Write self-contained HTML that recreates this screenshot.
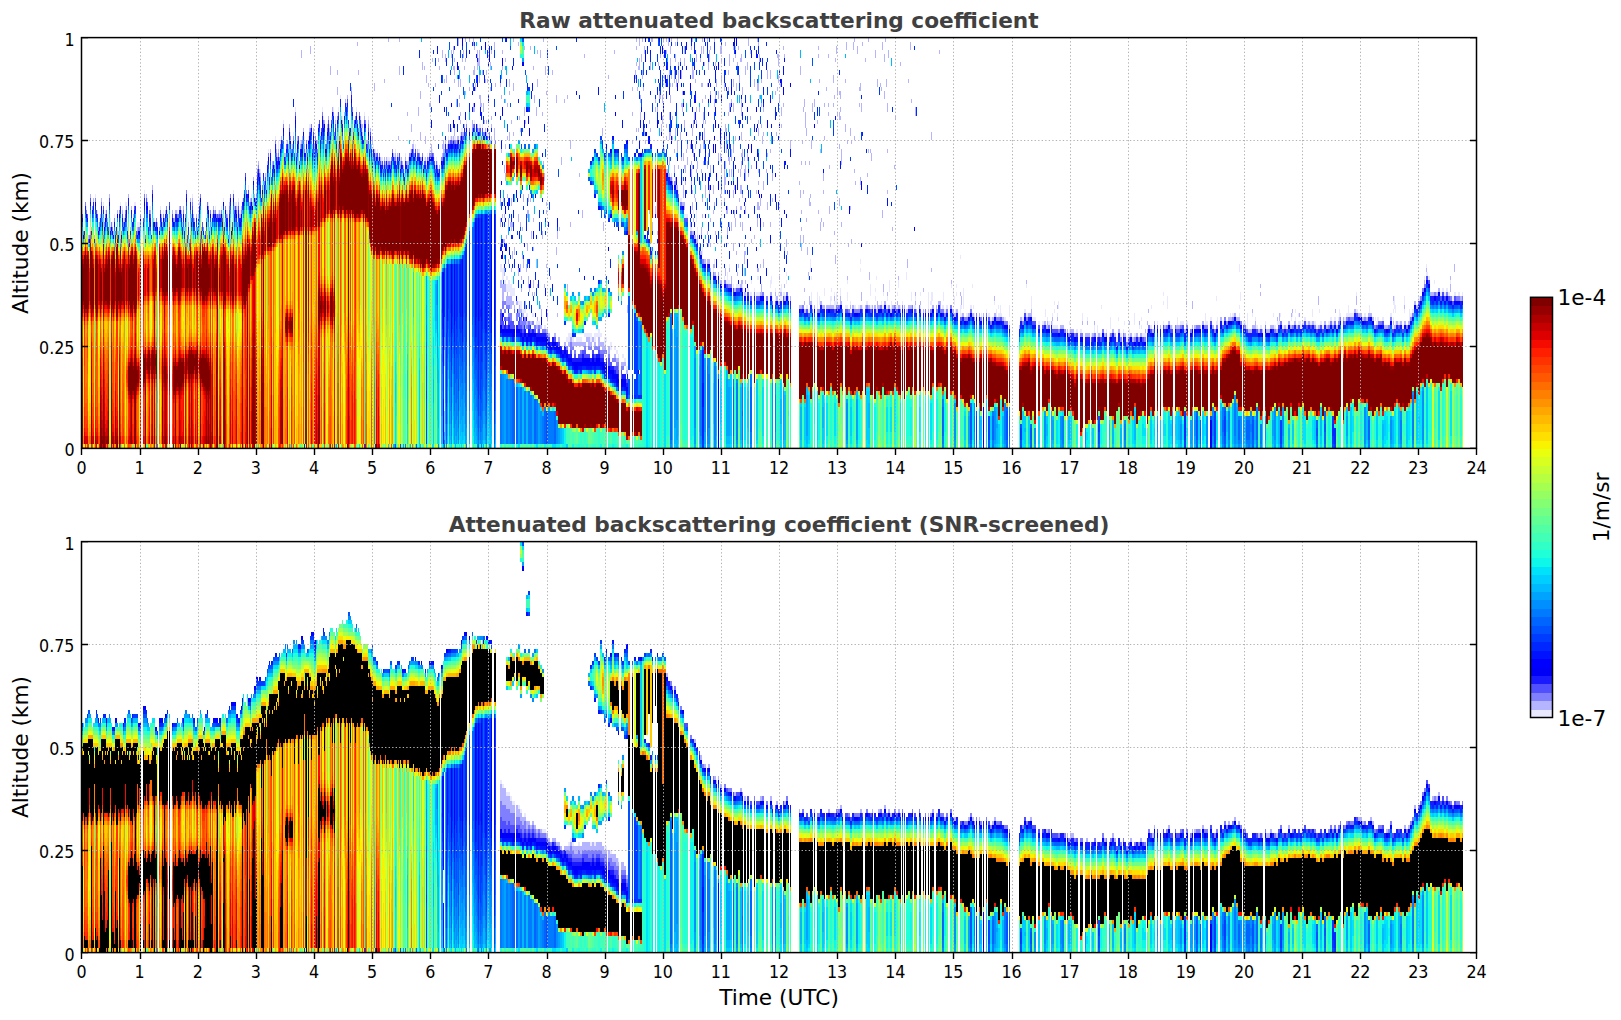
<!DOCTYPE html>
<html><head><meta charset="utf-8"><title>Attenuated backscattering coefficient</title>
<style>html,body{margin:0;padding:0;background:#fff}svg{display:block}</style></head>
<body>
<svg width="1621" height="1020" viewBox="0 0 1621 1020">
<rect width="1621" height="1020" fill="#fff"/>
<g transform="translate(82.5 37.600) scale(1 4.1080)" fill="none" stroke-width="1.02" shape-rendering="crispEdges">
<path stroke="#e8e8ff" d="M0 42v1m1 3v1m1-1v1m2-6v1m3 4v2m6-10v1m2 3v1m1 2v1m1-2v1m3-3v1m1-3v1m1 3v1m1-3v1m1-2v1m2 3v1m2-2v2m2-1v1m2-3v1m1 2v1m1-2v1m3-5v1m1-2v1m1 5v1m1-6v1m1 2v1m2-5v2m1-2v1m1 4v1m2 2v1m5-9v1m1-1v1m1 5v1m1-2v1m1-1v1m1-1v1m5-9v1m1 9v1m2-9v1m1 5v1m1-5v1m1-1v1m1 5v1m3-4v1m6-4v1m3 0v1m4-1v1m10-1v1m5 1v1m2 0v1m3 1v1m1-4v1m4-7v1m3 7v1m3-5v1m1-4v1m9 0v1m3 3v1m4-4v1m3 0v1m2-1v1m1-2v1m2-3v1m3 2v1m1-1v1m1 4v1m1-9v1m2 5v1m1-2v1m1-8v1m1 2v1m1-1v1m1-1v1m1 0v4m1-6v1m1 2v1m1-1v1m2-4v1m1-2v1m1-3v1m4-1v1m3 1v1m5-2v1m1-7v1m3 0v1m1 5v1m1-4v1m2-2v1m2-2v3m2-9v1m3 5v1m3-4v1m1-7v1m1 1v1m1 1v1m1-4v2m2-2v1m3-6v1m3 4v1m4-3v1m1 2v1m2-4v1m1 3v1m1-11v1m1 9v1m4-3v1m4-2v2m1 1v1m2-2v1m1-3v1m1-4v1m1-1v1m5 1v1m2 2v1m3-4v1m2-7v1m1 1v1m3 4v1m3-4v1m1 0v1m1-4v1m2-3v1m2 1v1m1 2v2m1-6v1m1-2v1m1 5v1m1-10v1m2 4v1m1 4v1m6-4v1m1-1v1m6-5v1m5 2v1m1 1v1m1 1v1m1-7v1m4 0v1m1 5v1m3 1v1m1-2v1m2 0v1m2-1v1m4 1v1m1-1v1m5-1v1m1-1v1m1-1v1m5-2v1m1-2v1m1 1v1m2-2v1m2 0v1m4 2v1m1-5v1m3 0v1m2-3v1m3-3v1m2 0v1m3 0v1m1-1v1m5 1v1m2 0v1m1-3v1m2-2v1m3-1v1m2 1v1m2-1v1m1 0v1m7 49v11m0-65v1m2-1v1m2-3v1m2-1v1m2-1v1m2-1v1m1-1v1m4 0v1m1-3v1m1-2v1m1-1v1m3-1v1m1-3v1m8-1v1m1 1v1m4-2v1m1-1v1m1 1v1m1-3v1m5 1v1m1 1v1m6-1v1m6 29v2m1-2v2m1-1v3m1-3v3m1 0v1m1-1v1m1 0v2m0-4v1m1 1v2m0-4v1m1 0v3m1-3v3m1-2v3m1-3v3m1-2v2m1-2v2m1-2v2m4 1v1m1-1v1m1-1v2m1-2v2m1 0v1m1-1v1m1-1v1m1-1v1m1 0v1m1-1v1m5-1v1m1-1v1m3 1v1m1-1v1m1-1v1m1-1v1m5 0v1m1-1v1m21 2v1m1-1v1m3-2v1m1-1v1m5 0v1m1-1v1m1-1v1m1-1v1m5-2v1m1-1v1m13-2v2m1-2v2m1-1v1m1-1v1m3 0v2m1-2v2m1-2v1m4 0v2m1-2v2m3-1v1m1-1v1m3 1v1m4-1v1m1-1v1m3 2v1m1-1v1m42-50v1m2 1v1m1 0v1m6 2v1m2 1v1m1-1v1m1-6v2m2 7v1m1-1v1m1-1v1m1-1v1m3 2v1m1-1v1m2-5v1m3-1v3m1 1v2m2 2v1m3 0v2m11 3v1m1-3v1m7 2v1m3 0v1m2 0v1m1-3v3m1-1v1m1-1v1m0-5v1m4 4v1m3-1v1m1-1v1m1-1v1m1-1v1m3-1v1m5 0v1m1-1v1m2 0v1m1-1v1m0-4v1m3 1v1m2 0v1m1-1v1m0-5v1m1 3v1m0-5v1m1 3v1m11-4v2m1-3v2m1 3v1m3-1v1m0-3v1m3 0v1m1-7v1m1 6v1m0-3v1m1 1v1m0-4v2m2 0v1m1-1v1m2-4v1m0-3v1m20 7v1m1-1v1m1 0v1m0-9v1m1 7v1m1-13v3m1 5v2m0-6v1m1 6v1m5-4v4m2-3v2m5-4v2m6 0v2m1-2v1m0-3v1m3 2v2m0-4v1m1 1v2m1-4v3m1-1v1m3-4v2m5 2v1m1-1v1m1-1v1m0-4v2m0-5v1m3 6v1m0-3v1m1 1v1m3-2v1m1-1v1m3-1v1m1-1v1m1-10v1m0-3v1m2 10v1m4-2v1m1-1v1m3 0v1m0-6v3m1 2v1m4-3v1m0-3v1m1-4v1m5 5v1m1 0v1m1-1v1m0-4v1m3 2v1m1-1v1m0-3v1m2-5v3m2 2v2m5-1v1m1-1v1m0-4v1m1-4v2m2 4v1m2-2v1m4-8v2m5 3v2m3 1v1m1-1v1m0-3v1m5 1v1m0-4v1m8-1v4m2-2v1m1-3v3m1-3v2m10 1v1m1-1v1m0-4v2m8-4v1m2 0v2m1 0v2m1 1v1m1-5v1m0-3v1m4 4v3m0-15v1m1 13v1m0-3v1m2-5v5m9-6v1m1 4v1m1 1v1m7-1v1m5-2v1m8-3v1m2 1v2m2-1v1m0-3v1m1 1v1m1-3v3m1-1v1m8 1v1m0-5v3m17-1v1m0-8v1m1 6v1m4-5v3m14 0v2m2 0v1m5 0v2m0-4v1m1 2v1m1-1v1m0-5v1m0-3v1m1 5v1m1-1v1m1-1v1m0-4v1m1-4v2m11 5v1m0-3v1m13-3v2m5-1v1m4 3v1m3-3v2m3-2v3m3-1v1m1-1v1m0-8v1m5 5v1m3 0v1m1-5v3m8-3v1m5 2v1m1-3v1m4 2v1m1-2v2m5-1v1m0-6v3m1 2v1m4-3v1m2-1v1m0-3v1m3 3v1m1-1v1m5-3v1m1-1v1m0-6v1m6 3v1m6-1v1m0-6v1m0-3v1m4 0v3m5 4v1m5-3v2m9-1v1m0-11v4m1 6v1m18-3v3m11-1v1m0-7v1m1 4v2m13-3v1m9-1v1m0-3v1m0-11v2m1 5v2m3 5v1m3 0v1m1-4v4m5-4v1m3 0v1m5 1v1m1-1v1m4-2v1m8-3v1m4 1v1m1-1v1m1-1v1m1-3v1m11 0v1m1-2v1m3 0v1m0-3v1m3 2v1m0-3v1m1 1v1m1-1v2m1-1v1m11-5v2m7-2v1m15 1v1m1-1v1m3-1v1m1-3v2m1-1v1m8-3v3m1-1v1m7-2v1m0-5v1m1 3v1m12-2v2m6 1v1m1 0v1m1-2v2m1-2v1m14 1v1m1-1v1m0-3v1m0-3v1m0-3v1m1-2v3m1 3v1m0-5v2m9-1v1m0-4v2m5 1v3m15-11v1m2-2v1m0-3v1m1 1v1m7 1v1m16-1v1m4 2v1m1-1v1m7-1v1"/>
<path stroke="#b4b4ff" d="M6 48v1m2-11v1m1 7v1m2-8v1m1 8v1m6-6v1m1-5v1m1 3v1m5 0v1m2-7v1m4 8v1m4-6v1m1 4v1m4-6v1m2 1v1m3 1v1m1-9v1m2 7v1m1-6v1m2 1v1m4 2v1m9-9v1m4 3v1m2-7v1m1 7v1m4 0v1m4-3v1m1 1v1m3-4v1m7-1v1m2 1v1m1-3v1m1-1v1m3-2v1m2 0v1m1 2v1m1-5v1m1 4v1m4-2v1m1 3v1m1-11v1m1 3v1m1-5v1m1 3v1m1 0v1m2-2v1m2-1v1m1-4v1m2 5v1m8-1v1m2-2v1m1-3v1m1-3v1m1 0v1m5-1v1m3 0v1m2 1v1m3-3v1m2-4v1m2 5v1m3-6v1m2-1v1m2-2v1m1 2v1m1-1v1m1-3v1m8-2v1m1-2v1m2 0v1m1-7v1m1 3v1m4-9v1m1 1v1m1 0v1m5-1v1m1 2v1m1-7v1m2 2v1m1-7v1m2 2v1m4-4v1m2-1v1m3-4v1m3 3v1m1-1v1m2-4v1m1 0v1m1-6v1m3 4v1m5-3v1m3 1v1m1-2v1m0-23v2m1 19v1m1-3v1m1 3v1m3 0v1m2-6v1m1-21v2m2 22v1m1-5v1m1 3v1m3-2v1m7-6v1m2 4v1m1-5v1m1-3v1m1 2v1m1-16v2m2 8v1m3 2v1m1 3v1m1-13v2m0-6v1m4 10v1m1 0v1m2-3v1m1-4v1m1 0v1m1-3v1m4-3v1m2 9v1m4-22v1m1 6v1m2 10v1m1 1v1m1 1v1m0-3v1m2-3v1m2 5v1m1-1v1m1-6v1m1 5v1m1-5v1m1 3v1m1 1v1m0-5v2m2 1v1m0-17v2m1 15v1m3 0v1m2-1v1m1 0v1m2 0v1m1-3v1m0-20v1m1 19v1m1-2v1m1 0v1m1-31v1m2 29v1m3-3v1m2-1v1m1 1v1m1-3v1m1-5v1m1-18v2m0-9v1m1 29v1m1-2v1m1 0v1m1 0v1m1 1v1m1-5v1m2 0v1m0-13v1m1 11v1m3-10v2m1 3v1m1-1v1m3 2v1m1-3v1m1-11v2m2 4v2m0-12v2m1 14v1m1-24v2m2-1v1m1 21v1m0-6v2m1 5v1m0-23v2m2 18v1m0-19v1m1 4v1m1-1v1m1 9v2m1-23v1m1 18v1m2 6v1m0-21v1m3-7v1m1 25v1m0-25v1m3 20v1m0-3v1m0-24v2m1 20v3m1 63v5m0-20v4m0-53v1m0-18v1m1 14v1m0-22v2m1 3v2m1 15v1m1-6v2m1 2v1m2-2v1m0-3v1m0-20v2m2 19v1m0-18v1m0-6v2m1 18v2m0-14v1m0-4v2m0-4v1m2 19v1m0-11v2m1 7v1m1-1v1m0-6v1m0-10v2m0-12v2m1 14v1m0-3v1m1 5v1m0-3v1m0-9v2m2 11v1m0-19v1m1 17v1m0-21v2m1 16v1m0-15v1m1 5v1m0-9v1m0-6v1m4 11v1m0-13v1m3 19v2m0-11v1m1 4v2m0-10v1m0-9v2m1 15v1m0-11v2m0-7v1m1 8v2m1 10v1m1-3v1m0-16v2m0-5v2m1 17v1m0-18v2m1 7v1m0-6v2m0-8v4m1 7v3m1-1v1m1-9v1m1 7v2m1 2v1m1 1v1m0-13v1m1 12v1m0-4v1m0-13v1m1 1v1m3 14v1m0-14v1m0-7v2m1 16v1m0-4v1m0-3v1m0-17v1m3 18v3m0-24v2m1 8v1m5 47v2m0-11v1m0-7v2m0-7v2m0-30v1m1 47v2m0-34v1m0-14v1m1 45v4m0-21v1m0-37v1m0-5v1m1 56v4m0-15v1m0-11v1m1 20v2m0-6v2m0-9v1m0-7v1m0-13v2m1 27v2m0-29v2m0-9v1m0-12v1m0-11v1m1 57v2m0-17v1m1 13v3m0-27v1m0-15v1m0-9v1m1 46v2m0-11v1m0-11v2m1 17v2m0-42v2m0-12v1m0-4v2m1 51v3m0-21v1m1 17v3m0-10v1m0-12v2m0-8v2m0-21v1m1 43v1m0-13v2m0-9v1m1 18v1m0-42v1m0-13v2m0-13v1m1 64v1m0-15v2m2 11v1m1-1v1m1 1v1m0-11v2m0-15v2m0-44v1m1 63v2m0-48v1m1 46v1m0-12v2m0-12v1m0-24v1m1 43v1m0-6v1m0-4v1m1 8v1m0-15v1m0-8v1m1 20v1m0-14v2m0-18v2m1-23v2m0-17v1m1 67v1m0-7v2m0-46v1m1 48v1m0-15v2m1 12v1m0-20v2m0-10v2m1 14v3m0-19v1m0-5v2m1 21v1m0-19v2m1 24v1m0-31v1m0-38v1m1 66v1m0-23v2m1 13v1m1-4v2m0-10v1m0-8v1m0-38v1m1 54v1m0-49v2m2 54v1m0-17v2m0-39v2m1 51v2m0-4v1m0-9v1m0-51v2m0-9v1m3 66v1m0-6v1m0-63v2m1 65v1m0-5v2m1-21v2m0-31v1m1 11v1m0-31v1m1 59v1m0-28v2m1-28v2m1 62v1m0-17v1m0-14v1m0-3v1m0-28v1m1 57v1m0-5v2m1 3v1m1-1v1m1-15v1m2-51v1m4 42v2m0-39v2m1 51v1m0-21v2m1 24v1m1-1v1m0-28v1m2-18v2m3 43v1m0-60v1m1 58v1m2-15v2m0-48v1m3 58v1m0-29v1m0-21v2m1 46v1m5 0v1m1-1v1m1-1v1m1-1v1m0-42v1m3 40v1m0-33v2m1 30v1m1-1v1m0-71v1m1 69v1m7-2v1m1-1v1m5-1v2m1-2v2m1-1v1m1-1v1m1-1v2m0-54v2m1 50v2m0-31v2m1 28v1m1-1v1m3-1v2m0-68v1m1 65v2m5 0v1m0-75v1m1 73v1m3 0v1m3 0v1m1-1v1m1-1v1m3 1v1m1-1v1m0-17v2m5-42v1m0-8v1m0-7v1m3-5v2m1 12v1m0-17v1m0-5v1m0-3v1m1 11v1m1 9v1m0-16v1m1-3v3m0-8v2m1 16v2m0-6v2m1-12v2m1 2v2m0-10v1m1 11v1m1 9v2m0-22v2m1 21v1m4 16v1m0-23v1m1 1v1m0-17v2m1 43v1m0-52v1m1 44v2m0-47v1m3 40v2m0-26v1m0-3v1m2 31v1m0-31v1m1-12v1m1 6v2m1-1v1m0-11v1m1 16v2m1-4v2m0-7v2m1-16v1m1 26v1m0-19v1m1 1v1m1 20v1m0-9v1m0-4v1m0-19v1m0-4v1m1 31v1m0-24v1m1 23v1m0-34v2m1 31v1m0-5v2m0-8v2m0-7v2m0-12v1m1 14v1m0-10v2m0-5v1m0-7v2m0-5v2m1 5v1m0-10v1m1 23v1m0-6v1m0-9v1m2 19v2m0-6v1m0-20v3m1 23v1m0-13v2m0-20v2m0-5v1m1 34v1m0-27v2m1 24v1m0-12v3m0-28v1m1 30v1m0-24v3m0-5v1m2 16v2m0-20v1m1 23v1m0-14v1m0-9v2m1 30v1m0-25v2m0-5v1m1 26v1m0-5v3m0-11v2m1 10v2m0-11v1m0-12v2m0-17v2m0-5v2m1 31v1m0-5v2m1-6v1m1 1v2m0-5v1m3 18v1m0-20v1m1 8v1m0-4v2m0-4v1m0-29v1m1 44v1m0-8v2m0-5v1m0-7v1m0-10v2m0-17v3m0-10v1m1 46v1m0-4v1m0-18v2m0-9v2m0-14v2m1 38v1m0-11v1m0-21v2m1 28v1m0-10v1m0-14v1m0-17v1m1 38v1m0-18v1m0-13v1m0-4v1m0-14v2m1 42v2m0-20v2m2-15v1m1 34v1m0-27v2m0-4v1m0-20v1m1 46v1m0-7v2m0-16v1m0-22v1m0-10v2m1 39v1m0-5v1m0-25v1m0-5v1m0-12v1m1 29v1m0-6v2m0-9v3m0-19v2m1 50v1m0-33v3m0-19v1m1 47v1m0-19v3m0-19v1m0-7v1m2 39v1m0-8v1m0-18v2m0-21v1m0-12v1m1 53v1m0-5v1m0-23v1m0-23v2m1 46v1m0-6v1m0-14v2m0-35v3m1 50v1m0-7v1m0-7v1m0-14v2m0-20v1m0-12v1m3 52v1m0-14v1m0-7v2m1 19v1m0-3v1m0-16v1m0-26v2m0-17v1m1 56v1m0-11v1m0-35v2m0-9v1m1 51v1m0-49v2m2 45v1m0-30v2m0-17v2m2 44v1m0-22v1m0-11v2m0-4v1m0-25v2m1 55v1m0-20v1m0-4v1m0-7v2m0-24v2m0-6v1m0-4v2m3 35v1m0-8v6m0-27v2m1 43v2m0-24v2m0-6v2m0-11v2m0-22v1m1 40v1m0-17v2m0-4v1m0-3v1m1 23v2m0-7v2m0-18v1m1 3v1m0-12v1m0-7v1m0-5v1m1 47v1m0-12v1m0-14v2m0-5v2m0-15v2m0-14v3m1 9v1m1 41v2m0-15v2m0-15v2m0-7v3m0-15v1m2 34v2m0-15v2m0-13v2m0-12v2m0-8v2m0-7v1m0-4v1m1 58v1m0-20v2m0-8v1m1 24v1m0-18v2m0-22v1m0-21v1m0-3v1m1 49v1m0-12v1m0-31v2m1 44v1m0-52v1m1 48v1m0-24v1m0-31v1m1 40v1m0-5v1m0-31v2m1 49v1m0-16v1m0-5v1m0-6v2m0-6v2m0-29v1m1 53v2m0-20v1m0-6v2m0-8v2m0-4v1m0-6v2m0-10v4m0-15v2m1 53v1m0-15v2m0-9v1m0-12v2m0-17v2m2 48v1m0-7v2m0-6v3m0-5v1m0-19v1m0-4v1m1 32v1m0-4v1m0-8v1m0-12v2m0-12v4m0-28v2m2 19v2m0-24v2m1 25v1m0-34v2m2 17v1m0-17v1m1 45v1m0-19v1m3 16v1m0-39v2m2 25v1m1 18v1m0-13v2m0-6v2m0-31v2m0-13v1m1 55v1m0-17v2m0-7v1m0-4v1m0-11v2m0-4v1m0-10v2m0-12v1m1 39v1m0-28v1m0-11v2m1 56v1m0-8v1m0-17v2m1 19v3m0-42v1m0-6v1m0-7v1m1 13v2m1 28v2m0-11v1m0-11v2m0-14v1m0-7v1m3 14v1m1 7v2m0-14v1m0-21v2m3 52v1m0-18v1m0-19v1m0-20v2m1 52v1m1-24v1m0-7v2m3 27v1m0-50v1m1 49v1m0-41v1m1 39v1m0-52v1m0-9v1m1 59v1m0-56v2m0-7v3m1 57v1m0-7v1m0-45v2m1 46v1m0-52v1m1 50v1m0-42v1m0-5v2m2-3v1m0-15v1m1 60v1m0-4v1m0-10v1m0-48v1m1 58v1m1-15v2m1 1v1m1 10v1m2-1v1m0-39v2m9 38v1m0-31v1m1 29v1m0-18v2m0-13v2m0-32v2m1 56v1m0-16v2m0-6v1m0-5v1m0-13v1m1-6v1m1 22v2m0-13v1m0-21v1m1 48v1m0-3v1m0-4v1m0-47v2m1 49v1m0-37v1m0-13v4m1 22v1m0-23v2m1 27v2m1 4v1m1 5v2m0-26v2m0-11v1m1 33v1m0-25v1m0-3v1m1 25v1m0-40v2m1-11v2m2 47v1m0-51v2m3 3v1m1 21v1m0-39v1m0-3v1m1 7v1m1 53v1m0-20v2m0-20v1m1 36v1m0-21v1m1 20v1m1-1v1m0-21v1m0-9v1m0-5v2m1 30v1m0-42v1m0-9v1m2 48v1m0-54v1m1 52v1m1-1v1m0-48v1m0-3v1m0-13v1m1 60v1m0-25v2m0-12v1m1 33v1m0-16v1m1 14v1m1-1v1m1-1v1m0-50v1m0-8v2m1 52v1m0-17v1m0-34v1m1 38v2m0-50v1m1-4v2m1 14v1m0-7v2m2 25v2m0-15v1m0-9v2m0-7v1m1 49v2m0-46v1m0-3v1m0-5v2m1 49v1m0-20v1m0-19v4m4-10v2m0-13v1m1-10v2m1 55v1m0-34v1m1 24v1m2 14v1m0-25v1m0-20v2m1 25v1m0-25v1m1 39v1m1-1v1m0-65v2m1 29v1m0-9v1m0-25v1m1 34v1m2-34v2m2 12v1m0-5v1m1 52v1m0-32v2m0-25v2m1 52v1m0-4v2m0-48v2m1-17v1m3 63v1m0-61v1m2 27v1m1 31v1m0-39v1m0-28v1m1 64v1m0-9v2m1-32v1m1 0v2m1 35v1m2-1v1m1-1v1m0-63v2m1 61v1m1-3v3m0-57v2m1 53v1m1-1v1m1-55v1m1 0v1m1 29v2m0-43v2m1 57v2m1 2v1m0-52v2m0-11v2m1 58v1m0-65v1m1 9v2m1 50v1m0-26v1m0-11v1m0-12v2m1 47v1m0-63v2m1 60v1m1 0v1m1-1v1m1-2v1m0-20v1m1 18v1m1-35v1m1-13v1m2 44v1m1 0v1m0-8v1m1 6v1m1-60v1m4 58v1m2 0v1m1-1v1m0-13v2m1 9v1m0-56v1m1 54v1m1-1v1m0-65v2m1 62v1m0-51v1m4 48v1m0-3v1m0-46v2m1 47v1m4-3v1m3 1v1m0-6v1m5 4v1m3-11v1m0-34v2m1 40v1m1-1v1m3-1v1m2-2v1m1-1v1m0-62v1m1 60v2m11-7v1m1 6v1m1-1v1m1 0v1m1-1v1m1-2v1m1-1v1m3-5v1m1 0v2m1 2v1m1-1v1m9-1v1m1-1v1m6-1v1m4-1v1m11-1v1m0-5v1m1 3v1m24 2v1m7-12v1m4 7v1m1-2v2m13 1v1m1-1v1m1 0v1m1-2v2m4-2v1m1-2v1m5-1v1m0-4v1m10 5v1m15-3v1m3 2v1m1-1v1m1-1v1m0-4v1m7-1v1m24 1v1m1-1v1m5 0v1m1-1v1m4-4v1m10-1v1m1 2v1m1-1v1m4-2v1m2-1v1m0-3v1m1-4v1m6 2v1m6 0v1m16-1v1m1-1v1m9-7v1m6 5v1m0-7v2m8 4v1m30-3v1m1-1v1m7-1v1m1-1v1m13 1v1m0-5v1m1 3v1m1-1v1m1-2v2m5-9v1m0-3v1m2 10v1m10-2v1m1-1v1m3 0v1m1-1v1m0-4v1m2-2v2m11 1v1m1-1v1m0-4v1m1-2v1m2 2v1m1-1v1m4-3v1m13 1v1m1-1v1m5 0v1m0-8v2m1 5v1m16-5v1m4 1v1m4-1v1m13-6v2m12 2v1m1-1v1m24 1v1m0-7v1m1 6v1m1-1v1m9-2v1m0-5v1m1 3v1m3-1v1m1-1v1m15-11v1m2-4v1m24 3v2m0-4v1m4-4v2"/>
<path stroke="#8080ff" d="M1 47v1m2-8v1m1 1v1m3 5v1m3-8v1m3-3v1m3 6v1m1-2v1m2-6v1m1 3v1m2 0v1m1-3v1m1-2v1m4 3v1m1-2v1m1 0v1m2-3v1m1 2v1m4-6v1m2 4v1m2-3v1m2-4v1m1-2v1m3 7v1m8-3v1m1-2v1m1-1v1m1-4v1m4-6v1m1 9v1m4-7v1m6 2v1m1-2v1m3 1v1m1-5v1m3 0v1m1 0v1m2-4v1m7 2v1m4-2v1m1-1v1m2-3v1m3 0v1m2 0v1m1-7v1m6 2v1m5 5v1m3-9v1m3 7v1m1 1v1m1-2v1m1-4v1m1-5v1m1 0v1m2 0v1m5-1v1m1 0v1m2-1v1m2-1v1m1-2v1m4-2v1m1 1v1m2 4v1m1-8v1m1-4v1m7 6v1m4-4v1m5-6v1m5 1v1m4-1v1m1-2v1m1-7v1m1-2v1m2 2v1m2 1v1m2-2v1m4-8v1m4 2v1m1-2v1m1 0v1m1-7v1m1 2v1m1 0v1m1-2v1m1 0v1m1-4v1m3-6v1m5 5v1m2-4v1m1 2v1m2-4v1m2-7v1m1 9v1m3 1v1m3-6v1m2 1v1m2-3v1m4-4v1m1-2v1m4 2v1m1 0v1m1 1v1m1-7v1m2 2v1m2-7v1m1 1v1m2 5v1m4-4v1m4-6v1m1 4v1m3-5v1m2 4v1m4 0v1m8-13v1m1 3v1m3 1v1m2 0v1m1 1v1m1-5v1m6 1v1m3 0v1m4 7v1m3-1v1m1-2v1m3-1v1m6 2v1m3-2v1m1-1v1m2-2v1m1-3v1m2 1v1m1-1v1m3-1v1m2 1v1m6-2v1m1 0v1m2-4v1m1-1v1m1-2v1m2-1v1m1 0v1m5-1v1m1 0v1m2-2v1m1 2v1m4-3v1m2-2v1m1-1v1m1-1v1m2-1v1m3 1v1m1 0v1m1 0v1m3-4v1m1-1v1m1-2v1m1 67v2m0-25v3m0-48v1m4-4v1m4-1v1m2-1v1m1-1v1m4 0v1m1-3v1m1-2v1m5-3v1m3 0v1m3-1v1m1-2v1m2 1v1m4-2v1m2 1v1m2-2v1m1-1v1m5-1v1m5 2v1m1-2v1m5 40v1m1-1v1m1-3v2m1-2v2m1 0v1m0-3v1m1 1v1m0-3v1m1 3v1m0-4v1m1 2v1m0-4v1m1 1v1m0-3v1m1 1v1m0-3v1m1 1v2m1-2v2m3-3v1m2 0v2m1-2v2m1-2v1m1-1v1m1 0v2m1-2v2m1-1v2m1-2v2m1-3v2m1-2v2m1 0v1m1-1v1m1-2v1m1-1v1m3-1v1m1-1v1m1 0v1m1-1v1m3-1v1m1-1v1m3 0v1m1-1v1m1-1v1m1-1v1m21 3v1m1-1v1m3-2v2m1-2v2m13-1v1m1-1v1m13-1v1m1-1v1m1 0v1m1-1v1m1-1v1m1-1v1m1-1v1m1-1v1m1-1v1m2 0v1m1-1v1m5 0v1m1-1v1m3 0v2m3-1v1m1-1v1m1-1v1m47-47v1m1-1v1m1 0v1m2-1v1m1-1v1m3 2v1m2 1v1m1-1v1m9 6v1m1-1v1m11 6v1m1-1v1m10 2v1m11 1v1m1-1v1m3 0v1m1-1v1m1-1v1m1-1v1m11 0v1m12 0v1m8-1v1m1-1v1m3 0v1m1-1v1m5 0v1m14-3v1m1-1v1m15 2v1m1-1v1m9 0v1m5-1v1m1-1v1m1-1v1m17-2v1m1-1v1m1-1v1m1-1v1m3 0v1m6-1v1m1-1v1m5-1v1m1-1v1m1-1v1m1-1v1m1-1v1m1-1v1m7-2v1m1-1v1m13-1v1m1-1v1m13-1v1m1-1v1m5 0v1m2-2v1m10-1v1m7-1v1m6 0v1m5-1v1m1-1v1m5-1v1m1-1v1m3-1v1m1-1v1m1-1v1m1-1v1m7-2v1m1-1v1m23 2v1m2-2v1m4 0v1m1-1v1m5-2v1m10 0v1m1-1v1m1-1v1m1-1v1m10 1v1m17-3v1m1-1v1m31 2v1m1-1v1m9 0v1m1-1v1m13-1v1m12-1v1m1-1v1m11-1v1m4-1v1m1-1v1m12-1v1m11 0v1m1-1v1m3-1v1m1-1v1m5-1v1m1-1v1m3-4v1m1-1v1m17-1v1m1-1v1m8-1v1m11-1v1m1-1v1m17-1v1m1-1v1m11-1v1m1-1v1m23-2v1m1-1v1m24 0v1m15-2v1m1-1v1m11 0v1m1-1v1m41-2v1m1-1v1m3-1v1m1-1v1m1-2v1m34 1v1m1-1v1m3-2v1m1-1v1m45-10v1m1-1v1m9 1v1m1-1v1m15 0v1m1-1v1m11-1v1"/>
<path stroke="#5050ff" d="M0 43v1m5-1v1m1 5v1m2-11v1m6 2v1m1 0v1m6-3v1m4 3v1m1 0v1m1-8v1m13 3v1m3-1v1m9-3v1m2 5v1m7-4v1m3-6v1m1 0v1m3 2v1m2-7v1m9 6v1m6-2v1m2-4v1m3 2v1m9-1v1m6 4v1m2 1v1m2-7v1m1-4v1m1 2v1m2 2v1m7-3v1m7 1v1m4-6v1m4 0v1m2-1v1m3 0v1m7-3v1m3 2v1m1-8v1m1 3v1m1-2v1m1 0v1m2-2v1m5-3v1m1-3v1m1-5v1m3 3v1m2 2v1m7-8v1m2-1v1m1 1v1m5-2v1m6-1v1m11-10v1m3 3v1m1-4v1m3-5v1m3 4v1m2 0v1m3-4v1m1-2v1m3 1v1m6 1v1m2-6v1m3 3v1m1-5v1m1 3v1m5-8v1m2 1v1m2-2v1m3 4v1m1-5v1m1-3v1m1 3v1m1-2v1m1-4v1m4 0v1m1 3v1m2-8v1m9-4v1m2 6v1m4 0v1m1-4v1m2-3v1m4 1v1m1 1v1m3-3v1m3 5v1m1-5v1m2 0v1m7 4v1m3 1v1m2-1v1m1 1v1m1-3v1m3 0v1m3-1v1m9-4v1m2 1v1m2 1v1m5-2v1m5-4v1m2-2v1m2 0v1m1-1v1m6 1v1m1-1v1m1 1v1m6-5v1m2 1v1m1 1v1m9 65v1m0-31v5m2-46v1m1-1v1m3-3v1m1-1v1m6-1v1m5-2v1m1-1v1m2-2v1m9-3v1m3 0v1m3-1v1m2-1v1m5 1v1m1 1v1m12 40v3m1-3v3m1-1v2m1-2v2m1-3v1m1-1v1m1 1v1m1-1v1m1-3v2m1-2v2m1-1v2m1-2v2m1-2v2m1-2v2m1-1v1m4-2v2m1-2v2m1-1v1m1-1v1m1 0v1m1-1v1m5-2v1m1-1v1m1 0v1m1-1v1m3-1v1m1-1v1m3-1v1m1-1v1m7 0v1m1-1v1m1 0v1m1-1v1m9 0v1m1-1v1m11 1v1m1-1v1m7 0v1m1-1v1m3-2v1m1-1v1m1-1v2m1-2v2m7-2v1m1-1v1m5-1v1m1-1v1m1 0v1m1-1v1m1-1v1m1-1v1m3 0v1m2-1v2m1-2v2m1-1v1m1-1v1m3 0v1m1-1v1m3 0v1m3-1v2m5 0v1m1-1v1m57-40v1m1-1v1m1-1v1m1-1v1m12 6v1m27 8v1m1-1v1m6 0v1m3-1v1m1-1v1m1-1v1m1-1v1m8 0v1m1-1v1m2 0v1m1-1v1m5-1v1m1-1v1m1-1v1m1-1v1m16 0v1m8-2v1m23 2v1m1-1v1m1 0v1m1-1v1m25-2v1m1-1v1m10-1v1m1-1v1m1-1v1m3 0v1m1-1v1m11-2v1m8-1v1m1-1v1m11-1v1m1-1v1m3-1v1m1-1v1m9-1v1m1-1v1m17-1v1m1-1v1m5-1v1m40 1v1m1-1v1m39-1v1m1-1v1m51 2v1m1-1v1m1-1v1m1-1v1m1-1v1m1-1v1m34 1v1m6-1v1m3-1v1m1-1v1m8-1v1m19-1v1m1-1v1m21-3v1m1-1v1m6-2v1m6-1v1m9 0v1m4-1v1m1-1v1m66-2v1m3 0v1m1-1v1m13-1v1m1-1v1m17-2v1m1-1v1m19-1v1m1-1v1m44-2v1m5-2v1m1-1v1m7-2v1m1-1v1m19 2v1m1-1v1m15 0v1m1-1v1m33-14v1m1-1v1m27 4v1m1-1v1"/>
<path stroke="#1a1aff" d="M2 47v1m1-7v1m6 5v1m2-8v1m7 3v1m15 3v1m1-3v1m2 1v1m2-8v1m4 3v1m3 1v1m1-9v1m2 7v1m1-6v1m1 2v1m1-2v1m2-4v1m9-3v1m2 0v1m2 5v1m1-4v1m1 0v1m3 0v1m3-1v1m6 0v1m3-4v1m9 1v1m1-3v1m1-1v1m3-2v1m3 3v1m2 0v1m2-10v1m2 7v1m2-7v1m2 1v1m2 2v1m2-2v1m2-1v1m1-4v1m2 5v1m10-2v1m1-3v1m2-2v1m10 2v1m2-3v1m1-1v1m2-2v1m5-1v1m4-2v1m1 1v1m1-1v1m2-5v1m5-3v1m2 2v1m7-3v1m1-6v1m1-3v1m2 3v1m1 2v1m2-7v1m1 2v1m3-6v1m2 2v1m1-7v1m2 3v1m3-7v1m1 2v1m1 0v1m1-2v1m3-5v1m3 3v1m3-4v1m1 1v1m7-10v1m1 9v1m4-3v1m2-2v1m3 1v1m5-6v1m7 4v1m3-4v1m2-7v1m6 1v1m5-3v1m2 2v1m5-8v1m2 5v1m3-6v1m1 0v1m2 2v1m2 1v1m1-9v1m11 9v1m1 0v1m3 0v1m3 0v1m2-1v1m1 2v1m1-4v1m1 0v1m1 1v1m3-1v1m3 0v1m4 0v1m1-3v1m2 0v1m3-2v1m2-2v1m1 0v1m1-1v1m1 0v1m1-3v1m1 0v1m4 0v1m2 2v1m1-5v1m7-4v1m4 2v1m5-1v1m7-1v1m5-2v1m4 2v1m2-1v1m3-3v1m1 49v8m0-59v1m1 26v12m0-39v1m1-4v1m4-1v1m4-2v1m1 0v1m2-1v1m4-2v1m4-4v1m40 47v1m1-1v1m3-1v1m1-1v1m7-1v1m1-1v1m3 0v1m1-1v1m1 0v1m1-1v1m1-2v1m1-1v1m1 0v1m1-1v1m1-2v1m1-1v1m3-1v1m1-1v1m3 0v1m1-1v1m1-1v1m1-1v1m1-1v1m1-1v1m1-1v1m1-1v1m1-1v1m1-1v1m5 1v1m1-1v1m1-2v1m1-1v1m3 0v1m1-1v1m3 0v1m1-1v1m3-1v1m1-1v1m1 0v1m1-1v1m3 0v1m1-1v1m5 0v1m1-1v1m1-1v1m1-1v1m3-2v1m1-1v1m9-1v1m1-1v1m5-1v1m1-1v1m1 0v1m1-1v1m1-1v1m1-1v1m1 0v1m1-1v1m1-1v1m4 0v1m1-1v1m3 0v1m1-1v1m3 0v1m4-1v1m1-1v1m3 1v1m1-1v1m21-36v1m1-1v1m1 2v1m0-27v1m1 25v1m0-27v1m17 7v1m1-1v1m7 2v1m1-1v1m15 10v1m1-1v1m3 1v1m1-1v1m10 4v1m3 1v1m68 7v1m1-1v1m1-2v1m1-1v1m9-1v1m10 1v1m1-1v1m3 0v1m1-1v1m5-3v1m1-1v1m9-1v1m1-1v1m1 0v1m1-1v1m1-1v1m2-1v1m1-1v1m3-1v1m1-1v1m1-1v1m1-1v1m19-1v1m1-1v1m7-1v1m1-1v1m4-1v1m3-1v1m1-1v1m3-1v1m2-1v1m1-1v1m1 0v1m1-1v1m15-2v1m1-1v1m11-1v1m2 0v1m1-1v1m1-2v1m1-1v1m1-1v1m1-1v1m5 0v1m7-1v1m15-3v1m1-1v1m13 1v1m1-1v1m3-1v1m1-1v1m5 0v1m1-1v1m20-1v1m36 2v1m25-2v1m1-1v1m6-1v1m34 2v1m1-1v1m1-1v1m31-2v1m1-1v1m5 0v1m1-1v1m22-2v1m13-2v1m92-1v1m1-1v1m1-1v1m1-1v1m17-1v1m1-1v1m21-2v1m1-1v1m5 0v1m1-1v1m11-2v1m1-1v1m5 0v1m1-1v1m49-4v1m1-1v1m25 2v1m1-1v1"/>
<path stroke="#0000f6" d="M4 43v1m6-2v1m3-3v1m3 6v1m1-2v1m2-6v1m1 3v1m2 0v1m1-3v1m1-2v1m4 3v1m3 0v1m4-6v1m2-1v1m2 4v1m5-7v1m13 4v1m8-7v1m5-4v1m2 6v1m3 0v1m3-4v1m6-2v1m11 1v1m6-2v1m14 3v1m3-9v1m6 5v1m1-5v1m1 0v1m2 0v1m6 0v1m2-1v1m2-1v1m1-2v1m2-4v1m7-2v1m1 7v1m6-2v1m4-4v1m2-4v1m3-3v1m6 2v1m1-7v1m1 3v1m3-5v1m2-2v1m9-6v1m5 1v1m1 0v1m2-3v1m3-1v1m1-4v1m3-6v1m6 0v1m2 4v1m6-3v1m2 4v1m4-9v1m5 1v1m1-2v1m4-1v1m1 3v1m1-4v1m1 0v1m6-7v1m1 1v1m1-2v1m1 5v1m1-1v1m3-3v1m3-8v1m7 6v1m2-6v1m3-2v1m13 1v1m1 1v1m6-3v1m4 1v1m12 7v1m12-4v1m8 3v1m7-1v1m2-4v1m2-2v1m8 0v1m8 0v1m9 0v1m5-2v1m2 57v6m0-22v8m5-54v1m3 28v11m0-40v1m7-2v1m3-2v1m1 29v14m7-45v1m6 21v19m3-41v1m22 46v1m1-1v1m1 0v1m1-1v1m3-1v1m1-1v1m3-1v1m1-1v1m1-1v1m1-1v1m1-1v1m2-1v1m1-1v1m1-1v1m1-1v1m3-66v1m1-1v1m5 65v1m1-1v1m1-1v1m1-1v1m3-1v1m1-1v1m1 0v1m1-1v1m5-1v1m1-1v1m3-1v1m1-1v1m1 0v1m1-1v1m3-1v1m1-1v1m3 0v1m1-1v1m1-1v1m1-1v1m1 0v1m1-1v1m3-1v1m1-1v1m1 0v1m1-1v1m9 1v1m1-1v1m5-2v1m1-1v1m1-1v1m1-1v1m7-1v1m1-1v1m5-1v1m1-1v1m3 0v1m1-1v1m1 0v1m1-1v1m1-1v1m2-1v1m1-1v1m1 0v1m1-1v1m7 1v1m0-38v1m3 36v1m1-1v1m1-1v1m17-56v1m1-1v1m25 4v1m1-1v1m15 7v1m1-1v1m11 7v1m1-1v1m5 3v1m1-1v1m3 1v1m1-1v1m3-1v1m1-1v1m5 2v1m1-1v1m3 24v15m0-40v1m2 1v1m1-1v1m9 0v1m1-1v1m3 0v1m1-1v1m5-2v1m1-1v1m19 1v1m1-1v1m9-1v1m1-1v1m5 0v1m1-1v1m9-2v1m1-1v1m1 0v1m11 1v1m29-1v1m1-1v1m11-2v1m1-1v1m37 0v1m1-1v1m5-2v1m1-1v1m3 0v1m1-1v1m9-1v1m1-1v1m13-1v1m16 0v1m4-2v1m1-1v1m21 1v1m1-1v1m17-1v1m1-1v1m3-1v1m3-1v1m4 23v5m11-29v1m1-1v1m35-1v1m1-1v1m15 2v1m1-1v1m20 0v1m15 0v1m58-1v1m1-1v1m7-3v1m1-1v1m5-2v1m12 0v1m1-1v1m8-1v1m17-1v1m8-1v1m4-1v1m1-1v1m25-3v1m1-1v1m7-1v1m1-1v1m23 2v1m14-1v1m1-1v1m3-3v1m1-1v1m9 0v1m1-1v1m113-2v1m1-1v1m3-1v1m1-1v1m15-10v1m1-1v1"/>
<path stroke="#0000ff" d="M1 48v1m6 0v1m1-10v1m19-1v1m2 5v1m11-3v1m3-1v1m13 2v1m2-4v1m4-5v1m2 0v1m9 4v1m4 0v1m2-3v1m2-2v1m1 0v1m8-2v1m1 0v1m7-4v1m5 1v1m1-6v1m7 5v1m20-3v1m2-1v1m4 0v1m6-3v1m8-4v1m2 2v1m1 0v1m3 1v1m1-1v1m4-8v1m4-1v1m2 2v1m1-2v1m4-1v1m3-8v1m4 3v1m10-5v1m5-3v1m13-7v1m3-1v1m2-6v1m1 9v1m5-4v1m1-1v1m2 0v1m3 0v1m2-5v1m2-4v1m1 5v1m6-7v1m3 0v1m6-1v1m1-2v1m5-3v1m4-1v1m5 1v1m9-8v1m1 2v1m3 1v1m1-2v1m3-1v1m1 1v1m1 1v1m8 4v1m1-5v1m6 4v1m3-1v1m8 2v1m2-2v1m1 0v1m11-2v1m2 1v1m7-5v1m4-1v1m6 0v1m2-2v1m1 2v1m6-4v1m2-1v1m1-1v1m6 3v1m5 60v3m0-40v15m0-42v1m3-3v1m5 37v6m0-56v1m1 9v1m1-7v2m1 33v15m1-44v1m2-21v2m1 1v1m1 17v1m3 40v3m0-46v1m0-26v2m4 20v1m6 0v1m2-8v1m1 47v6m0-26v1m2-34v1m1 32v25m3-25v25m2-45v1m2-2v1m0-23v2m2 19v1m1-17v1m1-3v2m2 37v25m3-25v30m6-2v1m1-1v1m0-19v1m1 13v2m0-17v2m0-37v2m0-14v2m2 64v1m0-22v1m1 20v1m0-3v1m0-19v1m0-8v1m0-4v2m2-3v1m1 30v1m1-1v1m0-33v2m3 31v1m1-1v1m7-1v1m1-1v1m1 0v1m1-1v1m0-6v1m1 3v1m0-53v2m1 50v1m1 0v1m0-6v1m1 4v1m1-55v2m1 39v1m0-7v1m0-33v2m1 49v1m0-15v2m1 12v1m1-2v1m1-1v1m5 0v1m1-1v1m1-1v1m1-1v1m0-6v2m3 3v1m1-1v1m1 0v1m0-9v2m1 6v1m3 0v1m1-1v1m19 2v1m1-1v1m5 1v1m1-1v1m1-2v1m1-1v1m3-1v1m1-1v1m1-1v1m1-1v1m7-1v1m1-1v1m5-1v1m1-1v1m1-1v1m1-1v1m1 0v1m1-1v1m5 0v1m0-31v1m1 29v1m1-39v1m0-17v1m1 15v1m0-17v1m3 54v1m1-1v1m0-65v1m6 65v1m1-1v1m1-1v1m3 0v1m0-61v1m1 59v1m0-61v1m18-22v2m1 17v1m0-3v1m3 2v2m8-6v2m4 1v1m0-6v2m1-18v2m3 5v2m4 2v1m1 21v1m1-1v1m0-12v2m3 10v1m1-1v1m1-3v2m1-25v2m3-5v2m3 6v1m0-4v1m2 20v1m5-24v2m1 30v1m0-19v2m3 20v1m0-20v1m1-14v1m4 32v1m6-6v1m0-18v2m3-17v1m1 22v1m1 1v1m3-11v2m1-4v1m1 1v2m0-8v2m1 37v1m0-27v1m2 64v2m0-65v2m0-31v2m2 14v2m4 36v1m1-1v1m1-20v1m1-16v1m4 15v1m0-31v2m2-13v1m1-2v1m1 35v2m0-35v1m1-4v2m6 60v1m2 0v1m0-22v1m1 20v1m0-3v1m2-2v1m1-35v1m2 19v1m1-21v2m5-6v1m0-6v1m1 3v1m1 15v1m1 0v1m1 5v2m1-8v1m1 24v1m1-1v1m0-49v1m3 48v1m1-1v1m0-45v2m8 16v2m0-7v1m4-13v1m1-12v1m3 1v2m1 50v1m0-23v1m1 21v1m5-54v1m12 54v1m1-1v1m11-1v1m0-46v1m4 45v1m1-1v1m17-2v1m1-1v1m1-1v1m1-1v1m3 0v1m7-27v2m5 24v1m1-1v1m1-1v1m1-1v1m4-18v1m0-16v2m5 29v1m1-1v1m13-1v1m1-1v1m9 0v1m1-1v1m3-2v1m1-1v1m7-1v1m12-21v1m5 19v1m6 0v1m5-1v1m1-1v1m5-1v1m1-1v1m3-1v1m1-1v1m9-2v1m1-1v1m23 2v1m6-1v1m1-1v1m2 27v2m0-9v2m13-23v1m1-1v1m1-1v1m1-1v1m27-1v1m1-1v1m31 2v1m1-1v1m9 0v1m1-1v1m25-1v1m1-1v1m11-1v1m4-1v1m1-1v1m12-1v1m11 0v1m1-1v1m3-1v1m1-1v1m5-1v1m1-1v1m12-4v1m29-1v1m1-1v1m29-1v1m1-1v1m23-2v1m1-1v1m24 0v1m161-13v1m1-1v1m7 3v1m1-1v1m15 0v1m1-1v1m3-1v1m1-1v1"/>
<path stroke="#0012ff" d="M0 44v1m5-1v1m6-4v1m3 1v1m5-2v1m11 4v1m2-3v1m9 0v1m3-4v1m2-4v1m6 1v1m3 5v1m12-5v1m1 0v1m2-7v1m15 4v1m9-1v1m2-1v1m3-1v1m1 2v1m9-3v1m1-3v1m6 1v1m1-4v1m4 4v1m11-4v1m8 0v1m4-1v1m1-1v1m1 3v1m1-6v1m3 1v1m2-3v1m4-2v1m3 0v1m4-11v1m11 5v1m3-6v1m1 1v1m4-1v1m2-1v1m1-6v1m1-3v1m2-2v1m5-3v1m3 2v1m5-8v1m3 3v1m2 1v1m7-9v1m3 3v1m2 2v1m6-3v1m4-3v1m3 0v1m1 3v1m1-4v1m2 2v1m2-9v1m1 4v1m2-6v1m1 1v1m7 0v1m1-4v1m3 2v1m12-7v1m1-3v1m2 6v1m13 1v1m3-5v1m10 9v1m6 0v1m4 0v1m3-2v1m6-2v1m2 0v1m2-2v1m7-1v1m1-1v1m7-3v1m2-2v1m2 0v1m9 3v1m4-5v1m1-10v2m3 9v1m1 1v1m2-1v1m0-32v2m2 10v2m3 41v10m0-36v1m1 65v2m1-82v1m3 37v14m0-41v1m3-3v1m1 45v4m3-6v4m0-47v1m0-7v1m0-20v1m3 23v1m3 28v13m2 3v3m3-56v2m4-17v1m3 13v1m0-5v1m1 8v1m1-11v1m1 57v3m1-29v24m0-47v2m0-19v1m1 4v2m0-6v1m1 63v10m2-62v2m1 50v5m0-31v1m0-26v2m3 4v1m0-16v2m1 32v29m1-29v29m0-48v1m2 18v25m0-54v2m1 8v1m0-23v2m2 64v4m3 1v18m1-73v1m5 32v1m1-3v3m0-8v1m0-10v1m0-11v2m1 45v1m0-43v1m1 41v1m0-6v1m1 4v1m0-18v1m1 16v1m1-1v1m0-23v2m0-52v1m1 71v1m1-1v1m1-1v1m0-22v2m0-27v1m1 45v1m1-1v1m1-66v1m1 30v2m1 32v1m2-1v1m0-10v1m0-27v2m1 33v1m0-34v1m1 32v1m0-18v1m0-41v1m1 56v1m0-17v1m0-10v2m4 10v1m1-10v1m2-34v1m1-1v1m1 55v1m1-1v1m0-19v1m0-20v1m2 1v1m1-28v2m1 34v2m1 24v1m1-1v1m0-7v1m0-30v1m1 35v1m1-1v1m1-16v2m2 13v1m1-1v1m1-1v1m0-47v1m1 45v1m1-1v1m1-1v1m0-14v2m3 12v1m0-31v1m1 29v1m3-1v1m0-16v2m1 13v1m3 0v1m1-1v1m0-33v2m1 30v1m1-1v1m1 0v1m1-1v1m3-1v1m1-1v1m1 0v1m1-1v1m3 0v1m1-1v1m5-67v1m2 66v1m1-1v1m5-23v1m14-18v1m0-30v2m1 27v1m1 38v1m1-1v1m3 0v1m1-1v1m1-1v1m0-56v1m2 55v1m0-16v1m1 14v1m0-16v1m1 14v1m1-1v1m3 0v1m0-57v1m1 55v1m0-57v1m0-14v1m3 69v1m0-58v1m3 57v1m1-66v2m4 64v1m0-40v1m1 38v1m0-40v1m7-20v1m0-20v2m1 17v1m3 52v1m0-54v1m1-1v1m0-4v2m1-7v2m1-5v1m2 2v2m1 26v1m0-31v2m1 28v1m0-46v1m0-4v1m3 23v2m2 25v1m0-49v1m2 24v1m3 14v1m2-17v1m2-28v1m4 15v2m1-15v2m2 5v2m0-5v1m3 4v1m3 23v1m5-8v1m1 9v1m0-19v1m3 12v2m0-25v1m4 25v2m1-16v1m0-17v1m0-7v2m4 38v2m0-11v2m1 2v2m0-17v1m0-22v1m1 16v1m2 27v1m0-17v1m0-10v1m0-7v2m0-9v1m0-3v1m0-3v1m1 14v2m1 1v1m3 1v2m2 23v1m1 35v6m0-35v1m0-33v2m1 59v6m0-35v1m0-50v1m1-7v1m1 32v2m0-6v1m3 5v2m0-19v1m0-4v1m1 22v2m0-7v1m0-9v1m0-16v1m1 3v2m0-5v1m3 46v1m2-42v2m0-4v1m0-8v2m1 44v2m0-8v2m0-43v1m2 13v1m2 2v2m1-12v2m0-15v1m3 22v2m2-14v1m1 24v1m1 23v1m0-27v1m1 25v1m0-25v2m2-23v1m2 18v1m1-35v1m1 29v1m1 10v1m1-9v3m1 22v1m1-36v1m1-5v1m1-7v1m1 3v1m0-3v1m2 23v1m1-2v1m2 23v1m0-10v2m0-39v1m1 45v1m0-32v1m3-29v1m3 58v1m2-13v1m0-22v2m0-29v2m1 50v1m0-29v2m0-25v1m2 38v1m1 14v2m0-55v1m6 50v2m0-52v2m4 40v2m0-36v2m1 5v1m1 43v1m3-47v1m1-17v1m2 36v2m0-18v1m1-17v1m2 35v2m0-36v2m2-5v2m1 21v2m0-27v1m1 24v1m1 12v1m4-17v2m21 27v1m1 10v1m11-36v1m12-14v1m5 10v2m8 35v1m1-1v1m9-1v1m1-1v1m27-1v1m1-1v1m0-29v2m13 26v1m42-1v1m1-1v1m17 1v1m1-1v1m22 29v1m3-32v1m14 0v1m1-1v1m8 1v1m43 0v1m1-1v1m1-1v1m1-1v1m1-1v1m1-1v1m40 1v1m12-1v1m19-1v1m1-1v1m21-3v1m1-1v1m12-2v1m97 0v1m1-1v1m31-2v1m1-1v1m41-2v1m1-1v1m3-1v1m1-1v1m1-2v1m34 1v1m1-1v1m3-2v1m1-1v1m83-7v1"/>
<path stroke="#0027ff" d="M13 41v1m2 2v1m6-3v1m2 2v1m2 0v1m12-3v1m1-3v1m9 7v1m4-6v1m6 2v1m4-4v1m1-5v1m1 7v1m1-8v1m1-1v1m9 3v1m1 0v1m3-4v1m9-4v1m6 2v1m8-1v1m7-4v1m18 1v1m10 1v1m12-6v1m13 0v1m3-3v1m4 2v1m7-7v1m8-2v1m4-1v1m7-5v1m5-6v1m1-1v1m3 3v1m2-4v1m2-4v1m2 4v1m1-2v1m1-14v2m4 10v1m4 0v1m1-1v1m2 70v1m5-74v1m13-5v1m1 1v1m12-2v1m1 2v1m2-8v1m2-4v1m11-1v1m2 7v1m1-4v1m10 0v1m4 1v1m3 3v1m1 2v1m3 67v1m2-71v1m3 2v1m2-2v1m1 1v1m1-3v1m7-1v1m4-1v1m4-3v1m4-23v2m5 23v1m10-4v1m1 0v1m0-28v2m5 26v1m1-1v1m1 54v2m1-57v1m6-29v1m3 28v1m5-24v2m1 56v4m2-41v1m1-7v1m1 47v18m0-85v2m1 62v3m3-51v2m1 53v5m0-54v1m1 27v13m2 6v4m2-23v16m0-44v1m1 27v13m0-47v2m0-23v2m1 5v1m1 47v12m0-48v1m1 48v4m0-18v1m0-29v1m1 27v14m1 6v2m1-55v1m2 29v18m0-45v1m1 25v18m0-65v2m3 43v21m0-53v2m3-17v1m1 10v1m1-12v1m1 71v3m1-8v5m2 6v9m0-45v1m1 0v25m1-3v2m1 6v5m0-77v1m1 40v28m1-52v2m2 51v5m1-5v11m1-80v2m1 63v3m3 1v2m0-52v1m3 68v3m6-57v2m0-20v1m0-11v2m2 38v2m0-6v1m0-6v1m3-41v1m1 9v2m3 34v1m2 1v1m0-6v2m1 28v1m0-19v1m0-8v1m1 24v1m0-29v2m0-5v2m0-39v2m1 47v2m3 10v1m1-8v2m2 12v1m0-36v1m1 34v1m1 0v1m1-1v1m0-22v1m1 19v1m1-1v1m1 0v1m0-10v1m0-21v2m1 27v1m0-64v2m1 41v1m1 9v2m1 8v1m1-1v1m0-10v2m0-54v2m1 58v1m1-1v1m0-11v1m2-7v2m1-11v1m2 25v1m1-1v1m0-30v2m0-5v2m3-5v1m2-19v2m2 52v1m1-1v1m0-73v2m2 51v2m1 18v1m1-1v1m25 4v1m0-82v1m1 80v1m1-40v1m1-29v1m3 65v1m1-1v1m1-1v1m0-12v1m1 10v1m0-12v1m7 10v1m0-52v1m1 50v1m0-23v1m0-30v1m5 50v1m0-22v1m1 20v1m0-22v1m3 21v1m1-1v1m1-54v1m1-1v1m1 53v1m2-24v1m0-16v1m1-1v1m1 38v1m0-30v2m1 27v1m3-39v1m4 39v1m3-58v1m1 56v1m0-57v1m1 55v1m0-57v1m3 57v1m1-1v1m0-6v1m5 4v1m2-1v1m1-1v1m1-79v2m1 16v1m1 59v1m1-1v1m0-74v1m1 72v1m1-1v1m1-61v1m1-6v2m2-1v1m1-16v1m1 38v2m0-47v2m2-4v1m1 12v1m0-10v2m2 41v1m5 1v1m0-32v2m0-8v2m1 6v1m0-11v1m1-4v1m1 0v4m0-10v2m3 21v2m2-24v2m1 29v1m0-22v2m0-10v2m1 27v1m0-24v1m0-6v2m1 27v1m1-1v1m0-36v1m1 21v1m0-5v2m1 0v2m0-21v1m3 5v1m1-1v2m1 7v2m1 10v1m1-22v1m2 33v1m0-36v1m1 34v1m0-17v2m0-26v1m1 5v1m0-6v2m2 9v1m1-12v2m5 27v1m0-23v1m1 35v1m0-45v1m1 24v2m1 3v1m1-31v2m1 10v2m0-12v1m1 36v2m3 10v1m0-19v2m3 54v8m0-22v8m0-51v2m0-14v1m1 68v8m0-22v8m0-35v2m1-22v2m0-23v1m1 31v1m0-13v1m0-28v1m2 48v1m0-50v2m1 42v1m0-12v1m0-9v1m0-23v2m2 42v1m3-18v2m1-21v1m0-6v1m0-7v2m1 7v1m1 23v1m5 1v1m0-8v1m3 25v1m0-13v1m0-21v1m0-16v3m0-6v2m1 4v1m1 38v1m0-28v1m1 24v1m2 3v2m0-8v1m0-24v3m1-9v1m1 17v1m0-26v2m2 30v1m0-13v4m1-5v1m0-17v1m2 48v1m0-8v2m1 5v1m1-1v1m0-56v2m1 53v1m0-13v1m0-31v2m3-3v1m2 13v2m1-16v1m0-6v2m2 11v1m1 9v2m0-10v1m2 34v1m0-63v1m1 61v1m0-62v1m3 37v2m0-22v2m2 41v1m1-1v1m1-1v1m0-63v2m1 60v1m3-60v2m1 9v1m0-5v2m3-13v1m4 36v2m0-9v1m5-15v2m1 21v2m0-24v1m4 31v2m3 12v1m1-9v1m0-5v2m2-1v2m1-24v1m19 35v1m1-1v1m10-1v1m0-51v2m1-6v1m2 52v1m1-1v1m13 0v1m1-1v1m4-60v1m6 58v1m1-1v1m1-1v1m3 0v1m1-1v1m1-2v1m1-1v1m8-54v1m1 8v1m3 43v1m1-41v1m1 8v2m3 29v1m1-1v1m11-1v1m1-1v1m8-28v1m1 26v1m0-51v1m1 49v1m3-1v1m1-1v1m17-1v1m0-66v1m1 64v1m1-51v2m4 48v1m18-2v1m1-1v1m17 1v1m1-1v1m26 0v1m11-1v1m1-1v1m24 2v1m11-4v1m1-1v1m13 1v1m1-1v1m6-1v1m34 2v1m1-1v1m1-1v1m4-1v1m9-1v1m1-1v1m17-2v1m1-1v1m5 0v1m1-1v1m22-2v1m13-2v1m12-1v1m4-1v1m1-1v1m66-2v1m3 0v1m1-1v1m5-1v1m1-1v1m1-1v1m1-1v1m23-2v1m1-1v1m55 23v4m1-4v4m8-29v1m5-2v1m1-1v1m7-2v1m1-1v1m35 3v1m1-1v1"/>
<path stroke="#003cff" d="M3 42v1m7 0v1m2 5v1m6-5v1m1-3v1m1 2v1m2 0v1m2-4v1m2 2v1m1-7v1m6 7v1m7-5v1m5 2v1m4-6v1m4-2v1m13 4v1m3 0v1m2-3v1m24-2v1m7 2v1m2-9v1m2 6v1m5-2v1m7-7v1m5 7v1m4-1v1m6-5v1m2-1v1m2 0v1m2-2v1m8 0v1m4-6v1m2 2v1m1 0v1m1 2v1m5-7v1m2-3v1m3-1v1m1-1v1m3 1v1m2-6v1m5-3v1m5-1v1m11-2v1m6-6v1m13-3v1m1 2v1m1-8v1m8 1v1m7 0v1m1-3v1m1 5v1m1-4v1m1 3v1m4-8v1m6-2v1m2 5v1m1-5v1m1-2v1m1 2v1m4-6v1m6 4v1m6-10v1m5-7v2m7 9v1m4 1v1m3 74v1m3-73v1m3-3v1m3 2v1m1 0v1m17-14v1m2 13v1m4-1v1m15-3v1m4 2v1m5-1v1m5 56v11m0-19v6m2-55v1m3-15v1m2 12v1m0-19v1m2-8v2m3 19v1m1 6v1m2-21v1m1 57v2m3-46v1m1 62v4m0-38v16m0-55v2m1 53v3m1-20v11m1-39v1m1 27v12m0-59v1m1 72v4m1-17v3m0-67v2m1 20v1m1 51v4m0-28v1m1 0v14m1 2v6m1-9v5m1 10v3m1-19v4m1 1v3m0-72v2m1 63v4m0-47v1m1 50v3m0-26v1m0-52v1m1 22v1m1-3v1m1 45v7m1-8v6m3-5v6m4-64v1m1-2v1m1 65v2m1-5v4m0-53v1m0-16v2m1 33v31m1 13v4m1-23v6m0-52v1m1 44v20m0-44v22m1 13v4m1-12v8m1-71v1m1 34v28m1 6v4m1 2v7m1-47v26m1 2v3m2-31v29m0-62v1m1 63v3m0-35v1m0-32v2m0-11v1m3 91v4m0-56v1m0-28v2m0-14v2m1 38v26m5 3v1m1-1v1m2-14v1m1-15v1m0-7v2m1 15v1m0-4v2m0-5v1m3 15v1m0-28v3m1 13v1m1-3v1m6-2v1m1-6v1m2 20v1m2-9v1m0-39v2m1 12v1m1 4v1m1 28v1m0-7v2m2-23v2m1-6v2m1 21v1m0-46v1m0-6v1m1 4v1m0-6v1m1 57v1m2-20v1m4 9v2m3-48v2m2 28v3m2-6v1m2 4v1m0-4v1m3-38v2m1 31v2m4 21v1m4-1v2m0-10v1m0-10v1m7 22v1m1-1v1m33-41v1m1-1v1m1 11v1m0-18v1m1 16v1m0-18v1m1 0v2m2 55v1m1-1v1m1-25v1m17-46v2m3 11v1m1-1v1m7 56v4m0-20v15m1 1v4m0-20v15m1-13v19m0-61v1m0-4v1m1 44v19m2-75v1m2-6v1m1 14v1m1-13v1m1 15v1m0-7v1m1 5v1m3 18v2m0-48v1m1 6v1m1-7v1m2 14v2m3 34v1m0-39v1m0-9v1m2-3v2m2 9v1m0-5v2m0-12v1m1 10v2m4-8v1m2 20v1m1 1v2m0-21v1m2 10v2m0-14v3m2-4v1m3 24v1m0-30v1m1 13v1m0-10v1m1 28v1m0-18v1m0-4v1m0-11v1m1 29v1m0-17v2m0-23v1m4 30v2m0-7v2m0-8v2m2 9v1m0-15v1m1 3v1m2 14v1m4 10v1m0-5v1m1 3v1m0-15v1m2-29v1m1 27v2m0-30v1m2 17v2m0-18v1m0-9v1m1 32v2m2-8v2m0-21v1m1 41v2m0-48v1m2 93v2m1-2v2m1-75v1m0-9v3m3 36v1m0-54v2m1 43v2m0-4v1m0-18v2m1-4v2m0-29v1m1 57v1m3-38v2m0-17v1m1-4v1m2 35v2m0-26v1m2 43v1m0-13v2m0-19v1m2-31v1m1 44v2m0-47v1m3 49v1m0-11v1m0-11v2m0-6v2m1-20v1m1 52v1m1-1v1m0-29v1m0-21v2m1 30v1m0-33v1m1 12v1m1-1v3m3 33v1m1-61v2m2 3v1m2 12v1m1-10v2m1 30v1m2 12v2m0-21v1m0-9v2m0-10v1m3 26v1m2 2v2m0-17v1m1 6v1m2-37v5m1 46v1m3-30v1m0-28v1m3 40v1m1-16v2m0-15v2m0-17v1m1 31v2m0-28v2m1 38v1m0-30v1m1-10v2m5 17v2m1 4v3m0-24v2m0-9v1m3 34v1m1-18v1m1 7v2m0-9v2m3 39v1m3-50v2m2 47v1m1-1v1m7-29v1m2 27v1m10 1v1m1-1v1m8-10v1m1 7v1m1-1v1m1-16v2m2-35v2m8 47v1m1-1v1m1-1v1m2-1v1m1-1v1m3-1v1m1-1v1m1-1v1m1-1v1m0-46v2m7 42v1m1-1v1m9-38v1m10 37v1m1-1v1m0-45v2m1 42v1m6-1v1m1-1v1m3-1v1m2-1v1m1-1v1m3-1v1m1-1v1m0-56v2m5 52v1m1-1v1m19 0v1m4-1v1m1-1v1m1-1v1m1-1v1m5 0v1m7-1v1m9-2v1m1-1v1m19 0v1m1-1v1m9 0v1m1-1v1m9-1v1m1-1v1m3 22v6m0-29v1m3-1v1m103 4v1m58-1v1m1-1v1m7-3v1m1-1v1m5-2v1m12 0v1m1-1v1m25-1v1m8-1v1m4-1v1m1-1v1m67-1v1m1-1v1m7 20v6m1-6v6m13-28v1m1-1v1m3-1v1m1-1v1m13-1v1m1-1v1m5 0v1m1-1v1m15 26v1m1-1v1m33-31v1m1-1v1m7 1v1m1-1v1m47-10v1m1-1v1m1-3v1m1-1v1"/>
<path stroke="#0051ff" d="M4 44v1m4-4v1m3 0v1m2-1v1m26 6v1m3-4v1m2-3v1m6 1v1m6 1v1m6-7v1m5 2v1m3-6v1m13 3v1m7 0v1m2 0v1m2-2v1m3-3v1m1-1v1m1 1v1m6 3v1m5-6v1m2 1v1m2-2v1m3-3v1m2 4v1m1-3v1m5-5v1m4 4v1m2-4v1m1 0v1m2-1v1m4-1v1m3-5v1m18 3v1m4-11v1m4 6v1m7-2v1m1-5v1m2-2v1m1 1v1m7-6v1m1-3v1m2-2v1m2 3v1m1-3v1m2-5v1m2 3v1m2-2v1m4-8v1m1 5v1m6-5v1m14 2v1m1-1v1m3-4v1m1 0v1m6-1v1m1-1v1m1 2v1m3-4v1m1-4v1m1-2v1m1 1v1m2 2v1m7-10v1m5 1v1m5 1v1m1 2v1m1-7v1m2-2v1m1-3v1m4-1v1m9 4v1m9 6v1m9 1v1m8-1v1m1 1v1m3-1v1m2-5v1m3 69v1m5-1v1m0-67v1m7-1v1m19 43v3m3-50v1m3-1v1m9 0v1m1 41v3m0-67v2m1 45v1m3 37v4m1-23v3m1-12v3m0-42v1m0-10v1m1 36v19m0-62v1m0-12v2m1 64v6m1 12v5m0-36v1m1 16v2m0-46v1m0-22v1m1 48v17m1 10v5m1-18v7m0-49v1m1 49v6m1-10v5m0-63v2m1 69v5m0-17v9m0-57v1m1 44v3m0-20v1m1 20v3m1-6v4m1 3v2m0-55v1m0-23v1m1 48v15m0-56v2m1 38v15m1 9v8m1-10v6m0-79v2m3 72v5m0-33v1m5-3v29m1 4v3m1-4v4m1-6v11m1 6v4m1-21v6m0-38v1m1 44v4m0-49v1m0-44v1m1 82v6m1-10v7m2-15v5m1 5v6m1 3v4m1-25v4m1 1v3m0-57v1m1 22v28m1 1v4m1 1v2m0-54v1m3 72v1m1-30v6m6-35v2m1-42v1m5 20v2m2 20v1m1-28v1m0-15v1m7 16v1m3 26v1m1 20v1m0-42v1m1-5v1m0-23v1m1-1v1m2 7v1m2 45v2m7 18v1m1-1v1m10-48v2m1 62v8m1-8v8m1-23v1m1-1v1m7-75v1m2 29v2m6 44v1m1-1v1m1 0v1m1-1v1m12-24v1m22-15v2m3-1v1m1-1v1m1-2v1m2 18v1m1-1v1m1-34v1m1-1v1m3 55v1m1-1v1m3-40v1m0-18v1m3 16v1m1-1v1m1-1v1m3 0v1m1-1v1m5 35v5m0-21v15m8-71v2m1 3v2m2-11v3m3 40v1m1-1v1m10-34v1m1-17v2m3-2v2m1 25v1m0-19v3m1 15v1m3 0v1m1-3v1m3 9v1m0-8v1m0-10v2m0-15v2m1 27v1m3 0v1m1-1v1m8-4v1m0-24v1m3 33v1m1-1v1m0-21v1m3-11v2m0-4v1m1-1v2m1-10v2m2 36v1m2 7v1m0-23v1m1 21v1m3-29v1m4 32v1m1-1v1m0-27v1m2 9v2m1 14v1m1-1v1m0-16v1m1-9v1m3 11v1m1-5v1m0-24v2m2-7v1m4 30v2m1-12v2m3-18v1m1 18v1m3-11v2m2 33v1m1-1v1m4-44v2m2-14v2m3 53v1m0-37v1m1 35v1m1-8v1m2-29v2m1-26v2m2 14v2m3 16v2m4-15v1m0-19v2m3 2v1m3 53v1m0-46v2m1 43v1m2-35v2m7 32v1m1-1v1m0-54v1m7 54v1m1-1v1m1-20v2m1-22v1m5 36v1m1-1v1m1 0v1m11 1v1m1-24v1m8 23v1m1-1v1m3-45v1m0-20v2m7 10v2m9 48v1m1-1v1m4-48v2m1 18v2m42 26v1m1-1v1m3-2v1m1-1v1m7-1v1m1-1v1m7-32v1m2 30v1m1-1v1m3-1v1m4 0v1m1-1v1m5-2v1m42 1v1m1-1v1m21 28v1m0-8v1m20-22v1m1-1v1m1-1v1m1-1v1m27-1v1m1-1v1m3 24v3m1-3v3m15-26v1m1-1v1m20 0v1m1 0v1m1-1v1m25-1v1m1-1v1m11-1v1m4-1v1m1-1v1m46-3v1m18-1v1m11-1v1m1-1v1m13 22v2m40-26v1m1-1v1m11 21v5m1-5v5m9-25v1m3-2v1m11 0v1m1-1v1m3 25v1m0-29v1m1 27v1m0-29v1m19 0v1m1-1v1m93-1v1m1-1v1m13-2v1m1-1v1m25-8v1m1-1v1m15 0v1m1-1v1m3-1v1m1-1v1"/>
<path stroke="#0065ff" d="M28 48v1m6-2v1m2 1v1m1-5v1m6-1v1m3-5v1m6 1v1m2 4v1m4-4v1m6-3v1m1-1v1m3 2v1m11-1v1m2-2v1m3-3v1m29 4v1m13-5v1m2-1v1m8 1v1m7-4v1m2 2v1m3-6v1m1 6v1m3-4v1m4-2v1m2 1v1m3-5v1m19-5v1m2-1v1m12-7v1m2-2v1m3-5v1m7 2v1m1-6v1m6-3v1m1 7v1m1-4v1m1-3v1m2 2v1m1-1v1m1-1v1m5 0v1m12-9v1m14-1v1m8-2v1m9 1v1m2-5v1m4 0v1m3-1v1m7 6v1m15 5v1m8-2v1m5-1v1m7-1v1m3 2v1m5-6v1m1-1v1m1-2v1m2 0v1m3 68v1m10-26v3m8-45v1m1 1v1m2-1v1m5 41v3m1-48v1m1 67v1m2-2v1m0-44v1m0-27v1m1 48v3m0-52v1m1 39v2m1 3v9m1-10v6m0-52v1m1 62v4m1-21v2m1-3v5m1 10v4m1-15v8m1-1v6m0-35v1m1 23v5m0-29v1m0-28v1m1 63v4m0-40v19m1 0v3m0-49v1m1 49v4m1-6v4m1 1v3m1-16v6m1-7v6m1 11v6m1-10v6m0-63v1m3 56v6m3-40v24m1-24v22m1 6v8m0-60v1m1 58v2m1-2v4m0-42v1m1 42v5m1 8v1m0-4v2m1-17v6m1 5v4m1-7v4m1-7v5m0-68v1m1 19v29m1 4v5m1 6v5m1 2v3m1-24v3m1 1v2m1-8v6m1-1v5m1-2v3m4-7v5m7-7v1m1-1v1m3-1v1m1-1v1m3-1v1m1-1v1m1 9v16m1-16v16m1-14v14m0-26v1m2 11v14m1-14v14m1-26v1m1-1v1m5-48v1m1-1v1m9 61v11m1-11v11m9-8v8m1-8v8m13-22v1m1-1v1m33-43v1m1-1v1m13-9v1m2 0v1m1-1v1m5-1v1m1-1v1m11-2v1m1-1v1m5 1v1m4 38v1m1-1v1m3 1v17m1-17v17m7-60v1m1-1v1m8 24v1m7-25v1m1-1v1m5 39v30m1-30v30m1-61v1m10 4v1m1-1v1m9 6v1m1-1v1m1 0v1m1-1v1m5 3v1m1-1v1m1 20v1m1-1v1m11-17v1m1-1v1m5 1v1m1-1v1m3-1v1m1-1v1m8 23v12m1-34v1m1-1v1m7 27v1m0-29v1m2 0v1m1-1v1m5 20v11m1-11v11m11-32v1m1-1v1m3 0v1m1-1v1m9-1v1m1-1v1m25 1v1m1-1v1m1 0v1m1-1v1m9-2v1m4 0v1m1-1v1m17-2v1m1-1v1m1-1v1m1-1v1m15 0v1m1-1v1m1-1v1m1-1v1m1-1v1m1-1v1m7-2v1m1-1v1m27-1v1m1-1v1m24-1v1m6 0v1m3-1v1m2-1v1m1-1v1m5-1v1m1-1v1m3-1v1m1-1v1m1 21v7m1-7v7m7-30v1m1-1v1m23 2v1m2 28v1m4-30v1m1-1v1m5-2v1m14 0v1m1-1v1m8 21v5m0-25v1m21 25v2m0-6v1m0-25v1m1 27v2m0-6v1m0-25v1m23 2v1m1-1v1m1-1v1m1-1v1m1-1v1m1-1v1m38 1v1m26-2v1m11 0v1m1-1v1m3-1v1m1-1v1m5-1v1m1-1v1m18-4v1m37 24v2m0-6v2m16-23v1m1-1v1m13-3v1m1-1v1m7 22v5m0-28v1m1 22v5m0-28v1m7 22v5m1-5v5m5 0v2m0-8v1m1 5v2m0-8v1m37-21v1m1-1v1m77 20v5m1-5v5m35-27v1m1-1v1m57-7v1"/>
<path stroke="#007aff" d="M0 45v1m2 2v1m12-5v1m2 3v1m1-2v1m2-4v1m8-3v1m5 3v1m9 0v1m7 0v1m3-3v1m19-6v1m2 4v1m2 0v1m1 0v1m3-4v1m7-1v1m16-1v1m2-1v1m1-5v1m4 0v1m1 3v1m7-1v1m14-2v1m7 0v1m7-1v1m3-1v1m6-3v1m2 3v1m2-3v1m7-7v1m2-1v1m2 2v1m8-9v1m7 0v1m1 1v1m5-4v1m3-2v1m9-10v1m3 2v1m24-3v1m1-3v1m1 5v1m1-4v1m1 3v1m1-4v1m7-5v1m5 0v1m1-2v1m3-3v1m4 1v1m1 2v1m12-7v1m10 2v1m6-2v1m1-2v1m3 2v1m2 0v1m1 2v1m1 2v1m3-1v1m4-3v1m1 2v1m4-2v1m1 1v1m3-2v1m3-2v1m4-1v1m1 0v1m2-2v1m4-1v1m1 1v1m2 64v1m0-68v1m12-3v1m9 39v4m0-40v1m5-5v1m5 2v1m1 25v6m1-31v1m4 44v3m0-50v1m2 22v1m0-25v1m3 49v4m1-14v2m1 10v6m1-10v6m1 9v3m1-22v3m1-1v5m1 9v4m0-67v1m1 55v5m1 0v4m0-65v1m1 54v5m1 7v3m1-21v3m1 2v3m0-58v1m1 52v4m1 0v4m1-14v7m1-8v6m1 11v4m1 5v1m0-14v5m3-5v5m0-67v1m3 45v3m1-5v5m1 9v6m1-5v4m0-63v1m1 60v5m1 1v4m0-52v1m1 54v1m1-12v5m1 4v2m1 1v1m0-7v3m1-5v4m1-23v13m1-4v5m1 6v3m1 2v2m1-23v3m1 0v3m0-40v1m1 34v5m1-1v5m1-4v3m3 14v1m1-20v6m5-4v17m1-17v17m5-16v16m1-16v16m3-16v16m1-16v16m5-26v1m1-1v1m3 11v14m1-14v14m3-13v13m1-13v13m3-13v13m0-73v1m1 59v13m0-73v1m1 60v12m1-12v12m3-73v1m1-1v1m1 61v11m1-11v11m5-7v7m1-7v7m1-9v1m1-1v1m3 0v8m1-8v8m1-8v8m1-8v8m1-8v8m0-23v1m1 14v8m0-23v1m17 3v1m1-1v1m7 0v1m1-1v1m21-1v1m1-1v1m1-41v1m1-1v1m1-13v1m1-1v1m5 12v1m1-1v1m7 20v1m0-35v1m3 56v1m1-57v1m1-1v1m3 14v1m1-1v1m9-17v1m1-1v1m5-2v1m1-1v1m3-2v1m1-1v1m8 0v1m3-1v1m1-1v1m1-1v1m1-1v1m5 6v1m1-1v1m1 0v1m1-1v1m1 61v1m0-32v1m1 30v1m0-32v1m13-23v1m1-1v1m15 31v20m1-20v20m6-17v17m1-15v13m1-13v13m4-36v1m1 20v18m1-18v18m1-38v1m2 21v1m10-21v1m1-1v1m4 34v2m0-16v2m3-1v14m0-35v1m1 20v14m0-35v1m5 28v6m0-14v7m5-27v1m1-1v1m2 31v3m0-17v3m1 11v3m0-17v3m3-21v1m21 22v9m8-31v1m1-1v1m1-1v1m35 1v1m1-1v1m21 0v1m6-1v1m1-1v1m1 0v1m1-1v1m31-2v1m1-1v1m3-1v1m1-1v1m3-1v1m1-1v1m9-1v1m42 28v2m0-11v2m0-22v1m1 28v2m0-11v2m0-22v1m13 0v1m1-1v1m3 0v1m1-1v1m13 21v4m5-26v1m15-1v1m1-1v1m14 26v2m0-9v2m35-20v1m1-1v1m6-1v1m1 0v1m1-1v1m32 1v1m1-1v1m1-1v1m13-1v1m1-1v1m8-1v1m9-2v1m1-1v1m5 19v4m0-23v1m1 18v4m0-23v1m3-1v1m1-1v1m18-2v1m3-2v1m1-1v1m9-1v1m12-1v1m4-1v1m1-1v1m23 25v1m38-2v1m0-7v1m1 5v1m0-7v1m7 5v1m0-7v1m1 5v1m0-7v1m13 1v5m0-26v1m1 20v5m0-26v1m31-2v1m1-1v1m45-2v1m1-1v1m1-2v1m16-2v1m1-1v1m11 28v2m0-8v1m1 5v2m0-8v1m9-22v1m1-1v1"/>
<path stroke="#008fff" d="M3 43v1m2 1v1m2 4v1m4-8v1m4 1v1m7 2v1m1-3v1m2 0v1m4-1v1m6-4v1m3-2v1m2 2v1m4-2v1m18-3v1m5 2v1m8 52v1m5-53v1m13-3v1m2 0v1m5 1v1m11-2v1m6-4v1m1-4v1m6 4v1m9-2v1m6-1v1m1 0v1m2 0v1m9-7v1m3 3v1m5 0v1m3-7v1m1-5v1m6 5v1m2-6v1m4 0v1m2-2v1m1 1v1m7-6v1m1-3v1m1 3v1m1-6v1m2 3v1m3-7v1m5-1v1m7-2v1m4 1v1m1-2v1m1-3v1m2-4v1m8 0v1m6 2v1m9-5v1m5 1v1m1-4v1m2 5v1m3-3v1m1-3v1m7-4v1m1-3v1m2-4v1m5 0v1m2-1v1m2 5v1m2-7v1m4 2v1m7 4v1m14 3v1m1-1v1m20 0v1m11 1v1m6-4v1m1-2v1m4 1v1m3-2v1m4 34v5m1-38v1m3-3v1m3 0v1m4 33v8m1 26v1m4-18v4m0-30v1m3 18v14m1 10v1m1-15v4m0-35v1m1 18v2m1 14v5m1-9v6m1 6v2m0-71v1m1 49v2m0-26v1m1 27v5m0-60v1m1 67v3m1-9v5m0-40v1m1 38v4m1-9v4m1 6v1m0-45v1m1 25v3m1 2v5m1-6v4m1 0v4m1-11v6m1-8v5m1 10v3m0-47v1m0-26v1m1 65v4m0-46v1m3 41v3m3-21v3m1-3v6m0-34v1m1 42v5m1-6v4m0-48v1m1 46v4m1 5v1m0-5v3m2-6v3m1 3v1m0-76v1m1 72v3m1-4v3m1-13v6m1-5v5m1 4v3m0-56v1m1-1v1m1 36v3m1 0v3m1-3v5m1-1v5m0-49v1m1 42v4m4-3v5m0-49v1m7 39v17m1-17v17m5-16v16m1-16v16m5-15v1m14-11v1m1-1v1m1-38v1m1-1v1m1 0v1m1-1v1m3 36v1m1-1v1m3 15v8m1-8v8m1-24v1m0-45v1m1 43v1m0-45v1m13 61v6m0-22v1m1 15v6m0-22v1m3 0v1m1-1v1m21-8v1m0-8v1m1 6v1m0-8v1m9-3v1m1-1v1m5-23v1m1-1v1m1 18v1m1-1v1m7-17v1m1-1v1m1-15v1m1-1v1m10 34v1m0-36v1m1 22v1m1-1v1m3-25v1m1-1v1m11 53v5m0-18v12m1 1v5m0-18v12m1-12v1m1-1v1m9-43v1m1-1v1m1 23v1m18 47v1m1-1v1m5-27v20m1-20v20m1-53v1m16 37v17m1-17v17m4-42v1m1 43v2m0-23v1m1 20v2m0-23v1m1-21v1m1-1v1m1 24v15m1-15v15m2 1v2m0-21v2m1 15v4m0-21v4m1 13v4m0-21v4m5 16v2m0-21v1m1 18v2m0-21v1m18 19v1m3-2v1m0-16v1m1 14v1m0-16v1m1-21v1m1-1v1m3 34v2m8-1v1m1-1v1m5-35v1m1-1v1m1-1v1m1-1v1m13 18v14m0-32v1m3 29v3m0-15v3m37-19v1m5-1v1m15-1v1m1-1v1m1-1v1m1-1v1m10-1v1m1 20v9m0-30v1m1 20v9m0-30v1m5-1v1m1-1v1m12-1v1m5-1v1m1-1v1m13-2v1m1-1v1m7 0v1m1-1v1m3-1v1m1-1v1m11-1v1m1-1v1m5-1v1m1-1v1m5-1v1m12-1v1m1-1v1m5-2v1m1-1v1m3 31v1m1-1v1m11-11v9m1-9v9m7-28v1m1-1v1m9-1v1m1-1v1m1 25v3m0-10v3m2-22v1m7-1v1m11 20v7m1-7v7m14 1v1m10-27v1m25 18v6m1-6v6m40-3v4m6-24v1m33 22v2m0-7v1m1 4v2m0-7v1m15-19v1m1-1v1m7-3v1m1-1v1m5-2v1m3 21v2m15-3v4m20-24v1m8-1v1m38 25v1m1-1v1m1-8v7m1-7v7m2-6v4m0-25v1m3 26v1m0-27v1m1 25v1m0-27v1m5-1v1m1-1v1m1-1v1m1-1v1m5 25v1m1-1v1m4-7v5m13-26v1m1-1v1m55-2v1m1-1v1m8-1v1m5-2v1m1-1v1m25 1v1m1-1v1m17 0v1m1-1v1m31-11v1m1-1v1m1-3v1m1-1v1m7 3v1m1-1v1"/>
<path stroke="#00a4ff" d="M1 49v1m3-5v1m4-4v1m2 1v1m3-2v1m5 2v1m2 0v1m4-3v1m25-2v1m6 4v1m1-1v1m1-1v1m4-4v1m3-3v1m1-1v1m26 1v1m3-1v1m2-2v1m8-4v1m6 2v1m22 0v1m4 0v1m12-6v1m2 4v1m2-2v1m9-4v1m9-2v1m2-3v1m2 1v1m5-3v1m15-8v1m1-1v1m1-2v1m23-3v1m1-1v1m4-4v1m5-3v1m2 2v1m3-1v1m1 2v1m3-4v1m1-4v1m12-3v1m11-3v1m2-2v1m7 4v1m4-3v1m3-1v1m1 1v1m12 3v1m1 0v1m8 1v1m1 1v1m4-1v1m6-4v1m1 67v1m9-1v1m9-71v1m4 2v1m2-3v1m2 0v1m1 0v1m3-1v1m1-1v1m1 25v7m2-33v1m1-2v1m3-1v1m4 28v5m1 8v5m2-44v1m2 42v15m1-6v6m1 7v1m2-11v5m0-38v19m0-47v1m2 60v5m1-19v2m1 17v3m0-69v1m1 62v3m2-14v2m0-54v1m1 58v5m0-38v1m1 43v1m1-5v3m1 0v2m1-7v4m2-13v3m1 4v4m1-6v5m0-67v1m1 65v4m1-9v5m1-8v5m1 8v2m1-4v3m3-4v4m3-22v4m1-1v5m1 9v3m1-5v4m1-1v3m1 1v1m0-76v1m2 71v3m2-56v1m1 55v1m1-8v3m1-3v3m1 4v1m2-17v3m1 0v4m1 10v1m0-13v5m1 7v1m0-9v3m1-5v4m4-2v3m9-12v17m1-17v17m13-14v14m0-74v1m1 59v14m0-74v1m1 11v1m1-1v1m1-33v1m1-1v1m9 81v12m0-72v1m1 59v12m0-72v1m5 61v10m1-10v10m9-9v1m1-1v1m9 4v4m1-4v4m5-39v1m1-1v1m33 7v1m1-1v1m1-1v1m0-29v1m0-16v1m1 42v1m0-29v1m0-16v1m3 16v1m1-1v1m3 40v1m1-1v1m1-22v1m1-1v1m3-19v1m0-16v1m1 14v1m0-16v1m11 14v1m1-1v1m9 2v1m1-1v1m3-19v1m1-1v1m7 20v1m1-1v1m1 2v1m1-1v1m19-17v1m1-1v1m3 33v24m0-57v1m1 32v24m0-57v1m1 54v5m0-30v5m0-34v1m1 53v5m0-30v5m0-34v1m3 2v1m1-1v1m13 52v4m0-24v3m1 17v4m0-24v3m5 21v1m1-1v1m3-4v3m0-21v3m1 15v3m0-21v3m2 18v1m0-43v1m1 41v1m1-1v1m9-40v1m8 22v14m0-35v1m1 20v14m0-35v1m1 22v12m1-12v12m4-34v1m3 35v1m1-1v1m3-37v1m1-1v1m9 1v1m1-1v1m21 32v2m3-1v1m8-14v12m3-33v1m1-1v1m3 0v1m16 20v10m0-29v1m1 18v10m0-29v1m3-2v1m1-1v1m11 0v1m1-1v1m3-1v1m1-1v1m3-1v1m1-1v1m9-2v1m1-1v1m5 30v1m0-11v1m1 9v1m0-11v1m9-1v10m1-10v10m3-30v1m1-1v1m1-1v1m6-1v1m1-1v1m3-1v1m2-1v1m1-1v1m3-1v1m1-1v1m1-1v1m1-1v1m21-1v1m2-1v1m6-1v1m1-1v1m1-1v1m40 0v1m1-1v1m1 28v2m1-2v2m19-1v1m5-8v6m15 0v1m0-9v1m1 7v1m0-9v1m1 3v1m0-24v1m1 22v1m0-24v1m1-1v1m1-1v1m27-1v1m1-1v1m17 26v2m0-9v1m1 6v2m0-9v1m1-19v1m1-1v1m4 18v6m1-5v5m1-5v5m29-23v1m3 23v1m9-25v1m1-1v1m11-1v1m4-1v1m1-1v1m46 20v3m0-7v2m0-21v1m9-1v1m1-1v1m5 23v2m0-8v2m3-20v1m11-1v1m1-1v1m5 18v6m12-25v1m1-1v1m35 25v1m1-1v1m2-3v2m0-8v2m11 0v5m1-5v5m10 0v1m0-7v1m7 0v4m0-24v1m1 19v4m0-24v1m7-2v1m1-1v1m17-1v1m1-1v1m19 0v1m1-1v1m49-4v1m1-1v1m81-5v1m1-1v1m3-1v1m1-1v1"/>
<path stroke="#00b9ff" d="M9 48v1m10-4v1m2-3v1m6-1v1m3 4v1m3 1v1m4-5v1m6-1v1m3-5v1m6 1v1m1-2v1m9 0v1m6 2v1m2-6v1m1 4v1m2-1v1m17-2v1m8-3v1m1 1v1m3 2v1m4-2v1m1 2v1m18-9v1m1 1v1m5-1v1m3 0v1m11 0v1m2-1v1m6-3v1m3-1v1m2 1v1m2-6v1m4-2v1m11-3v1m1-4v1m6 2v1m9-7v1m6-2v1m2-5v1m1-2v1m1-2v1m5 4v1m1-6v1m1 0v1m5-3v1m1 6v1m1-4v1m1-3v1m6 2v1m6-4v1m2 3v1m2 0v1m1-4v1m4-7v1m3 1v1m1 1v1m4-2v1m1-2v1m4-6v1m3 4v1m1 73v1m3-73v1m3-4v1m14-4v1m7 4v1m5-1v1m1 3v1m1-4v1m8 4v1m12 1v1m3 64v1m6-70v1m1 3v1m9-10v1m1 73v1m3-69v1m7 67v1m1-100v1m2 32v1m10 49v6m1-56v1m1 26v9m1-4v4m0-10v1m1 18v6m0-49v1m1 45v14m3-3v7m0-33v11m0-45v1m1 59v4m0-73v1m1 8v1m2 61v3m2-3v3m1-20v2m0-25v1m0-27v1m0-26v2m1 92v2m1-5v4m1-91v1m1 74v3m1 7v3m2 2v3m0-72v1m2 67v2m0-89v1m1 17v1m1 58v5m0-62v1m0-22v2m1 84v3m0-44v1m1 39v3m1 0v2m0-71v1m1 64v4m0-70v1m1 62v5m0-70v1m0-12v2m2 83v1m3-1v1m0-81v2m0-11v2m3 69v3m1 1v5m1 7v3m0-55v1m1 50v3m1-1v2m0-98v1m3 96v1m0-92v2m1-1v1m3 90v1m0-6v4m1-4v4m1-95v1m1 95v1m1-15v4m0-47v1m1 46v4m1-1v3m0-53v1m1 51v4m1-5v4m0-90v1m4 86v4m6-50v1m0-41v2m2 27v2m1 14v1m0-34v2m0-7v1m0-4v2m1-7v1m1 74v1m0-76v2m1 73v1m1-10v1m0-28v2m0-20v1m1 44v1m0-46v1m1-29v2m3 56v2m1-3v1m0-20v2m0-7v1m2 50v1m1-1v1m4-37v2m1 35v14m0-47v1m1 32v14m3-13v13m0-86v1m0-5v2m1 75v13m0-86v1m1 29v2m5-6v1m1 1v2m0-41v2m3 59v2m0-11v2m2 8v2m1 9v1m1-1v1m1 15v1m1-1v1m1-17v1m1-1v1m0-31v1m5 15v2m10 32v4m1-4v4m10-70v1m7 32v1m1-1v1m5 0v1m1-1v1m7-34v1m1-1v1m5-1v1m1-1v1m3 30v1m0-35v1m1 33v1m0-35v1m1-12v2m2 23v1m2 24v1m1-1v1m1-37v1m1-1v1m10 13v1m5-16v1m1-1v1m10-25v1m1 4v2m14-6v2m3 2v1m4 11v2m8-20v2m1 25v2m4 39v26m2-3v4m0-32v4m1 24v4m0-32v4m0-47v1m1 73v2m0-33v1m0-40v1m0-10v2m1 77v2m0-33v1m0-47v1m6-7v1m3 0v2m4-14v2m4 93v1m1-1v1m0-64v2m0-38v1m4 79v16m0-80v1m1 18v2m2 8v1m0-8v1m0-32v1m2 91v1m0-74v1m1 72v1m0-52v1m2-10v1m1 3v1m0-28v1m2 42v1m5-9v1m1 30v15m0-93v2m5 42v2m5 47v2m0-18v2m0-51v2m0-9v1m1 71v2m0-18v2m1 14v2m0-16v2m0-64v2m1 74v2m0-16v2m1 0v12m0-34v1m1 21v12m0-34v1m2-30v1m0-11v2m4-12v2m2-2v2m1 69v13m1-13v13m1-34v1m3-9v2m3-28v2m2-10v2m0-10v2m8 11v1m0-19v2m2 54v1m0-17v2m0-37v1m1 50v1m0-52v2m1 49v1m1-1v1m3-37v1m1-7v1m3 41v1m1-1v1m0-42v2m1 57v1m0-71v2m3 51v1m2-59v2m3 78v6m0-28v1m1 21v6m0-28v1m2 31v1m0-14v1m1 1v11m1-11v11m3-32v1m0-9v1m12 31v8m0-30v1m0-19v1m0-48v2m1 85v8m0-30v1m5 28v2m0-14v2m1 10v2m0-14v2m3-77v1m11 15v2m1 62v5m1-5v5m1-27v1m4-1v1m1-1v1m1-49v2m6 15v1m2 30v1m1-1v1m2-28v1m4-38v1m1 94v1m1-1v1m9-2v1m0-13v2m1 10v1m0-13v2m9-20v1m1-1v1m1 20v6m1-6v6m19-27v1m1-1v1m2-64v2m7 61v1m1-1v1m17 0v1m3-2v1m4 0v1m19 17v1m1-1v1m7-20v1m1-1v1m23 2v1m5 26v1m0-9v2m1 1v5m1-5v5m5-6v4m0-26v1m8 28v1m1-1v1m1-5v4m0-9v4m1 1v4m0-9v4m3-23v1m1-1v1m29-1v1m1-1v1m13 1v1m1-1v1m1 20v3m1-3v3m4 1v2m0-9v1m1 6v1m0-7v1m1 5v1m0-7v1m3-19v1m1-1v1m1-1v1m1-1v1m8-1v1m1 18v5m0-23v1m1 17v5m0-23v1m40 18v4m14-23v1m11 16v6m0-22v1m1 15v6m0-22v1m3-1v1m1-1v1m5-1v1m1-1v1m12 22v1m6-27v1m9 25v1m20-2v2m0-9v1m24-19v1m1-1v1m23-2v1m1-1v1m2 26v1m11-2v1m0-7v1m1 5v1m0-7v1m7-19v1m3 24v1m0-27v1m7 23v2m0-8v2m1 4v2m0-8v2m5-2v8m1-8v8m15-27v1m1-1v1m17-1v1m1-1v1m63-1v1m1-1v1m15 20v6m1-6v6m15-27v1m1-1v1m53-7v1"/>
<path stroke="#00ceff" d="M0 46v1m11-3v1m17 4v1m11 0v1m6-2v1m6-3v1m7-2v1m6-2v1m1-1v1m1 2v1m8-1v1m1 0v1m3-4v1m3-1v1m2-2v1m1-2v1m1 1v1m2-5v1m10 1v1m11-2v1m4 3v1m2-2v1m1 1v1m1-2v1m3 1v1m9-5v1m9 1v1m1-2v1m5-3v1m8-3v1m4 6v1m7-9v1m3-2v1m1 0v1m1 1v1m1 0v1m5-4v1m4-4v1m1 1v1m2-2v1m6-7v1m2-2v1m4 2v1m10-5v1m1-1v1m9-2v1m6-1v1m7 0v1m1-5v1m1 1v1m4-1v1m5-5v1m7 3v1m4-2v1m2-6v1m10-2v1m6-4v1m4-1v1m8 1v1m5 2v1m3 3v1m4 1v1m1 2v1m3-1v1m6 0v1m4 0v1m1-4v1m2 66v1m0-66v1m1-2v1m3-4v1m2 2v1m1 50v5m0-56v1m3-1v1m3-1v1m5-2v1m1 48v13m0-60v1m2-4v1m1-1v1m1-2v1m6 0v1m2 49v18m14-10v10m0-21v5m0-51v1m2 36v3m0-13v1m0-25v1m1 33v2m0-37v1m1 49v9m1 2v4m0-21v3m3-23v8m1 30v3m0-66v1m2-2v1m1 64v2m1-69v1m1 66v2m0-69v1m1 48v2m1-27v1m1 43v1m0-45v1m0-27v1m2 56v4m1 6v3m1-69v1m3 68v1m0-71v1m2 62v3m1 3v2m1-3v3m0-46v1m1 44v1m1-3v2m0-46v1m1 41v3m0-46v1m2-28v1m6 58v3m1 3v4m2 5v1m3-57v1m4-1v1m1 55v1m1-1v1m0-57v1m3 46v4m1 0v4m1-2v3m1 0v1m1-2v2m0-58v1m4 56v1m9-26v1m1-1v1m1-39v1m1-1v1m5-2v1m1-1v1m13-19v1m1-1v1m9 20v1m0-12v1m1 10v1m0-12v1m29 72v1m1-1v1m3-37v1m1-1v1m13 17v1m1-1v1m7-1v1m1-1v1m5-22v1m1-1v1m3 21v1m0-16v1m1 14v1m0-16v1m1-7v1m0-32v1m1 30v1m0-32v1m1 36v1m0-40v1m2 0v1m1-1v1m9 0v1m4 55v1m0-56v1m1 54v1m0-56v1m11-3v1m1-1v1m3-1v1m1-1v1m1 0v20m1-20v20m11-21v1m5-2v1m9 7v1m1-1v1m1 0v1m1-1v1m3 60v2m0-29v1m0-34v1m2 60v1m1-1v1m3-31v28m12-48v1m1-1v1m5 2v1m1-1v1m2 43v3m0-22v3m5-23v1m1-1v1m3-1v1m1-1v1m5 2v1m1-1v1m1 36v2m0-19v2m4 3v9m0-32v1m1 22v9m0-32v1m3-1v1m1-1v1m1 36v1m1-1v1m1-1v1m1-1v1m1-3v2m0-17v3m1 12v2m0-17v3m3-21v1m1-1v1m5 33v1m0-15v1m1 13v1m0-15v1m6 3v7m1-9v10m6-31v1m2 18v14m1-14v14m9-32v1m1-1v1m9-1v1m1-1v1m1 0v1m1-1v1m1 26v4m0-14v4m1 6v4m0-14v4m2 11v1m1-2v2m0-14v1m1 11v2m0-14v1m14-19v1m1 29v2m0-11v1m1 8v2m0-11v1m1-22v1m1-1v1m1 21v8m1-8v8m1 1v1m1-1v1m1-13v11m1-11v11m8-11v11m1-29v1m1-1v1m1-2v1m1-1v1m1 26v4m0-12v3m1 5v4m0-12v3m13-22v1m1-1v1m13 21v7m1-7v7m3-28v1m1-1v1m1 29v1m1-1v1m1-31v1m1-1v1m7 16v12m1-12v12m1-3v4m0-13v3m1 6v4m0-13v3m7-20v1m1-1v1m23-1v1m6-1v1m1-1v1m21-1v1m2-1v1m1-1v1m5-1v1m1-1v1m3-1v1m1-1v1m13 18v1m0-19v1m1 17v1m0-19v1m1-1v1m1-1v1m3 0v1m1-1v1m18 27v1m0-29v1m1 26v2m0-8v1m0-22v1m1 26v2m0-8v1m0-22v1m5 24v3m0-10v3m8-21v1m1-1v1m1 27v1m1-1v1m1-6v5m1-5v5m10-26v1m37 23v2m0-7v2m1 3v2m0-7v2m4-21v1m1 25v1m1-1v1m1-26v1m1-1v1m13 23v1m0-7v1m1 5v1m0-7v1m16-17v1m12-1v1m3-1v1m1-1v1m8 21v2m0-7v1m0-18v1m9-2v1m1-1v1m15 22v1m0-8v1m1 6v1m0-8v1m5-16v1m1-1v1m6-2v1m3 17v5m0-24v1m1 18v5m0-24v1m3 20v2m6-4v6m0-25v1m12-1v1m3 19v3m1-5v6m1-6v6m77 1v1m1-1v1m5-26v1m1-1v1m1 18v5m10 1v1m1-1v1m3-26v1m1-1v1m1 24v1m1-1v1m13-6v4m1-4v4m7-25v1m1-1v1m55-4v1m1-1v1m19 21v6m1-6v6m15 1v1m0-8v1m1 6v1m0-8v1m1-20v1m1-1v1m9-2v1m1-1v1m19-9v1m1-1v1m1 20v13m0-36v1m1 22v13m0-36v1"/>
<path stroke="#00e2f9" d="M3 44v1m3 5v1m7-7v1m2 1v1m4-1v1m4 0v1m3 0v1m5 0v1m11-3v1m2-2v1m23 0v1m3-5v1m5 42v3m4-42v1m13-1v1m1-2v1m1 0v1m7-2v1m3-4v1m1 6v1m4-4v1m1-2v1m1 1v1m6-4v1m1-4v1m9 6v1m6-4v1m3 1v1m8-2v1m2 2v1m1-3v1m1-6v1m6 2v1m3 0v1m2-1v1m4-11v1m6 5v1m2-6v1m10-4v1m2 1v1m1 1v1m1-5v1m2 1v1m3-2v1m3-7v1m1 3v1m10-6v1m1-1v1m6-2v1m2-3v1m4 5v1m2-2v1m2-6v1m2 3v1m5-3v1m1-3v1m4 3v1m2 1v1m3-4v1m2-4v1m1 1v1m1-5v1m9-1v1m3 3v1m1-6v1m1-3v1m14-2v1m2 1v1m3 1v1m2 74v1m1-76v1m20 9v1m4-2v1m7-1v1m4 55v10m0-20v5m1-50v1m9-2v1m2 60v5m0-22v4m6-24v11m2-38v1m4 68v1m0-22v3m0-49v1m7 66v1m0-65v1m1-3v1m5 65v1m1-1v1m0-27v5m2-6v3m1-4v1m1 21v6m1-24v3m1-20v17m2-18v1m2-3v1m5 25v2m3 16v1m0-71v1m1 59v4m1 5v1m1-46v1m2-25v1m3 64v4m0-45v1m1-26v1m1 70v1m1-48v1m1 45v1m1-2v2m5-53v1m3 39v5m0-46v1m0-22v1m1 68v4m14-4v4m1 0v2m1-1v1m5-58v1m1 57v1m23-1v1m0-16v1m1 14v1m0-16v1m1-85v1m1-1v1m1 0v1m1-1v1m5 14v1m0-4v1m1 2v1m0-4v1m7 85v1m1-1v1m3-10v1m1-1v1m9-14v1m1-1v1m1 21v1m1-1v1m13-38v1m1-1v1m11 8v1m1-1v1m3 9v1m1-1v1m9-13v1m0-36v1m1 34v1m0-36v1m11 31v1m0-26v1m1 24v1m0-26v1m3 20v1m0-21v1m1 19v1m0-21v1m1-12v1m1-1v1m3-2v1m1-1v1m3 13v1m3-15v1m1 13v1m1-1v1m3-15v1m1-1v1m5 57v1m2-23v1m1-1v1m9-18v1m1-1v1m1 23v27m1-27v27m5-24v24m12-18v18m1-18v18m13-3v2m0-32v2m4-26v1m1-1v1m3 2v1m1-1v1m7 4v1m1-1v1m4 47v1m1-45v1m1-1v1m12 28v10m0-34v1m3 38v1m4-6v4m0-17v4m1 9v4m0-17v4m7-22v1m1-1v1m1 35v1m1-1v1m5-36v1m1-1v1m3 34v1m1-1v1m3-15v13m0-33v1m1 19v13m0-33v1m2 29v4m0-14v3m0-23v1m1 30v3m0-16v3m0-21v1m8 32v1m0-16v1m1 14v1m0-16v1m5 1v12m1-12v12m17 1v2m0-17v1m1 14v2m0-17v1m2-18v1m1-1v1m1-1v1m19 31v2m0-11v1m0-21v1m1 28v2m0-11v1m0-21v1m3 28v1m0-13v1m0-18v1m1 28v1m0-13v1m0-18v1m5-2v1m3 29v2m0-14v1m5 12v1m1-1v1m1-11v9m2-9v8m1-8v8m7-8v8m1-8v8m7-28v1m8 27v2m0-11v2m0-20v1m1 26v2m0-11v2m0-20v1m5-2v1m1-1v1m9 28v2m0-15v1m1 12v2m0-15v1m1 13v1m0-15v1m1 13v1m0-15v1m13-17v1m1-1v1m3 20v6m0-27v1m1 20v6m0-27v1m3 20v6m1-6v6m3-8v8m0-28v1m1 19v8m0-28v1m5 20v9m19-8v6m6-27v1m5 19v9m1-9v9m7-30v1m1-1v1m3 0v1m1-1v1m29 19v9m0-27v1m1 17v9m0-27v1m3-1v1m7-1v1m3 27v1m0-12v1m12 10v1m1-1v1m47-1v1m1-1v1m5-26v1m1-1v1m3 18v6m1-6v6m11 0v1m1-1v1m17-4v2m0-22v1m1 19v2m0-22v1m37-1v1m1-1v1m3-1v1m1-1v1m5 22v1m0-10v1m1 8v1m0-10v1m9 4v2m1-2v2m3-23v1m1-1v1m1 23v1m0-8v2m1 5v1m0-8v2m3 4v2m0-7v3m0-22v1m6 25v1m3-7v4m12 0v2m0-7v2m1 4v1m0-8v1m0-18v1m1 23v1m0-8v1m0-18v1m9 20v2m1-2v2m13-23v1m4 19v3m1-3v3m11-4v5m1-5v5m13-27v1m1-1v1m7-1v1m1-1v1m4 1v1m3 0v1m1-1v1m5-1v1m1-1v1m9 23v2m0-8v1m14-1v7m1-7v7m13-26v1m1-1v1m1 24v1m0-6v1m1 4v1m0-6v1m19-1v5m1-5v5m63 0v2m0-9v1m1 6v2m0-9v1m1-20v1m1-1v1m15 18v8m1-8v8m13-8v7m1-7v7m17 0v1m0-15v1m1 13v1m0-15v1m7-19v1m1-1v1m15 19v11m1-11v11"/>
<path stroke="#0ef7e9" d="M4 46v1m4-4v1m2 1v1m2 4v1m2-6v1m4 1v1m2 0v1m2 0v1m3-2v1m2-5v1m5 2v1m5-1v1m1-4v1m2 2v1m1 0v1m5-6v1m3 1v1m13-1v1m1 4v1m12 38v6m0-11v2m7-40v1m13 0v1m8-2v1m18 1v1m5-3v1m3 1v1m1-3v1m2 0v1m7-2v1m2-5v1m11 4v1m1-2v1m8-3v1m1-3v1m2-1v1m10 0v1m1-4v1m1-4v1m10-4v1m9-1v1m1-2v1m2-4v1m1-2v1m2-3v1m6-1v1m1 71v1m0-72v1m1 2v1m1-2v1m5-1v1m5 0v1m7-2v1m3 1v1m2 0v1m2-5v1m5-4v1m5 3v1m1-4v1m1-2v1m2-1v1m4-2v1m6-8v1m5 0v1m1 1v1m5-2v1m5 1v1m2 2v1m3 0v1m4-4v1m12 7v1m18 43v4m1 3v10m1-60v1m7 3v1m3 37v3m1-43v1m5 33v2m6 5v3m8-19v16m2-43v1m2-2v1m1 0v1m1 35v5m1-14v10m1 6v2m1-5v2m1-16v1m1 13v3m0-40v1m1 39v9m0-49v1m3 63v1m6-17v3m2 13v1m1-47v1m1 39v4m1-69v1m3 24v1m1-1v1m2 44v2m2-73v1m11 63v4m1 2v2m0-76v1m5 0v1m1 74v1m0-58v1m1-1v1m2 56v1m3-76v1m2 72v2m23-73v1m1-1v1m9 47v1m0-48v1m1 46v1m0-48v1m1 47v1m1-1v1m1 9v1m0-12v1m1 10v1m0-12v1m1 0v1m1-1v1m5-2v1m1-1v1m1-38v1m1-1v1m5-8v1m1-1v1m3 68v1m1-1v1m7-10v1m1-1v1m3 8v1m1-1v1m1-1v1m1-1v1m5-5v5m1-5v5m33-19v1m0-43v1m1 41v1m0-43v1m1 59v1m0-61v1m0-14v1m1 72v1m0-61v1m0-14v1m5 32v1m0-20v1m20 58v1m1-1v1m7-12v1m1-1v1m9-61v1m1-1v1m3 45v26m1-26v26m6-23v23m3-21v21m1-21v21m11-62v1m1-1v1m7 60v1m0-59v1m12 31v25m1-25v25m1-25v24m0-47v1m1 22v24m0-47v1m6 25v1m0-23v1m14 39v4m0-18v4m3-23v1m2-1v1m2 36v2m1-2v2m17-36v1m1-1v1m5 33v1m0-15v1m1 13v1m0-15v1m2 14v1m0-16v1m1 14v1m8-1v1m1-1v1m5-3v2m0-16v2m1 12v2m0-16v2m9-18v1m16 23v1m20 7v1m1-1v1m3-31v1m2 20v4m3-25v1m1 19v9m1-9v9m3-29v1m1-1v1m1 28v1m0-11v1m2 8v2m0-12v2m1 8v2m0-12v2m5-20v1m1-1v1m1 27v2m0-12v2m1 8v2m0-12v2m10-20v1m1-1v1m1-1v1m1-1v1m1-1v1m1 29v1m0-13v1m1 11v1m0-13v1m1-19v1m1-1v1m5 18v10m1-10v10m1-29v1m1-1v1m4-1v1m5-1v1m1-1v1m3 20v8m1-8v8m9-30v1m1-1v1m1 27v3m0-11v2m1 6v3m0-11v2m3 6v3m0-12v3m0-21v1m1 26v3m0-12v3m0-21v1m1-1v1m1-1v1m1 26v3m0-13v2m1 8v3m0-13v2m1-19v1m1-1v1m3 28v2m0-12v1m8-20v1m1-1v1m1 20v7m1-7v7m3-28v1m1-1v1m4 26v3m0-12v3m1 0v6m0-27v1m5 19v9m5 0v1m0-11v1m1 9v1m0-11v1m1-20v1m1-1v1m3 18v10m1-10v10m15-28v1m1-1v1m9 0v1m1-1v1m9 26v1m0-11v1m1 9v1m0-11v1m23-17v1m1-1v1m1 20v1m0-22v1m1 20v1m0-22v1m1 17v7m0-25v1m1 17v7m0-25v1m18 1v1m7-3v1m1-1v1m3-1v1m1-1v1m15 1v1m1-1v1m9 24v1m1-1v1m1-8v7m1-7v7m23-23v1m4 21v2m0-5v1m1 2v2m0-5v1m4 0v1m0-21v1m3-1v1m1-1v1m5 17v5m1-5v5m5-23v1m22 18v4m1-4v4m15-2v2m0-6v2m1 2v2m0-6v2m5 4v1m1-1v1m3-1v1m3-26v1m6 22v2m0-8v2m3-19v1m1-1v1m8 24v1m1-1v1m1-1v1m9-3v2m0-7v3m0-21v1m1 22v2m0-7v3m0-21v1m5-1v1m12 22v2m0-7v2m0-20v1m1 22v2m0-7v2m0-20v1m11 23v1m0-7v1m1 5v1m0-7v1m37-19v1m1-1v1m5 18v1m1-1v1m15 5v1m1-1v1m1-27v1m1-1v1m13 25v1m0-27v1m1 25v1m0-27v1m19 24v1m0-7v1m1 5v1m0-7v1m21-21v1m1-1v1m3-1v1m1-1v1m1-2v1m3 0v1m5-2v1m1-1v1m25 1v1m1-1v1m17 0v1m1-1v1m1 24v1m0-10v1m1 8v1m0-10v1m13 7v2m0-10v1m1 7v2m0-10v1m17 8v1m1-1v1m23-3v2m0-15v2m0-19v1m1 29v2m0-15v2m0-19v1m3-1v1m1-1v1"/>
<path stroke="#1fffd8" d="M5 46v1m6-2v1m5 3v1m1-2v1m7-3v1m19 0v1m9-3v1m4 4v1m1-1v1m7-5v1m1-1v1m3 1v1m7 46v2m0-14v1m0-34v1m23-6v1m1 1v1m1 1v1m25-6v1m9 2v1m3 0v1m12 0v1m1-2v1m1-6v1m5 2v1m7-9v1m3 3v1m11-4v1m1 1v1m4-2v1m6-8v1m9-1v1m9-2v1m7-6v1m1 5v1m2-6v1m6 2v1m7-5v1m2 2v1m6-7v1m3 2v1m10-7v1m3 77v1m0-74v1m7-2v1m2-4v1m3-3v1m2 4v1m13 1v1m4 0v1m2-2v1m1 3v1m1-4v1m4 2v1m1 50v9m1-60v1m2 1v1m1-3v1m3 1v1m1 1v1m4-1v1m6-4v1m2 39v3m1 17v8m0-23v5m4-26v12m3-33v1m1 20v8m3 35v1m0-30v4m1-18v12m4-38v1m1 39v2m0-16v1m0-25v1m1-2v1m4-1v1m1 40v3m2-42v1m4-1v1m2 41v9m0-26v1m1-26v1m2-3v1m2 27v12m1-12v9m1 1v4m0-39v1m1 42v3m1-6v2m2-9v5m1 12v10m2-61v1m2-1v1m2 21v1m0-27v1m1 24v1m2 31v4m0-61v1m1-1v1m3 67v2m0-70v1m2 69v1m3-1v1m1-72v1m5 70v1m2-74v1m4-2v1m3 69v3m1 1v1m3-58v1m4 56v1m5-1v1m2-75v1m4 73v1m9-1v1m1-1v1m11-1v1m1-1v1m3-1v1m1-1v1m3-96v1m1-1v1m9 70v1m1-1v1m3 23v1m1-1v1m3-25v1m0-40v1m1 38v1m0-40v1m7 62v1m1-1v1m17-32v1m1-1v1m1-1v1m1-1v1m9 13v1m0-12v1m1 10v1m0-12v1m1 27v1m1-1v1m23-60v1m1-1v1m1-10v1m1-1v1m1 51v1m0-55v1m2 69v1m0-70v1m1 68v1m0-70v1m1 53v1m1-1v1m3 14v1m1-1v1m3-47v1m3 0v1m11 44v1m0-35v1m8 22v1m1-1v1m3-17v28m1-28v28m10-47v1m2 24v22m3-20v20m1-20v20m1-72v1m1-1v1m3 42v26m1-26v26m7-58v1m1-1v1m1 0v1m1-1v1m1 25v1m6 6v25m1-25v25m5 0v1m0-27v1m1 25v1m0-27v1m1 24v2m0-28v2m1 24v2m0-28v2m9-16v1m1-1v1m4 0v1m6 39v2m0-21v1m7 0v1m1-1v1m3 2v14m1-14v14m1-34v1m1-1v1m6 0v1m7-1v1m1-1v1m3 34v1m1-1v1m5-34v1m1-1v1m5-1v1m1-1v1m1-1v1m1-1v1m3 32v1m1-1v1m15-15v13m1-13v13m7-32v1m1-1v1m1 25v6m0-14v7m2-24v1m16 1v1m1-1v1m3 20v8m0-30v1m1 21v8m0-30v1m3 25v4m0-12v4m4 8v1m0-11v1m1 9v1m0-11v1m5 10v1m2-1v1m0-31v1m1 29v1m0-31v1m3 16v12m0-29v1m1 16v12m0-29v1m3 29v1m0-31v1m1 29v1m0-31v1m1 20v7m1-7v7m3-29v1m1-1v1m11 22v5m1-5v5m5 2v1m0-12v1m1 10v1m0-12v1m1 2v8m1-8v8m7-29v1m1-1v1m3-1v1m2 28v2m0-11v1m0-21v1m1 28v2m0-11v1m0-21v1m3-1v1m1-1v1m1-1v1m1-1v1m5 29v1m1-1v1m3-1v1m1-1v1m3-1v1m0-15v1m1 13v1m0-15v1m1 6v2m1-2v2m1-25v1m1-1v1m3-1v1m2-1v1m2 18v10m1-10v10m1-10v9m1-9v9m1 0v2m0-11v2m0-21v1m1 27v2m0-11v2m0-21v1m1-1v1m7 29v1m1-4v3m0-12v3m5 8v1m0-12v2m3-1v10m2 1v1m1-1v1m1-12v8m1-8v8m3 2v1m0-13v2m1 10v1m0-13v2m13 2v7m1-7v7m21 2v1m1-1v1m1-28v1m20 16v1m1-1v1m5 7v2m0-11v2m1 7v2m0-11v2m43-16v1m1-1v1m11 0v1m1-1v1m1 23v1m0-9v1m1 7v1m0-9v1m8-17v1m24 21v2m0-5v2m9 3v1m1-1v1m9-24v1m1-1v1m12-1v1m5 22v1m0-6v1m1 4v1m0-6v1m9-1v4m1-4v4m5 1v1m0-8v1m0-16v1m1 21v1m0-8v1m0-16v1m18 21v1m0-26v1m12-1v1m11 24v1m1-1v1m17-1v1m1-1v1m11-1v1m0-9v1m0-18v1m1 24v1m0-9v1m0-18v1m13 16v7m1-7v7m7-7v1m1-1v1m1-1v1m0-19v1m1 17v1m0-19v1m24 0v1m7-1v1m1-1v1m7-2v1m1-1v1m17 17v8m1-8v8m13 0v1m1-1v1m5-26v1m1-1v1m15 19v1m1-1v1m3-3v7m1-7v7m9-5v3m1-3v3m7-5v7m1-7v7m11-28v1m1-1v1m5 21v5m1-5v5m3-4v3m1-3v3m29-24v1m1-1v1m17-11v1m1-1v1m23 35v1m1-1v1m11-33v1"/>
<path stroke="#30ffc7" d="M0 47v1m7 3v1m12-5v1m2-4v1m8 3v1m7 1v1m8-4v1m4 1v1m2-3v1m3-4v1m1 4v1m4-3v1m3-1v1m1-2v1m5 1v1m3-5v1m1 3v1m3 0v1m1 47v2m0-17v1m0-13v4m2-26v1m4-2v1m2-2v1m7 0v1m6-2v1m8-3v1m4-1v1m2 2v1m8-5v1m5 5v1m1-3v1m4-2v1m3-1v1m4-2v1m1 3v1m4-3v1m3-3v1m2 2v1m2 0v1m8 0v1m3-3v1m1-1v1m5-6v1m3 0v1m1 0v1m7-5v1m10-6v1m5 0v1m1-4v1m1 1v1m1-6v1m1 3v1m25-4v1m2-6v1m7 1v1m4 4v1m1-4v1m3-6v1m5 2v1m1-5v1m5 3v1m2-6v1m2 0v1m6 2v1m2 70v1m2-73v1m10-2v1m2-5v1m4-1v1m5 59v17m0-74v1m7 5v1m1 2v1m1-5v1m2 60v8m0-20v3m0-48v1m6 0v1m9-1v1m2-5v1m2 2v1m1 32v5m0-38v1m1 38v4m4-9v4m0-17v1m0-21v1m2-3v1m2 30v12m3-20v14m1-2v7m1 24v1m4-28v2m2 25v1m1-67v1m1 65v1m2-33v5m5 12v5m0-56v1m3 50v15m2-40v30m3-18v9m1-47v1m1 39v4m1 3v3m0-47v1m1 39v2m0-43v1m1 0v1m1 22v8m1 27v5m2 0v1m1-66v1m2 19v1m4 35v4m1 5v1m3-47v1m3-25v1m1 69v1m1-71v1m2 0v1m3-3v1m2-4v1m1 73v1m0-51v1m1-2v1m6 49v1m2-76v1m3 18v1m6-1v1m5-2v1m16 57v1m1-1v1m7-26v1m1-1v1m1-48v1m4 6v1m1-1v1m1 49v1m1-1v1m1-81v1m1-1v1m3 31v1m1-1v1m3 62v1m1-1v1m7-71v1m1-1v1m1 69v1m1-1v1m5-24v1m1-1v1m3 22v1m1-1v1m5-8v1m1-1v1m3 6v1m1-1v1m9-32v1m1-1v1m5 30v1m0-36v1m1 34v1m0-36v1m5 34v1m1-1v1m1-4v3m0-31v1m1 27v3m0-31v1m7 30v1m0-69v1m1 67v1m0-69v1m5 63v5m0-33v1m0-37v1m1 63v5m0-33v1m0-37v1m1 28v1m1-1v1m3 38v1m0-60v1m1 58v1m0-60v1m3 24v1m0-25v1m1 23v1m0-25v1m1 57v1m1-1v1m3-4v3m1-3v3m3-13v1m3-44v1m1 55v1m0-68v1m1 66v1m0-68v1m3 55v1m1-1v1m5 8v2m0-69v1m6 68v1m0-12v1m1 10v1m0-12v1m1 10v1m1-1v1m1-29v29m1-29v29m3-50v1m1-1v1m1-23v1m1-1v1m1 44v27m1-27v27m4-24v1m7 1v22m1-22v22m1-71v1m1-1v1m1 67v2m0-30v2m0-34v1m1 59v2m0-30v2m0-34v1m1 33v26m1-26v26m11-54v1m1-1v1m1 27v27m1-27v27m1 0v1m0-28v2m0-27v1m1 51v1m0-28v2m0-27v1m1 25v26m1-26v26m3 1v1m1-1v1m1-1v1m0-30v1m1 28v1m0-30v1m7 4v1m1-1v1m9 2v20m0-38v1m14 36v2m0-18v2m1 14v2m0-18v2m5-19v1m1-1v1m3 19v13m1-13v13m7-14v1m0-19v1m18 0v1m1-1v1m1-1v1m1-1v1m7 18v13m0-32v1m1 18v13m0-32v1m5 18v13m1-13v13m1 0v1m0-15v1m1 13v1m0-15v1m9 13v2m12-31v1m1-1v1m1-1v1m1-1v1m7 28v2m0-11v1m1 8v2m0-11v1m3 8v2m0-15v1m4 13v1m1-1v1m3-14v1m1-1v1m1 0v1m0-19v1m4-1v1m1-1v1m1 28v2m0-15v1m1 12v2m0-15v1m5 11v2m0-11v2m1 7v2m0-11v2m1-21v1m1-1v1m13 26v3m0-11v3m1 5v3m0-11v3m5 8v1m1-1v1m1-2v1m0-11v2m1 8v1m0-11v2m1-21v1m4-1v1m1-1v1m5 19v9m4-8v6m1-6v6m9-9v1m1-1v1m1 2v6m0-27v1m1 20v6m0-27v1m7 24v4m0-11v5m1 2v4m0-11v5m9 6v1m0-12v1m1 10v1m0-12v1m1 9v2m0-13v2m1 9v2m0-13v2m1 11v1m1-1v1m5-30v1m3-2v1m1 29v1m3-30v1m2 28v1m3-2v2m0-13v1m4 8v3m0-13v2m1 8v3m0-13v2m3 11v1m1-1v1m13-3v2m0-11v2m0-21v1m1 27v2m0-11v2m0-21v1m5 1v1m1-1v1m22 0v1m7-2v1m8 0v1m1-1v1m5 26v1m1-1v1m50-26v1m3 0v1m1-1v1m3-1v1m1-1v1m8 17v6m1-23v1m1-1v1m16 0v1m6 21v1m6-6v5m0-22v1m9 14v7m12-23v1m1-1v1m15 0v1m1-1v1m3 20v2m0-7v1m0-17v1m1 20v2m0-7v1m0-17v1m1 15v6m0-22v1m1 15v6m0-22v1m6 18v3m0-23v1m1-2v1m1-1v1m1-1v1m1-1v1m9-1v1m6 16v7m1-7v7m63-1v1m0-9v1m1 7v1m0-9v1m31-16v1m16 14v1m1-1v1m1 1v1m1-1v1m17 6v1m0-10v1m0-18v1m1 25v1m0-10v1m0-18v1m19 19v6m1-6v6m19 0v1m1-1v1m9-3v2m0-7v2m1 3v2m0-7v2m7 5v1m0-29v1m1 27v1m0-29v1m17 26v2m0-8v1m1 5v2m0-8v1m3 4v2m0-7v2m1 3v2m0-7v2m25 0v3m1-3v3m19-8v6m0-30v1m1 23v6m0-30v1m9 23v6m1-6v6"/>
<path stroke="#41ffb6" d="M3 45v1m7 0v1m3-2v1m2 1v1m12-3v1m6 5v1m5-7v1m1 53v1m7-56v1m1 6v1m4-4v1m15 0v1m3-1v1m3-3v1m3 26v2m0-7v1m3-23v1m6-3v1m1 1v1m6-1v1m2-1v1m1 0v1m3-4v1m4 1v1m1 2v1m7-3v1m2 0v1m3-3v1m2 0v1m1-3v1m3 0v1m20 51v1m2-52v1m6-5v1m4 3v1m1-2v1m1-1v1m6-5v1m1 1v1m1-3v1m7 0v1m2-6v1m5-2v1m4 1v1m6-6v1m10-2v1m4-7v1m1-1v1m4 1v1m2-3v1m4 0v1m2-2v1m3 0v1m2 1v1m2 0v1m5-1v1m2-2v1m2-4v1m1 4v1m1-3v1m3-2v1m1 2v1m3-4v1m1-4v1m1 0v1m3 1v1m3-4v1m9-4v1m1-3v1m2-4v1m1 3v1m4-4v1m5 3v1m1-4v1m1-1v1m4 1v1m1 1v1m3-1v1m4 53v3m11-6v3m5-44v1m4-2v1m1 1v1m1-4v1m2 1v1m1-2v1m2-1v1m4 20v12m1 2v4m2-39v1m1-4v1m1 40v4m1-42v1m3 41v10m0-31v1m1 26v6m3-13v6m1-49v1m1-1v1m1-2v1m2 42v2m4-44v1m2 25v9m1-35v1m2-2v1m2 57v10m0-19v4m2-27v1m2 1v9m1 21v10m2-17v10m1-12v10m2-13v3m1 3v6m1-11v1m6-24v1m2-23v1m2-3v1m1 21v1m1 40v4m2-69v1m4 0v1m1 22v1m3 45v1m0-47v1m2 45v1m0-71v1m2 69v1m1-73v1m3-3v1m3 73v1m4-56v1m1 54v1m1-1v1m0-58v1m1 56v1m9-59v1m1-1v1m4-1v1m5-1v1m5 39v1m0-9v1m1 7v1m0-9v1m5-46v1m1-1v1m1 70v1m0-65v1m1 63v1m0-65v1m1 63v1m1-1v1m3-1v1m2-65v1m1-1v1m5-34v1m1-1v1m1 31v1m1-1v1m1 64v1m0-86v2m1 83v1m0-86v2m1-2v2m1-2v2m9 83v1m1-1v1m9-1v1m1-1v1m17-5v4m1-4v4m11-3v3m1-3v3m3-3v3m0-34v1m1 30v3m0-34v1m1 33v1m1-1v1m7-67v1m1-1v1m5 27v1m1-1v1m1 34v3m0-32v1m0-30v1m0-12v1m1 68v3m0-32v1m0-30v1m0-12v1m1 67v4m0-71v1m1 66v4m0-71v1m1 54v1m0-52v1m1 50v1m0-52v1m1 6v1m2 56v3m0-36v1m1 32v3m0-36v1m5-21v1m1-1v1m6 55v1m13-3v3m1-3v3m1-1v1m0-12v1m0-59v1m1 68v1m0-12v1m0-59v1m1 66v2m0-31v1m1 28v2m0-31v1m1 29v1m1-1v1m1-70v1m1-1v1m3-2v1m1-1v1m8 0v1m2 23v1m1-25v1m1-1v1m1-1v1m1-1v1m5 69v1m1-1v1m1-3v2m0-30v2m0-33v1m1 58v2m0-30v2m0-33v1m3 0v1m10 58v1m0-30v2m1 27v1m0-30v2m1 28v1m1-1v1m1-2v1m0-28v1m1 26v1m0-28v1m9 6v20m0-45v1m1 24v20m0-45v1m7 23v1m0-20v1m1 18v1m0-20v1m3-1v1m1-1v1m1 39v1m0-22v1m4-17v1m1-1v1m1 17v1m8 19v1m0-20v1m0-18v1m1 35v1m0-20v1m0-18v1m9 33v2m0-17v2m0-19v1m1 31v2m0-17v2m0-19v1m1-1v1m1-1v1m17 0v1m4 20v8m1-8v8m7-10v13m1-13v13m3 0v1m0-15v1m1 13v1m0-15v1m4-18v1m1 30v1m0-15v1m1 13v1m0-15v1m1 14v1m1-1v1m1-33v1m1-1v1m7-1v1m11 1v1m3 19v9m1-9v9m9-11v11m6-28v1m1-1v1m1-2v1m1-1v1m11 18v10m1-10v10m3 1v1m0-31v1m1 29v1m0-31v1m11 18v10m1-10v10m1-27v1m1-1v1m1 27v1m1-1v1m1-30v1m1-1v1m3-1v1m1-1v1m1 28v1m1-1v1m11-2v1m0-11v1m4 7v3m0-12v3m0-20v1m1 25v3m0-12v3m0-20v1m5 16v11m1-11v11m5-2v3m0-11v2m1 6v3m0-11v2m7 8v2m0-14v1m1 11v2m0-14v1m3-17v1m6 28v1m1-1v1m1-1v1m1-1v1m7-9v4m12-25v1m2-1v1m1-1v1m1 28v1m0-15v1m1 13v1m0-15v1m17 13v1m0-13v1m1 11v1m0-13v1m3-17v1m1-1v1m5 18v8m0-26v1m1 17v8m0-26v1m1 19v5m1-5v5m9-25v1m1-1v1m3-1v1m4-1v1m1-1v1m2-1v1m26 1v1m10 18v6m7-4v1m1-1v1m3-23v1m1-1v1m21 1v1m1-1v1m14 23v1m19-23v1m1-1v1m10 21v1m0-7v1m3-17v1m1-1v1m5 21v1m3-23v1m14 15v6m1-22v1m1-1v1m3-1v1m1-1v1m11 21v1m0-8v1m1 6v1m0-8v1m6 6v1m0-5v1m7-22v1m3 0v1m9 23v1m0-9v1m1 7v1m0-9v1m5-17v1m4-1v1m1-1v1m23-1v1m30 23v1m1-1v1m29-25v1m1-1v1m4 15v1m11-17v1m1-1v1m17-3v1m1-1v1m17-1v1m1-1v1m5 25v1m0-8v1m1 6v1m0-8v1m21-2v8m8 0v1m0-9v1m1 7v1m0-9v1m27-19v1m1-1v1m1 25v1m1-1v1m25-3v2m0-7v2m0-21v1m1 23v2m0-7v2m0-21v1m19 21v4m0-13v3m1 6v4m0-13v3m1-6v1m1-1v1m7 11v4m0-13v3m0-22v1m1 27v4m0-13v3m0-22v1"/>
<path stroke="#51ffa5" d="M2 49v1m2-3v1m7-2v1m3-1v1m4 1v1m5-1v1m5 1v1m2-2v1m4-2v1m1-4v1m2 2v1m2 2v1m1-4v1m9-3v1m6 3v1m9-4v1m1 51v1m0-53v1m10 33v1m0-6v1m0-10v2m5-21v1m15-1v1m3-3v1m8 2v1m6-2v1m1 0v1m13-3v1m6 0v1m1-2v1m3 51v1m2-53v1m6 0v1m7-5v1m5 2v1m1 0v1m6-10v1m7 3v1m2-3v1m2 2v1m3-5v1m1 1v1m5-5v1m4-1v1m1-5v1m2 64v1m5-65v1m4-6v1m5-1v1m4-2v1m4 1v1m3-1v1m3 67v1m6-72v1m2-1v1m7 3v1m3-6v1m1-3v1m4 4v1m3 0v1m1-4v1m3-2v1m6 1v1m8-7v1m3-3v1m9 77v1m8-23v2m1-55v1m3 74v1m0-72v1m2 0v1m2 24v14m3 5v3m2-44v1m19 22v14m0-34v1m1-3v1m3 42v4m3-8v27m1-13v13m1-11v11m0-24v7m0-48v1m1-2v1m1 1v1m1 45v8m5-13v2m2-47v1m3 49v19m1-67v1m2 24v11m1 30v1m1-1v1m1-23v3m3-46v1m1 33v7m1-42v1m1 47v18m1-7v7m0-21v4m0-50v1m1 57v9m0-66v1m2 46v5m1 4v10m1-20v2m11-50v1m1 66v1m3-69v1m2 22v1m0-25v1m3 0v1m23-7v1m2 16v1m0-17v1m5-1v1m2 73v1m14-26v1m1-1v1m3 24v1m1-1v1m7-26v1m6 24v1m1-1v1m1-1v1m0-73v1m0-25v1m1 95v1m0-73v1m0-25v1m1 95v1m1-1v1m3-1v1m1-1v1m1-14v1m1-1v1m3-12v1m1-1v1m7 23v1m1-1v1m5-23v1m1-1v1m15 1v1m1-1v1m1 0v1m1-1v1m3 14v5m1-5v5m11-30v1m1-1v1m1 24v1m1-1v1m7 0v3m0-36v1m0-32v1m1 63v3m0-36v1m0-32v1m5 5v1m1-1v1m3 60v1m1-1v1m1-5v4m0-60v1m1 55v4m0-60v1m1 56v3m0-69v1m2 33v1m0-34v1m1 32v1m0-34v1m1 64v3m0-33v1m0-26v1m1 54v3m0-33v1m0-26v1m3 43v1m1-1v1m3 11v3m0-69v1m3 65v2m1-2v2m0-37v1m1 34v2m0-37v1m3-20v1m1-1v1m9 54v1m1-1v1m13-71v1m1-1v1m17 70v1m0-32v1m1 30v1m0-32v1m1-30v1m1-1v1m11 59v1m1-1v1m3-1v1m1-1v1m9-2v1m0-22v1m1 20v1m0-22v1m13 21v1m3-39v1m7 1v1m1-1v1m12 18v1m1 16v1m1-1v1m12-34v1m1-1v1m6 22v6m4 0v3m0-15v4m1 8v3m0-15v4m1-1v10m1-10v10m5 2v1m0-16v2m0-18v1m1 30v1m0-16v2m0-18v1m3 31v1m1-1v1m5-1v1m0-33v1m1 31v1m0-33v1m1 0v1m1-1v1m4-2v1m5 15v1m2 2v12m9-6v5m3 1v2m0-12v1m1 9v2m0-12v1m9 9v1m0-13v1m8 0v11m1-11v11m7-9v9m1-9v9m3 0v2m0-13v1m0-18v1m1 27v2m0-13v1m0-18v1m9-1v1m3 17v10m1-11v1m1-1v1m1 10v1m0-13v2m1 10v1m0-13v2m5 1v9m1-9v9m1-28v1m1-1v1m15 28v1m0-13v1m4 11v1m0-14v1m1 12v1m0-14v1m5 11v2m0-15v2m0-17v1m1 27v2m0-15v2m0-17v1m1-2v1m1-1v1m1 0v1m1-1v1m1 28v1m0-13v1m1 11v1m0-13v1m5-19v1m1-1v1m11 0v1m1-1v1m1-1v1m1-1v1m3 16v11m4-3v4m0-12v4m4-5v1m5-17v1m7-1v1m1-1v1m3-1v1m1-1v1m1 18v7m0-27v1m1 19v7m0-27v1m1 0v1m1-1v1m1-1v1m1-1v1m13 22v4m1-4v4m3 1v1m0-11v2m1 8v1m0-11v2m1 7v2m0-10v3m1 5v2m0-10v3m33-19v1m1-1v1m1-1v1m1-1v1m1-1v1m1-1v1m18 25v1m0-8v1m0-18v1m7 20v3m0-6v2m0-22v1m1 22v3m0-6v2m0-22v1m3 19v1m1-1v1m23-2v6m1-6v6m27-21v1m9-1v1m3-1v1m1-1v1m11-1v1m17 21v1m34-9v1m6-2v1m3-16v1m1-1v1m19-1v1m1-1v1m5-1v1m12-1v1m1-1v1m33-4v1m1-1v1m4 1v1m3 0v1m1-1v1m5-1v1m1-1v1m1-1v1m1-1v1m35 15v8m1-8v8m49 0v1m3-6v5m0-26v1m51 0v1m1-1v1m9 24v1m0-9v1m1 7v1m0-9v1m19 7v1m0-15v1m1 13v1m0-15v1m1-22v1m1-1v1m7 34v1m0-15v1m1 13v1m0-15v1m15-18v1m1-1v1m3-1v1m1-1v1"/>
<path stroke="#62ff95" d="M1 50v1m4-4v1m3-4v1m4 24v4m7-25v1m1 0v1m2 0v1m3-2v1m17-2v1m3 1v1m5 48v1m2-54v1m4 4v1m6-5v1m2 51v1m4-51v1m2-5v1m5 31v4m0-17v3m0-16v1m4-4v1m6 50v1m2-57v1m5 4v1m11-2v1m1-3v1m6 2v1m9 1v1m6-6v1m11 4v1m1-2v1m2-3v1m2-5v1m6 6v1m8 0v1m7-8v1m2-1v1m1-4v1m1 1v1m5-4v1m4 58v1m0-58v1m9-3v1m9-9v1m1 3v1m4-6v1m4 0v1m4 0v1m3-2v1m1-2v1m3-3v1m1 4v1m5-2v1m2-6v1m2 2v1m4 0v1m1-3v1m1-2v1m2 69v1m0-68v1m1 2v1m8-7v1m2-4v1m5 3v1m3-9v1m1 3v1m2 0v1m11-6v1m8 0v1m5-1v1m2 3v1m3 47v2m3-48v1m1 18v18m4 2v3m2-39v1m1 36v4m4-41v1m6 66v1m0-45v10m2-29v1m6-4v1m1 21v44m4-44v14m2 11v5m2 14v1m1-44v16m2-6v9m2-20v1m1 33v10m0-44v1m4-25v1m1 67v1m0-22v2m0-47v1m5 44v3m0-49v1m1 24v1m2 11v4m2-39v1m1 39v3m1-19v9m1-31v1m2 38v5m0-22v1m1-1v1m1 18v4m0-49v1m1 41v4m3 7v14m2-18v2m0-25v1m2-1v1m0-23v1m1 62v1m0-64v1m4-3v1m2-5v1m3 22v1m2-1v1m10-2v1m1-25v1m13 14v1m13-3v1m2-1v1m13 57v1m1-1v1m3-26v1m1-1v1m3-1v1m0-40v1m1 38v1m0-40v1m1-9v1m1-1v1m5 46v1m1-1v1m3-41v1m1-1v1m5 0v1m1-1v1m3 63v1m1-1v1m17-10v1m1-1v1m7-13v1m1-1v1m5-18v1m1-1v1m11 33v4m1-4v4m25-37v1m1-1v1m1-30v1m1-1v1m1 65v1m0-34v1m2-27v1m1-1v1m5-10v1m1-1v1m3 11v1m3 19v1m0-33v1m5 66v1m1-1v1m15-69v20m1-20v20m9 2v1m14-15v1m1-1v1m7 1v1m1-1v1m3 1v1m2 29v22m1-22v22m1-50v1m1-1v1m3 2v1m1-1v1m3 2v1m1-1v1m3 23v1m0-23v1m1 21v1m0-23v1m1 46v1m1-1v1m2-45v1m1 0v1m1-1v1m6 20v1m11-16v1m10 1v1m1-1v1m5 16v1m1-1v1m3 3v10m0-30v1m1 19v10m0-30v1m5 17v1m0-18v1m1 16v1m0-18v1m9 28v4m0-14v4m4 9v2m0-18v1m1 15v2m0-18v1m1 13v3m0-16v3m1 10v3m0-16v3m5 13v1m1-1v1m17-33v1m1-1v1m1-1v1m1-1v1m3 30v1m0-14v1m9 11v2m0-10v3m9-22v1m1-1v1m3 28v1m2-31v1m6 28v2m0-14v1m1 11v2m0-14v1m1-17v1m1-1v1m5 27v1m0-12v2m1 9v1m0-12v2m11-20v1m1-1v1m4 28v1m0-13v2m1-18v1m1-1v1m1 28v1m0-30v1m1 28v1m0-30v1m3-1v1m1-1v1m1 27v1m0-12v2m1 9v1m0-12v2m5-19v1m1-1v1m4-1v1m5 18v9m0-28v1m1 18v9m0-28v1m3-1v1m1-1v1m3-1v1m1-1v1m1 19v8m0-28v1m1 19v8m0-28v1m11-1v1m1-1v1m3-1v1m1-1v1m5 18v8m0-27v1m2 19v8m0-28v1m8 27v2m0-14v1m0-17v1m2-1v1m1-1v1m1 28v1m4-30v1m18 25v3m0-13v3m1 7v3m0-13v3m1 1v4m1-4v4m11-23v1m1-1v1m3 25v2m0-8v2m1 4v2m0-8v2m3 6v1m1-1v1m1-1v1m0-28v1m1 26v1m0-28v1m11 0v1m22 15v1m1-1v1m29 9v1m0-8v1m1 6v1m0-8v1m17-18v1m1-1v1m1-1v1m1-1v1m7 22v1m0-8v1m1 6v1m0-8v1m1-16v1m1-1v1m37 18v4m1-4v4m15-4v2m0-20v1m1 17v2m0-20v1m7 14v6m1-6v6m4-21v1m40-3v1m12-1v1m25 16v1m16-18v1m1-1v1m13-4v1m1-1v1m34 2v1m13-2v1m1-1v1m1-1v1m1-1v1m9 24v1m0-10v1m0-17v1m1 24v1m0-10v1m0-17v1m9-1v1m1-1v1m33-2v1m1-1v1m3-1v1m1-1v1m1-2v1m3 26v1m5-28v1m1-1v1m7 18v1m1-1v1m21-19v1m1-1v1m13 1v1m1-1v1m61 11v10m1-10v10m7-29v1"/>
<path stroke="#73ff84" d="M0 48v1m9 0v1m2-3v1m1 25v1m1-28v1m11 0v1m8 0v1m11-1v1m1-1v1m9-4v1m4 5v1m1-4v1m3-1v1m3-1v1m3 0v1m4-1v1m2-2v1m1 1v1m16 48v1m9-52v1m1 1v1m8-6v1m7 3v1m2-3v1m1-4v1m10 2v1m2-1v1m4 0v1m2 17v6m7-26v1m5-2v1m5 2v1m5 0v1m1-1v1m1-6v1m1 1v1m2-7v1m5 5v1m5-5v1m3-4v1m5-4v1m1 4v1m3-5v1m1-2v1m4 1v1m1-4v1m1 1v1m4-3v1m1-2v1m4-6v1m2 2v1m13-3v1m3 68v1m1-1v1m0-67v1m2 45v10m0-57v1m5 66v1m3-1v1m0-66v1m4-4v1m2-4v1m1-3v1m1 4v1m1-4v1m2 70v1m0-69v1m5 67v1m0-72v1m8 16v14m1-34v1m3-6v1m2 5v1m3-6v1m4 4v1m1 72v1m1-78v1m4 0v1m3 2v1m6 46v2m0-49v1m4 39v3m1-37v1m2-1v1m1 38v3m0-39v1m1-5v1m2 22v15m0-34v1m1-4v1m2 1v1m4-1v1m1 1v1m2 28v3m2-13v16m1-16v8m2-27v1m2-5v1m3 2v1m3 33v3m2 13v9m5-38v10m3-31v1m5 44v2m1-50v1m2 24v37m1-37v13m1 5v3m3-5v4m0-43v1m3 35v4m1-7v3m0-36v1m2 64v1m1-20v9m0-55v1m2 39v3m1-8v5m2-40v1m1 0v1m1 22v1m1 24v4m0-51v1m1 0v1m2 19v1m2-24v1m1 0v1m3 63v1m3-70v1m1 22v1m0-24v1m3-1v1m2 21v1m1-23v1m2-1v1m1-2v1m3 22v1m2-2v1m1-2v1m8 48v1m6-59v1m4-1v1m0-18v1m2 74v1m0-59v1m0-17v1m5-1v1m2 14v1m25 33v1m0-49v1m1 47v1m0-49v1m1-1v1m1-1v1m7 0v1m1-1v1m5 9v1m0-10v1m1 8v1m0-10v1m1-2v1m1-1v1m17 49v1m1-1v1m17 3v1m1-1v1m7 0v1m0-20v1m1 18v1m0-20v1m5 0v1m1-1v1m13-33v1m1-1v1m1 49v1m0-46v1m0-10v1m1 53v1m0-46v1m0-10v1m1 37v1m0-28v1m1 26v1m0-28v1m1-2v1m1-1v1m1-1v1m0-8v1m12 30v1m3 24v1m5-57v1m1-1v1m9 16v1m1-1v1m11 2v1m1-1v1m1 2v1m1-1v1m29 39v4m0-31v5m1 22v4m0-31v5m26-13v1m9 2v1m10 1v1m1-1v1m6 0v1m5 29v4m0-17v3m1 10v4m0-17v3m1-20v1m1-1v1m13 33v1m2-33v1m1-1v1m1-1v1m1-1v1m1 31v1m0-18v1m1 16v1m0-18v1m9-16v1m1-1v1m1 0v1m4 14v1m1-1v1m1-1v1m1-1v1m7 1v13m1-13v13m3 1v1m0-32v1m9 30v1m3-13v1m1-1v1m1-18v1m1-1v1m5 17v1m0-20v1m1 18v1m0-20v1m1 0v1m5-1v1m9-1v1m1-1v1m1 28v1m1-1v1m1-30v1m1-1v1m3-1v1m1-1v1m3 23v2m1-2v2m1-6v4m1-4v4m1-4v6m3 3v1m0-30v1m9 28v1m1-1v1m11-30v1m1-1v1m1-1v1m1-1v1m1 27v2m0-12v1m1 9v2m0-12v1m1-19v1m8 27v1m0-11v2m1 8v1m0-11v2m9-20v1m1-1v1m7 19v7m0-27v1m1 19v7m0-27v1m3 26v2m0-12v2m2 9v2m0-11v1m6-20v1m1-1v1m27 28v1m0-15v1m1 13v1m0-15v1m1 8v4m0-12v4m1 4v4m0-12v4m11-2v10m1-10v10m3 1v1m1-1v1m22-27v1m7-2v1m8 0v1m1-1v1m56 1v1m3 23v1m0-24v1m1 22v1m0-24v1m12-1v1m15 19v4m3-22v1m9 20v1m0-6v1m1 4v1m0-6v1m14-3v1m1 4v2m0-6v2m1 2v2m0-6v2m7 3v1m0-9v2m0-15v1m1 20v1m0-9v2m0-15v1m15 0v1m1-1v1m3-1v1m1-1v1m1-1v1m1-1v1m3-1v1m1-1v1m2-2v1m1 16v5m0-23v1m1 17v5m0-23v1m11-1v1m80-3v1m1-1v1m31 0v1m1-1v1m19-2v1m1-1v1m7 17v7m1-7v7m17-24v1m1-1v1m49-4v1m1-1v1m5 1v1m1-1v1m33-1v1m1-1v1m15-9v1m1-1v1m29 30v2m0-14v2m1 10v2m0-14v2"/>
<path stroke="#84ff73" d="M3 46v1m7 0v1m2 26v2m2-29v1m1 0v1m3 0v1m3-5v1m6 53v1m0-54v1m1 52v1m0-30v4m1-25v1m8-1v1m1-4v1m3 2v1m5-5v1m5 3v1m11-2v1m3-1v1m5-3v1m8 1v1m3-1v1m2-2v1m7 0v1m3-1v1m1 0v1m3-4v1m4 1v1m1 50v1m3-49v1m6-2v1m5 48v1m8-52v1m2-1v1m1 1v1m2-2v1m2-3v1m1 1v1m4 22v1m0-22v1m9-3v1m5-1v1m1-5v1m1 3v1m2-2v1m13-4v1m2-1v1m5-1v1m3-5v1m1 1v1m1-3v1m1-1v1m8-7v1m1 0v1m10-6v1m3 67v1m3-69v1m1 67v1m1-71v1m4 0v1m2-1v1m2 1v1m2 66v1m1-68v1m4 56v10m0-27v7m4-50v1m3 0v1m4 2v1m2 0v1m5 64v1m0-70v1m5-2v1m4-5v1m3 0v1m2 43v9m0-20v2m0-17v1m2-22v1m1 5v1m5-6v1m3-3v1m1-1v1m4-1v1m4 1v1m1 1v1m3-1v1m2 1v1m2 42v2m4-4v2m4 3v3m8-22v15m0-34v1m1-1v1m2 62v1m2-32v2m2 1v6m1-14v7m0-34v1m1-2v1m1 19v15m4-35v1m3 63v1m1-28v3m0-40v1m1-4v1m1 61v5m0-63v1m1 62v1m0-44v11m2-12v1m0-20v1m1 62v1m7-68v1m2 49v3m3 9v5m0-65v1m1 35v4m0-41v1m1 38v3m3 2v5m1-50v1m2 33v4m0-36v1m1 35v2m3 17v10m2 0v1m0-30v4m1-15v10m1-11v1m3 40v1m0-63v1m1 49v12m5-43v1m2-3v1m1-21v1m4 64v1m2-70v1m1 21v1m1 46v1m1-1v1m1-69v1m5 20v1m0-22v1m1-2v1m2 20v1m0-23v1m2-4v1m1 0v1m4 17v1m3-2v1m8-21v1m14 15v1m30-14v1m1-1v1m3 57v1m0-11v1m0-49v1m1 57v1m0-11v1m0-49v1m1 0v1m1-1v1m5 47v1m1-1v1m3-39v1m1-1v1m1 37v1m1-1v1m13 1v1m1-1v1m3 0v1m1-1v1m5 14v1m1-1v1m11-25v1m1-1v1m13-3v1m1-1v1m5-3v1m0-5v1m0-26v1m1 28v1m0-5v1m0-26v1m5-4v4m1-4v4m1 22v1m0-24v1m2 46v1m0-46v1m0-8v1m1 51v1m0-46v1m0-8v1m13 63v1m0-54v1m1 52v1m0-54v1m11-14v1m1-1v1m3-1v1m1-1v1m1 19v1m1-1v1m11-21v1m5-2v1m11 9v1m1-1v1m3 0v1m2 25v1m1-1v1m1-26v1m1-1v1m3 56v2m1-2v2m11-49v1m1-1v1m9 6v1m1-1v1m27 6v1m1-1v1m7 33v1m0-19v1m1 17v1m0-19v1m3-16v1m8 0v1m1-1v1m3-1v1m6-1v1m1-1v1m1-1v1m1-1v1m20 16v1m1 0v1m1-1v1m1 12v1m0-16v2m1 13v1m0-16v2m15-15v1m1-1v1m3-1v1m1-1v1m13-1v1m1-1v1m3-1v1m4-1v1m1-1v1m7-1v1m1-1v1m1 25v3m0-8v3m0-24v1m1 25v3m0-8v3m0-24v1m1 23v4m0-12v4m1 4v4m0-12v4m1 6v3m0-12v3m16-19v1m1-1v1m3-2v1m16 18v8m1-8v8m1 2v1m1-1v1m3-10v7m1-7v7m3-27v1m1-1v1m1 15v1m1-1v1m7 10v2m0-11v2m1 7v2m0-11v2m3 9v1m0-14v1m2 1v1m15-19v1m4 17v10m0-27v1m7-1v1m1-1v1m9 26v2m0-15v1m1 12v2m0-15v1m9-16v1m1-1v1m1 27v2m0-13v1m1 10v2m0-13v1m3-16v1m1-1v1m3 0v1m1-1v1m15-1v1m33 1v1m21-2v1m1-1v1m25 17v1m1-1v1m1-17v1m1-1v1m9 0v1m1-1v1m17 0v1m1-1v1m10-1v1m3-1v1m1-1v1m8-1v1m1 20v1m1-1v1m7-1v1m1-1v1m5-8v1m0-15v1m1 13v1m0-15v1m23 20v1m0-7v1m1 5v1m0-7v1m1-18v1m1-1v1m6-1v1m15-1v1m4-1v1m1-1v1m23-1v1m60-1v1m1-1v1m1-1v1m30 15v1m1-1v1m1 2v2m1-2v2m3-23v1m1-1v1m1 24v1m0-9v1m1 7v1m0-9v1m39-2v1m16-19v1m1-1v1m69-8v1m1-1v1m7 2v1m1-1v1m19 30v1m1-1v1"/>
<path stroke="#95ff62" d="M4 48v1m4 50v1m4-24v3m0-11v1m4-19v1m1-2v1m2-1v1m4-1v1m3-1v1m2 24v14m0-19v1m5-18v1m7-4v1m12-3v1m21 51v1m2-37v1m0-12v1m3 46v1m7-52v1m11-2v1m2-1v1m6-2v1m5 2v1m1-1v1m6-1v1m5-1v1m12-2v1m3 24v1m11-23v1m8 15v5m1-24v1m6-4v1m1-5v1m1 3v1m2-2v1m5-4v1m4 1v1m9 10v13m2-30v1m7-5v1m1 3v1m1-2v1m5-8v1m8 0v1m5 68v1m4-67v1m2 0v1m2-6v1m1 18v24m3-39v1m2-1v1m1-3v1m3 1v1m1 2v1m4-8v1m5 2v1m1-6v1m1 71v1m0-69v1m2 67v1m2-55v11m1-28v1m2-6v1m1 3v1m3 51v9m0-20v2m0-9v2m0-33v1m3 51v7m2-65v1m10-2v1m2 3v1m4 71v1m6-73v1m1 40v3m1-46v1m1 3v1m2 41v2m0-44v1m2 0v1m2 46v2m5-46v1m3 36v10m0-26v1m4 44v1m0-65v1m1 34v2m0-18v1m0-18v1m1-4v1m1 42v6m1-13v3m2-3v4m1-39v1m2 47v8m5-16v3m3-11v5m0-17v1m0-21v1m1 50v2m0-54v1m2 2v1m1 17v1m1 26v17m3-66v1m1-1v1m3 51v8m0-38v1m2-24v1m2 41v4m1-10v4m2-39v1m1 65v1m0-18v6m0-31v1m2 26v4m1-30v8m1 6v3m2-18v1m0-23v1m2-2v1m1 30v5m1-37v1m1 0v1m1 23v1m1-1v1m3-2v1m9-5v1m0-22v1m5-2v1m2-2v1m3 21v1m0-22v1m1 20v1m6-25v1m3-3v1m3-1v1m3-2v1m1-2v1m2 0v1m4 15v1m1-1v1m30 40v1m1-1v1m9-80v1m0-3v1m1 1v1m0-3v1m13 85v1m1-1v1m1-52v1m0-10v1m1 8v1m0-10v1m1 60v1m1-1v1m59-56v1m1-1v1m1 32v1m0-6v1m0-26v1m0-8v1m1 36v1m0-6v1m0-26v1m0-8v1m1-1v1m1-1v1m3 2v1m2 0v1m1-1v1m1 29v1m1-1v1m11-11v1m1-1v1m47-14v1m1-1v1m9 25v1m0-23v1m1 21v1m0-23v1m27 14v1m1-1v1m1 16v1m0-16v1m14 2v1m1-1v1m9 1v1m1-1v1m1-1v1m1-1v1m10 0v1m1-1v1m35 0v1m3 30v1m1-1v1m1-32v1m11 1v1m1-1v1m1-1v1m37 28v1m0-10v1m1 8v1m0-10v1m1 7v2m0-15v1m1 12v2m0-15v1m1 13v1m8-28v1m1-1v1m3-2v1m1-1v1m7 17v9m3-9v9m13-1v2m0-12v2m1 8v2m0-12v2m5 8v2m0-11v2m0-20v1m1 26v2m0-11v2m0-20v1m7 18v9m1-9v9m5 1v1m0-13v1m1 11v1m0-13v1m1-17v1m10 15v1m1-1v1m5-17v1m7 26v1m0-13v2m5-17v1m10-2v1m1-1v1m3 0v1m1-1v1m29 1v1m1-1v1m7 17v1m0-19v1m1 17v1m0-19v1m2 15v1m0-17v1m13 0v1m1-1v1m1-1v1m1-1v1m1-1v1m1-1v1m25-1v1m1-1v1m25 1v1m1-1v1m15 14v1m1-1v1m13-14v1m12-1v1m1-1v1m11-1v1m4 13v1m1-1v1m17-15v1m1-1v1m25-4v1m12 0v1m1-1v1m19-1v1m1-1v1m17-1v1m1-1v1m41-1v1m1-1v1m5-1v1m1-1v1m23-1v1m1-1v1m17 20v2m0-6v2m0-21v1m1 22v2m0-6v2m0-21v1m17-1v1m1-1v1m25 16v1m1-1v1m111-23v1m1-1v1m3-1v1m1-1v1"/>
<path stroke="#a5ff51" d="M7 52v1m1-8v1m3 2v1m1 30v4m0-32v1m8-2v1m2 0v1m5 30v7m1-1v3m0-40v1m16-3v1m5-3v1m1 0v1m7 50v1m5-51v1m1 1v1m1-3v1m1-1v1m1 0v1m1-1v1m1-1v1m4-3v1m10-2v1m2-2v1m7 1v1m4 0v1m7 1v1m12-4v1m4-4v1m17 0v1m1 27v1m0-10v1m1-16v1m2 48v1m1-18v9m0-43v1m4 0v1m4-4v1m1 3v1m6 21v1m0-21v1m2-4v1m2 0v1m2-4v1m15-8v1m1 58v1m6-61v1m1 27v2m0-16v1m1 45v1m2-61v1m3-1v1m2-2v1m4 12v15m2-34v1m3-3v1m3 0v1m9-1v1m1 3v1m2-5v1m4 2v1m3-3v1m1-4v1m5 1v1m4 2v1m1 64v1m0-68v1m3-6v1m1 4v1m1-4v1m1 51v12m0-62v1m4 67v1m0-55v11m0-24v1m2-4v1m1 26v2m0-27v1m2 67v1m4-55v12m0-29v1m1 59v11m0-36v5m1 31v1m2-11v11m0-25v7m1-61v1m5 0v1m1 0v1m4 1v1m8 73v1m1-76v1m2 21v20m0-38v1m1 17v21m2-21v22m0-41v1m4 45v2m1 24v1m0-49v18m3 10v3m0-29v1m2-21v1m5-1v1m1 46v10m1-35v13m1 31v1m3-28v2m2 9v8m1-18v3m2-2v3m1-22v9m2 27v8m0-20v4m2-29v1m1-19v1m1-3v1m1 43v3m2-27v1m1 17v4m1 12v11m0-17v4m3-51v1m1 44v2m2 17v1m2-44v43m3-6v6m0-65v1m4 43v3m1-23v10m1-34v1m2 53v11m2-11v11m0-20v5m1 15v1m1-25v2m5-18v6m7 34v1m1-63v1m1-1v1m5 15v1m1 0v1m0-24v1m2 0v1m14-4v1m15 11v1m0-17v1m1-2v1m6 0v1m25 48v1m1-1v1m11-39v1m1-1v1m19 39v1m1-1v1m1-40v1m1-1v1m1 38v1m1-1v1m13 17v1m1-1v1m5-28v1m1-1v1m17 1v1m0-4v1m1 2v1m0-4v1m1 0v1m1-1v1m13-3v1m0-30v1m0-3v1m1 30v1m0-30v1m0-3v1m1 60v1m1-1v1m3-34v1m1-1v1m1-30v4m2 1v1m1-1v1m1-7v1m1-1v1m3 9v1m1-1v1m3-11v1m3 9v1m1-10v1m1-1v1m21 16v1m0-22v1m1 20v1m0-22v1m21 9v1m1-1v1m29 14v1m1-1v1m7 4v1m1-1v1m8 2v1m1-1v1m1-1v1m13 19v1m1-1v1m37-15v1m1-1v1m8-1v1m1-1v1m1-1v1m3-1v1m1-1v1m5-1v1m1-1v1m25 16v1m6 1v1m0-17v1m1 15v1m0-17v1m3-1v1m1-1v1m9-1v1m1-1v1m1 14v1m1-1v1m7-16v1m14-1v1m1-1v1m1 14v1m1-1v1m1-16v1m1-1v1m1 26v1m0-12v2m3 9v1m0-12v2m0-18v1m11-1v1m1-1v1m1 27v1m1-1v1m1-29v1m1-1v1m1-1v1m1-1v1m1 27v1m0-13v1m1 11v1m0-13v1m1-17v1m1-1v1m5 26v1m0-12v2m1 9v1m0-12v2m1-19v1m1-1v1m7 0v1m4-1v1m1-1v1m1 13v1m0-15v1m1 13v1m0-15v1m5 16v10m1-10v10m1-12v1m7 12v1m2-29v1m7-1v1m1-1v1m3-1v1m1-1v1m3-1v1m1-1v1m13 0v1m1-1v1m7 0v1m1-1v1m11 0v1m45 1v1m25-1v1m1-1v1m1-1v1m1-1v1m7 13v1m1-1v1m1-14v1m1-1v1m34 0v1m15 12v1m4-14v1m1-1v1m52-3v1m29-1v1m24-1v1m1-1v1m26-2v1m11 15v1m0-16v1m1 14v1m0-16v1m10-1v1m29 22v1m0-8v1m1 6v1m0-8v1m48-19v1m33-1v1m1-1v1m27-1v1m1-1v1m57 13v9"/>
<path stroke="#b6ff41" d="M0 49v1m1 49v1m4-52v1m2 50v1m0-31v4m5 10v4m1-40v1m12 2v1m2 38v3m0-12v2m0-35v1m1 43v3m0-26v1m3-19v1m4-5v1m1 4v1m1-2v1m2 1v1m4 46v1m0-31v5m0-25v1m3-4v1m2 3v1m5-5v1m1 3v1m2 1v1m2-4v1m3-1v1m9-3v1m5 5v1m4-5v1m20 49v1m0-51v1m1 49v1m3-52v1m3 1v1m1 1v1m5-4v1m5-2v1m8-3v1m3 1v1m6 0v1m2 25v2m0-25v1m2-5v1m1-1v1m1 42v6m0-18v3m1-38v1m2 2v1m4 4v1m4 46v1m0-54v1m1 3v1m1-2v1m2 23v1m0-8v1m5-22v1m2 0v1m1-5v1m2-1v1m1 56v1m2-53v1m5 51v1m2-56v1m2-3v1m1 1v1m3-8v1m1 4v1m2 26v2m0-30v1m1-4v1m1 60v1m2-64v1m3-1v1m1 62v1m4-34v2m0-32v1m10-3v1m1-5v1m2 2v1m1-2v1m2-1v1m9-3v1m4 44v17m1-62v1m1 3v1m1 64v1m0-68v1m2 2v1m1-2v1m4 0v1m1-6v1m4 62v6m0-21v3m2-53v1m2 44v16m0-33v2m1-28v1m2 27v1m4 40v1m2-43v2m2-33v1m1-3v1m1 43v7m3-48v1m5-5v1m6 75v1m1-76v1m1-1v1m1 0v1m1 57v9m3 7v1m0-73v1m1 38v3m0-24v1m1 21v3m0-25v1m6 29v2m0-30v1m1 21v4m0-40v1m1 65v1m1-67v1m1 48v4m0-50v1m1-5v1m3 0v1m2 1v1m2 54v10m1-32v3m0-17v1m1-20v1m3 38v1m2 16v8m0-45v1m0-18v1m1 38v2m2-1v4m1-17v5m1 30v1m0-67v1m1 43v2m0-45v1m5 46v4m3-9v5m1-2v3m4-4v2m0-46v1m1 1v1m5-5v1m3 24v19m2 5v6m1-30v1m0-25v1m2 47v9m3-16v5m2-2v2m1-42v1m2-3v1m1 63v1m1-67v1m3 1v1m1 0v1m2 0v1m1 0v1m4-4v1m1 0v1m1-2v1m4 16v1m5-1v1m0-22v1m3 20v1m3-23v1m7 17v1m1-2v1m8-24v1m3 16v1m6-1v1m2-2v1m2 58v1m1-60v1m3-15v1m13 47v1m1-1v1m3-46v1m1-1v1m21 6v1m1-1v1m3-1v1m1-1v1m35 27v1m1-1v1m13 17v1m1-1v1m7-1v1m0-19v1m1 17v1m0-19v1m5-2v2m0-30v1m1 27v2m0-30v1m1-1v1m0-6v1m1 4v1m0-6v1m1 52v1m0-21v1m1 19v1m0-21v1m1 1v1m1-1v1m1-1v1m2-32v4m1-4v4m12 17v1m1 31v1m1-1v1m39-59v1m1-1v1m11 11v1m1-1v1m3 1v1m30 33v1m1-1v1m9-15v1m2 0v1m1-1v1m7 0v1m1-1v1m9 0v1m1-1v1m1-1v1m1-1v1m3 0v1m1-1v1m5 13v1m1-1v1m27-13v1m1-1v1m31 0v1m1-1v1m3 13v1m0-15v1m26-1v1m1-1v1m11 0v1m1-1v1m9 27v1m3-1v1m5-29v1m1-1v1m3-1v1m1-1v1m3-1v1m1-1v1m13 27v1m0-29v1m1 27v1m0-29v1m3-1v1m1-1v1m7-1v1m2 14v1m1-1v1m5-16v1m2 26v2m0-13v1m0-17v1m1 26v2m0-13v1m0-17v1m5-1v1m32 0v1m1-1v1m26 1v1m7-2v1m8 0v1m1-1v1m35 0v1m1-1v1m13 14v1m1-1v1m6-15v1m34 2v1m15 13v1m1-1v1m17-16v1m1-1v1m4-1v1m17 0v1m1-1v1m3-1v1m1-1v1m2-2v1m1-2v1m1-1v1m11-1v1m15-2v1m63-4v1m1-1v1m1 1v1m1-1v1m37-1v1m1-1v1m1-1v1m1-1v1m9-1v1m1-1v1m43-2v1m1-1v1m5-2v1m8-1v1m1-1v1m29 0v1m1-1v1m13 1v1m1-1v1m1-2v1m1-1v1m29-9v1m1-1v1m1-2v1m1-1v1m35 30v2m0-13v2m0-19v1"/>
<path stroke="#c7ff30" d="M2 50v1m1-4v1m4 25v1m3-26v1m2 38v4m0-24v1m2-20v1m1 0v1m3 0v1m1-1v1m5-3v1m3 43v2m0-16v2m1 14v2m10-49v1m3 51v1m1-51v1m1 24v1m2-6v2m10-4v4m0-20v1m13 17v2m3-21v1m3 0v1m1 10v1m12-19v1m5 4v1m1-1v1m1 0v1m8 17v5m2 26v1m0-53v1m4-2v1m3 4v1m5 17v3m3 27v1m0-49v1m1-4v1m6 0v1m6 0v1m4 26v2m0-15v1m4 32v2m0-28v8m2-30v1m3 0v1m1 0v1m8-3v1m1 24v1m2 24v1m1-50v1m6-5v1m5-1v1m2-5v1m1-1v1m2 3v1m4 8v9m6 7v2m2-35v1m8-1v1m2 29v2m0-20v1m1-16v1m2-4v1m3 0v1m2 65v1m1-68v1m1 45v15m6 6v1m1-68v1m2 0v1m4 1v1m3-3v1m1 65v1m2-8v7m0-51v27m4-43v1m3 4v1m5-10v1m3 46v3m0-46v1m1 0v1m3 55v10m0-27v1m0-15v1m3 0v1m0-16v1m2-19v1m1-3v1m1 3v1m2 42v11m0-23v2m0-17v1m4 0v23m3-23v24m1-24v22m1-42v1m7 19v22m0-43v1m1-2v1m5 68v7m0-20v4m0-56v1m1 57v3m0-61v1m3 41v1m1 0v2m2-27v1m3 53v1m0-53v28m1 2v2m0-49v1m1 42v3m1-24v35m0-56v1m2 54v13m3-63v1m6 34v3m0-37v1m2-1v1m2 37v2m1 9v2m1 11v1m1-22v3m0-27v1m2 26v5m0-49v1m1 31v3m2 2v3m1-41v1m1-1v1m1 17v1m1 0v33m1-3v9m1 5v1m2-19v5m1-9v2m2-25v1m2 21v2m2-42v1m1 19v20m2-20v12m1-11v16m2-40v1m1 42v10m1-30v1m1 30v12m3-9v9m0-25v7m1-46v1m2 34v4m2 5v2m0-46v1m1 20v1m2 42v1m3-1v1m3-1v1m8-46v1m2-20v1m4-5v1m1-1v1m6-1v1m2-1v1m1 20v1m4-23v1m2-4v1m9 15v1m2-3v1m11-2v1m4-1v1m5-1v1m11-7v1m1-1v1m11-2v1m1-1v1m1-32v1m1-1v1m5 73v1m1-1v1m15-45v1m1-1v1m7 45v1m1-1v1m31 3v1m1-1v1m1-18v1m1-1v1m7 29v1m1-1v1m7-34v1m0-29v1m0-4v1m1 30v1m0-29v1m0-4v1m1 33v1m0-28v1m1 26v1m0-28v1m3 22v1m8-30v1m1-1v1m3 21v1m3-23v1m11 56v1m0-59v1m10 18v1m1-1v1m5-22v1m1-1v1m6 24v1m5 24v1m1-1v1m3 1v1m0-52v1m1 50v1m0-52v1m3 9v1m1-1v1m1 25v1m1-1v1m5-1v1m1-1v1m5-22v1m1-1v1m1 1v1m1-1v1m9 5v1m1-1v1m4 2v1m1 0v1m1-1v1m6 2v1m19 4v1m1-1v1m3 0v1m1-1v1m5 15v1m1-1v1m5-16v1m6 14v1m6 1v1m2-17v1m1-1v1m1-1v1m1-1v1m3-1v1m1-1v1m7 14v1m0-16v1m1 14v1m0-16v1m1 0v1m12-2v1m1-1v1m5 0v1m22 1v1m5-1v1m3-1v1m1-1v1m5-1v1m1-1v1m3-1v1m1-1v1m3-1v1m1-1v1m1 15v1m1-1v1m8-17v1m1-1v1m1-1v1m1-1v1m1-1v1m17-1v1m1-1v1m1-1v1m1-1v1m1 15v1m1-1v1m1-17v1m16-1v1m1-1v1m9-1v1m1-1v1m11-1v1m1-1v1m45 1v1m1-1v1m19 0v1m78 2v1m1-1v1m3-1v1m1-1v1m8-1v1m1 0v1m1-1v1m16 15v1m1-16v1m1-1v1m10-1v1m12-1v1m25-1v1m1-1v1m3-1v1m1-1v1m11-3v1m1-1v1m6-1v1m15-1v1m28-1v1m30 11v1m0-17v1m1 15v1m0-17v1m41 2v1m1-1v1m19-2v1m1-1v1m7-1v1m1-1v1m17 0v1m1-1v1m19-3v1m1-1v1m17-2v1m1-1v1m11 17v1m1-1v1m39-17v1m1-1v1m25-7v1m1-1v1m19 0v1m1-1v1m7 28v1m0-15v1"/>
<path stroke="#d8ff1f" d="M4 49v1m3 24v2m4 23v1m0-51v1m1 41v2m4-24v4m4-4v2m1-25v1m2 3v1m4 43v2m0-22v4m1 18v1m1-47v1m1-1v1m2-2v1m8 0v1m3 24v2m0-9v1m2 2v2m6-23v1m1-3v1m3 22v2m2-21v1m5-3v1m2-1v1m1-1v1m3 20v2m0-8v4m1-4v1m9-17v1m3-1v1m2-2v1m2 0v1m5-1v1m7-3v1m1 0v1m2 2v1m1-3v1m1 23v1m0-9v3m8-3v5m0-20v1m6 21v1m0-6v2m14-21v1m1 50v1m0-52v1m2 0v1m3 29v2m1-30v1m3 17v2m7-4v5m1-25v1m2 2v1m2 16v4m3 4v1m0-11v1m0-13v1m1 13v5m0-23v1m5-2v1m1 50v1m1-57v1m3 1v1m1 0v1m3-3v1m6-4v1m2 22v5m2-27v1m4 30v2m7 24v1m2-66v1m2 2v1m1 32v2m4-42v1m1 0v1m5 61v6m0-23v2m2 7v4m0-58v1m3-1v1m5 0v1m2 0v1m2 46v4m0-49v1m11-1v1m2-1v1m3-5v1m3-2v1m1 43v1m4-4v1m0-13v1m2-30v1m2-2v1m5 52v9m0-21v1m4-27v1m0-15v1m1-9v1m2 46v3m0-28v1m1 22v11m1 7v4m5-62v1m2 39v2m1 30v1m5-23v2m1 9v11m0-19v5m1-2v9m2 7v1m0-30v2m1 0v2m0-45v1m3-4v1m2 48v9m1-5v3m1-6v3m1 8v12m2 0v1m3-47v1m2-20v1m3 2v1m1 36v2m3 0v16m0-56v1m1 40v2m0-41v1m1 49v11m0-18v5m0-51v1m2 45v4m0-48v1m1-2v1m1 62v1m0-14v8m0-40v1m1 17v3m0-39v1m2 34v3m1-20v1m3 33v11m1-5v5m0-45v1m0-19v1m1-4v1m1 3v1m1 48v13m1-24v2m4-3v2m3 0v12m2-20v2m0-37v1m1 39v9m0-26v1m2 0v16m1 13v13m1-64v1m1 20v1m0-23v1m2 21v1m1 1v16m2-41v1m1 24v12m0-35v1m2 45v3m0-27v1m4-1v1m0-23v1m1 22v1m1-1v1m0-25v1m1 0v1m3 2v1m1 60v1m0-43v1m2-1v1m9 41v1m3-69v1m1 0v1m2 19v1m1-21v1m5-1v1m1 18v1m0-21v1m4 67v1m17-60v1m31 41v1m1-1v1m7-8v1m0-48v1m1 46v1m0-48v1m1 47v1m1-1v1m1-2v1m1-1v1m7 10v1m0-12v1m1 10v1m0-12v1m5 0v1m1-1v1m7 13v1m1-1v1m17-29v1m1-1v1m1 0v1m1-1v1m11 31v1m1-1v1m3-29v2m1-2v2m1-3v1m1-1v1m7 0v1m1-1v1m5 14v1m1-1v1m1-18v1m0-34v2m1 31v1m0-34v2m1 30v1m0-35v1m1 33v1m0-35v1m7 34v1m1-1v1m23 23v1m0-59v18m1 40v1m0-59v18m1 48v1m0-67v1m1 65v1m0-67v1m9 19v1m0-23v1m1 21v1m0-23v1m3 42v1m1-1v1m4-43v1m3-1v1m1-1v1m1-1v1m1-1v1m11 10v1m4 0v1m1-1v1m9 5v1m1-1v1m9 27v1m1-1v1m19-14v1m17 2v1m3 0v1m1-1v1m1 12v1m1-1v1m8 2v1m3-16v1m1-1v1m3-1v1m2 13v1m1-1v1m3-15v1m1-1v1m41 2v1m1-1v1m3-1v1m1-1v1m1-1v1m1-1v1m15-1v1m4-1v1m1-1v1m7-1v1m1-1v1m1-1v1m1-1v1m13 15v1m1-1v1m5-16v1m1-1v1m3 13v1m0-16v1m12 16v1m1-1v1m9-18v1m1-1v1m5-1v1m1-1v1m28 14v1m0-16v1m4 0v1m5 13v1m2-15v1m1-1v1m19-2v1m1-1v1m9 2v1m1-1v1m11-1v1m1-1v1m3 15v1m4-17v1m1-1v1m2-1v1m13 0v1m1-1v1m1-1v1m1-1v1m1-1v1m1-1v1m8 13v1m0-14v1m17-2v1m1-1v1m25 15v1m0-15v1m1 13v1m0-15v1m29 1v1m4 14v1m1-1v1m7-16v1m1-1v1m5-1v1m1-1v1m5-1v1m18-1v1m1-1v1m22 14v1m7-19v1m12 0v1m1-1v1m9-1v1m1-1v1m9-1v1m1-1v1m73-1v1m1-1v1m1-1v1m50 13v1m1-1v1m55-19v1m1-1v1m5 1v1m1-1v1m17 15v1m1-1v1m57-22v1m1-1v1"/>
<path stroke="#e9ff0e" d="M1 80v7m0-17v4m5 9v4m0-36v1m1 24v4m0-12v1m1-23v1m4 46v2m0-29v1m1-19v1m3 24v2m1-6v4m3-2v2m7 23v1m0-27v4m0-26v1m1 18v1m6-19v1m2 30v8m0-17v2m5-23v1m2 37v1m0-12v2m1-29v1m1 22v2m0-7v1m0-18v1m1-5v1m3 0v1m4-2v1m2 25v1m0-8v1m2 2v5m7-4v2m3-21v1m1-1v1m1 14v5m0-7v1m0-15v1m1-3v1m2 0v1m3 11v1m0-8v1m3 14v5m1 25v1m16-50v1m1-3v1m6 25v1m7-25v1m1 19v1m6 15v5m0-18v1m0-9v2m0-17v1m2-5v1m4 2v1m1 0v1m1-2v1m5 16v4m7 11v3m0-31v1m4 14v1m4-1v3m1-3v6m2-2v1m0-7v1m0-14v1m4-7v1m1 23v2m1-23v1m2 25v1m1 22v1m0-28v2m1-5v2m1-4v4m1-20v1m1-6v1m2 0v1m2-1v1m1-5v1m8-1v1m2 1v1m2-3v1m1 25v3m0-27v1m6 29v2m1-38v1m2 0v1m1-4v1m2 2v1m2-2v1m2 11v20m1 28v1m0-49v20m1 1v1m0-36v1m8-6v1m2 42v1m0-27v13m2 27v10m0-18v4m5-6v13m1-43v22m0-35v1m4 12v18m2 17v10m0-46v32m1 19v1m0-69v1m1 15v1m1-15v1m1-4v1m1 3v1m1-4v1m1 33v3m0-33v1m1-3v1m1-1v1m1 2v1m4-4v1m3-5v1m1 3v1m2 39v1m0-41v1m1 0v1m1-6v1m1 2v1m1 0v1m1-3v1m1 13v13m1 2v1m0-29v1m4 12v11m1-29v1m1 63v8m0-30v1m0-9v1m0-33v1m1 13v1m0-13v1m4 67v1m1-75v1m1 46v2m1 4v11m0-45v1m0-17v1m1 60v11m0-18v3m1-62v1m1 75v1m0-76v1m1-1v1m4 44v1m0-26v1m5-19v1m1 47v3m1 1v2m1 12v7m0-19v3m0-58v1m1 50v17m1-21v1m1 1v2m1 23v1m1-72v1m3 55v10m0-64v1m1 51v3m1-6v3m5-48v1m5-1v1m2 41v3m1 2v11m1-37v22m1 15v7m0-44v21m1 3v1m1-2v3m2 4v9m1-39v15m1 24v5m1-24v2m2-9v3m3-34v1m1-3v1m2 45v12m3-20v2m4-3v2m1-20v1m1-1v1m1 33v11m0-65v1m1-1v1m1 64v1m0-30v3m1 9v11m1-58v1m1 37v9m1-49v1m4 1v1m3 22v12m2-35v1m1 48v9m2-57v1m1 20v1m7-1v1m10-26v1m1 0v1m2 18v1m1-1v1m1-1v1m3-22v1m3 0v1m5 18v1m0-22v1m3 18v1m1-22v1m1-2v1m8 14v1m11-18v1m2 14v1m2-1v1m15 40v1m1-1v1m7-49v1m1-1v1m9 50v1m1-1v1m7-9v1m1-1v1m5 10v1m1-1v1m33-21v1m1-1v1m5 15v1m1-1v1m1-20v1m1-1v1m21-2v2m1-2v2m5 19v1m4 0v1m0-22v1m0-25v1m1 44v1m0-22v1m0-25v1m7-8v1m3 28v1m5-31v1m1-1v1m5 15v1m2 0v1m1-1v1m5 39v1m1-1v1m9-61v1m1-1v1m6 24v1m9-15v1m1-1v1m3 0v1m1-1v1m19 9v1m1-1v1m17 8v1m1-1v1m1 1v1m14 2v1m1-1v1m9 1v1m1-1v1m12 0v1m1-1v1m32 13v1m1-1v1m2-14v1m5-1v1m16 1v1m1-1v1m12 13v1m9 0v1m1-1v1m23-14v1m1-1v1m3-2v1m1-1v1m31-1v1m1-1v1m13-1v1m2-1v1m14-1v1m12-1v1m4-1v1m1-1v1m5-2v1m1-1v1m3 0v1m1-1v1m31 2v1m45 15v1m0-15v1m25-1v1m1-1v1m11 0v1m1-1v1m34 14v1m19-15v1m1-1v1m17-1v1m1-1v1m9 12v1m1-1v1m24-16v1m12 13v1m17-15v1m12-1v1m1-1v1m38-2v1m3 0v1m1-1v1m5-1v1m1-1v1m12-1v1m33-3v1m1-1v1m125-8v1m1-1v1"/>
<path stroke="#f9f300" d="M0 50v1m1 36v3m0-16v6m0-29v1m1 47v1m3-51v1m1 37v4m0-12v4m1-3v5m2-35v1m3 44v2m0-45v1m3 46v1m1-25v2m1-4v2m2-24v1m1 16v1m0-18v1m2 0v1m5 16v1m1 27v1m5-29v2m0-18v1m3 45v1m0-12v3m0-18v7m0-11v2m1-20v1m2 18v3m1 26v1m3-11v7m0-11v3m0-9v1m1 19v1m1-25v1m10-2v1m1-22v1m1 33v10m0-23v2m0-9v2m1-19v1m4 0v1m2 20v1m0-6v3m0-19v1m2-1v1m2 21v1m0-10v1m1 6v1m6-17v6m2 38v1m0-51v1m1 35v9m0-20v1m0-8v2m1-2v6m1-24v1m4-3v1m15 2v1m1 14v6m1-3v1m3-21v1m6 22v1m3-7v6m1-22v1m1 0v1m1 40v6m0-12v1m0-12v1m1-26v1m8 49v1m0-53v1m2 3v1m1-3v1m1 20v2m0-22v1m5-1v1m2 33v5m0-26v1m2 2v5m2-5v2m1-23v1m2 2v1m1 22v2m0-7v2m0-18v1m1 23v2m0-9v1m1 3v1m1 1v1m5-1v1m0-8v1m0-16v1m1 47v1m2-23v1m1-4v1m0-9v1m1 4v2m0-6v2m1 2v1m5-28v1m5 3v1m1-2v1m2-5v1m4 12v15m3 1v3m3-37v1m1 4v1m1-4v1m1 36v1m0-26v1m0-11v1m2-4v1m4 12v21m1-36v1m3 33v7m0-39v1m1 31v9m1-7v2m2-42v1m1-1v1m2-2v1m2 16v14m0-30v1m3 28v2m0-29v1m1-5v1m1 47v2m5 11v7m0-25v5m0-46v1m1 37v8m0-31v1m1-15v1m1 64v1m2-33v10m0-29v1m1-13v1m1 57v5m2-65v1m5 33v20m0-40v17m5-27v1m1-3v1m2 10v12m0-23v1m1-5v1m4 39v1m0-27v10m1-10v12m3 12v1m0-11v1m0-17v1m1 31v18m1-36v1m1 12v4m3-50v1m1 48v7m0-25v2m0-29v1m2 38v1m0-7v1m2-36v1m1-3v1m3 58v5m1-15v3m1 12v10m1-20v3m0-56v1m2 18v23m2-45v1m3 46v2m0-47v1m2 19v24m0-41v1m2-4v1m2 45v3m1 1v3m1 0v2m1 13v6m0-34v11m0-48v1m1 44v2m0-46v1m1 46v2m4-48v1m1 63v5m0-53v1m1 38v6m1-9v4m0-36v1m1-19v1m1 20v11m0-30v1m2-2v1m1 65v1m2-66v1m5 44v3m1 10v7m0-23v5m0-45v1m1 40v11m2-8v2m1-7v3m1-40v1m1 55v5m1-29v3m2 4v3m1-46v1m1 20v13m0-33v1m6 57v6m0-22v4m2-45v1m1 33v3m0-38v1m1 18v1m0-18v1m3 31v3m5 1v1m1 19v6m0-66v1m2 65v1m0-18v11m1-37v1m5-23v1m2 35v7m2-20v1m1 35v7m5-66v1m2 22v1m1-22v1m1 0v1m2 0v1m1 0v1m1-2v1m1 17v1m0-19v1m2-3v1m2 16v1m0-18v1m4-4v1m7 17v1m4-21v1m4 18v1m1-1v1m0-22v1m9 13v1m6-4v1m4-1v1m2-1v1m7-2v1m17-6v1m1-1v1m3 40v1m1-1v1m5-49v1m1-1v1m3 0v1m1-1v1m3 56v1m0-51v1m1 49v1m0-51v1m5 0v1m1-1v1m7-6v1m1-1v1m5 45v1m1-1v1m19-11v1m1-1v1m9 2v1m1-1v1m1-2v1m1-1v1m13-5v2m1-2v2m9-30v1m1-1v1m3 26v1m0-3v1m8-22v1m1-1v1m3 45v1m3-47v1m5 47v1m1-1v1m11-1v1m1-1v1m33-20v1m2-29v1m1-1v1m5 2v1m1-1v1m11 6v1m1-1v1m9 6v1m1-1v1m1 0v1m1-1v1m9 17v1m0-16v1m1 14v1m0-16v1m3 0v1m44 17v1m1-1v1m3-1v1m0-14v1m1 12v1m0-14v1m9-1v1m1-1v1m9-1v1m1-1v1m12 1v1m1-1v1m1-1v1m17 0v1m1-1v1m3-1v1m1-1v1m9-1v1m1-1v1m7-2v1m1-1v1m15 0v1m1-1v1m3-1v1m1-1v1m4-1v1m13-1v1m1-1v1m1-1v1m1-1v1m1-1v1m1-1v1m9-1v1m1-1v1m15-1v1m1-1v1m3-1v1m13-1v1m15-1v1m1-1v1m11 0v1m1-1v1m1-1v1m1-1v1m7 0v1m1-1v1m11 13v1m5-14v1m7-2v1m8 0v1m1-1v1m35 0v1m1-1v1m15 0v1m1-1v1m4-1v1m34 2v1m6-2v1m27-1v1m1-1v1m4-1v1m17 0v1m1-1v1m3-1v1m1-1v1m2-2v1m1 12v1m0-15v1m1 13v1m0-15v1m11-1v1m15-2v1m1 12v1m1-1v1m39-14v1m1-1v1m35 13v1m1-1v1m1-15v1m1-1v1m17 12v1m1-1v1m3 0v1m0-15v1m1 13v1m0-15v1m3-2v1m1-1v1m13-2v1m1-1v1m5 14v1m1-1v1m11-16v1m1-1v1m30-1v1m61-1v1m1-1v1m21-9v1m1-1v1m35 2v1"/>
<path stroke="#ffdf00" d="M1 90v3m0-24v1m2-22v1m3 42v2m0-23v9m1 6v4m1-19v19m2-40v1m1 0v1m3-2v1m1 0v1m1 26v3m0-12v1m0-18v1m1 23v3m0-28v1m1 0v1m2 21v1m7 23v2m1-1v1m0-47v1m5 18v1m0-4v1m3 22v2m2-45v1m1 24v3m0-7v1m1-1v4m3 23v1m0-17v5m0-18v1m0-18v1m1 18v4m1 3v1m5-28v1m2-1v1m5 26v1m0-11v1m4 32v1m0-50v1m3 22v1m0-9v2m1-16v1m2 47v1m1-13v1m1-16v1m1-24v1m3-1v1m1 2v1m4 41v3m0-13v1m0-10v1m0-11v2m1 6v1m0-9v2m3-19v1m5 50v1m3-32v4m2 27v1m1-50v1m1 0v1m4-3v1m2 21v2m1 26v1m0-31v3m0-7v3m1 19v5m0-17v1m0-12v1m1-16v1m2 36v7m0-41v1m1 12v7m2-25v1m2 24v1m0-9v1m0-14v1m1 0v1m1 46v1m1-29v1m3 12v1m1-16v4m6 26v1m3-50v1m3 21v1m0-8v1m2 2v5m1-22v1m3-5v1m1 41v6m0-41v1m2 16v1m1-23v1m1-1v1m4 23v1m1 2v11m0-21v1m1 5v20m0-23v2m1 3v1m0-10v1m1-18v1m1 50v1m0-33v5m3 27v1m0-26v1m2-8v4m0-21v1m1 27v2m0-16v1m0-11v1m1 20v1m0-26v1m1 22v2m0-25v1m1 21v2m0-8v1m0-16v1m1 47v1m0-33v4m2-22v1m1-2v1m4-3v1m3 52v1m5-53v1m1 23v4m0-29v1m1 9v13m0-27v1m2 32v2m0-23v1m4-1v16m2 8v2m2 1v12m2-55v1m2 34v14m3-52v1m1 63v1m0-22v7m1-5v9m1-14v1m7-13v2m2-32v1m1 40v1m0-11v1m2 12v2m0-47v1m1 16v15m0-30v1m1-2v1m2-1v1m1 35v5m1 5v8m1-23v28m1-59v1m2 43v9m2-50v1m1-5v1m4 66v1m2-12v11m0-63v1m2-3v1m2 1v1m2 62v1m2-41v3m4-31v1m1 39v1m0-16v2m1 0v1m0-14v1m0-11v1m4 58v5m0-26v3m1-17v1m1 15v2m0-7v1m0-10v1m2-35v1m2 53v11m0-20v2m0-16v1m0-15v1m2 18v1m5-41v1m1 65v10m0-19v4m1-7v2m0-51v1m2 48v2m2-11v2m0-26v1m5 54v1m0-28v1m1-49v1m1 44v2m1-46v1m3 41v4m0-43v1m1 43v3m1 1v2m1-33v20m1 10v1m1 2v2m3-53v1m3 63v8m0-68v1m1 54v9m0-61v1m2 29v5m1-32v1m1 43v11m2-55v1m3 16v14m0-32v1m2 16v1m1 28v3m1-13v4m1 12v11m0-45v1m2 27v3m0-32v1m1 45v1m0-27v2m3-2v3m2 4v3m0-29v1m4-18v1m4 36v3m3-10v3m2-32v1m1 15v1m0-19v1m1 62v1m0-34v3m4-14v1m1 18v2m3 17v6m0-43v1m4-23v1m2 22v1m1-2v1m1 20v7m6-48v1m4-1v1m1 20v1m1-1v1m3-2v1m4-2v1m1-19v1m9 13v1m1-20v1m3-1v1m2-1v1m2 18v1m10-8v1m0-18v1m9-3v1m12 0v1m4 12v1m1-14v1m5 47v1m1-1v1m5-46v1m1-1v1m3-3v1m1-1v1m3 4v1m2 1v1m1-1v1m5-2v1m1-1v1m1-1v1m1-1v1m3 0v1m1-1v1m3-6v1m1-1v1m1 46v1m0-49v1m1 47v1m0-49v1m13 49v1m1-1v1m15-13v1m1-1v1m11-2v1m1-1v1m25-35v1m1-1v1m1 52v1m0-22v2m1 19v1m0-22v2m1-2v1m12-3v1m4-1v1m0-28v1m1 26v1m0-28v1m13 54v1m1-1v1m15-37v1m14 14v1m1-1v1m1-28v1m1-1v1m27 13v1m1-1v1m16 7v1m7 1v1m1-1v1m7 0v1m1-1v1m9 0v1m1-1v1m1-1v1m1-1v1m34 15v1m0-15v1m5-1v1m1-1v1m5 12v1m1-1v1m23-12v1m1-1v1m9 0v1m1-1v1m21-1v1m10-1v1m1-1v1m13-1v1m1-1v1m3-1v1m1-1v1m3-1v1m1-1v1m1-1v1m1-1v1m17-2v1m1-1v1m1 0v1m1-1v1m1-1v1m1-1v1m5-1v1m2-1v1m1-1v1m7-1v1m1-1v1m5-1v1m16-1v1m1-1v1m19 1v1m1-1v1m5 13v1m1-1v1m9-2v1m1-1v1m3-13v1m24 11v1m1-1v1m45 3v1m1-1v1m7-14v1m1-1v1m31 1v1m1-1v1m47-1v1m1-1v1m3-1v1m1-1v1m11-3v1m1-1v1m6-1v1m43-1v1m40-3v1m1-1v1m2 13v1m29-14v1m1-1v1m67-4v1m8-1v1m1-1v1m7-1v1m1-1v1m19 15v1m0-16v1m1 14v1m0-16v1m1-1v1m1-1v1m13 1v1m1-1v1m41-8v1m1-1v1m15 12v1m1-1v1m3-13v1m1-1v1"/>
<path stroke="#ffcc00" d="M1 93v2m3 4v1m0-50v1m2 42v2m0-26v1m1 19v3m0-25v1m0-15v1m1 35v3m0-23v1m4 27v1m0-33v1m0-13v1m1-5v1m3 49v1m0-20v5m1-7v7m0-17v1m2 0v2m1 3v1m0-8v1m1-21v1m2 21v3m1-3v3m0-23v1m1 1v1m1-2v1m1-2v1m1 16v1m4 2v4m1-1v1m3 20v2m3-19v12m0-35v1m1 19v1m0-23v1m1 17v3m2 25v2m1-26v2m0-24v1m1 25v1m0-11v1m2 1v3m0-20v1m4 46v1m0-31v3m1 27v1m3-25v1m0-11v1m0-14v1m2 44v2m0-13v1m7-1v5m0-17v1m3-10v6m0-19v1m1 35v6m0-9v2m0-13v1m0-12v1m0-12v1m1 10v1m0-13v1m1 47v1m1-49v1m7 45v1m0-15v1m0-8v1m0-27v1m1 23v1m0-25v1m2-1v1m9 21v1m0-8v3m1-19v1m3 17v6m3-25v1m2 17v5m2 1v1m0-23v1m1 41v5m0-11v1m0-35v1m3 40v4m0-12v1m0-16v3m1-1v1m0-22v1m5 13v7m1-22v1m1 21v1m0-9v1m0-15v1m3 46v2m0-24v1m0-12v1m1 8v1m0-8v3m1-22v1m11 25v1m2-1v2m0-9v2m2 1v3m0-22v1m3 44v2m1-45v1m1 46v1m0-28v1m0-8v1m0-17v1m1 18v6m5 0v2m1 23v1m0-13v7m0-43v1m1 40v6m0-31v2m1 6v1m0-22v1m2 17v2m2-26v1m1 26v1m0-11v1m1-15v1m1 19v1m1 8v1m1-5v2m1-3v1m0-10v1m1 7v1m1-4v2m0-21v1m1-6v1m4 0v1m1-5v1m2 2v1m1 13v10m7 4v5m0-25v1m1 13v9m0-23v1m1-1v14m1 8v3m0-34v1m1-5v1m3 27v3m2 7v2m0-39v1m2 49v6m0-22v4m0-41v1m4 46v8m0-54v1m2 34v16m2-7v7m1-3v10m0-61v1m1 37v1m0-39v1m1-3v1m3-6v1m6 33v1m1-17v15m1 12v1m1-13v1m2-33v1m2 16v20m0-35v1m1 52v8m1-3v7m0-50v15m3 22v8m7-47v1m3-14v1m2 13v19m0-30v1m1 27v4m1-21v20m0-29v1m2-6v1m1 27v2m1-31v1m1-4v1m1 68v1m0-54v12m0-24v1m1 64v1m1-42v1m0-25v1m1 38v3m0-17v1m1-30v1m2 38v1m0-9v1m1 10v1m0-28v13m1 14v4m0-32v1m0-14v1m1 45v1m0-45v1m1-4v1m3 61v7m0-28v1m0-13v1m2 6v2m0-4v1m0-22v1m0-14v1m6 45v4m1-1v3m2-6v1m1-53v1m1 45v2m3-27v22m1-41v1m1 46v2m0-49v1m2 44v3m3-47v1m1 17v22m1 2v3m1 2v2m0-50v1m2 49v2m0-34v1m1 35v2m0-38v1m4 1v24m2-24v1m1 48v4m2-30v3m1-20v1m1 39v7m0-22v4m4-46v1m1 32v2m2-32v1m1 60v1m0-15v9m0-56v1m1 27v6m1-34v1m1 15v1m0-18v1m1 47v5m1-20v3m2-35v1m1 60v1m0-24v3m1-41v1m1 44v4m1-32v17m2-35v1m4 61v1m0-63v1m1 32v4m0-40v1m1 18v1m1 0v1m1 1v11m4-11v10m0-31v1m1 1v1m1-1v1m1 17v1m2 20v2m0-44v1m2 19v1m1-21v1m3 0v1m4 0v1m1 47v15m3-63v1m1 1v1m1 17v1m8-18v1m9-4v1m1 16v1m1-2v1m2-21v1m1-1v1m5 0v1m2 17v1m1-1v1m3-20v1m2-2v1m2-4v1m15 11v1m1-1v1m22 34v1m1-1v1m3-1v1m1-1v1m7-1v1m22-41v1m1-1v1m27 44v1m0-18v1m1 16v1m0-18v1m1 17v1m1-1v1m43-49v1m1-1v1m3 52v1m0-54v1m1 52v1m0-54v1m6 62v1m0-64v1m1 8v1m1-1v1m13 6v1m1-1v1m1-19v1m1-1v1m3 38v1m1-1v1m3-41v17m1-17v17m1 5v1m1-1v1m1 2v1m0-26v20m1 5v1m0-26v20m1-19v1m5-2v1m9 10v1m1-1v1m5 0v1m6 1v1m21 12v1m8 3v1m6 16v1m13-13v1m1-1v1m3 0v1m1-1v1m11 0v1m2-1v1m1-1v1m9 0v1m2-1v1m1-1v1m1-1v1m1-1v1m3-1v1m1-1v1m7-1v1m1-1v1m7 0v1m1-1v1m5-2v1m1-1v1m5 0v1m24 0v1m3 0v1m9-1v1m1-1v1m3-1v1m1-1v1m3-1v1m1-1v1m10-1v1m1-1v1m1-1v1m1-1v1m1-1v1m19-1v1m1-1v1m3-1v1m16-1v1m1-1v1m21-1v1m1-1v1m8-1v1m31-1v1m1-1v1m1 13v1m1-1v1m3 3v1m1-1v1m3-16v1m1-1v1m11-1v1m1-1v1m10-1v1m13 0v1m1-1v1m1-1v1m1-1v1m1-1v1m1-1v1m8 0v1m17-2v1m1-1v1m24 13v1m7-13v1m1-1v1m8 13v1m0-15v1m1 0v1m1-1v1m25 0v1m1-1v1m2-1v1m3-1v1m1-1v1m5-1v1m3-1v1m15-1v1m1-1v1m29-4v1m12 0v1m1-1v1m5-1v1m4-1v1m1-1v1m9-1v1m1-1v1m51-5v1m1-1v1m7 16v1m1-1v1m13-14v1m1-1v1m17-3v1m1-1v1m11-1v1m1-1v1m27 0v1m1-1v1m15-3v1m1-1v1m39 15v1m1-1v1m19-16v1m1-1v1m13-1v1m1-1v1m41-6v1m1-1v1"/>
<path stroke="#ffb900" d="M1 95v2m5-2v2m1-5v2m1-2v2m3-43v1m1 46v2m1-31v3m3 13v4m0-22v1m1 17v4m2-18v2m0-21v1m1 22v1m2-7v2m1 1v2m0-23v1m1 20v2m1-5v2m2-3v1m5 4v2m1-2v1m2-27v1m1 47v2m0-29v1m1-17v1m2 35v3m0-23v1m1 5v1m0-7v1m1 3v2m1-24v1m2 24v1m0-8v1m1 19v6m1-46v1m1 23v1m1-22v1m1-3v1m2 22v1m0-22v1m2-4v1m1 50v1m1-24v1m1-9v5m1 4v1m0-13v1m0-13v1m5 45v1m0-34v6m0-20v1m2 38v6m0-12v1m0-22v1m0-13v1m1 16v4m1 26v1m1-29v1m0-8v1m1 29v3m0-13v1m1-12v1m4 12v3m0-20v3m1-3v2m4 27v1m0-17v1m0-6v1m0-14v1m1 10v1m0-12v1m4-16v1m2 0v1m2-6v1m3 27v2m0-25v1m4 22v1m0-9v2m1 0v6m4-2v2m0-8v1m1 7v1m0-10v1m1-1v1m1 20v1m2-19v6m0-24v1m1 47v1m0-14v1m0-12v1m0-6v2m3-1v2m2 2v1m0-11v1m1 8v1m1 14v1m0-18v2m1 27v1m4-14v6m0-27v1m2 3v3m1 27v1m1-50v1m6 15v6m2 2v1m0-11v1m2 10v2m0-28v1m1 18v4m1 0v2m0-8v3m3 28v2m0-37v1m1 3v6m1 1v1m1 0v10m0-18v2m1-3v1m4 10v1m0-12v1m1 28v5m1-1v1m0-33v1m1 9v2m2-4v1m0-9v1m0-16v1m1-1v1m2 24v1m0-25v1m2 19v1m0-7v1m1 32v1m0-19v3m0-21v1m0-9v1m1 22v3m0-16v1m1 10v3m1-4v1m1-3v1m0-8v1m4-22v1m5 25v2m3-29v1m4 35v5m1-7v8m1-17v5m0-30v1m1 35v2m2-39v1m2 29v4m2 5v3m1-32v16m0-29v1m1 33v3m4 18v4m2-7v7m0-34v11m0-36v1m1 58v1m0-28v21m1-1v7m0-59v1m1 9v1m1 26v2m0-30v1m2 0v16m3-33v1m2 65v1m0-24v2m0-13v1m3-18v1m1 27v12m0-24v1m0-33v1m3 66v1m1-51v41m3 5v4m0-62v1m1 61v1m0-52v1m2 33v7m1 5v5m0-65v1m1 13v21m0-32v1m3-3v1m1-2v1m1-4v1m1 3v1m1-4v1m1 14v1m1 0v22m1-35v1m1 31v4m1-2v21m0-42v17m0-28v1m1 30v2m1-33v1m2 26v8m0-26v1m0-10v1m2 61v1m1-27v12m0-27v1m2 11v1m0-12v1m0-15v1m1 30v3m0-7v1m3-39v1m1 23v1m0-27v1m1 43v3m0-8v1m0-12v1m1 17v2m0-11v1m0-27v1m3 42v2m0-62v1m1 3v1m2 34v1m2-21v22m0-39v1m4 44v3m1 6v3m2-11v2m0-49v1m1 71v1m1-28v2m0-49v1m1 19v23m0-43v1m2 41v3m0-26v1m2 30v1m2-2v2m0-32v1m5 19v5m0-41v1m1 43v2m2 4v1m1 3v3m1-57v1m1 15v1m0-16v1m2 40v4m4-23v1m1 20v2m2 0v3m1-23v14m3-14v13m1 3v1m1-36v1m2 58v5m0-46v1m1 1v11m3 24v9m0-60v1m1 26v4m0-34v1m1 16v1m2 25v4m0-29v1m0-18v1m2 49v12m0-62v1m1 34v8m3-27v1m4 2v14m1-32v1m2 16v1m8-21v1m1 42v2m2-44v1m2-3v1m3 21v1m4-23v1m5 2v1m2-2v1m2-2v1m13 16v1m6-21v1m1 0v1m2-2v1m3 0v1m3-1v1m13-8v1m1-2v1m3 14v1m26 40v1m1-1v1m7-7v1m1-1v1m7-1v1m1-1v1m5-48v1m1-1v1m1-1v1m1-1v1m1-1v1m1-1v1m7-1v1m1-1v1m1 6v1m0-6v1m1 4v1m0-6v1m19 48v1m1-1v1m11-15v1m1-1v1m7-1v1m1-1v1m23-30v1m0-5v1m1 3v1m0-5v1m15 1v1m3 21v1m15 10v1m1-1v1m3-17v1m1-1v1m29-10v1m1-1v1m5 0v1m1-1v1m5 2v1m1-1v1m7 24v1m1-1v1m3-18v1m1-1v1m5 3v1m1-1v1m32 8v1m3 0v1m1-1v1m13 0v1m1-1v1m9-1v1m1-1v1m11 0v1m11-1v1m16 17v1m3-17v1m1-1v1m9-1v1m12-1v1m4-1v1m1-1v1m7-1v1m1-1v1m1-1v1m1-1v1m6 12v1m5-12v1m1-1v1m7-2v1m1-1v1m25-2v1m1-1v1m15 0v1m2-1v1m21-1v1m7 13v1m0-15v1m1 13v1m0-15v1m1-1v1m1-1v1m5-2v1m1-1v1m41 2v1m1-1v1m49 1v1m1-1v1m13 0v1m1-1v1m7-1v1m1-1v1m5 11v1m1-1v1m23-11v1m46-1v1m1-1v1m25 10v1m6 0v1m3-15v1m41-1v1m1-1v1m25-5v1m1-1v1m21 3v1m1-1v1m9-1v1m3-1v1m27-3v1m1-1v1m7-1v1m1-1v1m37-2v1m1-1v1m29-2v1m1-1v1m5 1v1m1-1v1m49-8v1m1-1v1m1-2v1m1-1v1"/>
<path stroke="#ffa600" d="M1 68v1m1-18v1m1 18v3m1-3v2m1-22v1m2 43v2m1-2v2m0-49v1m5 24v2m3 15v3m1-3v3m2-19v1m0-6v1m1 7v1m0-25v1m2 18v2m1 1v1m0-7v1m1 5v1m0-7v1m1 2v2m1 26v1m2-47v1m1-3v1m1 17v4m2 2v4m0-29v1m1 23v1m0-8v1m6 23v3m1-19v2m1-3v1m0-7v1m2-3v1m0-16v1m1 24v1m1 17v3m0-10v1m0-10v1m2-6v1m0-6v1m4 4v2m0-7v1m4-5v1m0-12v1m1 19v1m0-8v2m1 17v1m1-35v1m4 20v1m0-8v1m2 18v1m1 2v2m0-16v1m0-7v2m0-17v1m2 19v1m1 24v2m0-16v1m0-31v1m1-2v1m1 11v7m0-21v1m2-1v1m1 38v6m0-10v1m0-14v1m0-5v1m1 2v2m0-8v4m3 18v1m1-10v4m1 4v4m0-14v1m3 22v1m3-30v2m5 3v1m2-26v1m2 23v1m1-2v2m0-10v2m0-16v1m1-3v1m3 23v1m1 0v1m0-23v1m1 20v1m1 23v2m0-23v1m0-14v1m2 9v1m0-9v2m1 31v1m0-25v1m0-8v1m1 5v1m0-10v1m2 6v1m0-7v4m1-18v1m1 0v1m2 35v7m0-10v2m0-15v1m0-5v2m1 3v1m3 9v1m0-33v1m1 40v5m0-12v1m0-12v1m0-25v1m2 21v1m0-7v3m0-17v1m6-5v1m1 50v1m0-49v1m1 20v1m0-8v1m1-16v1m1 24v1m1-27v1m1 27v8m0-20v1m1 6v2m0-8v2m1 6v1m3-20v1m1 16v2m1 0v1m1 9v8m2-46v1m2 2v1m1 27v3m1-15v1m2 12v2m0-16v1m0-10v1m1-7v1m1 25v2m3 0v2m1-12v5m1 1v1m1 10v3m1-6v3m1-5v4m1-7v1m0-12v1m1 8v1m2-6v3m1-23v1m4 17v26m2-20v2m0-15v1m0-12v1m1-2v1m3-6v1m2 12v11m1 18v7m0-45v1m1 38v8m0-51v1m1 30v4m1 4v4m3-47v1m1 59v1m0-23v3m0-27v1m0-10v1m2 40v5m1-21v7m1-5v3m1-33v1m1-3v1m2 11v1m2 0v13m1 28v6m0-47v20m0-36v1m1 13v1m2 28v1m2-14v3m1-35v1m2 15v38m1-38v43m0-59v1m1 43v4m0-7v1m1-43v1m2 39v1m0-38v1m1 51v11m0-24v1m1-1v1m1-11v1m0-18v1m1 0v13m1 28v9m2-51v1m0-14v1m2-1v1m1-2v1m1 54v10m0-22v5m0-48v1m2 34v21m1-43v1m0-11v1m1-5v1m1 12v1m5-10v1m1 32v6m2-5v3m1 16v9m1-29v2m0-25v1m1 0v16m2 8v2m1-40v1m1-4v1m1 53v8m0-21v1m0-14v1m1-28v1m1 2v1m1 43v4m0-12v1m0-12v1m0-25v1m2 36v16m0-44v13m0-25v1m2 37v1m0-13v1m1 19v3m0-12v1m1 9v1m0-19v1m3 25v11m0-18v5m1-16v1m0-11v1m3-29v1m1 34v5m0-28v1m1-19v1m1 16v1m0-13v1m1-8v1m1 45v3m0-47v1m1 58v9m0-51v1m1 55v1m0-57v1m1 28v2m1 8v10m1-18v2m1-8v3m0-27v1m2 25v2m0-44v1m2 47v1m2-1v2m2-52v1m1 18v43m2-43v19m1 6v2m1-43v1m1 49v2m0-51v1m1 54v8m0-63v1m4 43v3m2-45v1m2 0v1m1 40v2m0-41v1m2 63v1m0-30v4m0-40v1m1 33v5m0-38v1m2-1v1m1 31v4m1 0v2m4-19v1m4 0v11m2-13v1m1 29v5m3-8v10m0-55v1m4 17v1m0-16v1m1 15v1m0-19v1m2 18v1m5-3v1m2 1v1m3-21v1m2 44v2m0-27v1m1-22v1m4 1v1m3-1v1m3 20v1m1-1v1m0-22v1m1-1v1m2 18v1m4-21v1m3 1v1m1 0v1m2 0v1m3-1v1m3 13v1m1-17v1m2-5v1m1 0v1m1 16v1m5-1v1m3-1v1m3-20v1m3-2v1m4 15v1m0-19v1m1 16v1m9-7v1m2-1v1m2-16v1m3-1v1m1 14v1m2-2v1m3-1v1m20 42v1m1-1v1m1-49v1m1-1v1m1-7v1m1-1v1m1-1v1m2 46v1m0-49v1m1 47v1m0-49v1m1 4v1m1-1v1m15 2v1m1-1v1m5 1v1m1-1v1m11 40v1m1-1v1m3 0v1m1-1v1m3 0v1m1-1v1m3-17v2m1-2v2m5 16v1m0-17v1m1 15v1m0-17v1m7 16v1m0-16v1m1 14v1m0-16v1m21 14v1m1-1v1m1-49v1m1-1v1m11 4v1m1-1v1m3 1v1m3 45v1m1-35v1m1-1v1m3-13v1m0-10v1m1 8v1m0-10v1m13 34v1m1-1v1m3-39v1m1-1v1m39 39v1m1-1v1m17 3v1m1-1v1m13-11v1m8 1v1m1-1v1m5 14v1m1-1v1m3-14v1m1-1v1m5 14v1m1-1v1m6-15v1m1-1v1m38 0v1m1-1v1m3 13v1m16-13v1m1-1v1m25 0v1m1-1v1m9 12v1m12-14v1m1-1v1m5-1v1m1-1v1m1-2v1m16 13v1m1-1v1m1-14v1m1-1v1m5-1v1m1-1v1m3-2v1m1-1v1m17 0v1m1-1v1m33-1v1m1-1v1m31 2v1m5-1v1m15-1v1m1-1v1m24 1v1m27-1v1m1-1v1m4-1v1m5 0v1m1-1v1m28 1v1m25-2v1m1-1v1m7-1v1m1-1v1m4 11v1m0-13v1m17 0v1m1-1v1m3-1v1m1-1v1m2-2v1m1-2v1m1-1v1m11-1v1m32-2v1m12 12v1m1-1v1m11-14v1m1-1v1m26-2v1m3 0v1m1-1v1m51-3v1m1-1v1m44-1v1m119-6v1"/>
<path stroke="#ff9200" d="M0 51v1m1 45v1m2-25v2m0-6v1m0-21v1m1 22v3m0-6v1m2 27v1m1-2v1m0-31v1m1 29v1m0-29v1m2-19v1m1 19v3m1-9v1m0-11v1m1 19v1m1-25v1m1 0v1m1 40v2m1-2v2m0-27v1m1-16v1m1 21v1m1 2v1m0-12v1m2 6v1m0-6v1m0-16v1m1 21v2m1-2v1m1-3v1m3-9v1m2 7v1m2 25v1m0-21v7m0-18v1m1 30v1m0-25v1m3 21v1m0-46v1m1 16v2m1-22v1m1 44v2m1-19v2m0-12v1m1 7v2m0-26v1m1 17v23m2-4v4m0-15v1m1 21v1m0-3v1m0-12v1m0-21v1m0-15v1m2 21v1m2 24v1m2-25v1m1-26v1m2 0v1m1 25v1m1-4v2m0-22v1m1 9v1m0-11v1m4-4v1m1 21v1m0-21v1m1 11v6m0-19v1m1 44v2m0-24v1m1 13v6m0-10v2m0-22v2m1-15v1m1 20v1m0-21v1m1 21v1m0-14v1m1 36v1m0-38v1m1 8v1m3 23v2m0-13v1m0-12v1m0-10v4m1-4v1m0-12v1m3 34v6m0-10v3m0-17v3m2 17v6m0-12v2m0-9v1m2-9v3m3-24v1m1 23v2m0-7v3m5 6v1m0-13v1m2 4v3m1-21v1m1 23v1m0-24v1m1 22v1m3-26v1m1 13v1m0-14v1m1 11v1m1 10v1m1 9v1m2-35v1m1 14v2m3 32v1m0-28v1m0-25v1m1 16v6m2 2v1m0-10v1m0-12v1m1 41v2m0-13v1m0-12v1m0-8v2m1-5v1m1-14v1m2 25v1m0-14v1m2-16v1m1 24v1m0-9v1m5-16v1m2 15v5m1 2v1m2 2v1m2 8v7m1-18v1m0-23v1m1 22v3m0-13v1m1-15v1m3 47v1m0-26v1m0-10v1m1 9v1m0-12v1m1 27v6m3-48v1m2 29v3m0-32v1m2 47v1m1-20v2m2-5v2m0-14v1m3 13v2m0-17v1m1 7v2m0-22v1m1 21v1m0-10v1m1 21v5m1-8v4m0-24v1m0-14v1m1 31v6m0-24v1m1 11v2m0-27v1m1 22v1m2 23v1m0-28v2m0-7v2m0-19v1m2-5v1m1 2v1m1-5v1m1 47v6m0-36v4m0-20v1m2 27v3m2-33v1m1-1v1m3 53v1m0-33v2m0-21v1m1 43v7m1-5v6m1-22v5m1 16v1m0-14v7m0-40v1m0-7v1m1 51v1m3-20v4m1-30v36m0-49v1m1 48v9m0-48v1m0-8v1m1 31v8m1-19v6m0-30v1m1 11v21m4-36v1m1 12v1m1-1v1m2-13v1m1 40v2m0-43v1m2 29v2m0-37v1m1 15v15m2 23v11m0-50v1m1 43v6m0-50v1m1 32v5m0-13v1m0-27v1m2-15v1m1 31v1m1 7v1m0-10v1m0-18v1m1-16v1m2 42v11m0-25v2m6 16v14m1-21v4m1-30v1m1 42v9m3-63v1m3-1v1m3 39v6m0-47v1m1 0v1m1 37v4m0-31v1m0-10v1m1 8v1m0-10v1m1 33v2m0-34v1m1 23v6m0-23v1m0-10v1m1-4v1m1 38v2m3 17v6m0-28v1m0-37v1m2 24v1m1 22v6m0-19v1m1-40v1m1 57v10m0-27v1m0-15v1m1 9v1m0-7v1m2 19v3m0-24v1m0-30v1m1 48v2m0-15v1m0-35v1m2 10v13m1 20v3m4-39v1m1 29v4m4-31v25m1 24v6m0-71v1m2 40v2m1 20v7m0-22v5m0-57v1m1 50v2m1-7v2m2-1v2m2 3v2m0-36v1m0-17v1m1-3v1m1 52v3m3 7v11m0-71v1m1 0v1m2 36v4m2 11v2m1 10v6m3-71v1m1 48v4m0-36v1m3-11v1m2 40v2m1-40v1m1 15v16m1 3v3m1-24v1m0-15v1m2 32v3m1-1v1m0-37v1m4-1v1m5 1v1m2 48v11m1-46v1m2 36v9m1-63v1m1 16v1m1-16v1m3 14v1m3-17v1m10 44v3m1-30v1m4-1v1m2-21v1m1 19v1m1-21v1m5 20v1m4-1v1m2 0v1m1-21v1m5 2v1m1-2v1m3-3v1m1 0v1m10-6v1m1 17v1m4-19v1m1 17v1m5-22v1m3-3v1m7 13v1m1-18v1m12 13v1m1-14v1m3 12v1m5-1v1m13-10v1m1-1v1m11 4v1m1-1v1m7 40v1m1-1v1m1-48v1m1-1v1m5 47v1m1-1v1m5-1v1m1-1v1m1 11v1m1-1v1m15 4v1m1-1v1m41-62v2m1-2v2m5 50v1m1-1v1m5-52v1m1-1v1m3 20v1m0-21v1m3 25v1m23-11v1m1-1v1m17-22v1m1-1v1m5 11v1m1-1v1m5 0v1m1-1v1m7 24v1m1-1v1m1-21v1m1-1v1m1 0v1m1-1v1m21 11v1m1-1v1m1 1v1m4 0v1m1-1v1m3 16v1m0-17v1m48 4v1m1-1v1m21-1v1m11 1v1m1-1v1m1-1v1m3-1v1m1-1v1m3 12v1m0-14v1m1 12v1m0-14v1m9 0v1m1-1v1m1-1v1m1-1v1m1-1v1m1-1v1m17-2v1m1-1v1m15 0v1m1-1v1m3 13v1m1-1v1m4-15v1m1-1v1m1-1v1m11-1v1m1-1v1m3-1v1m1-1v1m9-1v1m1-1v1m19 11v1m0-13v1m4-1v1m7 11v1m2-13v1m3-1v1m24 0v1m1-1v1m1-1v1m1-1v1m1 0v1m1-1v1m5-1v1m1-1v1m13 0v1m10-2v1m68 3v1m1-1v1m27 15v1m4-15v1m1-1v1m4-2v1m37 12v1m1-1v1m28-15v1m18-2v1m25 0v1m40-3v1m1-1v1m13 0v1m1-1v1m21-1v1m1-1v1m3-2v1m1-1v1m31-2v1m1-1v1m91-1v1m1-1v1m29-6v1m1-1v1m19 12v1m0-13v1m1 11v1m0-13v1"/>
<path stroke="#ff7f00" d="M1 98v1m2-24v10m1-10v9m0-33v1m2 46v1m0-31v1m1-15v1m3 14v5m1-1v2m0-6v1m0-18v1m1 2v9m1 11v2m0-9v1m0-19v1m2 20v1m1 22v2m0-30v1m0-15v1m1 41v2m2-21v1m0-23v1m1 24v2m2-6v1m1 2v2m1-3v2m1-4v2m0-8v1m1 0v3m1-5v1m0-18v1m3 48v1m0-26v2m0-8v1m0-18v1m1-1v1m1 34v4m1-14v1m0-11v1m0-13v1m3 43v1m0-32v1m1 3v1m0-4v1m2 27v1m0-30v1m1 11v3m0-30v1m1 24v3m0-13v1m1 24v5m1-32v1m1 26v5m0-11v2m0-10v1m0-12v1m0-16v1m1 45v1m0-20v1m1-11v4m0-24v1m1 25v1m0-9v1m4 8v1m0-10v1m3 2v2m3 6v1m5-5v1m0-11v1m1 6v1m1-9v1m0-11v1m1 41v2m0-23v1m0-22v1m2 9v1m1 35v1m1-26v1m1-3v1m0-22v1m1 47v1m0-15v6m0-22v4m2 24v2m0-25v1m1-2v1m3 20v3m0-14v1m0-11v2m0-7v2m1-7v1m0-13v1m1 44v1m0-14v1m0-6v1m0-16v1m0-13v1m2 20v2m0-8v3m3-1v4m1 2v2m0-11v2m5 10v1m2-6v2m0-8v3m2 7v1m0-13v1m1 11v1m2 22v1m2-26v1m1 0v1m1-13v1m0-13v1m1 1v1m2 20v1m1 8v1m0-9v1m1-2v1m0-12v1m1 5v1m1 3v1m1-3v1m1 2v1m0-13v1m2 34v2m0-34v1m2 3v3m2 10v1m1 14v2m0-15v1m0-10v1m0-12v1m2 9v1m1-26v1m4 49v1m2-29v1m0-7v1m1 8v1m2 2v1m0-15v1m0-13v1m1 47v1m1-8v5m1-22v2m0-12v1m1 12v7m0-34v1m2-4v1m1 7v6m1 13v1m0-23v1m1 22v1m0-27v1m1 47v1m0-34v1m0-16v1m1 13v1m1 34v1m3-17v5m0-24v1m1-13v1m1 12v1m1 16v3m1 14v1m0-33v6m1 6v4m2-15v6m0-25v1m1 31v2m0-30v1m1 20v2m0-10v1m1 8v1m0-25v1m1 40v6m0-36v1m0-7v1m1 31v6m1-5v6m0-44v1m1 27v3m1-6v2m0-13v1m0-13v1m1-6v1m1 25v4m1-28v1m6 27v3m1-21v9m5 0v2m1-17v1m0-7v1m1-5v1m1 38v6m0-35v1m0-10v1m1 47v6m2-45v13m2 17v6m1 0v10m1-1v1m0-55v6m1 33v8m0-51v1m1 11v12m1 9v9m2-46v1m1 4v1m4-2v1m2 40v2m1-33v19m0-33v1m1 33v1m1-7v4m2 30v1m0-66v1m2 52v8m0-29v1m1 9v14m0-41v15m4 10v1m1 0v3m0-43v1m1 51v12m0-24v1m0-12v1m0-31v1m1 13v1m0-16v1m2 2v1m1 10v1m0-10v1m2 55v5m0-22v3m1-13v6m1-38v1m1 2v1m7-6v1m1 4v1m1 43v7m0-42v1m2 30v3m2-7v1m1-5v3m2 3v2m0-40v1m1-4v1m1-4v1m1 27v1m0-16v1m2 23v1m0-34v1m1 52v10m0-38v1m0-25v1m2 33v1m0-13v1m1-17v1m0-9v1m1 34v1m0-11v1m0-17v1m0-12v1m1 51v9m1-11v2m1-54v1m1 41v14m0-29v1m0-15v1m0-17v1m1 47v2m0-51v1m1 41v1m0-9v1m0-19v1m0-13v1m1-4v1m1 2v1m1 1v1m1 42v3m1-34v25m2-45v1m4 41v3m1 4v3m1 1v2m1-7v2m0-49v1m1-3v1m1 49v2m2 3v1m1-35v25m1 11v3m0-55v1m6 15v21m0-39v1m2 55v2m4-6v10m1-8v5m1-55v1m4 46v3m3-5v4m2-26v15m1 5v3m1-3v2m1-22v28m1-43v1m4-2v1m4 0v1m5 14v1m1-17v1m8-3v1m1 1v1m2-2v1m2 15v1m1-1v1m3 31v9m6-39v1m11 0v1m0-20v1m2 19v1m6-2v1m2-1v1m6-20v1m3-4v1m1 16v1m0-19v1m6 0v1m1-2v1m5 16v1m14-10v1m6-17v1m1 13v1m33 43v1m4-56v1m1-1v1m3 0v1m1-1v1m43 34v1m1-1v1m11 1v2m1-2v2m19 26v1m1-1v1m11-56v1m1-1v1m10-6v1m1 0v1m1-1v1m9-4v1m16 40v1m0-44v1m1 42v1m0-44v1m13 46v1m1-1v1m1-47v1m1-1v1m1 10v1m1-1v1m13 3v1m1-1v1m9 5v1m1-1v1m11 7v1m1-1v1m1 0v1m1-1v1m2 0v1m6 1v1m15 2v1m1-1v1m11 0v1m1-1v1m1 0v1m34 0v1m1-1v1m3-1v1m1-1v1m29 1v1m1-1v1m17 13v1m1-1v1m3-1v1m1-1v1m9-14v1m6 11v1m1-1v1m3-13v1m1-1v1m17-1v1m1-1v1m3-1v1m1-1v1m1-1v1m1-1v1m17-2v1m1-1v1m1 0v1m1-1v1m1-1v1m1-1v1m1 13v1m4-15v1m10-1v1m1-1v1m5-1v1m5 12v1m11-2v1m0-13v1m1 11v1m0-13v1m3-1v1m1-1v1m31 2v1m1-1v1m23 0v1m1-1v1m1-1v1m1-1v1m1-1v1m1-1v1m29 0v1m1-1v1m36 0v1m27 1v1m1-1v1m2-1v1m9-1v1m3-1v1m15-1v1m1-1v1m9-1v1m1-1v1m3-1v1m1-1v1m11-3v1m1-1v1m3-2v1m18 11v1m0-12v1m4-1v1m1-1v1m9-1v1m1-1v1m85-2v1m1-1v1m21-3v1m1-1v1m45-2v1m8-1v1m1-1v1m7-1v1m1-1v1m35 2v1m1-1v1m15-2v1m1-1v1m17-9v1m1-1v1m23 2v1m1-1v1"/>
<path stroke="#ff6c00" d="M1 67v1m2 17v4m1-5v5m1-7v6m2 9v2m1-2v1m2-24v13m1-12v9m2-7v3m2-8v3m0-6v2m1 25v1m1-1v1m0-31v1m0-16v1m2 24v1m0-10v1m1 12v1m0-16v1m0-13v1m1-6v1m1 26v1m1 3v3m0-15v1m0-16v1m1 46v1m0-22v3m0-14v1m0-18v1m1 25v2m0-26v1m1 19v1m2-19v1m2 21v3m2 11v3m0-26v1m1 9v1m1-28v1m3 21v1m0-20v1m1 16v4m1-20v1m1 27v4m1-6v4m1 15v1m1-48v1m1 32v1m0-7v1m1 5v1m1-13v2m1 1v1m1 22v1m1-50v1m1-1v1m1 1v1m2-4v1m1 22v2m0-6v2m1 18v8m0-33v1m0-10v1m1 33v7m0-19v1m0-12v1m1 18v1m6-13v1m0-9v1m1 18v1m0-8v1m1 20v2m0-15v1m0-21v1m1 4v4m1-19v1m1 27v1m0-29v8m1-9v9m1 1v1m1 27v6m0-13v1m0-18v2m0-17v1m2 30v1m0-34v1m1 12v1m0-10v1m3 42v2m0-24v1m0-9v1m2 29v2m0-17v1m0-4v1m1-15v6m1 3v1m0-10v1m0-15v1m2 16v4m1 0v1m0-8v3m1 8v2m5 0v1m2-5v1m0-10v1m1-1v7m1 27v1m1-1v1m0-11v4m0-29v1m2-16v1m1 18v5m1 2v1m1-23v1m1 21v1m1 1v1m0-16v1m1 7v1m0-21v1m1 35v9m0-31v1m1 34v1m2-30v2m0-7v4m1-5v1m1 7v1m1-20v1m2 29v1m0-10v1m1-1v1m0-24v1m1 20v1m0-7v3m1-18v1m1 10v1m0-11v1m1-2v1m5 47v1m1-33v6m2-7v7m1-1v1m1 2v1m0-12v1m4-1v1m1 34v1m0-23v5m1 3v6m4-15v2m1-1v1m2-28v1m4 37v6m0-42v1m1 11v1m2 20v4m0-26v1m0-8v1m1 16v1m0-8v1m0-17v1m1 32v5m1-20v5m1 1v12m0-19v1m1 15v3m1-10v2m1-2v1m1 21v1m0-42v5m1 32v5m0-47v1m1 42v4m0-35v1m1 17v3m0-21v1m1 13v2m2-2v7m0-19v1m1 15v5m1-40v1m3 14v1m1-15v1m1 32v4m0-35v1m1 18v4m4-29v1m1 26v1m0-17v1m2-2v1m1 34v10m1-51v1m2 18v2m2 21v9m0-54v1m1 7v1m2 38v7m2-16v8m0-39v1m1 46v1m0-25v12m0-47v1m4 0v1m1-5v1m3 46v3m0-47v1m1 29v6m0-26v1m1 21v2m1 25v1m0-31v2m0-36v1m1-4v1m3 62v4m1-9v9m0-24v1m0-12v1m1-16v15m1 8v1m0-36v1m1 28v1m0-34v1m1 15v15m1 14v2m0-14v1m1-2v1m0-18v1m2-15v1m2 64v1m1-64v1m1 37v3m0-42v1m1 12v19m3-29v1m1-5v1m1 2v9m1-11v1m1-4v1m1 13v1m3 42v10m0-63v1m1 62v1m0-63v1m1 43v5m2 13v1m0-25v2m1-4v3m0-37v1m2 38v1m3-9v1m1-38v1m1 27v1m1 7v1m0-26v1m1-13v1m4 61v5m0-30v1m1 15v7m0-29v1m1 10v7m0-36v13m1 29v12m0-27v1m0-14v1m1 14v2m5 3v5m0-55v1m1 40v7m0-33v1m3-1v1m3 0v22m0-39v1m1 40v5m1 6v3m0-40v1m0-18v1m1 48v2m2 22v1m0-24v2m2 2v2m1-12v3m1 11v5m1-63v1m3 17v1m3-1v1m0-15v1m1 54v7m3-62v1m1 58v10m0-33v13m1 20v1m0-14v8m0-63v1m1 13v1m2 3v1m1-16v1m1 46v3m0-32v1m3 27v4m2-15v3m1 5v4m0-45v1m1 39v1m1 5v10m2-53v1m2-1v1m2 0v1m1 13v1m0-18v1m4 1v1m1-2v1m7-1v1m1-4v1m4 17v1m4-16v1m4 55v5m0-64v1m1 63v1m1-63v1m1-3v1m1 19v1m0-21v1m2 0v1m4 0v1m3 18v1m1-20v1m1 1v1m3-3v1m2-2v1m4 19v1m0-17v1m4 14v1m10-5v1m0-19v1m1 17v1m0-19v1m1 0v1m9-2v1m1 16v1m1-19v1m1 16v1m1-2v1m0-20v1m11-4v1m3 12v1m8-14v1m1 12v1m2-1v1m17-7v1m1-1v1m1 41v1m0-43v1m1 41v1m0-43v1m11-5v1m1-1v1m1 2v1m1-1v1m7 2v1m1-1v1m1-1v1m0-6v1m1 4v1m0-6v1m7 46v1m1-1v1m1-42v1m1-1v1m1 40v1m1-1v1m3 11v1m1-1v1m17-24v1m1-1v1m47-28v1m1-1v1m3 56v1m14-64v15m4-16v1m1-1v1m1 63v1m1-1v1m3-46v1m1-1v1m3 0v1m1-1v1m5 1v1m3 0v1m0-25v1m2 45v1m0-23v1m1-25v1m1-1v1m1-1v1m1-1v1m1-1v28m1-28v28m7-16v1m1-1v1m1-1v1m6 1v1m14 7v1m1-1v1m3 2v1m1-1v1m2 1v1m21 7v1m1-1v1m5 13v1m0-14v1m1 12v1m0-14v1m3 0v1m1-1v1m5 0v1m1-1v1m1-2v1m1-1v1m5 0v1m1-1v1m9 0v1m2-1v1m1-1v1m1-1v1m1-1v1m3-1v1m1-1v1m7-1v1m1-1v1m4-1v1m15 0v1m14 16v1m1-1v1m9-17v1m6 12v1m1-1v1m9-2v1m0-12v1m1 10v1m0-12v1m7 15v1m1-1v1m1-6v1m1-1v1m4-12v1m1-1v1m1-1v1m9 11v1m1-1v1m1-12v1m1-1v1m9 9v1m0-12v1m1 10v1m0-12v1m3-1v1m12-1v1m1-1v1m3-1v1m1-1v1m5 10v1m1-1v1m7-11v1m4-2v1m1-1v1m3-1v1m1-1v1m8-1v1m19-1v1m1-1v1m11-1v1m1-1v1m9 2v1m1-1v1m22-1v1m26 1v1m17-2v1m1-1v1m17 1v1m1-1v1m13-1v1m1-1v1m9 0v1m1-1v1m13 0v1m18-1v1m1-1v1m47-2v1m1-1v1m14-2v1m3-1v1m1-1v1m25 10v1m12-12v1m1-1v1m47-1v1m1-1v1m7-1v1m1-1v1m1 11v1m16-15v1m1-1v1m39 0v1m1-1v1m15-3v1m1-1v1m8 16v1m33-18v1m1-1v1m1-1v1m1-1v1m29 12v1m1-1v1m15-20v1m1-1v1m9 13v1m1-1v1"/>
<path stroke="#ff5800" d="M0 69v4m3 16v3m0-24v1m1 20v3m0-24v1m1 19v3m0-13v4m0-11v2m0-22v1m2 13v1m0-11v1m1 42v1m0-32v1m0-20v1m2 50v1m0-13v3m0-39v1m1 32v5m2-9v3m0-16v1m1 11v11m0-39v1m1 23v11m3-17v3m1 5v2m1 2v2m2-7v1m0-10v1m1 14v3m1-4v3m1-6v3m1-8v1m0-6v1m2-5v1m2 14v5m1-15v6m1 18v2m1-17v1m0-24v1m4 17v1m1 0v15m0-20v1m0-20v1m1 46v1m1-12v6m0-26v1m1 17v5m1 8v2m0-31v1m2 28v2m0-15v1m0-5v1m0-15v1m1 13v1m0-16v1m0-13v1m1 21v1m0-8v1m1 30v1m1-31v4m1-4v3m2 5v1m1-10v4m0-21v1m2 22v2m0-9v1m1 31v1m0-4v1m0-10v1m0-10v1m0-24v8m1 36v1m0-5v2m0-10v1m0-11v1m0-23v1m1 23v1m0-17v1m0-9v1m1 11v6m0-21v1m4 22v1m0-22v1m1 18v1m0-21v1m1 0v1m1 20v1m1 10v6m0-19v1m0-7v2m1 5v1m1 1v1m2-4v1m1-1v1m0-10v3m2-4v1m1 22v5m0-17v1m3 7v1m0-7v2m0-13v2m1-5v1m0-11v1m1 27v2m1-11v1m1 3v1m1-27v1m1 22v1m0-8v3m0-18v1m1 22v1m1 13v7m0-16v1m0-28v1m2 18v2m3 16v6m0-15v1m0-17v1m0-13v1m1 18v2m0-22v1m1 24v2m1-5v1m1 16v4m0-16v1m0-15v1m1 29v4m0-9v1m0-12v1m0-26v1m3 20v1m0-9v3m1-5v1m1 12v1m0-15v1m2 20v1m0-30v1m1 16v2m0-7v4m1 25v2m0-12v1m0-11v1m0-25v1m1 12v1m1-13v1m1 19v1m1 1v1m1-11v1m2 9v1m0-12v1m1-13v1m1 10v1m1 22v8m0-20v1m0-9v1m2 11v1m1 21v1m0-17v1m0-8v1m1-12v7m1 14v8m0-19v1m0-12v1m1 5v2m2-2v2m1 1v1m0-8v1m2 6v1m0-25v1m1 23v1m0-22v1m1 23v1m0-25v1m1-2v1m1 26v1m0-27v1m1 13v6m1 25v2m0-49v1m1 31v5m1 4v6m0-33v1m1 1v5m3 7v2m0-16v1m1 13v1m0-16v1m3-17v1m1 19v2m1-1v5m0-23v1m1 43v5m2-47v1m1 36v6m1-21v1m1 13v6m0-30v1m0-13v1m1 20v1m0-7v1m0-16v1m1 33v7m1-7v6m0-29v1m0-10v1m1 23v4m0-29v1m1 23v2m0-15v1m0-13v1m2 10v1m1-12v1m1 46v1m0-15v4m0-36v1m1 26v2m0-18v1m0-11v1m2 30v7m0-41v1m1 35v7m0-26v14m2-17v8m0-23v1m1-5v1m1 1v1m2 36v6m0-32v1m1 13v2m0-26v1m2-4v1m3 25v2m0-25v1m3-4v1m3 22v2m0-27v1m1-5v1m4 11v1m1-11v1m1 48v8m0-57v1m1 44v8m0-42v22m2-32v1m1 8v22m4-25v1m0-10v1m1 58v1m0-13v8m0-47v1m1 27v7m1-9v2m0-27v1m1 21v2m4 0v1m0-40v1m2 29v1m1 2v1m1 31v1m0-27v1m1-10v1m1 15v2m0-8v1m1-1v1m2-4v22m1-56v1m2 9v1m1 23v3m9-37v1m1 44v11m4-7v7m0-54v1m1-1v1m1 37v2m0-38v1m1 34v2m1-31v21m0-32v1m1 42v2m0-36v1m0-7v1m1-4v1m2-1v1m1 36v17m0-44v12m1-14v1m0-8v1m1 0v1m2 31v1m0-11v1m1 6v1m0-5v1m0-28v1m1 32v1m1-8v1m0-20v1m0-11v1m1 58v7m0-32v1m0-33v1m1 45v11m0-20v2m0-16v1m1 12v1m1 1v1m1-42v1m2 9v1m2 41v8m1-15v7m0-57v1m2 49v14m1-64v1m3 16v1m1 0v24m0-43v1m1 56v3m1-9v2m2-1v2m1-3v16m0-66v1m1 54v1m0-55v1m1 44v3m0-32v1m1 44v10m1 0v1m0-55v25m1 29v1m0-73v1m6 64v7m0-56v1m1 55v1m0-57v1m1 2v47m2-47v20m0-37v1m1 64v5m2-66v1m3 65v1m0-16v5m0-53v1m2-2v1m1 48v8m0-39v1m0-18v1m2 35v2m1 7v4m1-8v2m0-26v1m1 38v7m0-63v1m1 15v1m3 0v1m2-2v1m4-15v1m2 14v1m1 0v1m0-19v1m5 0v1m3 1v1m4-1v1m1 13v1m1-18v1m2 1v1m2-3v1m9 0v1m1 18v1m2-22v1m5 2v1m5 17v1m1-19v1m3 1v1m5 13v1m2-3v1m0-15v1m2-5v1m6 15v1m2-18v1m1 16v1m2-17v1m3 15v1m0-17v1m2-3v1m1 16v1m7-22v1m3 13v1m5-18v1m5 13v1m2-1v1m5-14v1m2 11v1m13 36v1m1-1v1m1 5v1m1-1v1m9 1v1m1-1v1m1-53v1m1-1v1m5 0v1m1-1v1m1 1v1m1-1v1m7-6v1m1-1v1m7 60v1m0-58v1m1 56v1m0-58v1m33 60v1m0-26v1m1 24v1m0-26v1m7 13v1m1-1v1m7-1v1m1-1v1m9 0v1m1-1v1m1 9v1m1-1v1m5-61v1m1-1v1m3 0v1m1-1v1m3 24v1m3-4v1m0-23v1m1 52v1m1-1v1m3-55v1m1-1v1m5 61v1m0-7v1m0-42v1m2 15v1m0-16v1m1 14v1m0-16v1m5 1v1m1-1v1m3-1v1m1-1v1m1 19v1m1-1v1m1-20v1m1-1v1m1 2v1m1-1v1m1 18v1m10-17v1m1-1v1m13-16v1m1-1v1m9 25v1m1-1v1m37-4v1m1-1v1m8 0v1m15 1v1m12-1v1m1-1v1m11 11v1m0-12v1m6-1v1m1-1v1m4-1v1m1-2v1m1-1v1m17 2v1m1-1v1m3 10v1m1-1v1m5-12v1m5-1v1m9-1v1m1-1v1m1-1v1m1-1v1m5-1v1m1-1v1m1-1v1m1-1v1m1-1v1m1-1v1m9-1v1m1-1v1m1 1v1m1-1v1m3 10v1m1-1v1m25-13v1m1-1v1m19-1v1m30-1v1m1-1v1m1 9v1m0-11v1m1 9v1m0-11v1m9 11v1m1-1v1m31-10v1m5 11v1m0-13v1m1-2v1m1-1v1m5 10v1m8-11v1m1-1v1m57 1v1m1-1v1m3 0v1m1-1v1m28 1v1m25-2v1m1-1v1m7-1v1m1-1v1m4-1v1m5-1v1m1-1v1m11 0v1m1-1v1m6-2v1m10-2v1m3-1v1m32-2v1m24-1v1m1-1v1m21-5v1m1-1v1m7 3v1m1-1v1m15-1v1m3-1v1m25-3v1m1-1v1m47-2v1m1-1v1m29-2v1m1-1v1m9 15v1m1-1v1m15-15v1m1-1v1m67-6v1"/>
<path stroke="#ff4500" d="M0 73v1m0-22v1m1-1v1m1 27v10m1 9v1m0-8v3m0-45v1m1 41v2m1-3v2m0-20v5m0-8v1m1-4v1m3-17v1m1 38v3m0-25v1m1 20v3m0-24v1m0-16v1m2 29v4m0-36v1m1 38v2m0-22v9m1 7v4m0-38v1m1 44v2m0-34v1m0-13v1m1 43v2m1-27v2m0-21v1m1 25v1m0-14v1m0-13v1m1 28v2m0-31v1m2 22v2m0-25v1m1 30v4m1-5v3m1-6v3m0-17v1m1 6v2m1-25v1m1 3v1m1-4v1m1 31v4m0-21v1m1 7v14m1 6v2m1-18v2m0-16v1m2-18v1m1 17v1m1 7v1m0-8v1m1 31v1m0-11v3m1 6v1m0-33v1m1 25v5m0-44v1m1 35v6m0-29v1m1-16v1m1 12v1m0-12v1m1 29v1m0-3v1m0-29v1m1 30v1m1 14v1m0-24v1m0-27v1m1 26v1m0-12v1m1 6v2m1-3v1m0-5v1m2 20v5m0-28v1m1 5v2m2 15v4m0-17v1m1 20v2m1-2v2m2-26v2m0-9v1m3 2v4m1 14v5m0-29v1m2-2v1m1 20v1m0-30v1m1 37v5m0-12v1m0-21v2m1-5v1m2 12v1m1-24v1m1 44v2m0-16v1m1-33v1m1 23v1m1 15v6m0-12v1m0-24v1m3 18v1m0-4v1m0-15v1m2-3v1m0-11v1m1 46v1m0-28v1m0-23v1m1 25v1m0-13v1m2 8v1m1 0v1m1 19v3m0-11v1m0-8v1m0-16v1m2 7v3m0-7v2m3 24v3m0-11v2m0-8v1m1-9v2m0-7v3m1-6v1m1 8v1m0-22v1m1 40v4m0-9v1m0-36v1m1 43v1m0-11v1m1-19v5m0-24v1m1 18v3m1 2v1m0-24v1m1 24v1m0-25v1m2 9v1m0-11v1m1 8v1m1 37v1m0-27v1m0-9v1m1 31v2m0-15v1m1-3v1m0-7v1m0-24v1m1 21v1m0-14v1m1 10v1m0-21v1m1 32v3m0-40v1m1 23v1m0-22v1m1 8v1m0-8v1m1 31v2m0-34v1m1 27v1m0-19v1m1-13v1m1 46v1m0-7v4m0-13v1m1 14v1m0-31v3m1 9v1m0-29v1m1 9v1m1 8v1m0-24v1m1 44v3m1-10v5m0-20v2m0-6v2m1-2v6m1-2v2m0-6v2m1 4v1m0-10v1m0-15v1m2 22v1m0-10v1m1 8v1m0-11v1m1 12v1m2 1v1m0-18v1m1 9v2m2 13v6m0-29v1m0-12v1m2 17v1m0-20v1m3 27v3m0-29v1m1 24v2m0-30v1m1 12v1m1-2v1m2 5v3m0-6v1m1 6v2m0-9v2m1 31v1m0-37v1m1-1v1m0-11v1m1 10v1m1 30v4m0-42v1m1 17v2m1 17v5m1 0v1m0-26v2m0-10v1m1 26v6m0-33v1m0-17v1m1 41v6m1-16v5m0-22v1m1 13v1m4 9v7m0-33v1m1 18v3m1-36v1m1 42v7m1-5v5m0-32v1m0-17v1m1-4v1m1 50v1m0-27v2m4 16v8m1-24v3m0-19v1m5 14v1m1-26v1m1-5v1m2 3v4m2 46v1m0-29v2m2-21v1m0-7v1m1-5v1m2-1v1m1 9v1m2 42v4m0-47v1m1-1v16m1-18v1m1 23v13m0-48v1m3 9v1m0-8v1m2 52v4m1-16v7m1-14v2m1-5v2m0-26v1m2-15v1m3 38v1m0-10v1m0-32v1m1 0v1m1 11v1m2 25v1m0-9v1m0-32v1m1 64v1m0-18v3m0-38v1m0-12v1m2 62v1m1-7v6m0-50v22m1-24v1m1-9v1m2 26v5m2-35v1m1 10v1m0-9v1m1 6v1m0-8v1m1 39v11m0-55v1m5 57v7m0-21v3m0-48v1m1 11v1m0-8v1m2-2v1m1 54v6m2-20v2m0-35v1m1 31v4m1-14v3m1 10v2m2-50v1m1 35v1m0-9v1m1 28v9m0-27v1m0-15v1m1 9v1m1-7v1m1 36v1m0-54v10m1-12v1m1 21v1m1-6v1m0-28v1m1 33v1m1 30v1m0-34v1m0-3v1m0-23v1m1 49v7m0-28v1m0-13v1m0-16v1m1 25v1m0-11v1m1 38v1m0-28v1m0-45v1m1 39v1m0-7v1m2-31v1m1 1v1m1 57v7m1-15v10m1-62v1m1 58v8m0-54v32m0-51v1m2 15v1m3 1v1m1 41v13m1-20v3m0-55v1m2 52v2m0-39v1m0-15v1m1 63v6m0-30v8m1 6v3m1-10v3m0-53v1m1 16v1m1 26v5m1 4v9m1-44v1m0-16v1m1 0v1m1 13v1m0-16v1m1-2v1m2 2v1m2 61v6m0-54v1m1-3v1m1 1v1m3-1v1m3 43v10m1-48v1m0-13v1m2 52v7m1-60v1m1 34v3m0-41v1m1 48v8m1-14v2m4-43v1m2 14v1m3-14v1m4 58v1m2-63v1m2 1v1m1-1v1m5 13v1m8 0v1m0-19v1m1 17v1m2-20v1m1 17v1m1 1v1m2-19v1m5 17v1m3-19v1m3 17v1m3-20v1m2 1v1m1 17v1m1-1v1m0-18v1m3 15v1m0-15v1m1-2v1m1-1v1m2-3v1m1 0v1m4 11v1m0-17v1m10 14v1m1-1v1m1-18v1m11 9v1m12-18v1m13 11v1m12-9v1m1-1v1m5 1v1m1-1v1m5-4v1m1-1v1m1 46v1m1-1v1m5 0v1m1-1v1m1-45v1m1-1v1m3 42v1m1-1v1m3-43v1m0-6v1m1 4v1m0-6v1m3 2v1m1-1v1m9 46v1m1-1v1m15-15v1m1-1v1m9 0v1m1-1v1m5 16v1m1-1v1m15-1v1m1-1v1m15-46v1m0-3v1m1 1v1m0-3v1m6 23v1m15-11v1m1-1v1m3 46v1m1-1v1m1-46v1m1-1v1m3 0v1m1-1v1m8 2v1m2-1v1m1-1v1m1-1v1m9-14v1m1-1v1m5 0v1m1-1v1m7 2v1m1-1v1m11 7v1m1-1v1m5 3v1m1-1v1m17 6v1m16 2v1m1-1v1m12 0v1m3-1v1m1-1v1m35 0v1m1-1v1m13 16v1m1-1v1m5-16v1m1-1v1m15 0v1m1-1v1m1-2v1m8 0v1m1-1v1m21-1v1m1-1v1m5-1v1m1-1v1m1-2v1m4 10v1m1-1v1m13 2v1m1-1v1m5-14v1m1-1v1m21-1v1m1-1v1m3-1v1m11-1v1m17 9v1m1-1v1m1-11v1m1-1v1m11 12v1m1-1v1m1-12v1m1-1v1m5-1v1m1-1v1m13 0v1m10-2v1m33 2v1m27-1v1m1-1v1m4-1v1m35 2v1m1-1v1m57-1v1m1-1v1m5 7v1m1-1v1m24-12v1m11 11v1m1-1v1m13-12v1m30-6v1m1-1v1m9 2v1m1-1v1m2-1v1m11 0v1m1-1v1m25-2v1m1-1v1m11-2v1m1-1v1m50-1v1m31-1v1m1-1v1m51-8v1m1-1v1m7 1v1m1-1v1m19 0v1m1-1v1"/>
<path stroke="#ff3200" d="M0 74v2m1-10v1m1 23v2m0-21v9m1 15v1m1-2v2m0-44v1m1 46v1m0-7v2m0-26v1m1 29v1m1-36v1m2 5v2m1 21v2m1-3v2m2 5v1m0-13v3m1 2v3m0-26v1m1 20v3m0-25v1m2-4v1m0-14v1m1 21v1m0-7v1m1 11v2m1 3v3m0-24v1m1 4v2m1 8v2m1 8v3m0-26v1m1 20v3m0-24v1m0-16v1m1 32v4m1-12v1m1-11v1m1-11v8m2 24v3m1-2v3m1-26v1m0-16v1m1 29v1m1-13v21m1-11v8m0-18v6m1-22v1m1 0v1m1 37v2m0-26v1m3 26v2m0-45v1m3 29v1m1-2v3m0-20v1m0-11v1m1 34v4m0-16v1m1-25v1m1 21v1m0-8v1m0-17v1m1 20v1m1 16v4m0-23v2m1 21v3m0-9v1m0-11v1m1-5v1m1-25v1m1 42v4m0-9v1m0-12v1m1 8v1m1-1v1m0-23v1m1 18v1m0-28v7m1 12v1m0-11v1m3 22v3m0-18v1m0-7v2m0-17v1m1 39v5m0-11v1m0-32v1m1 18v1m0-12v1m0-10v1m1 27v1m0-28v7m1 1v1m1 20v1m0-11v1m0-22v1m1 1v7m1 19v1m1 4v1m1-13v1m0-13v1m1 11v1m0-22v1m2 28v1m0-32v1m1 47v1m0-16v1m0-10v1m0-21v1m3 23v2m3-8v1m0-10v1m1 34v1m0-14v5m0-14v1m2-4v1m1 0v2m0-13v1m0-16v1m1 47v2m0-15v2m0-6v1m2-6v2m0-11v2m0-22v1m3 50v1m0-13v1m0-5v1m0-20v1m0-11v1m1 21v2m0-11v2m1 22v6m0-18v1m0-27v1m1 22v1m0-11v1m1 22v1m0-10v1m1 19v1m0-21v1m0-16v1m1 24v9m0-23v2m0-9v2m1 3v1m0-7v3m1 6v1m2-22v1m1 21v1m1 5v1m0-5v1m2-16v1m2 35v1m0-15v9m0-41v1m1 10v1m1 24v6m0-10v1m0-23v1m1-1v1m1 11v1m1 23v1m0-12v6m0-10v2m0-24v1m1 12v1m1-1v1m0-15v1m1 35v1m0-24v1m0-24v1m1 20v1m0-7v3m1-8v1m1-10v1m1 20v1m1 23v1m0-13v1m0-10v1m0-14v1m0-11v1m1 38v5m0-11v1m0-13v1m0-9v2m1 6v1m0-9v2m1 6v1m0-9v2m1 7v1m1-10v5m0-20v1m1 23v1m2-13v1m1 2v6m1 8v1m1-7v1m0-10v1m0-16v1m1 12v1m1 29v4m1 0v3m0-48v1m1 19v1m0-8v1m3 17v4m1-6v2m0-21v1m1-12v1m1-1v1m2 20v1m1 2v3m1-25v1m3 8v1m1 14v2m0-14v1m0-15v1m2 24v3m2 19v1m0-37v1m1 24v6m1 6v1m0-20v2m2-29v1m1 9v1m1 32v3m0-45v1m1 30v4m2-24v1m1 0v1m1 14v7m1-13v3m0-14v1m0-14v1m2 9v1m1 0v10m1 27v1m0-49v1m1 26v3m3-37v1m1 12v10m1 8v1m0-26v1m1-1v4m5 19v2m6-32v1m2-3v1m1 26v5m2 14v12m1-57v1m1 7v1m0-13v1m2 2v1m1-1v7m1 42v9m1-21v1m0-44v1m1 39v1m0-40v1m1 62v1m1-52v1m1-1v1m1 18v1m0-21v1m0-13v1m1 12v1m1 50v1m0-25v6m0-16v1m1-28v1m1-5v1m1 13v1m1 36v6m0-18v1m0-7v1m1 5v1m0-8v1m1-33v1m2 3v1m2-2v1m1 11v17m0-30v1m2 9v1m3 43v9m0-27v7m4-41v8m1 31v2m2-42v1m1 10v24m1-32v1m1-1v1m1 40v2m0-41v1m1 39v3m0-39v1m0-7v1m1 30v4m1 24v1m0-17v4m0-47v5m1-8v1m2-1v1m1 33v1m0-13v1m0-26v1m1 27v1m1 5v1m1-13v2m0-13v1m0-13v1m1 35v1m0-9v1m0-28v1m1 29v2m0-29v6m2-9v1m1 30v1m0-30v1m2-8v1m1 15v12m5-14v1m1 50v5m1-57v1m3-13v1m1 11v1m0-14v1m1-1v1m3 52v3m0-42v1m2 38v3m1-40v24m1 17v7m0-64v1m1 49v3m2-7v5m1 8v11m0-33v13m7-48v1m6 2v1m1 1v1m1 13v1m3 2v1m3 23v3m1 13v6m0-46v1m1 27v1m0-44v1m3 13v1m6-1v1m2 0v1m5-15v1m1 12v1m5-1v1m1-15v1m17 16v1m0-20v1m2-1v1m3 0v1m21 13v1m0-14v1m1 13v1m7-19v1m3-1v1m2-1v1m8-5v1m1-2v1m13 9v1m1-1v1m4-14v1m24 4v1m1-1v1m9 51v1m0-54v1m1 52v1m0-54v1m3 46v1m0-48v2m1 45v1m0-48v2m1 44v1m0-48v1m1 46v1m0-48v1m3-1v1m1-1v1m5 4v1m1-1v1m3 42v1m1-1v1m1 11v1m1-1v1m29 4v1m1-1v1m35 0v1m2-1v1m1-1v1m1-58v1m1-1v1m3 56v1m0-59v1m1 57v1m0-59v1m3 18v1m3 1v1m1 1v1m1-1v1m9 3v1m2 25v1m1-1v1m9-20v1m1-1v1m3-18v1m1-1v1m1 2v1m1-1v1m1-3v1m6 22v1m1-1v1m1-47v26m1-26v26m1 2v1m1-1v1m3-18v1m1-1v1m41 18v1m1-1v1m1 1v1m6 0v1m24 3v1m1-1v1m19 11v1m1-1v1m27-11v1m11 1v1m19 0v1m1-1v1m1-1v1m1-1v1m19-2v1m1-1v1m15 0v1m1-1v1m8-1v1m1-1v1m1-1v1m7-1v1m1-1v1m3-1v1m1-1v1m3-1v1m1-1v1m5 11v1m1-1v1m1-14v1m1-1v1m1 12v1m0-13v1m1 11v1m0-13v1m23-1v1m9-1v1m3-1v1m24 0v1m1-1v1m19 1v1m1-1v1m23 0v1m1-1v1m1-1v1m1-1v1m1-1v1m1-1v1m29 0v1m1-1v1m23 0v1m1-1v1m36 0v1m3 0v1m1-1v1m11-1v1m28 6v1m0-8v1m1 6v1m0-8v1m3-1v1m1-1v1m11-3v1m1-1v1m3-2v1m18 0v1m14-1v1m1-1v1m111-4v1m1-1v1m1-1v1m1-1v1m55-2v1m1-1v1m37 12v1m1-1v1m9-13v1m1-1v1m45-5v1m1-1v1"/>
<path stroke="#ff1f00" d="M0 76v2m0-10v1m1-16v1m1 38v3m0-25v1m0-19v1m1 43v1m0-30v1m1 28v1m0-30v1m1 27v2m2-41v1m1 9v1m0-18v1m1 49v1m0-28v1m0-4v1m1 25v2m1-3v2m2-6v3m0-27v1m1 28v1m1-3v2m1-41v1m2 20v1m1 6v3m0-30v1m1 32v3m1-20v2m0-24v1m1 31v2m0-17v1m1 25v2m0-41v1m1 36v3m1-5v3m0-25v1m0-14v1m1 23v2m0-12v1m0-17v1m3 17v3m1 19v3m1-2v2m0-26v1m1 28v1m1-16v2m0-20v1m0-9v1m1 33v2m1-5v4m0-16v4m2-4v1m0-10v1m1 27v2m1-41v1m1 41v2m0-34v1m1 31v2m1-32v1m2-3v1m0-12v1m2 38v4m0-9v1m0-22v1m1 21v6m0-17v1m0-14v1m1 10v1m1-3v1m1 19v3m0-9v2m0-17v3m0-7v2m1 26v2m0-46v1m1 21v1m0-9v1m2 29v1m0-11v1m0-22v1m1 12v1m1-2v1m0-23v1m1 23v1m1-28v1m3 37v6m0-11v2m0-14v1m0-10v2m1 18v1m0-10v1m2 0v1m1 4v1m0-7v1m0-22v1m1 41v2m0-35v1m1 21v4m0-15v1m1 1v1m1 9v7m0-10v2m1-33v1m1 9v1m2-2v1m1 34v2m0-16v1m3-34v1m1 10v1m0-9v1m1 7v1m0-9v1m1 20v1m1 16v6m0-12v1m0-8v1m2-4v1m0-12v1m1 12v1m1 5v1m0-3v1m2 5v7m0-17v1m0-13v1m3 32v1m0-17v3m1-9v1m1 18v2m0-9v1m1-14v1m1 21v2m0-37v1m0-9v1m1 31v1m1 12v1m0-13v1m0-12v1m0-12v2m1 6v2m0-10v1m0-16v1m1 13v1m1 23v3m0-29v1m0-10v1m1 33v9m0-19v1m0-17v1m1-1v1m0-9v1m1 1v1m1 18v1m0-11v1m1 18v1m0-8v1m0-25v1m1 10v1m1 30v3m0-13v1m2 10v2m0-13v1m0-10v1m2 23v1m1-6v3m0-22v1m0-21v1m1 7v1m1 22v2m1 10v1m0-16v1m0-20v1m1 8v1m0-9v1m1 12v1m1 3v1m0-6v1m0-16v1m1 36v1m0-36v1m1 33v1m0-15v1m1 0v1m0-11v1m0-11v1m1 21v7m0-19v1m0-11v1m0-15v1m1 36v3m0-16v1m0-11v1m1-2v1m1 6v2m0-8v1m1 10v1m0-13v1m1 10v1m0-13v1m0-11v1m1 45v1m0-22v1m0-26v1m1 18v2m1 7v1m0-29v1m1 21v2m1-26v1m1 45v1m1-35v1m1 9v1m1-25v1m2 37v6m0-30v1m0-9v1m1 27v2m0-33v1m4 20v1m0-9v1m1 33v1m0-22v9m0-36v1m1 10v1m1-9v1m1-2v1m1 4v4m1 17v4m1-20v1m0-11v1m1 25v6m1-20v1m1-11v7m1 31v6m0-45v1m1 27v2m0-21v1m0-11v1m2 8v1m1-10v1m2 35v7m0-33v1m0-9v1m2-4v1m1-1v1m1 35v8m0-28v13m0-32v1m1 28v5m1-36v1m1 1v1m1 22v2m1-16v1m1 22v4m0-35v1m1 8v1m1-13v1m2 19v6m1 3v2m2-25v1m0-8v1m1 6v1m0-7v1m2-5v1m1 31v1m0-23v1m0-9v1m7-3v1m2 29v4m1-33v1m1 6v1m1-2v1m2-8v1m3-6v1m1 60v1m0-21v2m1-5v2m1-45v1m2 1v1m1 36v1m1 0v1m0-8v1m1 14v4m0-37v1m1 22v1m0-4v1m1 3v1m0-6v1m0-21v1m2 43v8m1-64v1m1 11v1m1 0v1m2-3v1m0-7v1m2 7v1m2-12v1m3 10v24m2-36v1m1-4v1m2 40v3m1-37v1m2 31v12m0-45v1m1 6v1m1-1v1m1 36v2m1 0v8m1-18v3m0-41v1m1 49v7m2-60v1m1 27v1m0-19v1m1 0v1m1-8v1m1 0v1m1 32v10m0-24v1m3 9v1m0-7v1m1 4v1m0-5v1m2 6v1m0-11v1m0-29v1m2 38v1m0-15v2m0-15v1m1-12v1m1 40v4m0-33v13m1-25v1m1 1v7m1-12v1m2 2v1m1 10v1m5-18v1m1-1v1m1 57v8m2-8v7m2 1v6m0-57v1m1 39v5m2-7v6m0-42v1m1 0v21m5-35v1m4-1v1m2 12v1m4-10v1m6 44v3m1-46v1m1 44v3m2-45v1m1-1v1m3-2v1m4 12v1m0-13v1m8 11v1m1 0v1m2 0v1m0-19v1m3 17v1m2-3v1m1-15v1m6 15v1m2-17v1m4-2v1m5 18v1m1-1v1m5-19v1m1-1v1m2-2v1m16-3v1m1-2v1m1-1v1m3 15v1m2-16v1m6-2v1m2-2v1m1-3v1m10-6v1m3 12v1m9-14v1m23 5v1m1-1v1m5-2v1m2 1v1m1-1v1m7 50v1m1-1v1m1-56v1m1-1v1m3 47v1m1-1v1m1-44v1m0-4v1m1 2v1m0-4v1m19 57v1m1-1v1m11 4v1m1-1v1m11-11v1m1-1v1m29 0v1m4 0v1m1-1v1m7-51v1m3 22v1m5-25v1m1-1v1m11-4v1m1-1v1m1 57v1m0-38v1m1 36v1m0-38v1m1-1v1m1-1v1m1-1v1m1-1v1m1 0v1m1-1v1m1-24v11m1-11v11m3-10v1m3 24v1m2-1v1m0-27v1m1 25v1m1-1v1m1 0v1m1-1v1m3-27v27m1-27v27m5-15v1m1-1v1m28 30v1m5-14v1m1-1v1m2 0v1m6 1v1m1-1v1m1-1v1m9 13v1m1-1v1m3-12v1m1-1v1m13 1v1m24 0v1m1-1v1m9-1v1m1-1v1m23 1v1m1-1v1m7-1v1m1-1v1m1-1v1m1-1v1m31 0v1m8 11v1m1-1v1m1-13v1m1-1v1m17-1v1m1-1v1m13-1v1m1-1v1m9-2v1m1-1v1m1 0v1m1-1v1m1-1v1m1-1v1m3 0v1m2-2v1m10 11v1m0-13v1m1 11v1m0-13v1m5-1v1m16-1v1m1-1v1m3-1v1m1-1v1m9 11v1m1-1v1m3-12v1m1-1v1m5 1v1m1-1v1m22-1v1m15 14v1m1-1v1m10-14v1m17-2v1m1-1v1m17 1v1m1-1v1m22-1v1m1 0v1m1-1v1m13 0v1m12 10v1m1-1v1m2-12v1m3-1v1m1-1v1m8-1v1m15-1v1m1-1v1m23-2v1m1-1v1m14-2v1m3 9v1m0-11v1m1 9v1m0-11v1m9-1v1m1-1v1m27-1v1m1-1v1m55 11v1m0-13v1m1 11v1m0-13v1m11-2v1m1-1v1m3-1v1m1-1v1m17-3v1m1-1v1m17-1v1m1-1v1m5 13v1m1-1v1m21-16v1m8-1v1m1-1v1m43 2v1m1-1v1m15-2v1m1-1v1m15-8v1m1-1v1"/>
<path stroke="#f60b00" d="M0 78v3m1-16v1m1 29v1m0-27v1m4-4v1m0-15v1m1 4v7m2 9v1m1-7v1m0-16v1m1 43v1m0-30v1m0-14v1m2 38v2m0-43v1m1 43v1m0-45v1m1 42v2m1-33v1m1 34v1m0-47v1m1 22v2m1 7v2m0-22v1m1 25v2m0-38v9m1 9v2m1 8v3m0-31v1m1 38v2m0-31v1m1 27v2m0-30v1m1 33v1m0-9v2m1-14v3m1-30v1m2 19v2m1 20v2m0-30v1m0-15v1m1 41v2m1 2v1m0-47v1m1 31v2m1 6v3m1-4v2m1-28v1m1 10v1m1 19v1m0-46v1m1 13v1m1-12v1m1 10v1m0-13v1m2 0v10m3 33v1m0-11v1m0-10v1m0-28v1m1 43v2m0-9v1m0-35v1m1 22v1m1-3v1m0-9v1m0-17v1m1 45v1m0-22v2m1 9v1m0-9v1m0-15v1m1 10v1m0-25v1m1 15v4m1 26v1m0-47v1m1 32v1m1-1v1m1-5v2m1 4v9m0-20v1m3 8v1m0-11v1m1 21v2m0-15v1m0-29v7m2 18v1m1-20v1m1 20v1m1 6v6m0-12v2m1-6v1m1 13v3m0-14v1m1-30v8m1 20v1m0-8v1m2 0v1m0-25v1m1 8v1m0-6v1m3 6v1m3 11v1m1 8v1m0-6v1m0-17v1m0-12v1m1 18v1m1 4v1m0-26v1m1 11v1m1 18v1m0-20v1m0-12v1m2 41v3m0-11v1m0-9v2m4 9v8m0-20v1m1 19v2m0-12v1m0-10v1m0-16v1m1-1v1m1 22v1m1-25v1m0-10v1m1 43v2m0-22v1m1-3v1m1 12v5m0-17v1m1 14v6m0-10v1m0-11v1m1 18v1m0-11v1m0-32v1m1 31v6m1-14v1m0-24v5m1-10v1m1 10v1m1 18v1m0-5v1m1 19v2m0-38v1m1 12v1m1 22v2m0-16v1m0-34v1m1 23v1m0-22v1m1 30v9m0-38v6m1 36v2m0-16v1m1-3v1m1 6v6m0-10v2m0-33v1m1 21v1m2 3v2m0-27v1m2 19v1m0-25v1m2 46v2m1-5v3m0-11v1m1 4v6m0-10v1m0-38v1m1 37v4m0-16v1m1-4v1m1 15v4m1-17v1m1 11v6m0-32v1m1 11v1m0-10v1m0-14v1m1 29v14m0-35v1m1 15v2m1-17v1m1 35v1m0-36v1m0-10v1m2 19v1m3 18v4m1-12v3m1-25v1m0-12v1m1 9v1m0-11v1m1-5v1m2 38v6m0-28v1m1-12v1m1 7v1m1 0v1m1 35v1m1-17v4m2-2v6m0-26v1m1-15v1m2 12v1m1 19v4m2-34v8m2 0v1m1 33v3m4-3v3m0-33v2m1 15v7m3 9v1m0-26v3m0-16v1m0-13v1m1 2v1m1 32v6m1-31v12m0-26v1m3 26v5m0-22v1m1 21v1m0-25v1m2-8v6m3 2v13m1 8v2m1-37v1m1 5v1m1 4v1m0-10v1m2-1v1m2 55v1m0-49v1m2 25v4m8 18v1m0-51v1m1 31v2m0-47v1m1 41v2m2-44v1m4 48v8m0-19v1m1-36v1m1-5v1m1 30v1m1-30v1m1 9v1m1-13v1m1-1v1m3 2v1m4 1v1m1-1v6m1-10v1m5 35v2m0-39v1m1 5v5m1 0v1m0-9v1m1 45v9m3-8v6m1 2v6m0-58v1m1 36v4m0-36v1m1 47v5m1-52v11m0-20v1m1 7v11m1 11v1m0-31v6m1 26v1m0-11v1m0-26v1m1 31v1m0-29v5m1 23v1m0-5v1m0-24v4m1 38v9m0-20v1m0-13v1m1-25v1m2 7v1m0-9v1m2 1v5m2 27v1m0-9v1m0-19v1m1-15v1m1 37v1m0-5v1m0-22v1m1 35v13m0-19v2m0-16v1m0-15v1m0-16v1m4 69v1m0-72v1m2-2v1m1 15v1m1-13v1m4 10v1m1 50v6m0-71v1m1-4v1m1 66v7m1-55v1m2 42v12m1-69v1m1 55v13m0-72v1m1 0v1m1 1v1m3 13v1m2-13v1m2-4v1m2 0v1m6 6v1m2-2v1m1 0v1m1 13v1m1 31v5m0-35v1m1 45v1m1-15v5m1-53v1m3 15v1m1-14v1m2 0v1m1-4v1m4 13v1m0-13v1m1-2v1m1-3v1m2 14v1m4-1v1m0-14v1m4-3v1m1 1v1m3 14v1m5-19v1m3-1v1m1-1v1m1 17v1m5-17v1m1-3v1m3 1v1m1 15v1m0-15v1m1-2v1m6-1v1m2 1v1m1-1v1m6 10v1m3-18v1m2 14v1m3-17v1m1 0v1m2-2v1m2 15v1m3-1v1m1-16v1m2-3v1m3-4v1m1 15v1m1-2v1m9-7v1m2-1v1m6-1v1m2-2v1m1-1v1m2-1v1m2-1v1m16-8v2m1-2v2m3-5v1m1-1v1m1 47v1m0-48v1m1 46v1m0-48v1m3-2v1m1-1v1m3 5v1m1-1v1m3-4v1m1-1v1m15 4v1m1-1v1m5 41v1m1-1v1m57 6v1m1-1v1m5 9v1m0-61v1m1 59v1m0-61v1m7 52v1m0-30v1m3-20v1m0-5v1m1 18v1m0-20v1m1 18v1m0-20v1m3 53v1m1-1v1m9-40v1m1-1v1m1 38v1m0-24v1m1 22v1m0-24v1m9-13v1m1-1v1m1 2v1m1-1v1m1-3v1m3 18v1m2-44v12m5 17v1m1-1v1m1-3v1m1-1v1m7-16v1m6 20v1m0-20v1m2 0v1m1-1v1m5 2v1m1-1v1m12 8v1m3 1v1m1-1v1m17 17v1m1-1v1m9-11v1m1-1v1m5 0v1m1-1v1m1-2v1m1-1v1m15 1v1m2-1v1m1-1v1m1-1v1m1-1v1m3-1v1m1-1v1m7-1v1m1-1v1m9-1v1m1-1v1m9 0v1m14 0v1m1-1v1m25 0v1m1-1v1m5-1v1m1-1v1m1-1v1m1-1v1m6-1v1m1-1v1m1-1v1m11 0v1m1-1v1m9-2v1m1-1v1m3-1v1m4-1v1m1-1v1m11-1v1m1-1v1m7 10v1m1-1v1m13-12v1m1-1v1m8-1v1m13 0v1m1-1v1m5 8v1m0-11v1m1 9v1m0-11v1m11-1v1m1-1v1m9 12v1m1-1v1m13-10v1m5-1v1m15 9v1m0-11v1m1 9v1m0-11v1m57 1v1m1-1v1m3 0v1m1-1v1m1-2v1m1-1v1m26 2v1m12 8v1m13-11v1m1-1v1m7-1v1m1-1v1m4-1v1m17 0v1m1-1v1m3 7v1m1-1v1m2-10v1m10-2v1m3-1v1m32-2v1m24 9v1m0-11v1m1 9v1m0-11v1m21 9v1m1-1v1m1-1v1m1-1v1m11-11v1m1-1v1m12-1v1m13-3v1m1-1v1m11 10v1m1-1v1m3 1v1m1-1v1m3-3v1m1-1v1m35 3v1m0-17v1m1 15v1m0-17v1m43-1v1m1-1v1m47-7v1m1-1v1m35 1v1"/>
<path stroke="#de0000" d="M0 99v1m0-19v3m0-31v1m2 42v1m1 0v2m0-48v1m1 45v2m1-2v1m0-30v1m0-17v1m3 12v1m1 8v2m0-8v1m1 28v1m3-3v2m1 2v1m0-3v1m0-30v1m1-2v1m0-15v1m1 1v9m1 0v1m1 13v2m0-13v1m0-14v1m1 32v4m1 8v1m0-7v2m1-20v1m0-8v1m1 17v3m0-24v1m1 30v1m0-43v1m1 40v2m0-45v1m1 40v2m1-13v3m0-19v1m1-2v1m2 8v1m0-7v1m1 27v1m1 2v1m0-4v1m1-32v1m1 20v4m0-33v1m1 37v1m0-28v1m1 24v2m0-27v1m1-15v1m1 22v1m0-23v1m1 11v1m1-12v1m1 7v1m5-10v9m1 34v1m1-2v2m0-12v1m1 1v7m0-29v1m1 8v1m1 21v1m0-12v1m0-20v1m0-18v1m1 2v1m2 17v2m1 12v1m0-9v1m2-16v1m0-7v1m2 38v1m0-11v1m0-23v1m0-11v1m3 42v2m0-46v1m2 21v1m0-21v8m1 15v1m2-4v1m0-13v1m0-10v1m1 41v1m1-19v1m1 18v2m0-23v1m1 9v1m1-33v1m1 44v1m0-48v1m1 28v1m0-21v1m1-5v4m4-7v7m2 2v1m1 33v2m0-17v2m0-4v1m1 5v8m0-22v3m0-6v2m1 28v1m0-23v1m0-15v1m1 35v1m0-22v1m3 18v2m0-14v1m0-6v1m0-17v1m3-4v1m0-9v1m1 34v1m0-25v1m2 11v1m0-24v1m1 25v1m1-1v1m1 6v1m1-23v1m1 28v4m0-10v1m0-36v1m1 33v1m0-26v1m1 35v2m0-14v1m1 7v4m0-11v1m0-10v1m1 2v2m1 4v9m0-20v1m1-23v1m1 0v1m1 28v1m0-8v1m0-23v1m1 8v1m1-2v1m1-1v1m1 30v4m0-14v1m1-23v1m1 14v1m0-25v1m1 41v3m0-43v7m1 2v1m1 21v8m0-19v1m0-11v1m1-10v6m1-8v1m2 23v1m0-16v1m0-9v1m1 21v1m1 20v2m0-23v1m1 9v1m0-11v1m1 15v5m0-10v1m1-14v1m1 18v4m0-10v2m0-12v1m0-28v1m1 3v1m1 39v3m0-10v1m0-9v1m0-26v1m1 20v1m1 23v1m0-4v1m0-43v7m1 18v3m0-18v1m1-13v1m2 0v1m1 21v1m0-12v1m0-12v1m4 34v6m0-41v9m3 7v5m1 0v1m0-24v1m1 41v6m1-44v7m4 25v6m0-29v1m0-13v1m1 9v1m0-9v1m1 36v6m4-9v6m0-32v1m0-9v1m3-1v9m1-8v7m1-6v1m1 12v4m0-23v1m1 13v1m0-12v1m1 11v1m1-16v1m1 39v8m0-35v1m0-12v1m1 46v1m1-40v1m0-11v1m1 26v3m1-27v5m1 33v8m0-41v1m0-8v1m1 20v3m1-17v10m1-10v2m1 18v6m0-39v1m1 33v2m0-30v1m3-4v5m2 15v2m1 8v2m2-32v4m3-1v1m1-8v1m2-3v1m1 38v6m1-42v5m1-10v1m1 2v1m1-5v1m1 4v5m1-7v7m3 34v3m1-6v2m0-45v1m1 12v21m3-3v1m0-33v1m1-2v1m1 57v6m0-33v1m1 3v1m2 1v1m0-38v1m1 36v1m1-6v1m0-32v1m3 2v1m1 1v5m1 0v1m1-10v1m1 9v1m0-13v1m1 2v8m5 2v45m1-11v4m2-17v3m3 21v6m0-52v1m0-8v1m1 0v1m1-1v1m1 49v8m0-56v3m2 36v5m2-29v2m0-14v1m1 10v2m0-24v1m3 27v1m2 27v8m0-65v1m1 33v1m0-7v1m3 3v1m0-3v1m0-30v1m2 63v1m0-31v1m0-9v1m2 8v1m0-12v1m2 31v9m0-29v1m0-13v1m4-17v1m3-16v1m2 1v1m1-1v1m4 68v1m3-70v1m1-4v1m5 15v1m0-13v1m2-3v1m1 13v1m2-12v1m3 66v1m2-68v1m1 2v1m1 12v1m3-9v1m3-1v1m1 47v11m0-62v1m2 52v9m1 0v1m0-47v1m10-15v1m4 13v1m2-14v1m2-3v1m10 13v1m0-14v1m1 12v1m0-14v1m2-3v1m2 16v1m0-19v1m5 17v1m2-1v1m0-17v1m6 16v1m3-1v1m1-1v1m1 0v1m0-20v1m1 18v1m1-18v1m2 0v1m2 14v1m1-14v1m1 12v1m1-15v1m2-3v1m1 0v1m1-2v1m10 10v1m3-16v1m2-2v1m14-8v1m1 13v1m3-16v1m7-1v1m12 11v1m5 36v1m1-1v1m13-47v1m6 53v1m1-1v1m3-54v1m1-1v1m3 1v1m1-1v1m1-3v1m1-1v1m1 1v2m1-2v2m1 43v1m0-48v1m1 46v1m0-48v1m1 2v1m0-4v1m1 2v1m0-4v1m5 4v1m1-1v1m5 43v1m1-1v1m7 11v1m1-1v1m19-25v2m1-2v2m5 26v1m1-1v1m27-60v2m1-2v2m7 19v1m8-22v1m1-1v1m5 13v1m2 0v1m1-1v1m1 38v1m0-58v14m1 43v1m0-58v14m3 7v1m1-1v1m1-1v1m1-1v1m1-1v1m0-24v1m1 22v1m0-24v1m7 1v11m3 14v1m2-1v1m1-1v1m1-1v1m1 0v1m1-1v1m5-16v1m1-1v1m1-1v1m1-1v1m15 4v1m1-1v1m5 3v1m1-1v1m1 15v1m1-1v1m3-13v1m1-1v1m3 16v1m1-1v1m19-8v1m1-1v1m3 0v1m1-1v1m1-1v1m1-1v1m15 13v1m2-13v1m1-1v1m2 0v1m1-1v1m12-1v1m1-1v1m14-1v1m8 0v1m3-1v1m1-1v1m15 1v1m1-1v1m11-2v1m3 0v1m5 10v1m1-1v1m1 0v1m2-13v1m1-1v1m1-1v1m1-1v1m3 0v1m1-1v1m1-2v1m1-1v1m13-1v1m1-1v1m1 1v1m1-1v1m9-2v1m1-1v1m19-1v1m1-1v1m5 10v1m1-1v1m11-1v1m1-1v1m1-12v1m6-2v1m1-1v1m1 0v1m1-1v1m21-1v1m1-1v1m45 2v1m4-2v1m1-1v1m5-1v1m33 2v1m11-1v1m1-1v1m15-1v1m1-1v1m4-1v1m77 1v1m1-1v1m15 0v1m1-1v1m55-3v1m38-6v1m1-1v1m4 2v1m3 0v1m1-1v1m15-1v1m16 8v1m1-1v1m1 1v1m0-13v1m1 11v1m0-13v1m37-1v1m1-1v1m29 10v1m1-1v1m19-15v1m1-1v1m7 0v1m1-1v1m57-5v1m1-1v1m19 0v1m1-1v1"/>
<path stroke="#c60000" d="M0 84v4m0-21v1m1-14v1m1 42v1m1-32v1m1-1v1m0-14v1m1 44v1m1-46v1m2-4v1m1 25v2m1 20v1m1-2v2m0-33v1m0-12v1m2 9v1m1 32v1m1-2v1m3-18v3m1 8v2m0-37v1m1 38v2m1-21v3m1 10v3m0-36v1m1 42v1m2-5v2m0-32v1m0-12v1m1 30v3m1-35v1m2 45v1m0-25v2m0-24v1m2 13v1m2 22v2m0-34v6m1 32v1m1-2v2m1-33v1m1 13v2m0-15v1m1 31v2m2-44v1m2 10v1m0-15v1m2 11v1m0-10v1m2 30v1m0-8v1m0-14v1m1 12v1m0-16v1m1 31v1m0-9v1m0-11v1m2-1v1m1 7v1m1-10v1m0-12v1m1 7v1m0-8v1m0-17v1m1 13v1m1 14v1m1-2v1m0-22v5m2 34v3m0-23v1m3-2v1m0-13v1m1 12v1m2 2v1m1 0v1m0-5v1m0-22v6m1 20v1m1 14v2m0-16v1m1-5v1m1 2v1m1 4v7m0-10v2m0-11v1m1-14v1m2-10v8m1 21v1m0-7v1m3-15v1m0-12v1m2 2v7m1 15v1m0-26v1m1 29v1m0-29v1m1 40v3m0-12v1m0-11v2m0-10v2m1 9v1m1 7v9m0-16v1m0-30v1m3 33v1m0-4v1m4 15v2m0-12v1m0-10v1m0-28v1m1 27v1m0-28v1m1 24v1m1-17v1m0-7v1m1 29v1m0-32v1m1 23v1m0-15v1m0-14v1m1 24v1m1 9v1m0-10v1m0-15v1m1 33v2m0-45v1m1 1v5m1 36v1m0-13v1m0-32v7m2 34v2m0-12v1m0-23v1m1 18v1m0-6v1m1 2v1m0-3v1m0-17v1m2 22v7m0-38v1m1 27v1m2-7v1m1 5v1m0-7v1m0-21v1m1 5v1m1 34v2m0-16v1m0-8v1m1 5v1m0-31v1m1 40v4m0-13v1m2-4v1m0-4v1m0-18v1m1 13v1m0-13v1m1 19v1m1 0v1m0-21v1m0-15v1m1 34v1m0-22v1m1 32v2m0-35v1m1 21v1m0-10v1m0-15v1m1 0v1m1 32v1m0-35v1m1 13v1m0-16v1m1 34v1m0-12v1m1-11v1m0-13v1m1 32v2m1-17v5m2-25v1m0-8v1m1 6v1m1 13v2m3 19v2m0-37v1m0-7v1m1 37v3m1-35v1m2 11v17m0-24v2m1 6v1m0-12v1m3-10v7m1-8v1m2 38v6m2-2v2m0-46v1m1 10v1m0-13v1m2 10v1m0-9v1m1 38v5m0-44v7m5-5v6m1 10v3m0-9v2m2-16v1m1 11v1m1 32v1m1-51v1m2 31v4m3 15v1m0-25v3m1 21v1m0-32v3m0-23v1m1 11v9m0-12v1m1 26v7m1-10v2m0-31v2m5 16v3m0-19v1m1 25v2m0-36v1m3-3v1m2-1v1m2-1v1m1 6v1m1 35v8m0-44v1m8-13v1m1 46v7m0-45v1m1 33v3m0-37v1m1 22v7m1-41v1m1-2v1m1 34v1m2 1v1m0-38v1m1 32v1m0-30v7m1 21v1m2-1v1m0-23v1m0-9v1m1 33v1m3-27v1m6-1v1m0-6v1m4 51v6m1-13v9m0-22v9m2-18v5m4-27v4m1-4v4m3 41v8m0-57v1m2 32v9m0-20v1m0-22v1m1 32v8m0-21v1m1 7v1m0-5v1m1 5v1m0-9v1m1 4v1m1-1v1m0-3v1m1 5v1m0-11v1m3 6v1m0-5v1m0-28v1m1 28v1m0-24v1m2 0v1m1 24v1m0-7v1m0-33v1m1 29v1m1 3v3m0-33v1m1 35v1m0-11v1m1-20v1m0-8v1m2-4v1m2 2v1m5 8v1m1-16v1m1-1v1m6 14v1m6-14v1m2 1v1m1 9v1m1-1v1m2-11v1m2-1v1m1 11v1m2-8v1m1-2v1m1 14v1m7 47v1m0-61v1m4-1v1m4 13v1m1-13v1m6-4v1m3 1v1m4-1v1m3 11v1m3-16v1m3-1v1m9-1v1m6 0v1m11 16v1m3-15v1m8-6v1m2 13v1m1-1v1m1-1v1m2-16v1m5-1v1m3 13v1m14-10v1m0-15v1m7 11v1m6-1v1m13 41v1m1-1v1m1-5v1m1-1v1m3-1v1m1-1v1m3-44v1m1-1v1m3 42v1m6-47v1m1-1v1m5 2v1m1-1v1m1-4v1m1-1v1m5 2v1m1-1v1m3 0v1m0-4v1m1 2v1m0-4v1m3 2v1m1-1v1m15 45v1m1-1v1m5 0v1m1-1v1m1 0v1m1-1v1m35 11v1m1-1v1m11-8v1m1-1v1m3-30v1m4-18v1m1-1v1m3 55v1m1-1v1m7-2v1m1-1v1m11-42v1m1-1v1m1 0v1m1-1v1m1 2v1m1-1v1m1-3v1m10 4v1m1-1v1m1-3v1m1-1v1m3 6v1m1-1v1m5-23v1m1-1v1m1-1v1m1-1v1m15 8v1m1-1v1m11 21v1m1-1v1m11 1v1m2-12v1m15 1v1m17 1v1m1-1v1m21 0v1m6-1v1m1-1v1m5-2v1m1-1v1m27 2v1m8 0v1m1-1v1m1-1v1m1-1v1m1-2v1m16-1v1m1-1v1m13 0v1m1-1v1m10-1v1m1-1v1m1-1v1m11-1v1m1-1v1m3-1v1m1-1v1m3-1v1m1-1v1m25-1v1m11-1v1m19-1v1m1-1v1m9 0v1m1-1v1m3 0v1m1-1v1m5-1v1m1-1v1m33 1v1m1-1v1m1-1v1m1-1v1m1-1v1m1-1v1m25 11v1m1-1v1m17-11v1m1-1v1m9-1v1m1-1v1m31 1v1m1-1v1m4-2v1m3 0v1m1-1v1m11-1v1m34 7v1m1-1v1m9-11v1m1-1v1m24-2v1m11 0v1m1-1v1m53-3v1m1-1v1m13 0v1m1-1v1m10 9v1m25-13v1m1-1v1m47-2v1m1-1v1m4 0v1m13-2v1m1-1v1m17 0v1m1-1v1m19-1v1m1-1v1m29-7v1m1-1v1m1 9v1m1-1v1"/>
<path stroke="#af0000" d="M0 88v3m1-27v1m1 33v1m0-31v1m4-4v1m3 12v2m1-14v1m0-14v1m3 43v1m0-45v1m2 44v1m2-45v10m1 19v3m1 7v2m0-31v1m2 14v4m1 9v2m1 3v2m0-35v1m1 32v1m0-34v1m0-12v1m2 34v3m0-39v1m3 24v4m1 16v1m0-33v1m0-13v1m1 43v2m1-46v1m1 38v3m1 4v1m0-3v1m0-47v1m2 3v1m1 24v1m0-25v1m2 7v1m2-1v1m0-11v1m5-3v1m1 33v1m0-32v1m1 41v2m0-12v1m0-22v1m1 10v1m0-12v1m0-15v1m1 33v1m1-23v1m1 24v6m0-42v1m1 21v1m1 3v1m0-27v1m1 30v1m1-1v1m2 0v1m3-2v1m1-2v1m2-5v1m2-25v1m1 20v1m3 17v3m1-16v1m0-6v1m0-22v1m1 29v9m0-25v4m1 7v1m0-4v1m7-1v1m0-16v1m1-1v1m1 34v1m0-14v1m0-8v1m0-13v2m0-17v1m1 35v10m0-17v1m1 15v2m0-12v1m0-6v1m0-19v1m1-1v1m0-10v1m2 28v2m3-30v1m2 31v1m0-25v1m1 36v1m0-38v1m0-9v1m1 30v1m1-25v1m1 23v1m1 2v8m1 1v2m1-14v1m0-8v1m1 5v1m0-7v1m1 19v1m2-2v2m0-23v1m1-16v1m1 17v1m0-25v1m1 26v1m0-28v6m1 38v1m0-8v5m0-13v1m0-10v1m0-14v1m1 13v1m0-16v1m0-11v1m1 23v1m0-22v1m1 42v2m0-17v1m2-3v1m0-4v1m0-25v1m2 22v1m1 20v1m0-46v1m2 1v1m1-4v1m1 3v1m2 43v1m1-15v1m0-9v1m1 19v2m0-47v1m1 22v1m1 22v1m0-13v1m0-9v1m0-28v1m2 46v1m0-19v1m0-20v1m1 15v1m2 9v5m0-29v1m0-13v1m1 9v1m2-8v1m1 23v1m0-16v1m1 18v4m0-17v5m3 23v2m1-46v1m1-1v9m1 29v6m0-31v1m1 9v2m1-14v1m0-13v1m3 9v1m2 0v1m1-9v7m1 2v1m10 11v12m1-25v1m2 35v1m4-16v7m0-31v1m0-11v1m3 27v5m0-25v1m1 12v2m1-4v3m1 19v8m1-16v2m5-12v2m1 7v2m6-33v1m0-7v1m2-3v1m1 51v4m0-61v1m3 5v1m1 4v1m0-10v1m5 52v6m0-62v1m1 47v5m1-12v7m2-38v1m1-11v1m1 34v1m0-6v1m3 3v1m0-36v1m1 30v1m0-21v1m0-12v1m1 2v7m2-10v1m2 3v1m2-2v7m2-10v1m4 0v1m3 57v5m0-52v25m0-39v1m2 13v16m0-28v1m2 2v7m1-5v1m4 0v4m1 49v4m2-19v7m0-17v1m0-10v1m1 18v7m0-16v1m0-12v1m2-25v1m1 27v2m1-1v1m1-31v1m1 7v1m0-8v1m3-1v6m2-9v1m2-4v1m3 4v6m4 0v1m1-14v1m2 12v1m0-10v1m1-2v1m2 11v1m2-2v1m0-14v1m1 49v12m1-49v1m0-13v1m1-3v1m1 2v1m2 10v1m0-12v1m2 12v1m0-16v1m1 13v1m0-13v1m2 11v1m3-11v1m1-1v1m1 10v1m5-9v1m4 4v10m2 1v1m3-15v1m1 13v1m2-2v1m0-11v1m3 10v1m1-13v1m4 0v1m3 10v1m1 0v1m2-14v1m7-2v1m12-1v1m2 14v1m1-17v1m4-2v1m4 17v1m4-17v1m1-1v1m2-2v1m1 16v1m7-2v1m4-4v1m1-13v1m10 9v1m0-14v1m1-2v1m6 13v1m2-2v1m1-2v1m2-18v1m3-2v1m9 8v1m0-13v1m11 11v1m2-12v1m19 48v1m1-1v1m1-46v1m1-1v1m3 44v1m1-1v1m1-1v1m1-1v1m9-46v1m1-1v1m1 53v1m0-52v1m1 50v1m0-52v1m3-4v1m1-1v1m1-1v2m1-2v2m3 0v1m1-1v1m37 50v1m1-1v1m5 9v1m1-1v1m41-54v1m1-1v1m17 13v1m1-1v1m10 3v1m0-28v8m3 19v1m1-1v1m11-15v1m1-1v1m11 2v1m1-1v1m11 7v1m1-1v1m5 3v1m1-1v1m7 2v1m1-1v1m24 17v1m1-12v1m1-1v1m5-1v1m1-1v1m1 0v1m46 10v1m18-9v1m1-1v1m39 11v1m1-1v1m9-12v1m1-1v1m5-2v1m3 11v1m7-1v1m2-12v1m1-1v1m1 9v1m1-1v1m5-2v1m1-1v1m9-10v1m1-1v1m9 0v1m18 8v1m5-11v1m3-1v1m32 2v1m1-1v1m11-1v1m1-1v1m10-1v1m43 0v1m1-1v1m3 12v1m1-1v1m51-10v1m15-1v1m12-1v1m9 5v1m1-1v1m5-7v1m1-1v1m9-1v1m1-1v1m3-1v1m1-1v1m9-2v1m1-1v1m5-3v1m3 9v1m6-2v1m0-9v1m3-1v1m1-1v1m5-1v1m4-1v1m1-1v1m27-1v1m1-1v1m25-6v1m1-1v1m61 1v1m1-1v1m5-1v1m1-1v1m49-2v1m1-1v1m55 12v1m1-1v1m19-7v1m1-1v1m25-11v1m1-1v1"/>
<path stroke="#970000" d="M0 91v3m0-28v1m0-13v1m1 0v1m2-4v1m1 1v1m1 12v1m3-4v1m0-14v1m1 28v4m0-17v1m4 30v1m1-32v1m0-15v1m1 12v1m0-13v1m3 31v3m0-23v1m0-12v1m1 39v2m0-40v1m1 39v1m1-15v4m0-20v1m0-18v1m1 43v2m0-32v1m1-10v1m1 42v1m1-2v1m0-43v1m1 35v2m0-28v1m1-2v1m2 16v4m0-18v1m1 30v1m1-47v1m1 11v1m1 30v1m1 2v1m0-32v1m1 29v1m0-31v1m0-19v1m2 31v2m0-19v1m1 1v1m0-15v1m1 4v1m1-2v8m4-8v1m2 28v1m2-33v1m2 25v1m0-13v1m1 12v1m0-26v1m1 39v2m0-9v1m0-11v1m1-3v1m1 8v1m4-23v1m0-9v1m3-2v1m2 32v3m0-14v1m3-1v1m0-15v1m1 19v1m3 14v2m0-16v1m2 10v3m0-13v1m0-12v1m0-7v2m5-17v1m5 45v1m0-16v1m0-6v2m1 16v1m0-13v2m0-24v1m0-11v1m1 44v2m0-16v2m0-4v1m3-19v1m0-17v1m3 7v6m1 25v1m0-8v1m0-17v1m1-11v1m2 26v1m0-25v1m1 27v1m0-5v1m2 15v1m0-10v1m0-11v1m0-15v1m0-13v1m1 33v1m0-24v1m0-10v1m1 1v6m2 23v1m2-1v1m0-33v1m1 1v1m1 6v1m1 15v1m3 7v7m0-31v1m2-5v4m2 21v1m1-21v1m1 35v1m0-16v1m0-9v1m0-13v1m2 15v2m1 5v8m1-33v1m1 15v1m1 6v1m0-8v1m2 7v1m1-10v1m0-25v1m2 2v1m1 29v1m0-31v1m1 22v1m0-26v1m2 38v5m1-44v8m2 0v1m1 17v2m0-27v1m1 31v7m0-19v8m0-15v2m2-8v1m0-5v1m4 39v2m0-50v1m1 28v1m0-27v1m4 2v1m2-3v1m2 0v1m3 1v1m7 31v6m0-28v1m0-16v1m1 2v1m1 9v1m0-11v1m1-4v1m1 10v1m0-10v1m2-3v1m1 39v8m2-42v1m0-6v1m1 30v6m0-42v1m1 25v2m0-26v1m1 22v3m1-20v1m0-10v1m1 38v4m5-14v2m1 7v5m0-37v1m0-6v1m1-6v1m4 2v6m2-6v1m2 53v1m2-50v1m0-10v1m1 7v1m7 40v9m0-61v1m1 46v8m0-44v1m0-16v1m1 12v1m1-11v1m1 31v2m0-33v9m1 0v1m0-12v1m1 30v1m0-21v1m0-11v1m2 8v1m2 24v1m1-35v1m1 8v1m1 0v1m0-12v1m1 4v5m3 1v1m0-10v1m5 8v1m2-11v1m11 1v1m2 47v8m0-26v1m0-8v1m1 24v12m0-29v1m0-35v1m1 29v1m0-3v1m1-21v1m3 24v1m0-9v1m0-18v1m1 22v1m0-5v1m2 2v1m0-3v1m3 3v1m0-7v1m2 6v1m1-35v1m1 33v1m0-9v1m3-20v1m1-14v1m1 5v1m1 7v1m3-3v1m5 49v8m0-28v8m11-49v1m5 11v1m0-10v1m1 10v1m0-14v1m2 1v1m1 3v8m3-7v1m2-2v1m1 0v1m5-1v1m2 2v1m3 10v1m1-2v1m0-10v1m1-4v1m5 0v1m1-3v1m6 1v1m1-4v1m1 3v11m1 0v1m3-13v1m1 11v1m0-14v1m5 13v1m1-17v1m2 14v1m1 1v1m1-18v1m2 0v1m3 16v1m1-2v1m6-1v1m6 0v1m0-16v1m1 14v1m2-14v1m1 11v1m4-2v1m4-18v1m2-1v1m1-2v1m1-1v1m2 13v1m0-14v1m2-2v1m6 13v1m1-15v1m2 12v1m0-15v1m1-3v1m2-2v1m7 9v1m10-4v1m0-13v1m2 11v1m7-2v1m3-11v1m18 2v1m1-1v1m1-1v1m12-1v1m1-1v1m7 1v1m1-1v1m7 45v1m1-1v1m7 10v1m1-1v1m1-11v1m1-1v1m3 0v1m1-1v1m3 0v1m1-1v1m9 1v1m1-1v1m29 0v1m1-1v1m20 4v1m1-31v1m1-1v1m13-8v1m1-1v1m3 2v1m1-1v1m1-1v1m1-1v1m1-24v15m1-15v15m1 9v1m1-1v1m1 0v1m1-1v1m1 2v1m1-1v1m1-3v1m5 0v1m1-28v24m1-24v24m1 4v1m1-1v1m1 2v1m1-1v1m1-3v1m1-1v1m7-17v1m22 27v1m1-1v1m12 2v1m0-13v1m3 0v1m3 0v1m1-1v1m1-1v1m1-1v1m12 2v1m1-1v1m5 10v1m1-1v1m9 1v1m1-1v1m9-11v1m4 8v1m1-1v1m3-10v1m1-1v1m3-1v1m1-1v1m21-1v1m11 1v1m1-1v1m1-1v1m9-1v1m1-1v1m7 0v1m1-1v1m23-1v1m10-1v1m1-1v1m17-1v1m1-1v1m13-1v1m1-1v1m5-2v1m1-1v1m7 0v1m1-1v1m5-1v1m10-1v1m1-1v1m1-1v1m4-1v1m12 0v1m1-1v1m5-2v1m1-1v1m1-1v1m1-1v1m13 0v1m1-1v1m19 2v1m5-1v1m15-1v1m1-1v1m1 8v1m1-1v1m12-9v1m21 0v1m1-1v1m25 0v1m1-1v1m1-2v1m1-1v1m8-1v1m1 0v1m1-1v1m16 1v1m15-2v1m1-1v1m9-1v1m1-1v1m7-1v1m1-1v1m21 0v1m1-1v1m6-2v1m10-2v1m3-1v1m40 8v1m16-11v1m1-1v1m35-1v1m1-1v1m7-1v1m1-1v1m4-1v1m7-2v1m1-1v1m3-1v1m1-1v1m23-3v1m1-1v1m55 11v1m1-1v1m35-11v1m1-1v1m11-3v1m1-1v1m3 0v1m1-1v1m17-8v1m1-1v1"/>
<path stroke="#800000" d="M0 94v5m0-44v11m1-10v8m1-11v15m1-15v13m1-11v11m1-13v14m1-13v11m2-13v12m1 20v15m0-47v15m1-13v12m1-10v10m2-12v11m1-11v13m1-12v11m3 23v11m0-44v10m1 31v3m0-42v6m1 34v1m1-12v13m0-49v16m1 29v4m0-43v7m1-8v8m1-10v10m1 34v1m0-43v9m1 28v6m0-46v12m1-11v10m2 21v14m0-45v13m1-13v11m1-12v14m1-13v10m1 32v3m1-47v15m1 31v2m0-50v17m1-11v8m1 19v17m0-43v7m1-11v13m1-8v6m2-9v9m1-11v13m2-9v7m2 16v5m0-32v13m1 14v6m0-30v8m1 15v8m0-33v12m1 12v21m0-46v13m1 14v6m0-34v15m1 14v5m0-30v8m1 33v2m0-20v9m0-34v12m1 11v23m0-48v15m1 13v5m0-31v11m1 16v3m1-4v4m2-6v7m0-29v7m3 14v7m0-29v9m1 14v5m1 7v10m0-23v10m2-9v3m1-4v5m0-26v6m1 15v5m2-5v5m1-6v7m1-6v4m0-25v6m1 35v2m0-25v10m0-31v14m1 11v2m1-3v5m3-29v9m3 16v21m0-47v10m1-8v8m1 18v3m0-32v14m1 32v2m0-19v4m0-31v9m1 20v1m0-32v11m1-8v8m2-14v15m4 36v1m0-20v6m0-34v11m1 17v6m0-32v8m1 16v21m0-44v7m1 19v4m0-28v4m1 20v3m0-29v6m1 18v6m0-33v12m1 33v2m0-21v9m0-35v11m1 36v1m0-22v7m0-31v8m1 17v6m1-6v5m1-6v6m2-7v7m0-31v10m1 15v4m0-27v6m1-5v5m1 17v4m1 15v2m0-23v8m0-29v7m1 15v5m0-30v9m1 31v8m0-24v9m0-30v6m1 16v5m1-5v5m1-4v2m0-26v8m1 15v5m1-5v5m0-29v9m1 14v7m0-30v10m2-8v6m1 33v5m0-23v10m0-34v11m1 15v5m0-27v5m1 17v6m0-33v13m1 14v6m0-32v12m1 14v7m0-34v13m1 14v7m0-32v10m1 14v22m0-46v11m1 15v7m0-34v11m1 15v21m0-43v6m1 19v4m0-29v5m1 18v21m0-46v10m2 33v2m0-47v11m2-7v6m1-7v6m1 20v19m0-45v8m1 30v7m0-50v17m2-9v3m2-7v8m2-12v16m1 13v21m0-47v11m1-11v11m3-8v6m2-8v9m2-8v9m1-11v11m2-7v6m7 31v6m0-48v14m1-11v8m1-8v9m1-12v13m1-11v8m1-13v50m1-47v8m1-9v9m2-7v4m1 32v10m0-51v10m1 17v24m0-49v8m1 17v25m0-55v12m1-10v8m1 34v10m5-22v22m0-55v10m1 35v10m0-51v4m1-9v57m2-55v7m3-6v5m1-5v5m1-7v7m1-12v12m2-9v8m1-5v4m1-8v8m4-9v9m1-11v10m1-9v9m1 45v6m0-64v14m1-11v9m1-9v9m2 21v4m0-35v10m1 21v5m0-35v9m2 22v2m0-34v9m1 22v4m0-35v10m1 22v2m1-3v4m0-34v9m1-10v9m1-9v10m4-8v8m1-10v10m2-5v4m2-8v9m2-9v10m1-13v13m2-11v11m3-6v5m5-7v6m2 49v5m0-37v6m0-29v6m1 15v9m0-33v9m1 19v1m1-4v7m0-32v7m3 18v7m0-33v8m1 20v3m0-30v6m2 22v1m0-29v6m3 20v5m0-34v9m1 20v5m0-37v12m1 18v8m0-38v13m1-8v6m1 20v7m0-39v14m3-12v10m1-12v13m1-7v5m1-12v14m1-14v14m1-10v8m1-9v9m1-10v12m1-14v14m1-14v13m1 57v1m0-70v12m1-16v45m1-40v11m1-13v15m1-12v10m1-14v15m1-11v10m1-14v16m1-14v14m1-12v11m1-11v11m1-12v12m1-12v13m1-11v10m1-9v8m1-8v8m1-12v14m1-10v8m1-10v12m1-11v11m1-10v10m2-6v10m1-11v13m1-11v12m2-13v15m1-14v13m1-11v10m1 48v1m0-62v15m1-14v14m1-13v12m1-13v14m1-11v9m1-9v10m1-12v13m1-12v11m1-11v11m1-9v8m1-11v13m1-11v10m1-10v10m1-12v13m1-12v11m1-11v11m1-13v14m1-14v14m1-12v11m1-11v11m1-11v11m1-13v14m1-12v11m1-14v16m2-14v12m1-14v16m1-14v12m1-11v11m1-12v12m1-14v16m1-14v12m1-12v12m1-14v16m1-16v15m1-15v16m1-17v17m1-14v12m1-15v17m1-16v16m1-15v15m1-15v15m1-16v17m1-16v15m1-16v17m1-16v15m1-17v19m1-18v18m1-17v16m1-16v16m1-14v13m1-14v14m1-14v15m1-15v15m1-17v18m1-17v17m1-16v15m1-14v14m1-14v14m1-13v13m1-12v12m1-12v11m1-12v13m1-13v12m2-14v13m1-12v11m1-12v11m1-11v11m1-14v15m1-15v14m1-14v13m1-14v14m1-14v14m1-15v15m1-13v12m1-13v14m1-14v14m1-13v12m1-13v14m1-14v14m1-14v14m1-15v15m1-14v13m1-13v13m1-15v15m1-14v13m1-15v15m1-17v16m1-15v14m1-15v14m3-15v13m3-15v13m1-14v14m1-14v13m1-13v12m1-12v12m1-13v13m1-12v11m1-12v13m1-13v13m1-12v11m1-11v11m1-11v12m1-12v11m1-11v11m1-11v11m1-11v11m1-11v11m1-11v11m1-11v11m1-10v9m3-9v10m1-11v11m5 38v4m1-4v4m1-3v4m1-4v4m1-5v5m1-5v5m1-4v4m1-4v4m1-5v6m1-6v6m1-5v5m0-53v4m1 44v5m0-53v4m1 44v5m1-5v5m1-5v6m2-6v6m0-54v4m1 44v6m0-54v4m1 44v6m1-6v6m1-6v6m0-52v3m1 43v6m0-52v3m1 44v6m1-6v6m1-7v7m1-7v7m1-6v7m0-54v2m1 45v7m0-54v2m1 44v8m1-8v8m1-7v7m0-54v3m1 44v7m0-54v3m1 43v9m1-9v9m1-8v9m1-9v9m1-9v9m1-9v9m1-9v10m0-56v2m1 44v10m0-56v2m1 44v11m0-55v2m1 42v11m0-55v2m1 43v11m1-11v11m1-12v11m1-11v11m1-10v11m1-11v11m1-10v9m1-9v9m1-9v9m1-9v9m1-9v9m1-9v9m3-8v10m1-10v10m1-10v13m1-13v13m1-12v12m1-12v12m3-12v12m1-12v12m1-11v11m1-11v11m3-10v10m1-10v10m5-9v9m1-9v9m1-9v10m1-10v10m3-11v11m1-11v11m1-11v10m1-10v10m7-10v11m1-11v11m5-11v10m1-10v10m1-9v10m1-10v10m1-10v9m1-9v9m1-8v8m1-8v8m1-8v9m2-9v9m1-9v9m1-8v8m1-8v8m3-7v7m1-7v7m3-6v7m0-59v5m3 48v6m0-59v3m1 49v7m0-40v3m0-22v4m1 48v7m0-40v3m0-22v4m3 50v6m0-60v4m1 50v6m0-60v4m5 50v5m0-45v13m2 27v5m0-44v13m1 26v5m0-44v13m1 26v6m0-44v14m1 24v6m0-44v14m1 24v5m0-63v34m1 24v5m0-63v34m1 24v6m0-41v12m1 23v6m0-41v12m1-12v14m1-14v14m1-14v15m1-15v15m1-14v15m1-15v15m1-14v15m1-15v15m1-12v11m1-11v11m1-13v16m3-15v15m2-15v17m1-17v18m1-18v18m1-17v18m1-18v18m1-15v13m1-13v13m1-15v19m1-19v19m1-36v23m1-23v23m1-23v22m1-22v22m1-21v20m1-20v20m1-20v24m2-24v20m1-20v20m1-20v20m1-20v20m1-19v18m2-17v18m1-18v18m1-17v19m1-19v19m1-18v20m1-20v20m1-19v19m1-19v19m3-16v17m1-17v17m1-16v14m1-14v14m1-12v16m1-16v16m1-15v18m1-18v18m2-16v15m1-14v13m1-13v13m1-12v12m1-12v12m1-11v13m1-13v13m2-11v11m1-12v13m1-13v13m1-11v10m3-9v11m1-11v11m1-11v11m1-11v11m2-10v13m2-13v11m1-11v11m3-10v10m1-10v10m1-10v11m1-11v11m1-10v12m1-12v12m1-12v11m1-11v11m2-11v11m1-10v9m1-9v9m1-9v11m1-11v11m1-12v10m1-10v10m1-9v12m1-12v12m1-11v10m2-11v11m1-11v11m2-10v11m1-11v10m2-10v9m1-9v9m3-8v11m2-12v10m1-10v10m1-10v9m1-9v9m1-9v9m1-9v9m1-8v9m1-9v9m3-9v9m1-9v9m3-10v11m1-11v11m1-10v9m3-10v11m1-11v11m1-11v11m1-10v10m1-10v10m1-11v10m1-10v10m2-9v11m1-12v13m1-13v13m1-12v9m1-9v9m1-9v9m2-9v11m9-9v13m1-13v13m1-13v13m1-13v12m1-12v12m1-13v14m1-14v14m1-13v9m1-9v9m1-10v11m1-11v11m1-10v13m1-13v13m1-13v10m2-11v10m3-9v10m1-9v11m1-11v11m1-11v9m1-9v9m1-9v9m1-9v9m1-10v11m2-11v11m1-11v11m1-11v11m1-11v11m1-11v9m1-9v9m1-8v10m1-10v10m1-11v11m1-11v11m1-11v12m1-12v12m1-12v14m1-14v14m1-14v9m1-9v9m1-8v10m3-11v10m1-10v11m1-11v11m1-11v10m1-10v10m1-8v9m1-9v9m1-10v11m1-11v11m1-11v10m1-10v10m1-10v9m1-9v9m1-9v10m1-10v10m1-10v11m1-11v11m1-12v11m3-10v10m1-10v8m1-8v8m1-9v9m1-9v9m1-8v11m1-11v11m1-12v11m2-10v12m1-12v12m1-13v10m1-10v10m1-9v10m1-10v10m1-10v11m1-11v11m1-11v8m1-8v8m1-8v11m1-11v11m1-11v10m1-10v10m1-11v11m1-11v11m1-11v11m1-11v11m1-10v10m1-10v10m1-12v10m1-10v10m1-9v10m1-10v10m1-9v10m1-10v10m1-10v11m2-10v9m2-10v12m2-13v11m1-11v11m1-10v9m1-9v9m1-10v12m1-12v12m1-11v9m2-9v10m1-10v10m1-10v10m3-11v11m1-10v9m3-9v9m2-9v10m3-10v10m2-10v11m1-11v11m1-10v7m1-7v7m3-9v10m1-10v10m1-9v8m1-8v8m1-8v8m1-8v8m1-8v10m1-10v10m7-11v11m1-11v11m1-9v9m1-9v9m1-9v10m1-10v10m1-9v12m1-12v12m3-11v8m1-8v8m1-9v10m1-10v10m9-9v8m1-8v8m1-7v8m2-9v11m3-10v9m1-11v13m1-13v13m2-12v10m3-11v9m8-7v8m1-8v8m1-8v8m1-8v8m1-8v12m1-12v12m1-12v7m1-7v7m8-6v8m10-8v10m7-11v11m1-11v11m3-9v10m1-10v10m13-10v8m1-8v8m1-9v10m1-10v10m4-10v9m1-9v10m1-10v10m1-9v8m1-8v8m1-7v9m1-9v9m1-10v8m1-8v8m8-8v10m1-9v8m1-8v8m13-7v11m3-10v9m1-10v10m1-10v10m4-11v10m3-9v9m1-9v9m2-9v8m3-8v9m1-9v9m5-9v7m3-7v8m1-8v8m1-8v8m7-8v5m1-5v5m4-6v9m1-8v8m1-8v8m3-9v10m1-10v10m5-9v5m1-5v5m3-5v8m1-8v8m1-7v6m1-6v6m3-7v7m1-7v7m2-7v10m1-11v9m1-9v9m1-10v8m1-8v8m3-9v10m3-8v7m3-7v9m3-10v7m3-7v8m1-8v8m5-8v8m3-9v10m1-9v8m1-8v8m9-8v9m1-9v9m5-10v9m8-8v9m4-9v9m1-9v9m11-9v8m1-8v8m13-13v12m1-12v12m7-12v13m1-13v13m1-10v10m1-10v10m2-10v10m3-9v10m1-10v10m5-9v9m1-9v9m1-10v10m1-10v10m5-9v10m1-10v10m1-11v10m3-9v8m7-9v9m1-9v9m3-9v10m1-10v10m1-12v10m1-10v10m1-9v11m1-11v11m9-12v10m1-10v10m1-10v13m1-13v13m1-14v13m1-13v13m3-12v10m1-10v10m1-10v11m1-11v11m11-12v13m1-13v13m5-11v11m1-11v11m15-13v15m1-15v15m3-15v13m1-13v13m1-14v13m3-11v14m5-15v12m1-12v12m7-12v12m1-12v12m11-13v14m1-14v14m5-12v12m1-12v12m1-13v12m1-12v12m1-12v13m1-13v13m13-10v10m1-10v10m1-12v10m1-10v10m9-10v11m1-11v11m3-10v9m1-9v9m15-16v11m1-11v11m1-11v9m1-9v9m7-8v10m1-10v10m15-9v8m1-8v8m3-8v9m1-9v9m7-10v11"/>
</g>
<g transform="translate(83 37.600) scale(1 4.1080)" fill="none" stroke-width="2.02" shape-rendering="crispEdges">
<path stroke="#e8e8ff" d="M486 72v2m4-1v1m8-1v1m6-2v1m2-1v1m2-1v2m4-2v2m2-2v1m20 3v1m8 1v1m320-13v1m2-2v1m20 1v1m4-3v1m18 1v1m2 0v1m14-1v1m18-1v1m2-3v1m8 1v1m2-1v1m4 0v1m4-1v1m6-1v1m28 1v1m4-1v1m36 1v1m4-2v1m6 0v1m16-2v1m38-4v1m2-1v1m24-1v1m4-2v1m12 0v1m10-3v1m12 1v1m12 0v1m18-1v1m8-1v1m4-1v1m16-2v1m2-2v1m2 0v1m4-1v1m4-1v1m2 0v1m4-2v1m2 0v1m6-2v1m2-2v1m2 0v1m12-2v1m2-2v1m4-1v1m2-1v1m12-1v1m18 0v1m8-2v1m8 1v1m4 0v1m8-4v1m2-2v1m6-4v1m10-6v1m12 3v1m2-2v1m2 0v1m2-2v1m2 0v1m4 0v1m6-2v1"/>
<path stroke="#b4b4ff" d="M472 72v1m14 1v1m4-1v1m2-1v1m6-1v1m6-2v1m2-1v2m2-1v1m4-1v1m22 3v1m8 0v1m344-13v1m24 0v1m10-1v1m18-1v1m8-2v1m32 2v1m2-1v1m8 0v1m2-1v1m16 0v1m4-1v1m6-1v1m6-1v1m8-2v1m2 0v1m16-1v1m2 0v1m4-2v1m16-2v1m12-2v1m4-2v1m2 0v1m8-1v1m6 0v1m10-2v1m8-2v1m10 0v1m8-3v1m8-1v1m6-2v1m2 0v1m12 2v1m2-1v1m8-1v1m8-1v1m2-1v1m2-2v1m14-1v1m4-2v1m8 0v1m12-2v1m16-1v1m2 0v1m10-1v1m18-5v1m4 0v1m2-1v1m2 0v1m4-1v1m4-2v1m2 0v1m12 1v1m2-1v1m10-2v1m4-1v1m14-6v1m2 0v1m14-4v1m2-1v1m4-1v1m2-2v1m22 1v1"/>
<path stroke="#8080ff" d="M490 75v1m2 0v1m6-1v1m8-2v1m2-1v1m4-1v1m2-1v1m16 2v1m4 0v1m328-13v1m2-2v1m18 1v1m2-1v1m4-3v1m20 2v1m14-1v1m2-1v1m16-1v1m26 0v1m16 0v1m10 0v1m6-1v1m22-2v1m18 1v1m6 0v1m54-5v1m10 0v1m6-2v1m2-1v1m8-1v1m8 0v1m10-4v1m2 0v1m6-2v1m12 1v1m30 0v1m40-2v1m14-1v1m2-2v1m2 0v1m12-2v1m2-2v1m4-1v1m2-1v1m12-1v1m16 0v1m8 0v1m2-3v1m16 1v1m4-3v1m2-2v1m8-5v1m2-3v1m24 0v1m10 0v1m2-1v1"/>
<path stroke="#5050ff" d="M472 73v1m20 3v1m6-1v1m6-1v1m2-1v1m6-1v1m22 2v2m372-14v1m36-2v1m8 1v1m2-1v1m4 0v1m4-1v1m34 1v1m40 1v1m26-2v1m28-3v1m8-1v1m4-2v1m28-2v1m12 0v1m34 0v1m26-1v1m4-1v1m18-3v1m2 0v1m4-1v1m6 0v1m4-2v1m2 0v1m60-3v1m16 0v1m4 0v1m16-8v1m10-6v1m12 3v1m2-2v1m2 0v1m4-1v1m4 0v1"/>
<path stroke="#1a1aff" d="M480 76v1m6 0v1m4 0v1m2-1v1m6-1v1m10-1v1m4-1v1m2-2v1m16 2v1m12 1v1m378-14v1m18-1v1m8-2v1m32 2v1m2-1v1m8 0v1m2-1v1m16 0v1m4-1v1m6-1v1m14-2v1m2 0v1m18 0v1m4-2v1m28-3v1m20 0v1m28-2v1m8-3v1m16-1v1m12 2v1m2-1v1m34-2v1m12-1v1m6-2v1m6-1v1m16-1v1m30-4v1m12 1v1m18 1v1m12-2v1m4-1v1m16-5v1m14-4v1m2-1v1m4-1v1m24 0v1"/>
<path stroke="#0000f6" d="M472 74v1m14 3v1m6 0v1m6-1v1m6-2v1m2-1v1m6 0v1m2-2v1m16 2v1m4 0v1m8 0v1m344-16v1m24 0v1m14 0v1m68 2v1m30-1v1m26-1v1m22-2v1m16-3v1m26 0v1m8-2v1m8 22v6m4-27v1m14-4v1m6-2v1m24 3v1m8-1v1m2-1v1m2-2v1m18-2v1m38 0v1m32-4v1m2-1v1m2 0v1m8-2v1m2 0v1m14 1v1m28-7v1m6-2v1m2-3v1m16-1v1m18 1v1"/>
<path stroke="#0000ff" d="M472 75v1m8 1v1m10 1v1m2 0v1m12-2v1m2-1v1m2-1v1m6-1v1m16 2v1m4 0v1m8 0v1m340-16v1m6-3v1m34 2v1m20-3v1m24 2v1m16 0v1m16 0v1m22-2v1m18 1v1m60-4v1m10 0v1m6-2v1m2-1v1m12 27v1m14-31v1m112 1v1m44-2v1m10-2v1m16 1v1m22-12v1m18 2v1m12 0v1"/>
<path stroke="#0012ff" d="M486 79v1m4 0v1m8-1v1m6-1v1m2-1v1m2-1v1m4-1v1m0-43v1m18 44v1m0-60v1m4 59v1m8 0v1m320-18v1m2-2v1m20 1v1m22-1v1m2 0v1m32-1v1m10-1v1m2-1v1m4 0v1m4-1v1m34 1v1m40 1v1m10-1v1m16-2v1m64-4v1m4-2v1m10-1v1m6-1v1m18 0v1m70-1v1m16-2v1m2 0v1m14-3v1m4-1v1m2-1v1m12-1v1m18 0v1m6 0v1m22-3v1m2-2v1m6-4v1m22-2v1m2-2v1m2 0v1m4-1v1"/>
<path stroke="#0027ff" d="M480 78v1m10-7v1m2 8v1m6-1v1m10-47v1m0-6v1m6 49v1m20-54v1m8-2v1m378 43v1m18-1v1m8-2v1m32 2v1m2-1v1m8 0v1m2-1v1m16 0v1m4-1v1m6-1v1m14-2v1m24 0v1m34-3v1m8-1v1m4-2v1m2 20v6m0-25v1m38-3v1m10-3v1m24 2v1m18-1v1m8-1v1m22-3v1m6 0v1m6 0v1m4-2v1m8-1v1m4 22v3m22-29v1m44 2v1m34-8v1m4-1v1m2-2v1m14 1v1m8-1v1"/>
<path stroke="#003cff" d="M472 76v1m20-5v1m20 8v1m0-55v1m2 0v1m28 18v1m364 44v6m4-28v1m14 0v1m14 23v3m54-24v1m24 19v2m4-23v1m2 0v1m10-1v1m16-1v1m2 0v1m32-4v1m4-2v1m16 26v2m0-9v1m10-20v1m8-2v1m10 0v1m2 18v8m10-7v5m24-24v1m2-1v1m18-1v1m18-2v1m20-2v1m16 0v1m10 24v2m0-7v2m12-24v1m26-2v1m26 1v1m6 0v1m12-7v1m2 0v1m6-5v1m8 0v1"/>
<path stroke="#0051ff" d="M486 80v1m48-36v1m12 37v4m0-24v18m0-52v1m340 39v1m2 20v8m0-30v1m18 29v2m16-29v1m2 19v7m14 0v2m0-6v1m4-26v1m40 3v1m16 0v1m18 21v3m0-7v2m54-21v1m38-1v1m6 18v6m0-26v1m2-1v1m12 19v1m0-22v1m4 27v1m0-27v1m10 23v2m0-8v1m4-22v1m8-1v1m22 2v1m8-1v1m4-2v1m14-1v1m4-2v1m8 0v1m6-2v1m6-1v1m8 23v2m8-3v2m0-25v1m8 27v1m28-31v1m6 0v1m6-1v1m12 1v1m2-1v1m4-3v1m10 0v1m20-7v1m8-5v1m18 2v1m2 0v1m8-1v1"/>
<path stroke="#0065ff" d="M472 91v8m34-65v1m376 35v1m6 27v1m0-10v1m18-20v1m4 21v6m14 0v2m0-10v1m16-20v1m10-1v1m16 0v1m28 1v1m22 24v1m22-25v1m22-1v1m38-4v1m16 25v2m0-9v1m10-20v1m14-2v1m2 21v3m2 3v1m0-10v1m0-21v1m10-2v1m10 2v1m4 20v5m8-7v7m60-1v2m0-6v2m8 1v3m0-8v3m6-23v1m6 0v1m10-3v1m12-2v1m4 0v1m56-5v1m22-2v1m2-2v1m2 0v1m14-1v1"/>
<path stroke="#007aff" d="M508 81v1m0-21v1m4-1v1m0-25v1m18-13v1m4 59v1m0-58v1m8 17v1m0-20v1m4 59v1m316-19v1m2-2v1m20 1v1m4 28v1m20-29v1m2 26v2m0-9v1m10-21v1m2 18v8m16-27v1m8-2v1m6 0v1m4 0v1m4-1v1m18 0v1m2 18v7m0-26v1m8 0v1m2-1v1m16 0v1m4-1v1m6-1v1m14-2v1m4 1v1m10-1v1m10-2v1m34-3v1m8-1v1m4-2v1m30 19v5m10-1v3m0-9v3m6-2v7m6-9v8m14 1v2m0-8v1m2 1v2m6 2v2m0-10v1m60 8v1m8-1v1m2-28v1m24-3v1m2-1v1m12-1v1m16 0v1m2-1v1m6 0v1m12 20v5m6-26v1m4-3v1m2 16v11m0-29v1m20-5v1m4-1v1m2-2v1m14 1v1m8-1v1"/>
<path stroke="#008fff" d="M490 62v1m16 18v1m8-45v1m408 60v1m0-10v1m2-18v1m28 22v4m26-7v6m2 1v1m12-25v1m28-2v1m2 0v1m10-1v1m16-1v1m34-3v1m4-2v1m12 21v4m4-24v1m10 18v4m8-25v1m4 19v7m6-2v2m0-9v2m0-19v1m10 25v1m4-29v1m2 26v2m6-3v2m0-12v2m16 7v3m0-8v3m6-21v1m18 17v7m0-25v1m8 18v5m22-26v1m6 0v1m4-1v1m18-1v1m22-4v1m10 20v9m26-6v5m0-27v1m8 0v1m2 25v1m0-8v2m12 5v1m0-13v1m2-20v1m8 18v12m0-34v1m6-3v1m2 2v1"/>
<path stroke="#00a4ff" d="M490 81v1m8-18v1m8-2v1m6-36v1m18 55v1m4-41v1m352 47v7m0-29v1m2-2v1m22 1v1m12 27v1m0-28v1m20-3v1m10 28v1m26-2v2m72-24v1m20-3v1m28 23v1m0-6v1m10-1v6m4-2v2m0-8v2m0-20v1m4-1v1m8 25v1m4-28v1m2 26v1m10-28v1m10-3v1m2 28v1m2-10v9m8-4v1m6 3v1m0-26v1m18-1v1m6 23v2m0-10v1m8 6v2m0-9v2m0-19v1m4-1v1m30-1v1m4-2v1m8-1v1m18 19v5m18 2v1m6-30v1m20 27v1m0-7v1m6-21v1m4 26v1m2-27v1m10 25v1m4-32v1m4-3v1m2 31v1m0-14v1m20-21v1m4-1v1m2 0v1m8-1v1"/>
<path stroke="#00b9ff" d="M490 71v1m14 9v1m2-50v1m2 1v1m34 51v1m0-42v1m0-18v1m344 70v1m0-9v1m34 0v7m20-27v1m2 22v1m8-24v1m16 0v1m16 0v1m16 0v1m32 17v6m8-4v4m58-7v6m2 1v1m0-8v1m0-20v1m10 25v1m0-26v1m4 24v1m2-27v1m10-1v1m8 0v1m6 16v6m0-25v1m4-2v1m2 21v3m2-6v1m4-2v10m4 0v1m0-11v1m8 6v3m0-7v3m4-21v1m10-1v1m8-1v1m4-2v1m12 25v1m6-5v3m18-26v1m14 19v5m2-24v1m2-2v1m20-2v1m2 25v2m0-9v2m14-22v1m6 20v7m0-27v1m6-1v1m10 22v4m4-25v1m4 25v1m8-9v8m2-27v1m18-6v1m4 31v1m16-35v1m6 0v1m14-1v1"/>
<path stroke="#00ceff" d="M480 95v4m12-36v1m16-33v1m4 37v1m2 0v1m16-45v1m4 2v1m348 62v6m0-27v1m2-1v1m22-1v1m2 20v6m12 1v1m0-28v1m18-1v1m2 18v7m2-2v3m0-7v3m4-2v6m0-28v1m6 0v1m4 20v6m0-26v1m4-1v1m20 0v1m8 18v5m2-23v1m4-1v1m16 19v4m0-23v1m6-1v1m14 22v1m0-25v1m4 1v1m4 21v1m0-6v1m0-19v1m6 0v1m10-2v1m6-1v1m26 15v6m2-4v3m0-23v1m8 23v2m0-9v1m4-19v1m16 19v5m4-6v6m18-1v2m0-10v2m6 5v3m0-8v2m2-22v1m4 27v1m2-30v1m2 0v1m8 27v1m0-27v1m40-1v1m4 24v2m0-6v1m0-23v1m8 0v1m12-2v1m6 20v5m6-1v2m0-9v2m10-20v1m16 26v1m0-29v1m4 18v9m8-29v1m4 0v1m4 26v1m0-9v1m16 7v2m0-7v1m0-22v1m2 20v4m0-24v1m14 25v1m0-10v1m8 0v8m4-28v1m6 15v11m2-6v2m10-31v1m4 2v1m4-1v1m4-1v1m12 0v1m8-1v1"/>
<path stroke="#00e2f9" d="M472 99v1m8-21v1m18-9v1m6-9v1m8-28v1m2 44v1m0-21v1m0-33v1m16 14v1m332 25v1m2-2v1m18 28v2m0-9v1m26 6v2m0-9v1m0-20v1m12 18v1m4-19v1m16 24v2m2-1v1m0-29v1m4 27v1m0-8v1m10 6v1m0-8v1m22-19v1m2 16v1m8 6v2m0-8v1m0-18v1m4 0v1m14-1v1m4 22v1m10-25v1m2 0v1m10-1v1m18 16v6m10-5v3m22-3v3m4 1v2m0-9v1m0-19v1m2 23v2m0-6v1m8-20v1m4 19v4m16 0v1m0-7v1m4 5v1m0-8v1m0-19v1m8-1v1m10 25v1m6-1v1m30-26v1m46 16v7m0-26v1m2 20v6m0-27v1m10 25v1m0-7v1m6 6v1m16-27v1m14 25v1m0-29v1m2 20v4m0-25v1m2-2v1m10 0v1m2 27v1m0-11v1m18 7v2m0-8v2m2-1v6m2-25v1m2-2v1m16 26v1m0-27v1m6-4v1m2-3v1m2 29v1m0-13v1m2 7v5m0-11v4m2-6v12m2-33v1m8 0v1m8 19v12m8-32v1"/>
<path stroke="#0ef7e9" d="M480 99v1m10-1v1m2-29v1m20-43v1m18 69v1m12-71v1m320 59v7m20-6v1m6-21v1m22 1v1m12 0v1m56 17v1m16 2v5m12-4v4m42-23v1m2 22v1m0-23v1m10 19v2m0-7v2m10 0v4m12-1v2m0-8v3m0-20v1m6 24v1m12-2v2m0-7v1m2-19v1m10-2v1m4 24v1m0-26v1m4 24v1m10-26v1m14-3v1m76 25v1m0-9v1m2 8v1m0-8v1m6-20v1m4 25v1m0-27v1m12-1v1m2 18v6m4-25v1m20 22v3m0-10v3m8-1v7m10-27v1m10 0v1m4 26v1m2-2v2m0-9v1m2 2v2m22-5v6m6 2v1m0-31v1m2 29v1m2-2v1m0-14v1m0-19v1m18 30v2m0-15v1m4-20v1m6 0v1"/>
<path stroke="#1fffd8" d="M490 63v1m2 18v1m12 16v1m4-68v2m26-4v1m12-1v1m316 65v3m0-13v3m24-18v1m64 1v1m2 20v1m14-5v9m0-25v1m22 16v1m6 7v1m4-3v3m0-24v1m8 22v1m0-6v1m54 4v1m10-2v2m0-7v1m0-19v1m12 23v1m16-26v1m16-1v1m10-1v1m8 0v1m6-3v1m2-1v1m28 1v1m16 20v2m2-23v1m2-2v1m4-1v1m8-1v1m20 24v1m6-7v5m2-3v1m10-23v1m2 19v6m6-1v2m0-9v1m2 3v1m14-3v5m8 1v1m8-2v1m0-10v2m10 2v5m10-6v6m2-6v1m6 3v3m0-8v3m8-2v5m0-24v1m2-1v1m4 0v1m8 22v2m0-10v2m8-4v1m0-20v1m2 30v1m2-16v1m6 3v8m2-10v11m8-31v1m4 19v11m2-30v1m12-1v1m2-1v1m2 19v10"/>
<path stroke="#30ffc7" d="M490 70v1m8 25v4m0-18v1m14 16v1m0-65v1m2 0v1m16 59v3m0-72v1m4 71v1m0-57v1m8 53v3m4-38v1m316 36v1m26-12v1m18-17v1m14 0v1m18-1v1m2-1v1m6-2v1m6 0v1m4 0v1m10 24v1m0-11v1m14-15v1m2-1v1m8 0v1m4-1v1m16 0v1m6-1v1m4 16v5m2-5v2m8-20v1m2 19v3m6-22v1m10 15v6m6-22v1m6-1v1m28-3v1m20-1v1m30 12v1m4-17v1m8-2v1m12 2v1m4 0v1m10-1v1m8 22v2m0-5v1m0-21v1m4 17v5m14-5v5m2-24v1m20 20v3m0-25v1m2 24v2m0-8v1m2 3v3m0-7v3m6-21v1m6 24v1m2-27v1m4-1v1m2 22v3m0-7v3m14 3v1m0-8v2m2-21v1m4 16v1m10 9v1m0-29v1m2 20v5m4-25v1m4 25v2m0-8v1m2-21v1m8 25v1m0-9v2m2-19v1m6 25v1m2-9v1m6 5v2m0-9v2m4-19v1m2 20v2m8 3v1m18-4v3m0-14v3m0-24v1m2 32v2m0-15v2m2-19v1m4-1v1m4-1v1m2 29v2m0-15v2m18 11v2m0-14v2m0-19v1"/>
<path stroke="#41ffb6" d="M472 90v1m0-14v1m14 17v4m4-3v3m2 0v1m12-4v3m4 0v1m4-4v3m0-17v1m0-53v1m2 64v5m20-4v3m8-55v1m0-15v1m4 68v1m316-29v1m20 0v1m2-1v1m4-2v1m18 19v1m18-18v1m18-3v1m18 19v7m0-25v1m18 0v1m10 0v1m4 0v1m14-1v1m14 21v1m0-24v1m2 19v3m0-7v2m0-17v1m10 21v1m0-5v1m0-19v1m2 0v1m10-1v1m4 20v1m0-8v1m6 2v4m32-25v1m10 0v1m4-2v1m28-1v1m18-3v1m30 20v5m10-4v5m2-1v1m0-8v2m14 5v2m0-8v1m0-19v1m4-2v1m18 24v2m0-6v1m4 4v1m0-9v1m12-18v1m4 19v3m4 2v1m0-27v1m14 25v1m0-28v1m14-2v1m4 25v2m0-9v2m0-20v1m2-1v1m6 18v1m10 7v1m4-26v1m2-1v1m4-2v1m6 25v1m0-11v1m6 6v3m0-8v3m8-22v1m2-2v1m2-3v1m8-4v1m6 32v1m2-1v1m12-1v1m2-14v11m2-30v1m6 0v1m4 18v10m4 2v1"/>
<path stroke="#51ffa5" d="M486 99v1m0-19v1m6 14v3m6-34v1m8 33v1m2-34v1m4-5v1m352 28v6m0-27v1m46 2v1m12 0v1m18 15v1m20 8v1m0-9v1m22 1v6m8-6v6m32 0v1m0-9v1m12 1v5m14-21v1m6 21v1m28-25v1m6 16v1m12-1v1m16-18v1m4-2v1m32-4v1m2 0v1m20 2v1m2 22v2m0-9v2m10 6v1m0-7v1m2 5v1m16-7v4m10-3v4m8-25v1m4-1v1m18 23v2m0-7v2m10 1v2m14-25v1m2-1v1m2-2v1m4 20v4m4 3v1m0-11v1m10 4v4m30 1v1m0-10v1m4-17v1m10 10v1m14-19v1m8-1v1m4-1v1m2 29v2m0-15v2m4-18v1m8 28v2m0-14v2"/>
<path stroke="#62ff95" d="M490 64v1m2-1v1m12 3v1m2-2v1m2 27v4m0-17v1m4-49v1m0-4v1m2-2v1m16-3v1m16 69v1m318-2v2m0-10v2m20 1v6m24-25v1m30 0v1m12 18v5m16-23v1m16 23v1m8-1v1m0-8v1m8-16v1m18 13v1m18 6v1m0-7v1m10 0v6m6-21v1m20 13v1m0-17v1m32-1v1m6 15v1m4-18v1m2-1v1m10-1v1m6-1v1m8-2v1m2 14v1m64 7v2m0-8v2m10 5v1m0-6v1m0-20v1m6-2v1m8 0v1m16 24v1m4-9v1m2-18v1m4 22v2m0-6v2m0-21v1m18 19v2m4 0v3m0-10v3m12-20v1m2 25v2m0-7v1m16-20v1m18 15v1m10-21v1m2-2v1m2-2v1m8-4v1m8 20v12m8 1v1m0-17v1m0-16v1m4 16v13m8 1v1m0-16v1m0-17v1m2-1v1"/>
<path stroke="#73ff84" d="M486 65v1m4 3v1m16 26v3m6-67v2m22 52v1m8-56v1m4 56v1m318 10v1m20-2v1m0-9v2m2-20v1m20 0v1m32 19v1m2-20v1m6-2v1m4 24v2m0-8v1m0-19v1m2-1v1m38 2v1m2 16v5m0-21v1m2-2v1m16 0v1m20-2v1m4 21v1m0-9v1m10 7v1m0-8v1m10-15v1m6-1v1m28-3v1m10-2v1m30-1v1m4 0v1m10-4v1m2-1v1m24 2v1m16 17v1m2-19v1m2-2v1m4-1v1m12 23v1m10-1v1m18-26v1m6-1v1m16 24v1m18-4v3m0-8v3m4 5v1m2-28v1m4 16v1m16-17v1m16 0v1m2-1v1m16 16v6m18-29v1m4 29v1m0-15v2m0-18v1m12 29v2m0-17v2m10 0v13"/>
<path stroke="#84ff73" d="M486 68v1m6 1v1m6-1v1m8 24v1m0-14v1m2-21v1m4 5v1m18-26v1m0-15v1m354 69v1m4-28v1m22 17v1m10-17v1m4 0v1m18-3v1m14 1v1m4-1v1m18 0v1m2-1v1m2-1v1m6 0v1m4 21v1m14-22v1m4 15v1m6-17v1m4-2v1m2 0v1m10-1v1m6-1v1m48-4v1m14-1v1m8 0v1m16 14v1m16-18v1m4 15v1m18-16v1m4 0v1m10-1v1m24-2v1m4 14v1m0-16v1m20 17v1m20-20v1m4-1v1m16-2v1m8 25v1m12-27v1m6-1v1m10 0v1m8-1v1m10-1v1m2 0v1m12 21v2m0-10v2m0-21v1m8-4v1m14 31v1m2-16v1m2 3v10m0-30v1m6-1v1m6 0v1m6 28v2m0-16v1m2-16v1"/>
<path stroke="#95ff62" d="M490 95v1m0-14v1m0-18v1m24 3v1m0-35v1m16 49v1m4-55v1m328 40v1m20 0v1m2-1v1m38 1v1m70 17v1m28-1v1m14-15v1m10-1v1m4-2v1m48-3v1m20 14v1m4-17v1m26-3v1m4-2v1m34 3v1m18 14v1m4-18v1m18-1v1m10 0v1m6-1v1m2-2v1m4-1v1m26-3v1m8 0v1m2-1v1m8 18v1m14-18v1m24-3v1m2 11v1m0-14v1m2 26v1m16-32v1m8-1v1m2 29v1m0-13v2m2-20v1m6 0v1m4 16v12"/>
<path stroke="#a5ff51" d="M490 68v1m2 26v1m12-14v1m10-21v1m16-33v1m4 11v1m8 44v1m320-3v1m2-15v1m46 2v1m12 13v1m16-14v1m28 0v1m94 14v1m22-16v1m20 13v1m14-15v1m8-1v1m14-2v1m12 12v1m4-16v1m20 15v1m0-14v1m28-2v1m20-2v1m16 14v1m24-17v1m8-1v1m6-2v1m12 0v1m14 1v1m4 14v1m18-16v1m12-6v1m2-2v1m8-4v1m4 2v1m8 29v1m4-31v1m8 28v1m0-15v2m6-17v1"/>
<path stroke="#b6ff41" d="M490 66v2m8-2v1m8-3v1m8-34v1m32-1v1m362 58v1m0-17v1m34 16v1m0-18v1m4-1v1m4 0v1m2-1v1m30 16v1m8-15v1m2 0v1m2-2v1m4-1v1m12 0v1m20-2v1m20 0v1m4 14v1m16-18v1m18-1v1m10-2v1m4 0v1m10-2v1m2-1v1m6 13v1m8-15v1m2-1v1m22-5v1m74 1v1m8 17v1m8-3v1m26-18v1m2 14v1m6-1v1m30-14v1m28-5v1m20-3v1m10 18v9m6 2v1m4-31v1"/>
<path stroke="#c7ff30" d="M480 80v1m6 13v1m6-30v1m12-2v1m8-2v1m2 18v1m0-49v1m16-4v1m356 41v1m2-1v1m18 0v1m14 0v1m4 0v1m16-2v1m16 0v1m22 0v1m2-1v1m2-1v1m6 0v1m6 14v1m22-15v1m4-2v1m2 0v1m16-1v1m16-1v1m6-1v1m26-4v1m22 0v1m24-1v1m10-4v1m2-1v1m8 11v1m10-11v1m6 0v1m18-1v1m2-2v1m26-2v1m12 15v1m2-17v1m4-1v1m6-1v1m12-1v1m4-1v1m24-3v1m20 0v1m2 0v1m8-1v1m6-1v1m2-1v1m16-5v1m8-4v1m18 0v1m2-1v1m4 27v2m0-13v2m0-19v1m2 0v1m4-1v1m8-1v1"/>
<path stroke="#d8ff1f" d="M492 69v1m6-1v1m6 25v1m2-63v1m8-2v1m350 55v1m86 2v1m10-16v1m46 2v1m26-1v1m2 0v1m14-2v1m48-3v1m4-2v1m12 13v1m8-15v1m10 12v1m10-15v1m26 15v1m0-15v1m10-1v1m16 11v1m0-14v1m8-1v1m20-3v1m28 0v1m16-2v1m26-1v1m28 0v1m2 0v1m8-3v1m18-8v1m4 18v12m6-29v1m8 29v1m0-15v1"/>
<path stroke="#e9ff0e" d="M480 94v1m12-12v1m20-17v1m2-35v1m348 39v1m20 0v1m2-1v1m26 0v1m12 0v1m16-1v1m92 2v1m14 0v1m38-4v1m32 12v1m2-14v1m12-1v1m10-2v1m24 14v1m22-15v1m20-2v1m2-2v1m28 0v1m8-2v1m2-1v1m28-3v1m8 0v1m2-1v1m2-1v1m46-2v1m8-4v1m10 12v1m0-15v1m2 28v1m0-14v1m0-16v1m12-1v1m14-1v1"/>
<path stroke="#f9f300" d="M492 66v1m6 16v1m0-17v2m6-2v1m2-2v1m2-2v1m22-24v1m4-11v1m8-1v1m400 42v1m4-1v1m4 0v1m16 0v1m26 2v1m6-2v1m72-2v1m16 11v1m2-13v1m10-2v1m14-1v1m2-1v1m10-1v1m6-1v1m16-4v1m4-2v1m24 3v1m48-3v1m2-1v1m16 16v1m0-17v1m6-2v1m8 16v1m10-4v1m6-16v1m6-2v1m12 0v1m14 15v1m2-15v1m32-6v1m14 27v1m4-30v1m20-1v1"/>
<path stroke="#ffdf00" d="M472 78v1m14-13v1m6 0v2m16-6v1m4 19v1m2-16v1m16-37v1m4 8v1m330 30v1m20 16v1m4-16v1m18 0v1m2-1v1m12 0v1m4 0v1m16-2v1m12-1v1m4 0v1m22 0v1m2-1v1m8 0v1m2-1v1m4-1v1m16 0v1m6-1v1m4-2v1m2 0v1m28-1v1m4-1v1m6-1v1m26-4v1m16 0v1m30-1v1m20-6v1m2 0v1m34 2v1m14-2v1m18 12v1m30 1v1m12-18v1m6-1v1m34 1v1m4-1v1m2-1v1m16-1v1m8-5v1m2-1v1m6-4v1m6 14v1m4-1v1m6-15v1m2-1v1m2-1v1m4-1v1m2 0v1m12-1v1"/>
<path stroke="#ffcc00" d="M486 82v1m0-16v1m20-3v1m6-2v1m2-2v1m28-21v1m344 46v1m0-17v1m74 2v1m22 0v1m24 1v1m26-1v1m6-1v1m10-1v1m52-4v1m8 0v1m12-2v1m12 12v1m6-14v1m4-3v1m20 1v1m6 0v1m8-1v1m10-1v1m28 13v1m12-18v1m2 0v1m20-1v1m2-1v1m14-2v1m14-2v1m22 1v1m14-1v1m2-1v1m22 7v1m8-17v1m24 2v1"/>
<path stroke="#ffb900" d="M504 65v1m4 17v1m0-20v1m4 0v2m30 29v1m368-21v1m12 0v1m2 11v1m14-13v1m92 2v1m4 0v1m48-4v1m14-1v1m20-1v1m12 12v1m0-14v1m16-4v1m22 2v1m26-2v1m8-1v1m14-2v1m18-1v1m6-1v1m6 14v1m10-16v1m8 13v1m36-16v1m22 1v1m8-3v1m20-6v1m2 0v1m4-1v1m8-1v1m14 11v1m2 0v1"/>
<path stroke="#ffa600" d="M504 66v1m30 20v1m12 1v1m316-16v1m20 0v1m2-1v1m58 0v1m4-1v1m4 0v1m10 12v1m6-13v1m26 2v1m6-2v1m8 12v1m14-14v1m12 13v1m6-2v1m6-13v1m6 10v1m20-14v1m18-1v1m36-2v1m16-3v1m2 12v1m12-2v1m14 1v1m16-13v1m22 14v1m0-18v1m14-2v1m22 0v1m30 13v1m0-17v1m8 0v1m2-1v1m2-1v1m6-1v1m18 1v1m10-2v1m12-3v1m6-3v1m2-2v1m36-1v1m2-1v1"/>
<path stroke="#ff9200" d="M506 83v1m28-44v1m0-8v1m12-2v1m342 42v1m18 0v1m14 0v1m4 0v1m16-2v1m12-1v1m26 1v1m2-1v1m8 0v1m2-1v1m4-1v1m16 0v1m6-1v1m6-1v1m8 10v1m20-12v1m4-1v1m6-1v1m26-4v1m12-1v1m14-1v1m2-1v1m16-1v1m16-4v1m28 2v1m26 10v1m4-13v1m18-2v1m12 0v1m36-3v1m6-2v1m12 0v1m16 1v1m14 12v1m10-3v1m4-16v1m8-4v1m6-2v1m10 1v1m4-1v1m4-1v1m2 0v1m12-1v1"/>
<path stroke="#ff7f00" d="M490 83v1m8 11v1m16-29v1m16 18v1m0-46v1m0-9v1m12 54v1m0-56v1m4-1v14m318 26v1m44 2v1m48 1v1m50 2v1m26-1v1m64 8v1m4-13v1m2 0v1m26-1v1m4-1v1m6-2v1m4-3v1m20 1v1m26-1v1m36-3v1m8 14v1m8-15v1m4-2v1m2-1v1m22-2v1m32 1v1m4 12v1m20-14v1m8 10v1m2-16v1m24-3v1m12 0v1"/>
<path stroke="#ff6c00" d="M504 83v1m10-20v1m16 30v1m16 1v1m0-51v1m340 27v1m36 2v1m16-1v1m22-1v1m22 0v1m48 1v1m4 0v1m4-2v1m10-1v1m34 8v1m14-12v1m12-1v1m8-1v1m4-2v1m30-5v1m2-1v1m2 0v1m14 3v1m8-1v1m10-1v1m16-3v1m20 13v1m4-16v1m2 13v1m0-14v1m18 12v1m2-14v1m2-1v1m12-3v1m2 0v1m14-2v1m20 13v1m4-13v1m4-1v1m8-1v1m2-1v1m34-6v1m4-1v1m8-1v1"/>
<path stroke="#ff5800" d="M534 34v1m350 41v1m26 0v1m14 1v1m18-3v1m4 13v1m4-14v1m6 12v1m10-13v1m26 2v1m6-2v1m22-1v1m28 9v1m34-13v1m6 0v1m10 10v1m26-13v1m20-4v1m2 12v1m20-11v1m66-3v1m6-1v1m34-3v1m36 2v1m8 10v1m12-14v1m8-4v1m2-2v1m10-2v1m8 0v1m8-1v1m12-1v1"/>
<path stroke="#ff4500" d="M480 81v1m32 13v1m2-13v1m0-19v2m20 28v1m0-57v1m328 35v1m20 0v1m6-1v1m32 1v1m26-2v1m6 0v1m28 1v1m8 0v1m2-1v1m4-1v1m16 0v1m6-1v1m6 7v1m0-9v1m22-1v1m10-1v1m16-3v1m16-2v1m12-1v1m14-1v1m2-1v1m26-3v1m44 1v1m8-2v1m8-1v1m6-2v1m8-1v1m40-1v1m28-2v1m2-1v1m4-1v1m2-1v1m8-1v1m20 0v1m2 0v1m10-4v1m2-2v1m8-4v1m6-2v1m14 1v1m6 0v1m8-2v1m4 0v1"/>
<path stroke="#ff3200" d="M530 40v1m0-7v1m376 42v1m14 12v1m20-13v1m16 0v1m22 0v1m2 9v1m10 0v1m42-10v1m18-1v1m10-1v1m42-3v1m26-1v1m2-2v1m2 0v1m6-2v1m8-4v1m28 2v1m12 12v1m18-15v1m16-3v1m2 0v1m20-1v1m28-2v1m8 11v1m2-13v1m4 11v1m20-11v1m10 9v1m44-17v1m2 10v1m10-11v1"/>
<path stroke="#ff1f00" d="M492 84v1m42-47v1m0-4v1m8-2v1m4 26v1m318 12v1m18 14v1m4-14v1m22 0v1m14 1v1m16-1v1m4-2v1m18 0v1m6 8v1m12 1v1m4-11v1m16 15v1m8-15v1m24-1v1m8-1v1m10-1v1m52-4v1m8 0v1m8-1v1m4-2v1m22-3v1m20 1v1m26-1v1m36-3v1m10 0v1m30-2v1m4-2v1m8-2v1m4 12v1m20-11v1m24-1v1m10-5v1m16-2v1m4-1v1m8 8v1m0-10v1m4 8v1m8 0v1"/>
<path stroke="#f60b00" d="M498 84v1m16 9v1m20-59v2m8 4v1m368 35v1m14 1v1m26-2v1m2 13v1m14-14v1m22 9v1m4-8v1m28-2v1m14 0v1m48-4v1m14-1v1m28-1v1m44-1v1m8-1v1m10-1v1m16-3v1m26-1v1m12-1v1m4-2v1m2-1v1m2 0v1m30-3v1m22 14v1m2-14v1m4-1v1m2 0v1m6-2v1m2-1v1m20 7v1m0-13v1m2-2v1m2 9v1m6-13v1m2 0v1m8 0v1m2 11v1m6-13v1m12-1v1"/>
<path stroke="#de0000" d="M472 79v1m40 4v1m18-46v1m0-5v1m354 41v1m4 9v1m0-11v1m32 1v1m26-2v1m6 0v1m28 1v1m10 0v1m8-1v1m12 0v1m34-1v1m10-1v1m16-3v1m16-2v1m2 0v1m26-2v1m14 0v1m10 5v1m12-13v1m2-1v1m2 0v1m72 0v1m6 0v1m6-1v1m12-1v1m12-3v1m6 11v1m4-13v1m36 13v1m20-14v1m2-2v1m2-2v1m8-4v1m20 0v1m6 0v1m8-2v1"/>
<path stroke="#c60000" d="M472 89v1m14-7v1m56-49v1m320 40v1m20 0v1m24 12v1m0-13v1m34 0v1m16 0v1m22 0v1m10 0v1m6-1v1m22 0v1m6-1v1m38-1v1m38-4v1m14-1v1m26-1v1m6-4v1m22 2v1m10 9v1m8-11v1m4 9v1m4-12v1m8-1v1m6-2v1m16-1v1m60-2v1m2-1v1m4 12v1m0-14v1m2-1v1m28 0v1m2 10v1m0-11v1m38-7v1m20 0v1"/>
<path stroke="#af0000" d="M508 84v1m22-47v1m0-3v1m16 11v1m376 31v1m16-1v1m2 8v1m2-11v1m50 4v1m14-2v1m24-1v1m2-1v1m16-1v1m2-1v1m38 7v1m12-1v1m0-12v1m2 0v1m14-1v1m4-2v1m10-1v1m2 0v1m8-4v1m2-1v1m20 1v1m12-1v1m14-1v1m54-3v1m12-1v1m16-2v1m10-1v1m18-1v1m2 1v1m34 4v1m12-13v1m4 1v1m4-1v1m2-1v1m6-1v1m8-1v1"/>
<path stroke="#970000" d="M508 94v1m22-58v1m4 50v1m8-53v1m4 53v1m318-16v1m22 1v1m22 0v1m2 0v1m14 1v1m26-2v1m10-1v1m6 0v1m16-1v1m34 8v1m4-8v1m18-1v1m6 7v1m26-1v1m26-11v1m12 9v1m0-11v1m16-1v1m16 6v1m6-12v1m58 1v1m10-2v1m34 11v1m0-12v1m16-2v1m4-2v1m8-2v1m2 0v1m26 1v1m4 0v1m16 8v1m0-11v1m10-5v1m2-1v1m12-3v1m12 0v1m4-1v1m12-1v1"/>
<path stroke="#800000" d="M472 80v9m8-7v12m6-10v10m4-10v11m2-10v10m6-10v10m6-11v11m2-11v11m2-10v9m4-9v10m2-11v10m16-7v8m4-6v6m8-6v7m0-59v5m4 49v6m0-48v12m316 16v8m2-9v12m18-10v11m2-11v11m2-11v12m2-12v9m18-8v11m2-11v11m2-10v10m10-10v10m2-9v7m2-6v7m14-8v12m2-13v9m2-9v11m4-12v12m4-10v10m2-11v13m4-12v10m4-10v9m6-8v6m12-6v8m2-8v8m2-8v10m6-9v7m2-7v8m2-6v8m2-10v10m4-10v13m8-12v9m4-9v10m6-10v6m4-6v9m2-9v6m8-6v8m2-8v10m2-10v7m4-7v9m6-9v7m4-7v7m2-7v8m4-8v10m6-10v7m10-9v9m12-10v9m4-9v9m2-8v9m8-9v8m2-9v10m2-10v10m2-9v8m6-8v9m4-10v9m2-9v9m2-8v9m4-10v9m4-8v9m4-9v9m2-10v8m2-7v8m6-9v6m2-8v9m2-9v10m2-11v12m2-12v11m4-13v12m2-12v10m2-9v11m8-7v10m4-10v10m2-10v9m6-9v8m2-8v9m8-9v13m2-13v11m2-11v9m4-10v9m8-9v9m2-10v12m2-11v10m2-11v14m8-14v13m6-15v12m2-10v12m2-13v15m2-15v13m2-12v11m4-11v12m2-12v13m4-13v10m2-10v13m2-13v11m2-12v13m2-13v12m2-10v10m2-11v12m4-12v13m8-15v13m2-11v10m4-11v10m2-10v10m2-11v13m4-13v11m2-10v10m2-10v10m2-10v11m2-11v10m4-10v12m2-12v14m8-14v11m2-9v11m2-12v11m2-10v10m2-11v11m2-9v9m6-11v9m2-9v10m2-10v11m2-10v9m4-9v9m4-11v10m2-11v8m2-9v12m2-12v8m2-8v10m2-12v10m2-11v10m6-10v11m2-10v9m2-8v9m4-9v9m2-9v9m2-10v11m2-10v8m2-8v7m2-7v10m2-10v7m4-7v9m4-10v9m2-8v8m2-8v9"/>
</g>
<g transform="translate(82.5 541.800) scale(1 4.1080)" fill="none" stroke-width="1.02" shape-rendering="crispEdges">
<path stroke="#e8e8ff" d="M432 63v1m92 10v1m12 2v1"/>
<path stroke="#b4b4ff" d="M432 64v2m92 9v1m12 2v1m3-1v2m95-22v1m2-2v1m81 7v1m15-1v1m58-1v1m56 0v1m51 0v1m88 3v1m87-3v1m38 0v1m8-1v1m62 0v1"/>
<path stroke="#8080ff" d="M432 66v3m92 7v2m12 1v2m3-1v1m51-46v1m6 2v1m35 18v1m29 3v1m12 0v1m18 1v1m40 1v1m5-1v1m25-1v1m58-1v1m2-2v1m10-1v1m7-1v1m6 0v1m49 1v1m2-2v1m10-1v1m23 2v1m73 1v1m24-1v1m17-1v1m52-3v1m90-1v1m75-3v1m122-6v1"/>
<path stroke="#5050ff" d="M432 69v2m92 7v1m12 2v1m3-1v2m78-32v1m34 9v1m14 0v1m1-1v1m27 1v1m8-2v1m62 2v1m17-1v1m58-1v1m171 6v1m6-1v1m12-1v1m48-4v1m6-1v1m9 0v1m71-2v1m100-2v1"/>
<path stroke="#1a1aff" d="M524 79v1m12 2v1m89-28v1m3 1v1m80 6v1m34 1v1m41-1v1m7-1v1m32-1v1m12 0v1m7-1v1m60 0v1m36 2v1m32-2v1m34 2v1m62-2v1m13-2v1"/>
<path stroke="#0000f6" d="M24 43v1m9-1v1m1-1v1m39 1v1m1-1v1m3-3v1m1-1v1m1-1v1m1-1v1m3-2v1m1-1v1m17 0v1m21 1v1m3-5v1m12 1v1m1-1v1m21-4v1m13-6v1m1-1v1m46-13v1m1-1v1m12 0v1m1-1v1m128 63v6m0-22v8m3-54v1m1-1v1m4 28v11m10-42v1m1 29v14m7-45v1m6 21v19m39 7v1m92 8v1m12 2v1m0-38v1m3 36v1m97-1v15m0-40v1m70 5v1m11 1v1m113-1v1m16 0v1m48 0v1m3-1v1m4 23v5m84-25v1m15 0v1m72-4v1m21 0v1m17-1v1m8-1v1m62 0v1"/>
<path stroke="#0000ff" d="M41 44v1m15-1v1m1-1v1m1-1v1m3-5v1m1-1v1m1-1v1m27 3v1m41-2v1m1-1v1m1-1v1m1-1v1m1-1v1m14-5v1m1-1v1m1-1v1m1-1v1m1-1v1m1 2v1m1-1v1m5-5v1m6-1v1m1-1v1m1-1v1m6-6v1m1-1v1m2-1v1m1-1v1m51-12v1m1-1v1m1-1v1m89 8v1m19-3v1m12-1v1m8 0v1m2 63v3m0-40v15m8-6v6m3-17v15m8-2v3m2-49v1m1-1v1m1-1v1m9 41v6m0-26v1m3-1v25m3-25v25m2-45v1m3-2v1m1-1v1m4 19v25m3-25v30m127 11v1m95-26v1m2 38v2m24-38v1m72 3v1m28 0v1m60-2v1m17-1v1m6 0v1m49 1v1m9 27v2m0-9v2m123-19v1m17-1v1m34-3v1m108-1v1"/>
<path stroke="#0012ff" d="M0 44v1m16-2v1m14 1v1m1-1v1m1-1v1m10-3v1m1-1v1m7-2v1m61 0v1m1-1v1m44-1v1m1-1v1m30-15v1m2-1v1m1-1v1m3-3v1m1-1v1m22-3v1m1-1v1m1-1v1m14-1v1m1-1v1m8-5v1m80 9v1m1-1v1m1-1v1m10-4v1m14 0v1m1-1v1m1-1v1m1-1v1m10 27v10m1 30v2m4-44v14m1-43v1m1-1v1m1-1v1m1 45v4m3-6v4m6-19v13m2 3v3m13-4v3m1-29v24m2 1v10m3-10v5m0-31v1m4-1v29m1-29v29m2-29v25m0-44v1m1-1v1m1-1v1m1 43v4m0-48v1m3 48v18m20-19v1m92 8v1m0-56v1m12 57v1m0-58v1m3 57v1m31-58v1m5-2v1m15 8v1m6 2v1m35 18v1m34 4v1m1-1v1m6-1v1m18 1v1m40 1v1m88-1v1m83 31v1m3-32v1m23 2v1m88 2v1m12-1v1m54-4v1m177-3v1m122-6v1"/>
<path stroke="#0027ff" d="M14 41v1m7 0v1m1-1v1m1-1v1m38-2v1m1-1v1m1-1v1m1-1v1m11 4v1m2-3v1m1-1v1m1-1v1m1-1v1m5-4v1m6 2v1m1-1v1m1-1v1m1-1v1m7-1v1m46-5v1m57-14v1m18 71v1m71-1v1m2-71v1m6 1v1m6-1v1m8-3v1m1-1v1m1-1v1m19-1v1m1-1v1m6 1v1m1 54v2m12-56v1m4 34v4m0-41v1m4 41v18m1-21v3m4 4v5m1-26v13m2 6v4m2-23v16m1-16v13m2-13v12m1 1v4m0-18v1m1-1v14m1 6v2m3-25v18m1-19v18m3-20v21m6 4v3m1-8v5m2 6v9m0-45v1m1 0v25m1-3v2m1 6v5m1-36v28m3 1v5m1-5v11m2-15v3m3 1v2m3 17v3m112-12v1m12 2v1m3-58v1m11 58v1m67-36v1m84 11v1m34 2v1m28-1v1m20-1v1m55-1v1m63 1v1m36 2v1m32-2v1m34 2v1m6-1v1m56-2v1m13-2v1m12-1v1m71-2v1m100-2v1"/>
<path stroke="#003cff" d="M5 42v1m13 0v1m6 0v1m25-2v1m2-2v1m1-1v1m1-1v1m1-1v1m1-1v1m79 1v1m1-1v1m1-1v1m1-1v1m1-1v1m11-5v1m1-1v1m1-1v1m1-1v1m1-1v1m1 2v1m1-1v1m3-3v1m1-1v1m1-3v1m6-1v1m1-1v1m1-1v1m4-4v1m1-1v1m1-3v1m1-1v1m1-1v1m1-1v1m1-1v1m1-1v1m1-1v1m1-1v1m1-1v1m14-7v1m23-5v1m1-1v1m1-1v1m7-2v1m1-1v1m1-1v1m1-1v1m1 2v1m1-1v1m8-5v1m1-1v1m40 76v1m8-75v1m1 2v1m1-1v1m1-1v1m1 0v1m19 0v1m1-1v1m15-3v1m1-1v1m1-1v1m13 59v11m0-19v6m16-15v2m2-46v1m1-1v1m1 62v4m0-38v16m1 0v3m1-20v11m2-11v12m1 14v4m0-59v1m1 41v3m0-45v1m1-1v1m1 51v4m0-28v1m0-29v1m1 28v14m0-43v1m1 44v6m1-9v5m1 10v3m1-19v4m1 1v3m1-7v4m0-47v1m1 50v3m0-26v1m0-31v1m1-1v1m2 45v7m1-8v6m3-5v6m6 1v2m1-5v4m0-53v1m1 19v31m1 13v4m1-23v6m1-7v20m0-44v22m1 13v4m1-12v8m2-36v28m1 6v4m1 2v7m1-47v26m1 2v3m2-31v29m1 2v3m0-35v1m3 51v4m0-56v1m1 0v26m111-11v1m49-7v1m52 3v1m3 1v1m8 0v1m15 2v1m42 2v1m15-1v1m34 1v1m38-1v1m10-1v1m32-1v1m12 0v1m7-1v1m53 23v6m0-29v1m3-1v1m103 4v1m72-4v1m38 0v1m8-1v1"/>
<path stroke="#0051ff" d="M6 41v1m1-1v1m7 0v1m1-1v1m27 1v1m1-1v1m18-3v1m1-1v1m1-1v1m1-1v1m17 1v1m9 0v1m5-3v1m5-1v1m11 0v1m1-1v1m1 0v1m1-1v1m1-3v1m6 2v1m2-5v1m1-1v1m1-1v1m6 1v1m1-1v1m1-1v1m50-12v1m2-3v1m1-2v1m1-1v1m1-1v1m1-1v1m1-1v1m1-3v1m1-1v1m1-1v1m1-1v1m1-1v1m15-3v1m15-1v1m41-10v1m1-1v1m35 13v1m1-1v1m1-1v1m1-1v1m1-1v1m2-3v1m1-1v1m4 69v1m5-1v1m26-23v3m16-7v3m1-20v1m3 37v4m0-71v1m1 47v3m0-51v1m1 38v3m1-14v19m1-7v6m1 12v5m0-36v1m1 16v2m1-18v17m1 10v5m1-18v7m1 1v6m0-57v1m1 46v5m0-52v1m1 59v5m0-17v9m1-12v3m0-20v1m1 20v3m1-6v4m1 3v2m1-28v15m1-16v15m1 9v8m1-10v6m3-5v5m0-33v1m5-3v29m1 4v3m1-4v4m1-6v11m1 6v4m1-21v6m0-38v1m1 44v4m0-49v1m1 39v6m1-10v7m2-15v5m1 5v6m1 3v4m1-25v4m1 1v3m1-34v28m1 1v4m1 1v2m0-54v1m3 72v1m1-30v6m111-33v1m12 2v1m0-18v1m3 16v1m11 20v21m156-22v1m11 1v1m103-1v1m10-1v1m64 30v1m0-8v1m91-19v1m39 0v1m51-3v1m18-1v1m25 22v2m62-24v1m3-2v1"/>
<path stroke="#0065ff" d="M41 45v1m5-5v1m1-1v1m3 1v1m6 1v1m1-1v1m1-1v1m7-3v1m17-1v1m1-1v1m1-1v1m46 0v1m14-2v1m1-1v1m1-3v1m1-1v1m1-1v1m8 2v1m1-1v1m40-18v1m8-3v1m11 0v1m1-1v1m1-1v1m56-7v1m52 9v1m1-2v1m7 69v1m10-26v3m15-46v1m1 44v3m2 20v1m2-2v1m0-44v1m1 22v3m1-12v2m0-44v1m1 46v9m0-56v1m1 45v6m0-52v1m1 62v4m1-21v2m1-3v5m1 10v4m1-15v8m1-1v6m0-35v1m1 23v5m0-29v1m1 36v4m0-40v19m1 0v3m1 1v4m1-6v4m1 1v3m1-16v6m1-7v6m0-50v1m1 60v6m0-67v1m1 56v6m0-63v1m3 56v6m3-40v24m0-48v1m1 23v22m1 6v8m1-1v2m1-2v4m0-42v1m1 42v5m1 8v1m0-4v2m1-17v6m1 5v4m1-7v4m1-7v5m1-48v29m0-49v1m1 52v5m0-58v1m1 63v5m1 2v3m1-24v3m1 1v2m1-8v6m1-1v5m1-2v3m4-7v5m19 5v14m0-26v1m92-47v1m26 1v1m25 22v1m15-16v1m61 47v12m9-6v1m0-29v1m72 3v1m105-1v1m6 0v1m3-1v1m46 1v1m2 28v1m10-31v1m23 22v5m0-25v1m88 2v1m26-2v1m40-3v1m37 24v2m0-6v2m262-30v1"/>
<path stroke="#007aff" d="M0 45v1m16-2v1m1-1v1m1-1v1m9-3v1m3 3v1m1-1v1m1-1v1m41-1v1m1-1v1m3-2v1m1-1v1m1-1v1m1-1v1m21-1v1m2-5v1m1-1v1m3 0v1m3-1v1m44 1v1m1-1v1m13-5v1m6-6v1m1-1v1m1-1v1m1-1v1m1-1v1m25-11v1m23 0v1m2-3v1m1-1v1m1-1v1m1-1v1m1 2v1m1-1v1m12-4v1m1-1v1m1-3v1m42 3v1m1-1v1m17 5v1m13-1v1m1-1v1m2 66v1m21-30v4m7-44v1m4 28v6m0-32v1m1-1v1m4 45v3m0-51v1m2 23v1m3 25v4m1-14v2m1 10v6m1-10v6m1 9v3m1-22v3m1-1v5m1 9v4m1-11v5m1 0v4m1-10v5m1 7v3m1-21v3m1 2v3m1-5v4m1 0v4m1-14v7m1-8v6m1 11v4m1 5v1m0-14v5m3-5v5m0-67v1m3 45v3m1-5v5m1 9v6m1-5v4m1-2v5m1 1v4m0-52v1m1 54v1m1-12v5m1 4v2m1 1v1m0-7v3m1-5v4m1-23v13m1-4v5m1 6v3m1 2v2m1-23v3m1 0v3m0-40v1m1 34v5m1-1v5m1-4v3m3 14v1m1-20v6m123-23v1m0-35v1m3 56v1m34-59v1m52 51v17m6-38v1m3 0v1m2 21v1m15 14v2m0-16v2m9 7v6m0-14v7m5-27v1m1-1v1m6-1v1m21 22v9m8-31v1m59 2v1m58-1v1m74 23v4m5-26v1m30 26v2m0-9v2m42-20v1m34 2v1m24-1v1m38-2v1m13-2v1m12-1v1m28 25v1m140-30v1"/>
<path stroke="#008fff" d="M3 43v1m1-1v1m1-1v1m28 0v1m1-1v1m1-1v1m7 0v1m1-1v1m18-3v1m1-1v1m1-1v1m1-1v1m11 55v1m16-55v1m1-1v1m1-1v1m22-2v1m3-4v1m4 4v1m16-2v1m11-5v1m1-1v1m1-1v1m1-1v1m1-1v1m7-2v1m9-4v1m2-1v1m1-1v1m1-1v1m10-4v1m2-3v1m1-2v1m1-1v1m1-1v1m1-1v1m1-1v1m1-3v1m1-1v1m1-1v1m1-1v1m1-1v1m1-1v1m8-2v1m7-5v1m1-1v1m2-1v1m5 0v1m1-1v1m1-1v1m1-1v1m12-2v1m6-2v1m1-1v1m1-1v1m1-1v1m1-1v1m22-6v1m1-1v1m1-1v1m27 11v1m19 0v1m19-3v1m1-1v1m1-1v1m4 0v1m1-1v1m4 34v5m3-40v1m1-1v1m1-1v1m1-1v1m5 34v8m1 26v1m4-18v4m0-30v1m3 18v14m1 10v1m1-15v4m0-35v1m1 18v2m1 14v5m1-9v6m1 6v2m0-72v1m1 50v2m0-26v1m0-28v1m1 54v5m0-60v1m1 67v3m0-71v1m1 61v5m0-40v1m0-28v1m1 65v4m1-9v4m1 6v1m0-45v1m1 25v3m1 2v5m1-6v4m1 0v4m1-11v6m1-8v5m1 10v3m0-47v1m1 40v4m0-46v1m3 41v3m3-21v3m1-3v6m0-34v1m1 42v5m1-6v4m0-48v1m1 46v4m1 5v1m0-5v3m2-6v3m1 3v1m0-76v1m1 72v3m0-76v1m1 71v3m0-75v1m1 61v6m1-5v5m1 4v3m0-56v1m1-1v1m1 36v3m1 0v3m1-3v5m1-1v5m0-49v1m1 42v4m4-3v5m0-49v1m19 41v1m107-21v1m0-36v1m31 21v1m26-12v1m21 12v1m8 43v2m0-21v2m26 19v1m9-2v2m30-16v14m0-32v1m3 29v3m0-15v3m37-19v1m5-1v1m28-1v1m20-1v1m55-1v1m54 27v3m0-10v3m2-22v1m7-1v1m26 28v1m10-27v1m66 21v4m6-24v1m63-4v1m3 21v2m15-3v4m20-24v1m8-1v1m43 19v4m0-25v1m22 20v5m78-27v1"/>
<path stroke="#00a4ff" d="M6 42v1m1-1v1m1-1v1m5 0v1m1-1v1m1-1v1m9 1v1m25-2v1m16-1v1m1-1v1m28 0v1m8-4v1m1-1v1m1-1v1m1-1v1m1-1v1m5 2v1m1-1v1m34-4v1m1-1v1m1-1v1m80-18v1m1-1v1m1-1v1m1-1v1m1 2v1m1-1v1m58 0v1m1-1v1m1-1v1m1 0v1m6 1v1m1-1v1m11 66v1m1-69v1m8 67v1m7-71v1m1-1v1m1-1v1m1-1v1m1-1v1m4 0v1m1-1v1m1-1v1m5 1v1m1 25v7m1-34v1m7-1v1m2 28v5m1 8v5m4-1v15m1-6v6m1 7v1m1-72v1m1 60v5m0-38v19m0-47v1m2 60v5m1-19v2m1 17v3m1-6v3m2-14v2m1 5v5m0-38v1m1 43v1m1-5v3m1 0v2m1-7v4m2-13v3m0-60v1m1 63v4m0-68v1m1 61v5m1-1v4m1-9v5m1-8v5m1 8v2m1-4v3m3-4v4m3-22v4m1-1v5m1 9v3m1-5v4m1-1v3m1 1v1m0-76v1m1-1v1m1 71v3m0-75v1m2 18v1m1 55v1m1-8v3m1-3v3m1 4v1m2-17v3m1 0v4m1 10v1m0-13v5m1 7v1m0-9v3m1-5v4m4-2v3m212 5v1m0-43v1m11 2v1m15 2v1m39 34v2m3-1v1m8-14v12m7-32v1m72 1v1m10-1v1m30-1v1m2-1v1m8-1v1m62 30v1m5-8v6m72-6v6m31-23v1m3 23v1m21-25v1m51 20v3m0-7v2m0-21v1m15 23v2m0-8v2m3-20v1m17 18v6m51-1v2m0-8v2m22 5v1m0-7v1"/>
<path stroke="#00b9ff" d="M17 45v1m1-1v1m2-3v1m1-1v1m1-1v1m1-1v1m2-1v1m1-1v1m1-1v1m1-1v1m13 2v1m4-5v1m1-1v1m1-1v1m1-1v1m2 1v1m1-2v1m1-1v1m1-1v1m1-1v1m1-1v1m6 0v1m1-1v1m1-1v1m1-1v1m11 2v1m15-2v1m10-3v1m23-2v1m1-1v1m1-1v1m1-1v1m1-1v1m4 1v1m1-1v1m22-1v1m1-1v1m1-1v1m1-1v1m1-4v1m1-1v1m15-7v1m1-1v1m1-1v1m1-1v1m1-1v1m19-9v1m4-3v1m1-1v1m1-1v1m2-1v1m1-1v1m1-1v1m1-1v1m2 0v1m1-3v1m1-1v1m1-1v1m1-1v1m1-1v1m1 1v1m1-1v1m1-1v1m21-5v1m6 1v1m1-1v1m8 73v1m19-79v1m1-1v1m12 4v1m1-1v1m1-1v1m1 0v1m1-1v1m21 71v1m4-70v1m1-1v1m1-1v1m2-1v1m9 68v1m10-1v1m13-17v6m2-29v9m1-4v4m0-10v1m1 18v6m1-3v14m1-63v1m2 59v7m0-33v11m0-45v1m1 59v4m3-2v3m1-69v1m1 65v3m0-69v1m1 48v2m0-25v1m1 42v2m1-5v4m2-16v3m1 7v3m2 2v3m1-73v1m1 68v2m0-71v1m1-1v1m1 58v5m1 3v3m0-44v1m1 39v3m0-70v1m1 69v2m0-74v1m1 67v4m0-72v1m1 64v5m2 4v1m3-1v1m3-19v3m1 1v5m1 7v3m0-55v1m1 50v3m1-1v2m3-1v1m4 0v1m0-6v4m1-4v4m2 1v1m1-15v4m0-47v1m1 46v4m1-1v3m0-53v1m1 51v4m1-5v4m4-3v4m19-65v1m92 7v1m15 2v1m51 27v26m27-18v16m11-37v1m6 22v15m26-33v1m30 18v1m3-18v1m8 31v1m0-14v1m5-20v1m36 1v1m92 0v1m3-2v1m4 0v1m51 1v1m5 26v1m0-9v2m7 0v4m0-26v1m65 27v2m0-9v1m16-18v1m42 19v4m14-23v1m34 23v1m6-27v1m9 25v1m20-2v2m0-9v1m51 7v1m19-26v1m3 24v1m0-27v1m197-8v1"/>
<path stroke="#00ceff" d="M0 46v1m56-1v1m1-1v1m1-1v1m7-2v1m1-1v1m1-1v1m10 0v1m1-1v1m1-1v1m2-2v1m1-2v1m1-1v1m1-1v1m1-3v1m2-1v1m8 1v1m1-1v1m1-1v1m2-1v1m8-2v1m1-1v1m1-1v1m1-1v1m3 2v1m1-1v1m14-2v1m1-1v1m1-1v1m14-2v1m1-1v1m4-3v1m1-1v1m1-1v1m1-1v1m1-1v1m7-2v1m6-2v1m1-1v1m1 0v1m16-9v1m1-1v1m1-2v1m1-1v1m1-1v1m1-1v1m1-1v1m34-6v1m1-1v1m1-1v1m8-3v1m13-3v1m19-5v1m1-1v1m1-1v1m1-1v1m7 1v1m26 10v1m1-1v1m1-1v1m1-1v1m1 66v1m0-68v1m2-3v1m1-1v1m4 53v5m9-57v1m1-1v1m1-1v1m1 48v13m1-63v1m1-2v1m10 50v18m14-10v10m0-21v5m2-14v3m0-13v1m0-28v1m1 36v2m1 13v9m0-59v1m1 60v4m0-21v3m0-47v1m3 23v8m1 30v3m0-67v1m3 64v2m2-2v2m1-20v2m0-53v1m1 25v1m0-27v1m1 69v1m0-45v1m0-27v1m2 56v4m1 6v3m4 0v1m2-8v3m1 3v2m1-3v3m0-46v1m1 44v1m1-3v2m0-46v1m1 41v3m0-46v1m0-28v1m1-1v1m1-1v1m6 58v3m1 3v4m2 5v1m3-57v1m4-1v1m1 55v1m1-1v1m0-57v1m3 46v4m1 0v4m1-2v3m1 0v1m1-2v2m0-58v1m4 56v1m111-32v1m0-40v1m12 1v1m34-2v1m5-2v1m15 69v2m0-29v1m0-34v1m6 30v28m21-1v3m0-22v3m17 17v2m0-19v2m31 6v7m1-9v10m6-31v1m29 33v1m16-32v1m18 18v11m83-29v1m28-1v1m51 29v1m0-29v1m7 24v3m0-10v3m23-19v1m42-1v1m34 2v1m12-1v1m12 21v2m0-7v1m0-18v1m38-2v1m7 19v2m6-4v6m0-25v1m12-1v1m3 19v3m87-4v5"/>
<path stroke="#00e2f9" d="M1 44v1m2-1v1m1-1v1m1-1v1m6-1v1m1-1v1m1-1v1m1-1v1m1-1v1m2 1v1m1-1v1m24-1v1m1-1v1m27-4v1m1-1v1m1-1v1m3 42v3m16-43v1m1-1v1m1-1v1m9-4v1m1-1v1m1-1v1m1-1v1m1-1v1m5 2v1m1-1v1m3-2v1m3-4v1m1-1v1m27 0v1m1-1v1m1-1v1m13-7v1m4-1v1m4 0v1m1-1v1m1-1v1m1-1v1m1-1v1m6-4v1m1-1v1m1-1v1m1-1v1m1-1v1m8-6v1m1-1v1m1-1v1m1-1v1m1-1v1m9-2v1m7-4v1m1-1v1m1-1v1m1-1v1m1-1v1m4-1v1m1-1v1m1-1v1m1-1v1m5-1v1m1-1v1m1-1v1m1-1v1m1-1v1m9-3v1m1-1v1m1-1v1m1-1v1m1-1v1m9-2v1m1-3v1m23 77v1m30-67v1m6 55v10m0-20v5m12 10v5m0-22v4m6-24v11m2-38v1m1-1v1m1-1v1m2 68v1m0-22v3m7 18v1m6-1v1m1-1v1m0-27v5m2-6v3m1-4v1m1 21v6m1-24v3m1-20v17m2-18v1m2-3v1m5 25v2m3 16v1m1-11v4m1 5v1m1-46v1m5 40v4m0-45v1m2 45v1m1-48v1m1 45v1m1-2v2m5-53v1m3 39v5m0-46v1m1 47v4m14-4v4m1 0v2m1-1v1m5-58v1m1 57v1m123-56v1m3-15v1m11 57v1m20-13v24m26-3v2m0-32v2m21 30v1m14-16v10m0-34v1m3 38v1m31-5v4m0-14v3m0-23v1m1 30v3m0-16v3m0-21v1m35 0v1m31 1v1m3 29v2m0-14v1m7 2v9m18-29v1m58 19v9m19-8v6m6-27v1m51 1v1m7-1v1m3 27v1m0-12v1m168 8v2m0-7v3m0-22v1m6 25v1m3-7v4m12 0v2m0-7v2m25-20v1m43-2v1m19 24v2m0-8v1"/>
<path stroke="#0ef7e9" d="M6 43v1m1-1v1m1-1v1m1-1v1m3 6v1m4-6v1m9-2v1m1-1v1m1-1v1m1-1v1m1-1v1m1 2v1m1-1v1m1-1v1m5-4v1m1-1v1m1-1v1m1-1v1m5-2v1m1-1v1m1-1v1m1-1v1m1 1v1m12-1v1m1-1v1m1-1v1m1-1v1m11 43v6m0-11v2m5-40v1m21-1v1m37-1v1m2-5v1m1-1v1m2-1v1m17-1v1m14-6v1m1-1v1m1-1v1m1-1v1m1-1v1m6-4v1m1-1v1m11-5v1m1-2v1m2-3v1m1-1v1m1-1v1m1-1v1m1-1v1m2-1v1m1-1v1m1-1v1m1 71v1m0-73v1m1-1v1m1 0v1m22 0v1m1-1v1m12-4v1m1-1v1m18-8v1m1-1v1m3 0v1m1-1v1m1-1v1m43 54v4m1 3v10m0-60v1m11 41v3m6-9v2m6 5v3m8-19v16m0-43v1m6 35v5m0-42v1m1 27v10m0-37v1m1 42v2m1-5v2m1-16v1m1 13v3m1 0v9m3 15v1m6-17v3m2 13v1m1-47v1m0-26v1m1 64v4m0-69v1m1-1v1m1-1v1m1-1v1m1 24v1m1-1v1m2 44v2m0-73v1m1-1v1m12 63v4m1 2v2m5-75v1m1 74v1m0-58v1m1-1v1m2 56v1m3-76v1m1-1v1m1 72v2m0-75v1m119 34v1m0-20v1m49 36v23m23-1v1m0-59v1m21 34v1m0-23v1m14 39v4m0-18v4m3-23v1m2-1v1m29 37v1m0-16v1m1 14v1m24-33v1m16 23v1m24-23v1m2 20v4m3-25v1m7 28v1m0-11v1m21-20v1m20-1v1m35 28v2m0-12v1m19 7v3m0-12v3m1 0v6m0-27v1m5 19v9m94-24v1m63 1v1m9 19v1m0-21v1m15-1v1m48 22v1m3-26v1m6 22v2m0-8v2m12 6v1m17-26v1m148-4v1m3 0v1"/>
<path stroke="#1fffd8" d="M24 46v1m17 0v1m9-3v1m15 0v1m1-1v1m1-1v1m8 48v2m0-14v1m0-34v1m25-6v1m23-2v1m1-1v1m1-1v1m1-1v1m1-1v1m22-2v1m1-1v1m1-1v1m1-1v1m1-1v1m1 2v1m1-1v1m1-1v1m1-1v1m4-9v1m4-1v1m3 3v1m18-10v1m1-1v1m1-1v1m1-1v1m1-1v1m21-7v1m1-1v1m1-1v1m1-1v1m1-1v1m1 0v1m1-1v1m1-1v1m9-2v1m1-1v1m1-1v1m1-1v1m1-1v1m4-4v1m2-1v1m1-1v1m1-1v1m9-4v1m1-1v1m1-1v1m3 77v1m13-80v1m1-1v1m19 6v1m1-1v1m1-1v1m1 0v1m1-1v1m3 53v9m1-60v1m1-1v1m1-1v1m1-1v1m2-1v1m1 1v1m1-1v1m12 38v3m0-43v1m1 59v8m0-23v5m4-26v12m4-12v8m3 35v1m0-30v4m1-18v12m2-38v1m1-1v1m1-1v1m1 39v2m0-16v1m0-27v1m1-1v1m4 0v1m1 40v3m0-44v1m8 43v9m0-26v1m1-28v1m1-1v1m1-1v1m1-1v1m1 27v12m0-40v1m1 27v9m1 1v4m1 4v3m1-6v2m0-42v1m2 32v5m1 12v10m0-61v1m2-1v1m2-5v1m1-1v1m1 25v1m0-27v1m1 24v1m0-26v1m1-1v1m1 56v4m4 7v2m2 0v1m2-72v1m1 70v1m0-72v1m1-1v1m5 70v1m6-75v1m3 69v3m1 1v1m3-58v1m4 56v1m5-1v1m2-75v1m4 73v1m115-17v1m0-55v1m12 23v1m3 0v1m11 44v1m0-35v1m23-13v1m2 24v22m21-34v1m29-9v1m6 39v2m0-21v1m20-16v1m55 27v6m0-14v7m2-24v1m24 26v4m0-12v4m10 9v1m48-31v1m30-1v1m2-1v1m8-1v1m7 29v1m1-4v3m0-12v3m5 8v1m0-12v2m3-1v10m46-26v1m93 2v1m24 21v2m0-5v2m32-20v1m40 22v1m0-26v1m12-1v1m90-1v1m197-8v1"/>
<path stroke="#30ffc7" d="M0 47v1m18-1v1m1-4v1m1-1v1m1-1v1m1-1v1m1-1v1m19 2v1m1-1v1m8-4v1m1-1v1m1-1v1m1-1v1m1-1v1m1 2v1m1-1v1m1-1v1m3-2v1m1-1v1m1-1v1m1-1v1m4-3v1m1-1v1m1-1v1m1-1v1m1-1v1m3 52v2m0-17v1m0-13v4m6-28v1m13-1v1m8-3v1m1-1v1m1-1v1m1-1v1m1-1v1m1-1v1m1-1v1m1-1v1m1-1v1m1 2v1m5-5v1m1-1v1m1-1v1m1-1v1m1-1v1m8 2v1m1-1v1m1-1v1m1-1v1m1-1v1m1-2v1m1-1v1m1-1v1m1-1v1m1-1v1m7-1v1m1-1v1m46-15v1m1-1v1m1-1v1m1-1v1m1-1v1m24-5v1m1-1v1m1-1v1m1-1v1m1-1v1m11-2v1m6-2v1m1-1v1m1-1v1m1-1v1m1-1v1m3-2v1m12 74v1m14-78v1m1-1v1m1-1v1m1-1v1m1-1v1m5 59v17m9-69v1m1-1v1m1 60v8m0-20v3m0-52v1m15 0v1m1-1v1m1-1v1m1-1v1m1-1v1m1 35v5m1 1v4m4-9v4m0-17v1m2-23v1m1-1v1m1 30v12m3-20v14m1-2v7m1 24v1m4-28v2m2 25v1m2-1v1m2-33v5m5 12v5m1-56v1m1-1v1m1 50v15m2-40v30m3-18v9m2-7v4m1 3v3m0-50v1m1 42v2m1-43v1m1 23v8m0-32v1m1 58v5m2 0v1m3-46v1m4 35v4m1 5v1m3-47v1m4 45v1m6-75v1m1-1v1m2 73v1m0-51v1m1-2v1m6 49v1m0-76v1m2-1v1m1-1v1m2 18v1m6-1v1m5-2v1m26-15v1m104 58v1m3-44v1m11 53v2m0-69v1m23 45v1m55 1v20m0-38v1m32 22v1m0-19v1m46 32v2m26-2v2m0-15v1m10 1v1m0-19v1m38-1v1m10 19v9m44-28v1m3-2v1m1 29v1m3-30v1m2 28v1m3-2v2m0-13v1m51-16v1m7-2v1m65 2v1m16 18v6m18-22v1m6 21v1m6-6v5m0-22v1m9 14v7m41-3v3m0-23v1m13-2v1m102-1v1"/>
<path stroke="#41ffb6" d="M1 45v1m1-1v1m1-1v1m1-1v1m1-1v1m6-1v1m1-1v1m1-1v1m1-1v1m1-1v1m2 1v1m8-3v1m1-1v1m1-1v1m1-1v1m1-1v1m9-1v1m1 53v1m0-55v1m1-1v1m4-2v1m1-1v1m1-1v1m1 6v1m0-8v1m1-1v1m21 4v1m4-3v1m1-1v1m1 26v2m0-7v1m2-23v1m1-1v1m1-1v1m3-3v1m1-1v1m1-1v1m6 1v1m1-1v1m1-1v1m1-1v1m2-3v1m1-1v1m1-1v1m1-1v1m1-1v1m13 1v1m1-1v1m1-1v1m1-2v1m6 0v1m1-1v1m18 51v1m6-56v1m1-1v1m1-1v1m10-2v1m1-1v1m1-1v1m9-5v1m1-1v1m1-1v1m1-1v1m1-1v1m1-2v1m1-1v1m1-1v1m1-1v1m1-1v1m6-4v1m1-1v1m13-8v1m1-1v1m1-1v1m1-1v1m1-1v1m1-1v1m2-1v1m1-1v1m1-1v1m1-1v1m1-1v1m2-1v1m1-1v1m1-1v1m1-1v1m1-1v1m1 0v1m1-1v1m1-1v1m11-2v1m1-1v1m1-1v1m1 1v1m1-1v1m12-4v1m8-4v1m1-3v1m1-1v1m5-4v1m1 0v1m1-1v1m1-1v1m1-1v1m1-1v1m3 0v1m1-1v1m1-1v1m2-1v1m10 57v3m11-6v3m9-46v1m1-1v1m1-1v1m1-1v1m1-1v1m1 0v1m6 20v12m1 2v4m1-42v1m1-1v1m1-1v1m1 40v4m0-45v1m1-1v1m3 44v10m0-31v1m1 26v6m2-56v1m1 42v6m0-49v1m1-2v1m4 42v2m6-18v9m1-36v1m1-1v1m1-1v1m1-1v1m1 57v10m0-19v4m2-27v1m2 1v9m1 21v10m2-17v10m1-12v10m2-13v3m1 3v6m1-11v1m6-24v1m0-23v1m5 19v1m1 40v4m0-69v1m1-1v1m1-1v1m5 23v1m3 45v1m0-47v1m2 45v1m1-73v1m1 71v1m2-75v1m1-1v1m1-1v1m3 73v1m4-56v1m1 54v1m1-1v1m0-58v1m1 56v1m9-59v1m1-1v1m4-1v1m5-1v1m19 57v1m92-61v1m15 59v1m34-71v1m2 23v1m15-15v1m38 58v1m0-22v1m6 1v1m38-14v1m21 0v1m13-1v1m11 1v1m13 17v11m60 0v1m0-11v1m28-19v1m16 20v4m12-25v1m48 1v1m7-1v1m26 1v1m10 18v6m48 0v1m30-1v1m0-7v1m9 5v1m3-23v1m14 15v6m24 0v1m0-5v1m7-22v1m3 0v1m15-1v1m28-1v1m65 15v1m75-1v8"/>
<path stroke="#51ffa5" d="M16 46v1m17-2v1m1-1v1m1-1v1m1-1v1m1-1v1m12 0v1m6 3v1m10 48v1m0-53v1m1-1v1m1-1v1m8 33v1m0-6v1m0-10v2m25-23v1m13 2v1m23 49v1m13-56v1m1-1v1m1-1v1m1-1v1m1-1v1m1 2v1m1-1v1m1-1v1m1-1v1m4-9v1m1-1v1m1-1v1m2-1v1m21-6v1m1-1v1m1-1v1m1-1v1m1 64v1m0-66v1m7-5v1m7-1v1m6-2v1m8 69v1m6-72v1m1-1v1m1-1v1m1-1v1m1-1v1m6-2v1m1-3v1m1-1v1m1-1v1m1-1v1m1-1v1m7 1v1m20-7v1m1-1v1m7 77v1m8-23v2m4 20v1m0-72v1m1-1v1m1-1v1m1 0v1m1 24v14m0-39v1m3 43v3m21-21v14m0-36v1m4 42v4m3-8v27m1-13v13m0-66v1m1 54v11m0-24v7m0-49v1m1-1v1m2 47v8m5-13v2m2-47v1m1-1v1m1-1v1m1 49v19m3-42v11m1 30v1m1-1v1m1-23v3m3-47v1m1 34v7m2 6v18m1-7v7m0-21v4m1 8v9m1-67v1m1 47v5m0-52v1m1 55v10m1-20v2m12 17v1m3-70v1m1-1v1m1 23v1m0-25v1m1-1v1m1-1v1m24-6v1m2 16v1m0-17v1m5-1v1m2 73v1m26-26v1m92 21v3m0-69v1m12 66v3m0-69v1m3 65v2m89 0v1m3-39v1m20 20v1m14-17v1m1-1v1m6 22v6m29-28v1m5 15v1m2 2v12m9-6v5m13 1v1m0-13v1m30-17v1m3 17v10m27 1v1m0-13v1m40-1v11m4-3v4m0-12v4m4-5v1m5-17v1m94 28v1m0-8v1m0-18v1m63 1v1m9-1v1m15-1v1m17 21v1m34-9v1m6-2v1m29-16v1m51-2v1m97 24v1m3-6v5m0-26v1"/>
<path stroke="#62ff95" d="M6 44v1m1-1v1m1-1v1m1-1v1m3 24v4m6-25v1m32 50v1m0-54v1m11 0v1m1-1v1m1-1v1m1 51v1m0-53v1m4-3v1m1-1v1m1-1v1m1-1v1m1-1v1m3 31v4m0-17v3m0-16v1m10 47v1m0-57v1m2-1v1m14 3v1m1-3v1m1-1v1m1-1v1m1-1v1m6 2v1m12-4v1m1-1v1m1-1v1m1-1v1m1-1v1m11 1v1m1-5v1m1-1v1m1-1v1m1-1v1m1-1v1m23-3v1m1-1v1m1 1v1m1-4v1m1-1v1m1-1v1m1-1v1m1-1v1m2 58v1m9-60v1m7-9v1m1-1v1m1-1v1m1-1v1m1-1v1m1-2v1m15-3v1m1-1v1m1-1v1m1-1v1m1-1v1m4-2v1m1-1v1m1-1v1m1-1v1m1-1v1m6 0v1m1-1v1m1 69v1m0-71v1m9-4v1m1-1v1m1-1v1m1-1v1m1-1v1m4-5v1m1-1v1m1-1v1m1-1v1m1-1v1m24 0v1m1-1v1m1-1v1m4 51v2m4-29v18m4 2v3m3-2v4m4-41v1m1-1v1m1-1v1m4 66v1m0-45v10m9-10v44m1-66v1m3 21v14m2 11v5m2 14v1m1-44v16m2-6v9m2-20v1m1 33v10m0-44v1m2-25v1m1-1v1m1-1v1m1 67v1m0-22v2m0-49v1m1-1v1m4 46v3m0-49v1m1 24v1m0-26v1m2 36v4m3 1v3m1-19v9m3 8v5m0-22v1m0-27v1m1 25v1m0-27v1m1 44v4m0-49v1m1 41v4m0-46v1m1-1v1m2 52v14m2-18v2m0-25v1m2-1v1m1 40v1m4-70v1m1-1v1m1-1v1m3 22v1m2-1v1m9-26v1m1 23v1m0-25v1m14 14v1m13-3v1m2-1v1m117 57v1m0-34v1m12-24v1m3 19v1m0-33v1m31 20v1m26-11v1m21 12v1m8 21v1m11-16v1m36 32v4m0-14v4m36 9v1m0-14v1m9 11v2m0-10v3m13 7v1m2-31v1m31 28v1m0-13v2m20-18v1m37 18v8m0-27v1m2 19v8m0-28v1m8 27v2m0-14v1m0-17v1m4 28v1m4-30v1m54 2v1m149 3v1m40-3v1m12-1v1m25 16v1m65-18v1m75-4v1m3 26v1m119-32v1"/>
<path stroke="#73ff84" d="M0 48v1m11-3v1m1 26v1m0-28v1m1-1v1m1-1v1m1-1v1m9 0v1m6 0v1m1-1v1m1-1v1m9-1v1m1-1v1m1-1v1m8-4v1m1-1v1m1-1v1m1-1v1m1-1v1m1 2v1m1 2v1m0-4v1m1-1v1m15-1v1m2-1v1m15 50v1m16-55v1m1-1v1m1-1v1m1-1v1m1-1v1m5 1v1m1-4v1m1-1v1m1-1v1m1-1v1m1-1v1m8 2v1m8 18v6m8-26v1m1-1v1m1-2v1m1-1v1m1-1v1m10-2v1m1-1v1m1-1v1m1-5v1m1-1v1m1-1v1m1-1v1m1-1v1m9-2v1m1-1v1m1-1v1m1-1v1m1-1v1m1-4v1m1-1v1m1-1v1m1-1v1m1-1v1m1-1v1m1-1v1m18-8v1m13 0v1m1-1v1m1-1v1m1 68v1m1-1v1m2-21v10m0-57v1m5 66v1m3-1v1m2-69v1m1-1v1m1-4v1m1-3v1m1-1v1m1-1v1m1-1v1m1-1v1m2 72v1m4-72v1m1 70v1m7-75v1m1 19v14m3-39v1m1-1v1m1-1v1m1-1v1m1 0v1m1-1v1m1-1v1m1-1v1m1-1v1m3 77v1m5-77v1m1-1v1m1-1v1m7 49v2m4-9v3m4 2v3m1-43v1m1-1v1m1 22v15m0-38v1m1 0v1m1-1v1m1-1v1m4 1v1m1-1v1m2 30v3m2-13v16m1-16v8m2-31v1m1-1v1m1-1v1m1-1v1m1-1v1m4 36v3m2 13v9m5-38v10m8 14v2m3-25v37m1-37v13m1 5v3m3-5v4m3-7v4m1-7v3m2 29v1m1-20v9m2-15v3m1-8v5m4-16v1m0-25v1m1 48v4m0-52v1m1 0v1m1-1v1m1 20v1m0-24v1m2-1v1m4 64v1m1-70v1m1-1v1m2 22v1m5-2v1m2-24v1m1-1v1m1-1v1m3 22v1m2-2v1m1-2v1m8 48v1m6-59v1m4-1v1m0-18v1m2 74v1m0-59v1m0-18v2m5-1v1m2 14v1m115-3v1m0-8v1m12 30v1m3 24v1m86-29v1m9 2v1m17 2v1m21 33v1m18-32v1m18 30v1m0-32v1m9 30v1m13-30v1m5-1v1m25 19v6m3 3v1m0-30v1m27-1v1m30 26v2m0-12v2m2 9v2m0-11v1m75-17v1m7-2v1m65 2v1m16 0v1m15 19v4m3-22v1m24 13v1m38-16v1m13-2v1"/>
<path stroke="#84ff73" d="M1 46v1m1-1v1m1-1v1m1-1v1m1-1v1m7 27v2m4-29v1m1 0v1m2-4v1m1-1v1m1-1v1m1-1v1m1-1v1m2 0v1m1-1v1m1 52v1m0-54v1m1 52v1m0-30v4m0-28v1m1-1v1m9-1v1m1-1v1m1-1v1m4-2v1m1-1v1m1-1v1m1-1v1m1-1v1m13 2v1m1-1v1m1-1v1m1-1v1m1-1v1m1-1v1m1-1v1m1-3v1m1-1v1m1-1v1m1-1v1m1-1v1m5 1v1m1-1v1m1-1v1m16-3v1m1-1v1m1-1v1m1-1v1m1-1v1m3 52v1m14-1v1m13-51v1m0-3v1m1-1v1m1-1v1m1-1v1m4 24v1m0-22v1m13-7v1m1-1v1m1-1v1m1-1v1m1-1v1m33-11v1m1-1v1m1-1v1m1-1v2m1-2v1m7-5v1m5 67v1m3-71v1m1 69v1m0-71v1m1-1v1m1-1v1m1-1v1m2 0v1m1-1v1m1-1v1m1-1v1m1-1v1m2 68v1m5-11v10m0-27v7m5-50v1m1-1v1m1 0v1m1-1v1m1-1v1m9 68v1m7-75v1m7 44v9m0-20v2m0-17v1m0-22v1m1-1v1m11-2v1m1-1v1m1-1v1m1-1v1m1-1v1m1-1v1m1-1v1m8 3v1m2 44v2m4-4v2m4 3v3m8-22v15m3 29v1m2-32v2m2 1v6m1-14v7m2-15v15m7 29v1m0-68v1m1 39v3m0-43v1m1-1v1m1 61v5m0-67v1m1 66v1m0-44v11m0-35v1m2 22v1m1 43v1m5-68v1m4 49v3m3 9v5m1-29v4m1-2v3m2-43v1m1 44v5m0-50v1m1-1v1m1-1v1m1 33v4m0-38v1m1 37v2m0-38v1m1-1v1m2 54v10m2 0v1m0-30v4m1-15v10m1-11v1m3 40v1m1-13v12m5-43v1m1-23v1m1 19v1m5 44v1m0-70v1m1-1v1m1-1v1m1 21v1m1 46v1m1-1v1m6-48v1m3-2v1m0-26v1m1-1v1m6 18v1m3-2v1m8-21v1m14 15v1m112 19v1m0-24v1m46-8v1m5-2v1m15 10v1m70 25v1m12 0v1m29 16v1m41-15v1m18 25v3m0-12v3m20-20v1m40 28v1m0-14v1m2 1v1m15-19v1m4 17v10m0-27v1m53 1v1m33 1v1m88 2v1m12-1v1m48-3v1m15-1v1m28-1v1m62-1v1m78 13v1"/>
<path stroke="#95ff62" d="M8 99v1m4-24v3m0-11v1m4-19v1m1-2v1m1-1v1m10 24v14m0-19v1m45 29v1m2-37v1m0-12v1m3 46v1m16-53v1m6-1v1m2-2v1m1-1v1m1-1v1m1-1v1m31 26v1m18-26v1m1 18v5m0-24v1m1-1v1m1-1v1m4-8v1m1-1v1m1-1v1m1-1v1m1-1v1m4-1v1m1-1v1m1-1v1m1-1v1m1-1v1m11 12v13m0-30v1m1-1v1m6-5v1m1-1v1m1-1v1m1-1v1m1-1v1m3-5v1m1-1v1m1-1v1m1-1v1m1-1v1m8 0v1m3 68v1m6-71v1m1-1v1m1-1v1m1 18v24m3-39v1m9-5v1m6-3v1m1-1v1m1-1v1m1 71v1m0-73v1m1-1v1m1 71v1m1-72v1m1 16v11m1-33v1m1-1v1m1-1v1m1-1v1m1-1v1m2 55v9m0-20v2m0-9v2m3 19v7m18 10v1m6-75v1m1 42v3m0-46v1m1-1v1m1-1v1m1-1v1m1 45v2m0-44v1m1-1v1m1-1v1m1 0v1m1 46v2m0-49v1m8 39v10m0-26v1m4 44v1m0-66v1m1 35v2m0-18v1m0-21v1m1-1v1m1 42v6m0-49v1m1 35v3m0-39v1m1 0v1m1 34v4m3 9v8m5-16v3m3-11v5m0-17v1m1 30v2m0-54v1m1-1v1m2 20v1m1 26v17m1-66v1m1-1v1m5 51v8m0-38v1m2-24v1m1-1v1m1 41v4m0-46v1m1 35v4m3 27v1m0-18v6m0-31v1m2 26v4m1-30v8m1 6v3m2-18v1m0-24v1m3 30v5m3-12v1m0-26v1m1 24v1m0-25v1m3 22v1m9-5v1m5-24v1m1-1v1m1-1v1m1-1v1m1-1v1m1 21v1m1-1v1m4-25v1m3-3v1m1-1v1m1-1v1m3-1v1m6-2v1m4 15v1m1-1v1m126-10v1m104 43v1m0-16v1m37 5v1m1-1v1m35 0v1m5-1v1m11 1v1m43 28v1m20-11v9m3-9v9m35-27v1m16-1v1m7 26v1m0-13v2m5-17v1m55 17v1m0-17v1m99 4v1m24-1v1m48-4v1"/>
<path stroke="#a5ff51" d="M6 45v1m1 6v1m0-8v1m1-1v1m1-1v1m1-1v1m2 33v4m0-32v1m15 30v7m1-1v3m0-40v1m21-5v1m1-1v1m7 51v1m6-49v1m1-3v1m1-1v1m1-1v1m1-1v1m1 0v1m6-3v1m6-2v1m1-1v1m1-2v1m1-1v1m1-1v1m6 1v1m1-1v1m1-1v1m1-1v1m9 2v1m10-4v1m1-1v1m1-1v1m2-4v1m1-1v1m1-1v1m1-1v1m1-1v1m13 0v1m1-1v1m1-1v1m1 27v1m0-10v1m0-20v1m1-1v1m2 52v1m1-18v9m6-45v1m1-1v1m1-1v1m1 3v1m6 21v1m0-21v1m19-13v1m1-1v1m1-1v1m1 58v1m0-60v1m1-1v1m6 26v2m0-16v1m1 45v1m11-49v15m0-34v1m7-3v1m1 0v1m10-1v1m1-1v1m1-1v1m1-1v1m1-1v1m4-3v1m1-1v1m1-1v1m1-1v1m1-1v1m3 1v1m1-1v1m1-1v1m1 0v1m1-1v1m1 66v1m1-73v1m1-1v1m1-1v1m1-1v1m1-1v1m1 53v12m4 6v1m0-55v11m0-24v1m1-4v1m2 26v2m2 41v1m4-55v12m1 31v11m0-36v5m1 31v1m1-79v1m1 67v11m0-25v7m0-61v1m1-1v1m1-1v1m1-1v1m1 0v1m1-1v1m1-1v1m1-1v1m1-1v1m11 76v1m0-76v1m1-1v1m1-1v1m1 21v20m1-20v21m2-21v22m4 5v2m1 24v1m0-49v18m3 10v3m0-29v1m7-21v1m1 46v10m0-57v1m1 21v13m0-35v1m1 65v1m3-28v2m2 9v8m1-18v3m2-2v3m1-22v9m2 27v8m0-20v4m2-29v1m1-21v1m2 43v3m2-27v1m1 17v4m1 12v11m0-17v4m4-6v2m2 17v1m2-44v43m3-6v6m4-21v3m1-23v10m3 20v11m2-11v11m0-20v5m1 15v1m1-25v2m5-18v6m7 34v1m6-69v1m1 21v1m0-23v1m1 22v1m0-24v1m14-3v1m1-1v1m16 11v1m0-17v1m1-2v1m6 0v1m123 7v4m12-5v1m3 9v1m92 19v1m62 5v1m37 16v1m30-15v1m20 26v1m0-12v2m3 9v1m0-12v2m0-18v1m37-1v1m14 14v1m7 12v1m2-29v1m49 2v1m45 1v1m72 1v1m15 12v1m57-16v1m29-1v1m51-2v1m22 0v1m78-3v1m119 13v9"/>
<path stroke="#b6ff41" d="M0 49v1m1 49v1m6-1v1m0-31v4m4-26v1m1 35v4m0-40v1m1-1v1m1-1v1m1-1v1m10-1v1m1-1v1m1 41v3m0-12v2m0-35v1m1 43v3m0-26v1m0-22v1m1-1v1m4-2v1m1-1v1m1-1v1m1 4v1m0-6v1m1-1v1m6 52v1m0-31v5m0-25v1m1-4v1m1-1v1m1-1v1m1-1v1m1-1v1m3-1v1m1-1v1m1-1v1m1-1v1m1-1v1m1 2v1m1-1v1m1-1v1m3-1v1m1-1v1m1-1v1m5-3v1m1-1v1m1-1v1m1-1v1m1-1v1m3 5v1m4-5v1m20 49v1m1-1v1m1-52v1m5 1v1m1 1v1m4-4v1m4-2v1m8-3v1m1-1v1m1-1v1m1-1v1m1-1v1m9 28v2m0-25v1m2-5v1m1-5v1m1 46v6m0-18v3m0-38v1m1-1v1m1-1v1m1-1v1m1 2v1m1-1v1m4-2v1m1-1v1m1 52v1m0-54v1m1-1v1m1-1v1m2 26v1m0-8v1m3-22v1m1-1v1m1-1v1m1-4v1m1-1v1m1-1v1m1-1v1m1-1v1m1 56v1m0-58v1m1-1v1m6 56v1m5-56v1m1-8v1m1-1v1m1-1v1m1-1v1m1-1v1m1 31v2m0-30v1m2 57v1m0-64v1m1-1v1m1-1v1m2-1v1m2 62v1m4-34v2m0-32v1m9-7v1m1-1v1m1-1v1m1-1v1m1-1v1m10-1v1m1-1v1m1-1v1m4 44v17m2-62v1m1 68v1m0-70v1m6-1v1m1 4v1m5 57v6m0-21v3m0-53v1m1-1v1m1-1v1m1-1v1m1 44v16m0-33v2m0-30v1m3 29v1m4 40v1m2-43v2m0-33v1m1-3v1m1-1v1m2 43v7m14 24v1m2-76v1m1-1v1m1 58v9m0-68v1m3 74v1m1-34v3m0-24v1m1 21v3m0-25v1m0-19v1m6 47v2m0-30v1m1 21v4m1 26v1m2-18v4m1-54v1m1-1v1m1-1v1m1 0v1m1-1v1m1-1v1m2 56v10m1-32v3m0-17v1m1-20v1m1-1v1m2 38v1m2 16v8m0-45v1m1 21v2m2-1v4m0-48v1m1 30v5m0-36v1m1 65v1m0-67v1m1 43v2m0-46v1m1-1v1m1 0v1m3 46v4m3-9v5m1-2v3m2-48v1m1-1v1m1 43v2m0-46v1m4-3v1m1-1v1m1-1v1m1-1v1m1-1v1m1 24v19m2 5v6m1-30v1m0-25v1m1-1v1m1 47v9m3-16v5m2-2v2m3-46v1m1 65v1m0-67v1m1-1v1m1-1v1m1-1v1m3 1v1m1 0v1m1 0v1m1-1v1m1-3v1m2-1v1m6 16v1m5-1v1m3-1v1m1-23v1m1-1v1m1-1v1m7 17v1m1-2v1m6-24v1m1-1v1m1-1v1m1-1v1m2 16v1m6-1v1m2-2v1m2 58v1m1-60v1m3-15v1m115 38v1m15-11v1m57-13v1m40 19v1m96 20v1m0-15v1m48 28v1m3-1v1m39-29v1m8-1v1m8-1v1m59 2v1m7-2v1m65 2v1m34 2v1m38-2v1m24-1v1m13-2v1m15-2v1m165-4v1m122 23v2m0-13v2m0-19v1"/>
<path stroke="#c7ff30" d="M1 47v1m1-1v1m1-1v1m1-1v1m1-1v1m2 25v1m5 13v4m0-24v1m4-20v1m8-1v1m3 43v2m0-16v2m1 14v2m10-49v1m1-1v1m1-1v1m1 51v1m0-51v1m1-1v1m1 24v1m2-6v2m10-4v4m0-20v1m13 17v2m7-9v1m10-19v1m2-1v1m15 23v5m0-26v1m1-1v1m1 51v1m0-53v1m1-1v1m1-2v1m1-1v1m1-1v1m1-1v1m1-1v1m6 22v3m3 27v1m2-52v1m1-1v1m14 28v2m0-15v1m4 32v2m0-28v8m6-28v1m9 22v1m2 24v1m1-50v1m11-9v1m1-1v1m1-1v1m1-1v1m1-1v1m5 12v9m6 7v2m0-35v1m1-1v1m11 29v2m0-20v1m1-19v1m7 66v1m2-22v15m6 6v1m10-67v1m1 65v1m2-8v7m0-51v27m4-43v1m1-1v1m1-1v1m4-5v1m1-1v1m1-1v1m1-1v1m1-1v1m1 46v3m4 11v10m0-27v1m0-15v1m3 0v1m0-16v1m0-19v1m1-3v1m1-1v1m1-1v1m1-1v1m1-1v1m1 46v11m0-23v2m0-17v1m4 0v23m3-23v24m1-24v22m8-22v22m0-44v1m1-1v1m1-1v1m1-1v1m3 68v7m0-20v4m1 2v3m3-19v1m1 0v2m2-27v1m3 53v1m0-53v28m1 2v2m1-6v3m1-24v35m0-57v1m1 0v1m1 54v13m0-68v1m9 39v3m4 1v2m1 9v2m1 11v1m1-22v3m0-27v1m2 26v5m1-17v3m2 2v3m3-23v1m1 0v33m1-3v9m1 5v1m2-19v5m1-9v2m2-25v1m2 21v2m3-22v20m2-20v12m1-11v16m3 3v10m1-30v1m1 30v12m3-9v9m0-25v7m3-11v4m2 5v2m1-25v1m2 42v1m3-1v1m3-1v1m8-46v1m0-20v1m4-5v1m1-1v1m11 20v1m4-26v1m1-1v1m10 15v1m2-3v1m11-2v1m4-1v1m5-1v1m111 20v1m12-8v1m3-23v1m11 56v1m0-59v1m23 22v1m44 1v1m8 3v1m35 6v1m6 14v1m6 1v1m18-16v1m18-1v1m22 1v1m5-1v1m28-1v1m27-1v1m104 2v1m91 2v1m18 16v1m12-16v1m12-1v1m48-3v1m15-1v1m28-1v1m262 21v1m0-15v1"/>
<path stroke="#d8ff1f" d="M7 74v2m4 23v1m1-9v2m4-24v4m3-27v1m1 22v2m0-25v1m1-1v1m1-1v1m1-1v1m4 47v2m0-22v4m1 18v1m2-48v2m1-2v1m12 25v2m0-9v1m2 2v2m10-2v2m2-21v1m7-3v1m1-1v1m1-1v1m2 20v2m0-8v4m1-4v1m9-17v1m17-3v1m1-1v1m1-1v1m1-1v1m1-1v1m1 3v1m0-4v1m2 24v1m0-9v3m8-3v5m0-20v1m6 21v1m0-6v2m12-21v1m1-1v1m1-1v1m1 50v1m0-52v1m1-1v1m4 30v2m4-12v2m6-24v1m1 19v5m0-25v1m1-1v1m4 19v4m2-22v1m1 25v1m0-11v1m0-13v1m0-5v1m1 17v5m0-23v1m1-1v1m4-7v1m1 55v1m0-57v1m6 0v1m6-4v1m1-1v1m1-1v1m1-1v1m1 22v5m0-28v1m6 31v2m7 24v1m0-66v1m1-1v1m1-1v1m1-1v1m1-1v1m1 35v2m2-42v1m1-1v1m1-1v1m1-1v1m1-1v1m1 0v1m3 61v6m0-23v2m2 7v4m2-58v1m1-1v1m1-1v1m1-1v1m1 0v1m1-1v1m1-1v1m1-1v1m1-1v2m2 46v4m14-53v1m6 42v1m4-4v1m0-13v1m1-30v1m1-2v1m7 52v9m0-21v1m3-49v1m1 21v1m0-23v1m1-1v1m1-1v1m1 46v3m0-28v1m0-23v1m1 44v11m1 7v4m7-22v2m1 30v1m5-23v2m1 9v11m0-19v5m1-2v9m2 7v1m0-30v2m1 0v2m1-48v1m1-1v1m1-1v1m1-1v1m1 48v9m0-58v1m1 52v3m1-6v3m1 8v12m2 0v1m3-47v1m6 20v2m3 0v16m0-57v1m1 41v2m0-44v1m1 52v11m0-18v5m0-51v1m1-1v1m1 45v4m0-50v1m1 0v1m1 62v1m0-14v8m0-40v1m1 17v3m2-4v3m1-20v1m3 33v11m0-66v1m1 60v5m0-45v1m0-22v1m1-1v1m1-1v1m1 52v13m0-66v1m1 41v2m4-3v2m3 0v12m0-55v1m2 34v2m1 3v9m0-26v1m2 0v16m1 13v13m2-43v1m2-1v1m1 1v16m0-41v1m1-1v1m1-1v1m1 24v12m0-37v1m1-1v1m1 47v3m0-27v1m2-23v1m2 21v1m1 0v1m1-1v1m2-25v1m1 0v1m2 63v1m0-43v1m2-1v1m9 41v1m1-69v1m1-1v1m1-1v1m3 20v1m7-2v1m4 47v1m17-60v1m174-11v1m17 10v1m44 21v1m17 2v1m14 16v1m7-16v1m70 2v1m38 14v1m0-16v1m57 14v1m0-16v1m4 0v1m5 13v1m48 3v1m7-17v1m26 14v1m0-14v1m73 2v1m24-1v1m41 14v1m7-19v1m108 0v1"/>
<path stroke="#e9ff0e" d="M1 80v7m0-17v4m5 9v4m0-36v1m0-6v1m1 29v4m0-12v1m0-23v1m1-1v1m1-1v1m1-1v1m1 1v1m1 44v2m0-29v1m0-19v1m1-1v1m1-1v1m1-1v1m1 24v2m1-6v4m3-2v2m5-25v1m1-1v1m1 47v1m0-27v4m0-26v1m1 18v1m0-20v1m1-1v1m3 0v1m4 30v8m0-17v2m5-23v1m2 37v1m0-12v2m1-32v1m1 25v2m0-7v1m0-18v1m0-5v1m1-1v1m1-1v1m1-1v1m1 0v1m1-1v1m1-2v1m1-1v1m1-1v1m1-1v1m1 25v1m0-8v1m0-20v1m2 21v5m7-4v2m3-22v2m1-1v1m0-4v1m1 17v5m0-7v1m0-15v1m0-3v1m1-1v1m1-1v1m1-1v1m3 12v1m0-8v1m3 14v5m1 25v1m15-52v1m8 25v1m8-5v1m6 15v5m0-18v1m0-9v2m0-17v1m0-5v1m1-1v1m1-1v1m1-1v1m1-1v1m2 2v1m1 0v1m6 15v4m7 11v3m0-31v1m4 14v1m4-1v3m1-3v6m2-2v1m0-7v1m0-14v1m2-7v1m1-1v1m1-1v1m1 23v2m0-26v1m1-1v1m2 28v1m1 22v1m0-28v2m1-5v2m1-4v4m0-25v1m1-1v1m1-1v1m3-4v1m1-1v1m1-1v1m1-1v1m1-1v1m8 1v1m3 23v3m0-27v1m6 29v2m2-40v1m8 13v20m1 28v1m0-49v20m1 1v1m0-36v1m8-6v1m2 42v1m0-27v13m2 27v10m0-18v4m5-6v13m1-43v22m0-35v1m4 12v18m1-36v1m1 52v10m0-46v32m0-49v1m1 67v1m0-69v1m1 15v1m0-18v1m1-1v1m1-1v1m1 3v1m0-5v1m1-1v1m1 34v3m0-37v1m1-1v1m1 1v1m1-1v1m1-1v1m1-1v1m1-1v1m2-5v1m1-1v1m1-1v1m1 3v1m0-5v1m1-1v1m1 43v1m0-45v1m1-1v1m1-1v1m1-1v1m1 3v1m0-5v1m2 15v13m1 2v1m0-29v1m4 12v11m2 35v8m0-30v1m0-9v1m1-19v1m0-13v1m4 67v1m2-28v2m1 4v11m0-45v1m0-17v1m0-6v1m1 65v11m0-18v3m0-62v1m1-1v1m1 75v1m5-31v1m0-26v1m6 29v3m1 1v2m0-55v1m1 66v7m0-19v3m0-58v1m1 50v17m0-68v1m1 46v1m0-48v1m1 48v2m1 23v1m4-16v10m1-12v3m1-6v3m0-52v1m10 3v1m1-1v1m1 41v3m0-45v1m1 46v11m1-37v22m1 15v7m0-44v21m1 3v1m1-2v3m2 4v9m1-39v15m1 24v5m1-24v2m2-9v3m3-36v1m3 45v12m3-20v2m4-3v2m1-20v1m0-21v1m1 19v1m0-21v1m1 53v11m2 0v1m0-30v3m1 9v11m2-20v9m1-49v1m1-1v1m1-1v1m5 24v12m3 14v9m0-58v1m1-1v1m2 21v1m7-1v1m8-26v1m1-1v1m1-1v1m3 19v1m1-1v1m1-1v1m1-22v1m1-1v1m1-1v1m1-1v1m1-1v1m4-2v1m1-1v1m1 20v1m3-3v1m0-23v1m1-1v1m1-1v1m8 14v1m11-18v1m2 14v1m2-1v1m117 43v1m12-52v1m3 28v1m11-15v1m25 5v1m53 7v1m37 5v1m1-1v1m35 0v1m5-1v1m29 15v1m83-14v1m2-1v1m14-1v1m12-1v1m46 2v1m45 15v1m0-15v1m72 15v1m72-17v1m12 13v1m17-15v1m51-2v1m22 0v1"/>
<path stroke="#f9f300" d="M0 50v1m1 36v3m0-16v6m0-29v1m1 47v1m4-13v4m0-12v4m1-3v5m5 10v2m0-45v1m3 46v1m1-25v2m1-4v2m3-7v1m0-18v1m7 17v1m1 27v1m5-29v2m0-18v1m3 45v1m0-12v3m0-18v7m0-11v2m3-1v3m1 26v1m3-11v7m0-11v3m0-9v1m1 19v1m1-25v1m10-2v1m1-22v1m0-4v1m1 36v10m0-23v2m0-9v2m0-19v1m1-1v1m4 0v1m2 20v1m0-6v3m0-19v1m2-1v1m2 21v1m0-10v1m1 6v1m6-17v6m2 38v1m0-51v1m1 35v9m0-20v1m0-8v2m1-2v6m1-24v1m2-3v1m1-1v1m1-1v1m15 2v1m1 14v6m1-3v1m1-21v1m1-1v1m1-1v1m1-1v1m5 22v1m2-23v1m1 15v6m1-22v1m1-1v1m1 41v6m0-12v1m0-12v1m7-28v1m1-1v1m1 51v1m0-53v1m1-1v1m1 3v1m0-5v1m2 22v2m0-22v1m7 33v5m0-26v1m2 2v5m1-26v1m1 20v2m0-23v1m1-1v1m1-1v1m1-1v1m1 25v2m0-7v2m0-18v1m0-3v1m1 25v2m0-9v1m0-20v1m1 22v1m1 1v1m5-1v1m0-8v1m0-16v1m1 47v1m2-23v1m1-4v1m0-9v1m1 4v2m0-6v2m1 2v1m3-28v1m1-1v1m6 3v1m1-6v1m6 12v15m3 1v3m1-37v1m1-1v1m1-1v1m1 4v1m0-6v1m1-1v1m1 38v1m0-26v1m0-11v1m0-4v1m1-1v1m5 12v21m4-2v7m0-39v1m1 31v9m1-7v2m0-42v1m1-1v1m6 15v14m0-31v2m2-3v1m1 30v2m0-29v1m0-5v1m1-1v1m1 47v2m0-50v1m1-1v1m4 60v7m0-25v5m1-8v8m0-31v1m2 50v1m2-33v10m0-29v1m2 45v5m2-65v1m5 33v20m0-40v17m7-33v1m1 14v12m0-23v1m5 35v1m0-27v10m1-10v12m3 12v1m0-11v1m0-17v1m1 31v18m1-36v1m1 12v4m1-50v1m1-1v1m1-1v1m1 48v7m0-25v2m0-33v1m1-1v1m1 42v1m0-7v1m0-36v1m1-3v1m1-1v1m4 58v5m1-15v3m1 12v10m1-20v3m2-37v23m0-45v1m1-1v1m1-1v1m1-1v1m1-1v1m1 46v2m2-27v24m4 2v3m0-49v1m1 49v3m1 0v2m1 13v6m0-34v11m1-3v2m1 1v2m5 16v5m0-53v1m1 38v6m0-61v1m1 51v4m0-36v1m2 2v11m0-32v1m1-1v1m1 0v1m1 65v1m0-67v1m1-1v1m1 0v1m1-1v1m1-1v1m3 44v3m1 10v7m0-23v5m0-45v1m1 40v11m0-52v1m2 43v2m1-7v3m2 16v5m1-29v3m1-39v1m1 42v3m0-46v1m1-1v1m1 20v13m0-34v1m1-1v1m1 0v1m4 57v6m0-22v4m3-11v3m0-38v1m1 18v1m0-20v1m3 33v3m4-39v1m1 39v1m0-41v1m1 59v6m0-66v1m1-1v1m1 65v1m0-18v11m0-60v1m1 22v1m7 13v7m2-20v1m1 35v7m3-66v1m1-1v1m1-1v1m1-1v1m1 22v1m0-24v1m3 1v1m1 0v1m1 0v1m1-1v1m1 17v1m0-21v1m2-1v1m2 16v1m11-3v1m2-21v1m1-1v1m1-1v1m3-3v1m1 20v1m1-1v1m9-8v1m6-4v1m4-1v1m2-1v1m7-2v1m115 24v1m0-3v1m12 24v1m3-47v1m51 28v1m46-7v1m81 6v1m66 0v1m47-1v1m13-1v1m49 15v1m5-14v1m7-2v1m65 2v1m34 2v1m6-2v1m32-1v1m24-1v1m13-2v1m15-2v1m168-3v1m119-6v1"/>
<path stroke="#ffdf00" d="M1 90v3m0-24v1m0-22v1m1-1v1m1-1v1m1-1v1m1-1v1m1 42v2m0-23v9m1 6v4m1-19v19m8-12v3m0-12v1m0-18v1m0-3v1m1 25v3m0-28v1m1-1v1m2 22v1m7 23v2m1-1v1m0-47v1m5 18v1m0-4v1m3 22v2m2-45v1m1 24v3m0-7v1m0-22v1m1 20v4m0-25v1m3 47v1m0-17v5m0-18v1m0-18v1m1 18v4m1 3v1m12-1v1m0-11v1m4 32v1m0-50v1m1-1v1m1-1v1m1 22v1m0-9v2m1-16v1m2 47v1m1-13v1m0-39v1m1 22v1m1-24v1m1-1v1m1-1v1m1-1v1m1 2v1m0-4v1m1-1v1m3 44v3m0-13v1m0-10v1m0-11v2m1 6v1m0-9v2m1-19v1m1-1v1m6 50v1m3-32v4m2 27v1m8-29v2m0-24v1m1 49v1m0-31v3m0-7v3m0-19v1m1 37v5m0-17v1m0-12v1m3 21v7m0-41v1m1 12v7m0-25v1m1-1v1m1-1v1m1-1v1m1 24v1m0-9v1m0-14v1m0-5v1m1 4v1m1 46v1m1-29v1m3 12v1m1-16v4m6 26v1m6-28v1m0-8v1m2 2v5m2-26v1m1-1v1m1-1v1m1 41v6m0-41v1m0-8v1m1-1v1m1 23v1m1-23v1m1-1v1m4 23v1m1 2v11m0-21v1m1 5v20m0-23v2m0-23v1m1 25v1m0-10v1m0-18v1m1-1v1m1 50v1m0-33v5m3 27v1m0-26v1m2-8v4m0-21v1m1 27v2m0-16v1m0-11v1m0-5v1m1 24v1m0-26v1m1 22v2m0-25v1m1 21v2m0-8v1m0-16v1m1 47v1m0-33v4m10 28v1m5-53v1m0-6v1m1 28v4m0-29v1m0-5v1m1 13v13m0-27v1m2 32v2m0-23v1m4-1v16m2 8v2m2 1v12m0-55v1m4 34v14m1-52v1m1-1v1m1-1v1m1 63v1m0-22v7m0-50v1m1 44v9m0-54v1m1 39v1m7-13v2m3 9v1m0-11v1m2 12v2m1-30v15m0-30v1m4 34v5m1 5v8m0-54v1m1 30v28m0-59v1m1-1v1m1-1v1m1 43v9m1-54v1m1 3v1m0-5v1m1-1v1m4 66v1m2-12v11m0-63v1m4-3v1m2 64v1m2-41v3m5 9v1m0-16v2m1 0v1m0-14v1m0-11v1m4 58v5m0-26v3m1-17v1m1 15v2m0-7v1m0-10v1m0-35v1m4 53v11m0-20v2m0-16v1m0-15v1m2 18v1m3-41v1m1-1v1m1-1v1m1 65v10m0-19v4m0-61v1m1 53v2m0-56v1m2 53v2m2-11v2m0-26v1m5 54v1m0-28v1m0-49v1m1-1v1m1 44v2m0-47v1m1-1v1m1 0v1m1-1v1m1 41v4m1 1v3m1 1v2m1-33v20m1 10v1m1 2v2m1-53v1m1-1v1m1-1v1m1-1v1m1-1v1m1 63v8m1-13v9m1-64v1m1 32v5m2 12v11m5-38v14m2-15v1m1 28v3m1-13v4m1 12v11m0-45v1m2 27v3m0-32v1m1 45v1m0-27v2m3-2v3m2 4v3m0-29v1m8 19v3m3-10v3m2-32v1m1 15v1m1 44v1m0-34v3m4-14v1m1 18v2m3 17v6m0-43v1m4-23v1m1-1v1m1 22v1m1-2v1m1 20v7m11-27v1m1-1v1m0-22v1m3 19v1m4-2v1m10-5v1m8-1v1m10-8v1m0-18v1m9-3v1m12 0v1m4 12v1m1-14v1m19 5v1m92 30v1m12-3v1m34-9v1m61 9v1m62 19v1m0-15v1m67 2v1m62-1v1m16-1v1m56 2v1m181 2v1m43-1v1m43 11v1m97-17v1"/>
<path stroke="#ffcc00" d="M1 93v2m3 4v1m2-7v2m0-26v1m1 19v3m0-25v1m0-15v1m1 35v3m0-23v1m3-21v1m1 47v1m0-33v1m0-13v1m0-5v1m1-1v1m1-1v1m1-1v1m1 49v1m0-20v5m1-7v7m0-17v1m2 0v2m0-24v1m1 26v1m0-8v1m0-21v1m1-1v1m1-1v1m1 21v3m0-25v1m1 21v3m0-23v1m1 1v1m0-3v1m1-1v2m1-2v1m1 16v1m0-18v1m1-1v1m3 19v4m1-1v1m3 20v2m3-19v12m0-35v1m1 19v1m0-23v1m1 17v3m2 25v2m1-26v2m1 2v1m0-11v1m2 1v3m0-20v1m4 46v1m0-31v3m1 27v1m3-25v1m0-11v1m0-14v1m2 44v2m0-13v1m7-1v5m0-17v1m3-10v6m0-19v1m1 35v6m0-9v2m0-13v1m0-12v1m0-12v1m1 10v1m0-13v1m1 47v1m1-49v1m7 45v1m0-15v1m0-8v1m0-27v1m1 23v1m0-25v1m11 21v1m0-8v3m0-19v1m1-1v1m1-1v1m1-1v1m1 17v6m1-25v1m1-1v1m1-1v1m1-1v1m1 17v5m0-23v1m2 23v1m0-23v1m1 41v5m0-11v1m0-35v1m3 40v4m0-12v1m0-16v3m1-1v1m0-22v1m5 13v7m0-22v1m1-1v1m1 21v1m0-9v1m0-15v1m3 46v2m0-24v1m0-12v1m0-18v1m1 25v1m0-8v3m0-22v1m1-1v1m1-1v1m1-1v1m9 25v1m2-1v2m0-9v2m2 1v3m0-22v1m3 44v2m2 2v1m0-28v1m0-8v1m0-17v1m1 18v6m5 0v2m1 23v1m0-13v7m0-43v1m1 40v6m0-31v2m1 6v1m0-22v1m2 17v2m0-26v1m1-1v1m1-1v1m1 26v1m0-11v1m0-18v1m1-1v1m1 22v1m1 8v1m1-5v2m1-3v1m0-10v1m1 7v1m0-28v1m1 23v2m0-21v1m0-6v1m1-1v1m3-4v1m1-1v1m1-1v1m1-1v1m1-1v1m1 16v10m7 4v5m0-25v1m1 13v9m0-23v1m1-1v14m0-27v1m1 34v3m0-34v1m0-5v1m1-1v1m3 27v3m2 7v2m0-39v1m2 49v6m0-22v4m4 6v8m0-54v1m2 34v16m2-7v7m1-3v10m0-61v1m1 37v1m0-39v1m2-8v1m1-1v1m1-1v1m1-1v1m1-1v1m4 33v1m1-17v15m1 12v1m1-13v1m1-33v1m1-1v1m1-1v1m1 16v20m0-37v1m1 54v8m1-3v7m0-50v15m3 22v8m7-47v1m3-14v1m1-1v1m1 13v19m0-30v1m0-4v1m1 30v4m1-21v20m0-29v1m0-6v1m1-1v1m1-2v1m1 28v2m0-34v1m1-1v1m1-1v1m1 68v1m0-54v12m0-24v1m0-5v1m1 68v1m0-70v1m1 27v1m0-25v1m0-5v1m1 42v3m0-17v1m0-30v1m1-1v1m1-1v1m1 38v1m0-9v1m0-32v1m1 41v1m0-28v13m0-27v1m1 40v4m0-32v1m0-15v1m1 46v1m0-45v1m4 58v7m0-28v1m0-13v1m2 6v2m0-4v1m0-22v1m0-14v1m6 45v4m1-1v3m1-58v1m1 51v1m0-53v1m1-1v1m1 45v2m3-27v22m2 6v2m2-4v3m4-29v22m1 2v3m0-46v1m1 47v2m0-50v1m1-1v1m1 49v2m0-34v1m0-19v1m1 53v2m0-38v1m4 1v24m2-24v1m1 48v4m2-30v3m1-20v1m1 39v7m0-22v4m5-13v2m3 29v1m0-15v9m1-28v6m2-18v1m1 30v5m1-20v3m3 26v1m0-24v3m2 4v4m1-32v17m5-38v1m1 64v1m0-66v1m1 35v4m0-40v1m1 18v1m0-20v1m1 19v1m0-21v1m1 21v11m2-32v1m1-1v1m1 20v10m0-31v1m1 1v1m1-1v1m1 17v1m0-22v1m2 41v2m2-24v1m9 29v15m5-43v1m15-21v1m3 16v1m1-2v1m0-21v1m1-1v1m9 18v1m1-1v1m5-24v1m1-1v1m16 11v1m1-1v1m34 34v1m107 20v1m0-64v1m31-3v1m5-2v1m15 11v1m6 1v1m21 12v1m8 3v1m6 16v1m29-11v1m12 0v1m36 0v1m24 0v1m3 0v1m28-1v1m27-1v1m47-1v1m64 2v1m26 1v1m42 12v1m16 1v1m0-15v1m30 1v1m9-1v1m3-1v1m45-4v1m18 0v1"/>
<path stroke="#ffb900" d="M1 95v2m5-2v2m1-5v2m1-2v2m4 4v2m1-31v3m3 13v4m0-22v1m1 17v4m2-18v2m1 2v1m2-7v2m1 1v2m0-23v1m1 20v2m1-5v2m2-3v1m5 4v2m1-2v1m0-27v1m1-1v1m1-1v1m1 47v2m0-29v1m0-22v1m1-1v1m2 40v3m0-23v1m1 5v1m0-7v1m1 3v2m1-24v1m2 24v1m0-8v1m0-21v1m1 39v6m0-46v1m1-1v1m1 23v1m0-25v1m1 2v1m0-4v1m1 0v1m1-1v1m1 22v1m0-22v1m0-4v1m1-1v1m1-1v1m1 50v1m0-52v1m1 27v1m0-29v1m1 19v5m1 4v1m0-13v1m0-13v1m5 45v1m0-34v6m0-20v1m2 38v6m0-12v1m0-22v1m0-13v1m1 16v4m1 26v1m1-29v1m0-8v1m1 29v3m0-13v1m1-12v1m4 12v3m0-20v3m1-3v2m4 27v1m0-17v1m0-6v1m0-14v1m1 10v1m0-12v1m6-20v1m2-1v1m3 27v2m0-25v1m4 22v1m0-9v2m1 0v6m4-2v2m0-8v1m1 7v1m0-10v1m1-1v1m1 20v1m0-37v1m1-1v1m1 17v6m0-24v1m1 47v1m0-14v1m0-12v1m0-6v2m0-21v1m3 19v2m2 2v1m0-11v1m1 8v1m1 14v1m0-18v2m1 27v1m4-14v6m0-27v1m2 3v3m1 27v1m1-50v1m6 15v6m2 2v1m0-11v1m2 10v2m0-28v1m1 18v4m1 0v2m0-8v3m3 28v2m0-37v1m1 3v6m1 1v1m1 0v10m0-18v2m1-3v1m4 10v1m0-12v1m1 28v5m1-1v1m0-33v1m1 9v2m2-4v1m0-9v1m0-16v1m3 24v1m0-25v1m2 19v1m0-7v1m1 32v1m0-19v3m0-21v1m0-9v1m1 22v3m0-16v1m1 10v3m1-4v1m1-3v1m0-8v1m2-22v1m1-1v1m6 25v2m1-29v1m6 35v5m1-7v8m1-17v5m0-30v1m1 35v2m2-39v1m2 29v4m2 5v3m1-32v16m0-29v1m1 33v3m4 18v4m2-7v7m0-34v11m0-36v1m1 58v1m0-28v21m1-1v7m0-59v1m1 9v1m1 26v2m0-30v1m2 0v16m5 33v1m0-24v2m0-13v1m2-34v1m1 15v1m0-17v1m1 43v12m0-24v1m0-33v1m1-1v1m1-1v1m1 66v1m1-51v41m3 5v4m0-62v1m1 61v1m0-52v1m2 33v7m1 5v5m0-65v1m1 13v21m0-32v1m3-3v1m0-5v1m1-1v1m1-1v1m1 3v1m0-5v1m1-1v1m1 15v1m0-16v1m1 15v22m0-38v1m2 34v4m1-2v21m0-42v17m0-28v1m0-3v1m1 32v2m3-6v8m0-26v1m0-10v1m2 61v1m1-27v12m0-27v1m2 11v1m0-12v1m0-15v1m1 30v3m0-7v1m3-39v1m1 23v1m1 17v3m0-8v1m0-12v1m1 17v2m0-11v1m0-27v1m1-18v1m1-1v1m1 59v2m0-62v1m1-1v1m1-1v1m1 38v1m2-21v22m4 6v3m1 6v3m2-11v2m1 23v1m1-28v2m1-29v23m2-1v3m0-26v1m2 30v1m2-2v2m0-32v1m5 19v5m1 3v2m2 4v1m1 3v3m0-57v1m2 15v1m2 25v4m4-23v1m1 20v2m2 0v3m1-23v14m3-14v13m1 3v1m1-36v1m1-1v1m1 58v5m0-46v1m0-19v1m1 19v11m2-30v1m1 53v9m0-63v1m1 29v4m0-34v1m1 16v1m0-18v1m1-1v1m1 42v4m0-29v1m0-18v1m2 49v12m1-27v8m3-27v1m4 2v14m1-32v1m2 16v1m9 22v2m4-46v1m1-1v1m1-1v1m1 21v1m2-23v1m1-1v1m1-1v1m1-1v1m1-1v1m3 1v1m6-2v1m11 16v1m4-21v1m1-1v1m1-1v1m1-1v1m1-1v1m1-1v1m1-1v1m1-1v1m17-7v1m4 13v1m142-7v1m3 21v1m112 10v1m39 2v1m11-1v1m16 17v1m13-17v1m12-1v1m21 12v1m55-13v1m2-1v1m21-1v1m159 6v1m72 10v1m6 0v1m3-15v1m99-1v1m3-1v1"/>
<path stroke="#ffa600" d="M1 68v1m2 1v3m1-3v2m2-25v1m1 46v2m0-49v1m1 46v2m0-49v1m1-1v1m1-1v1m3 24v2m3 15v3m1-3v3m2-19v1m0-6v1m1 7v1m0-25v1m2 18v2m1 1v1m0-7v1m1 5v1m0-7v1m1 2v2m1 26v1m2-47v1m2 15v4m1-23v1m1 24v4m0-29v1m1 23v1m0-8v1m6 23v3m1-19v2m1-3v1m0-7v1m2-3v1m0-16v1m1 24v1m1 17v3m0-10v1m0-10v1m2-6v1m0-6v1m4 4v2m0-7v1m4-5v1m0-12v1m1 19v1m0-8v2m1 17v1m1-35v1m4 20v1m0-8v1m2 18v1m1 2v2m0-16v1m0-7v2m0-17v1m2 19v1m1 24v2m0-16v1m0-31v1m1-2v1m1 11v7m0-21v1m3 38v6m0-10v1m0-14v1m0-5v1m1 2v2m0-8v4m3 18v1m1-10v4m1 4v4m0-14v1m3 22v1m3-30v2m5 3v1m2-26v1m2 23v1m0-26v1m1 23v2m0-10v2m0-16v1m4 21v1m1 0v1m0-23v1m1 20v1m1 23v2m0-23v1m0-14v1m2 9v1m0-9v2m1 31v1m0-25v1m0-8v1m1 5v1m0-10v1m2 6v1m0-7v4m1-18v1m1 0v1m2 35v7m0-10v2m0-15v1m0-5v2m1 3v1m3 9v1m0-33v1m1 40v5m0-12v1m0-12v1m0-25v1m2 21v1m0-7v3m0-17v1m4-5v1m1-1v1m1-1v1m1 50v1m0-49v1m0-4v1m1 23v1m0-8v1m0-18v1m1 0v1m1 25v1m1-27v1m1 27v8m0-20v1m1 6v2m0-8v2m0-19v1m1 24v1m3-20v1m1 16v2m1 0v1m1 9v8m0-46v1m1-1v1m1-1v1m1-1v1m1-1v1m1 30v3m0-31v1m1 15v1m0-17v1m1-1v1m1 28v2m0-16v1m0-10v1m0-7v1m1-1v1m1 25v2m3 0v2m1-12v5m1 1v1m1 10v3m1-6v3m1-5v4m1-7v1m0-12v1m1 8v1m2-6v3m5-5v26m2-20v2m0-15v1m0-12v1m1-2v1m1-6v1m1-1v1m1-1v1m1-1v1m1 12v11m0-24v1m1 41v7m0-45v1m0-5v1m1 42v8m0-51v1m1 30v4m1 4v4m1-47v1m1-1v1m1-1v1m1 59v1m0-23v3m0-27v1m0-10v1m0-6v1m1-1v1m1 45v5m1-21v7m1-5v3m0-35v1m1 1v1m3 9v1m1-16v1m1 15v13m0-29v1m1 56v6m0-47v20m0-36v1m1 13v1m0-15v1m1-1v1m1 42v1m2-14v3m3-19v38m1-38v43m0-59v1m1 43v4m0-7v1m1-43v1m2 39v1m0-38v1m1 51v11m0-24v1m1-1v1m1-11v1m0-18v1m1 0v13m1 28v9m2-51v1m2-15v2m1-2v1m1 54v10m0-22v5m0-48v1m2 34v21m0-57v1m1 13v1m0-11v1m0-5v1m1-1v1m1 12v1m5-10v1m1 32v6m2-5v3m1 16v9m1-29v2m0-25v1m1 0v16m1-30v1m1 37v2m0-43v1m1-1v1m1-1v1m1 53v8m0-21v1m0-14v1m0-29v1m1-1v1m1 3v1m1 43v4m0-12v1m0-12v1m0-25v1m2 36v16m0-44v13m0-25v1m2 37v1m0-13v1m1 19v3m0-12v1m1 9v1m0-19v1m3 25v11m0-18v5m1-16v1m0-11v1m3-29v1m0-7v1m1 40v5m0-28v1m0-19v1m1-3v1m1 18v1m0-13v1m0-8v1m1-1v1m1 45v3m0-49v1m1 60v9m0-51v1m0-20v1m1 74v1m0-57v1m1 28v2m1 8v10m1-18v2m1-8v3m0-27v1m2 25v2m2 4v1m2-1v2m3-33v43m1-62v1m1 18v19m1 6v2m2 7v2m0-51v1m1 54v8m0-63v1m4 43v3m2-45v1m2-1v1m1 41v2m0-43v1m1-1v1m1 65v1m0-30v4m0-40v1m1 33v5m0-39v1m1-1v1m1 0v1m1 31v4m0-36v1m1 35v2m0-38v1m4 18v1m4 0v11m2-13v1m1 29v5m1-53v1m1-1v1m1 44v10m0-55v1m1-1v1m1-1v1m2 17v1m0-16v1m0-3v1m1 17v1m2 0v1m5-3v1m2 1v1m1-21v1m1-1v1m2-2v1m1 45v2m0-27v1m0-22v1m1-1v1m1-1v1m1-1v1m8 22v1m1-1v1m2-22v1m1 18v1m0-20v1m2-2v1m1-1v1m1-1v1m1-1v1m1-1v1m3 1v1m1 0v1m6 14v1m1-21v1m1-1v1m1-1v1m2 17v1m5-1v1m3-1v1m1-20v1m1-1v1m1-1v1m1-2v1m1-1v1m5 15v1m1-2v1m9-7v1m2-1v1m2-16v1m3-1v1m1 14v1m2-2v1m3-1v1m26-12v1m104 13v1m3 45v1m95-25v1m31 4v1m1-1v1m42 14v1m52 1v1m20-15v1m112 3v1m5-1v1m40 1v1m32-1v1m34 2v1m38 10v1m0-13v1m24-1v1m13-2v1m32-2v1m51-2v1m100-2v1m119-6v1"/>
<path stroke="#ff9200" d="M0 51v1m1 45v1m2-25v2m0-6v1m1 2v3m0-6v1m2 27v1m1-2v1m0-31v1m1 29v1m0-29v1m3 1v3m1-9v1m0-11v1m1 19v1m3 17v2m1-2v2m0-27v1m2 6v1m1 2v1m0-12v1m2 6v1m0-6v1m0-16v1m1 21v2m1-2v1m1-3v1m3-9v1m2 7v1m2 25v1m0-21v7m0-18v1m1 30v1m0-25v1m3 21v1m0-46v1m1 16v2m1-22v1m1 44v2m0-47v1m1 27v2m0-12v1m0-19v1m1 25v2m1-8v23m2-4v4m0-15v1m1 21v1m0-3v1m0-12v1m0-21v1m2 7v1m2 24v1m2-25v1m3-25v1m1 25v1m1-4v2m0-25v1m1 12v1m5 8v1m1-9v6m0-19v1m1 44v2m0-24v1m1 13v6m0-10v2m0-22v2m2 6v1m0-21v1m1 21v1m0-14v1m1 36v1m0-38v1m1 8v1m3 23v2m0-13v1m0-12v1m0-10v4m1-4v1m0-12v1m3 34v6m0-10v3m0-17v3m2 17v6m0-12v2m0-9v1m2-9v3m4 0v2m0-7v3m5 6v1m0-13v1m2 4v3m2 3v1m0-24v1m1 22v1m4-12v1m0-14v1m1 11v1m1 10v1m1 9v1m3-20v2m1-19v1m1-1v1m1 50v1m0-28v1m0-25v1m1 16v6m0-23v1m1-1v1m1 24v1m0-10v1m1 30v2m0-13v1m0-12v1m0-8v2m1-5v1m1-14v1m1-1v1m1 25v1m0-14v1m3 9v1m0-9v1m7 0v5m1 2v1m2 2v1m2 8v7m1-18v1m0-23v1m1 22v3m0-13v1m4 33v1m0-26v1m0-10v1m1 9v1m0-12v1m1 27v6m5-18v3m0-32v1m2 47v1m1-20v2m2-5v2m0-14v1m3 13v2m0-17v1m1 7v2m1 0v1m0-10v1m1 21v5m1-8v4m0-24v1m0-14v1m1 31v6m0-24v1m1 11v2m1-4v1m2 23v1m0-28v2m0-7v2m0-19v1m0-5v1m1-1v1m4 46v6m0-36v4m0-20v1m2 27v3m0-33v1m2-1v1m4 53v1m0-33v2m0-21v1m1 43v7m1-5v6m1-22v5m1 16v1m0-14v7m0-40v1m0-7v1m1 51v1m3-20v4m1-30v36m0-49v1m1 48v9m0-48v1m0-8v1m1 31v8m1-19v6m1-18v21m5-23v1m1-1v1m3 28v2m0-43v1m2 29v2m1-21v15m2 23v11m0-50v1m1 43v6m0-50v1m1 32v5m0-13v1m0-27v1m3 17v1m1 7v1m0-10v1m0-18v1m3 27v11m0-25v2m6 16v14m1-21v4m1-30v1m1 42v9m9-23v6m0-47v1m1-1v1m1 38v4m0-31v1m0-13v1m1 11v1m0-12v1m1 35v2m0-39v1m1 28v6m0-23v1m0-13v1m2 38v2m3 17v6m0-28v1m2-12v1m0-30v1m1 51v6m0-19v1m0-40v1m1-1v1m1 57v10m0-27v1m0-15v1m0-28v1m1 36v1m0-7v1m0-32v1m1 0v1m1 49v3m0-24v1m0-30v1m1 48v2m0-15v1m2-24v13m1 20v3m4-39v1m1 29v4m4-31v25m1 24v6m1-75v1m1 44v2m0-47v1m1 66v7m0-22v5m0-57v1m1 50v2m1-7v2m2-1v2m2 3v2m0-36v1m2 34v3m3 7v11m3-33v4m2 11v2m1 10v6m1-71v1m1-1v1m1-1v1m1 48v4m0-36v1m0-18v1m1-1v1m4 47v2m1-40v1m1 15v16m1 3v3m1-24v1m2 18v3m1-1v1m4-37v1m1-1v1m6 50v11m1-46v1m2 36v9m2-46v1m1-16v1m0-3v1m3 16v1m13 28v3m1-30v1m4-1v1m3-1v1m6 0v1m4-1v1m2 0v1m6-19v1m1-1v1m1-3v1m2-1v1m12 13v1m5-1v1m6-24v1m1-1v1m1-1v1m6-4v1m1 16v1m0-18v1m1-1v1m12 13v1m4-1v1m5-1v1m123 15v1m0-21v1m3 25v1m89 1v1m8 17v1m0-17v1m70 4v1m11 1v1m66 0v1m47 11v1m0-13v1m4-1v1m7 11v1m2-13v1m3-1v1m48 2v1m10-2v1m96 19v1m9-16v1m66-2v1m18-2v1m25 0v1"/>
<path stroke="#ff7f00" d="M1 98v1m2-24v10m1-10v9m2 14v1m0-31v1m4 0v5m1-1v2m0-6v1m1-11v5m1 11v2m0-9v1m2 2v1m1 22v2m0-30v1m1 27v2m2-21v1m1 2v2m2-6v1m1 2v2m1-3v2m1-4v2m0-8v1m1 0v3m1-5v1m3 31v1m0-26v2m0-8v1m2 17v4m1-14v1m0-11v1m3 31v1m0-32v1m1 3v1m0-4v1m2 27v1m0-30v1m1 11v3m1-5v3m0-13v1m1 24v5m1-32v1m1 26v5m0-11v2m0-10v1m0-12v1m1 30v1m0-20v1m1-11v4m1 2v1m0-9v1m4 8v1m0-10v1m3 2v2m3 6v1m5-5v1m0-11v1m1 6v1m1-9v1m1 31v2m0-23v1m2-12v1m1 35v1m1-26v1m1-3v1m1 26v1m0-15v6m0-22v4m2 24v2m0-25v1m1-2v1m3 20v3m0-14v1m0-11v2m0-7v2m1-7v1m1 32v1m0-14v1m0-6v1m0-16v1m2 8v2m0-8v3m3-1v4m1 2v2m0-11v2m5 10v1m2-6v2m0-8v3m2 7v1m0-13v1m1 11v1m2 22v1m2-26v1m1 0v1m1-13v1m3 10v1m1 8v1m0-9v1m1-2v1m0-12v1m1 5v1m1 3v1m1-3v1m1 2v1m0-13v1m2 34v2m0-34v1m2 3v3m2 10v1m1 14v2m0-15v1m0-10v1m0-12v1m2 9v1m5 24v1m2-29v1m0-7v1m1 8v1m2 2v1m0-15v1m1 35v1m1-8v5m1-22v2m0-12v1m1 12v7m3-26v3m1 13v1m1 0v1m1 21v1m0-34v1m1-2v1m1 34v1m3-17v5m0-24v1m2 0v1m1 16v3m1 14v1m0-33v6m1 6v4m2-15v6m1 7v2m1-9v2m0-10v1m1 8v1m1 16v6m0-36v1m1 25v6m1-5v6m1-16v3m1-6v2m0-13v1m2 8v4m7 0v3m1-21v9m5 0v2m1-17v1m2 28v6m0-35v1m1 38v6m2-45v13m2 17v6m1 0v10m1-1v1m0-52v3m1 33v8m1-39v12m1 9v9m9-1v2m1-33v19m1 1v1m1-7v4m2 30v1m2-13v8m0-29v1m1 9v14m0-41v15m4 10v1m1 0v3m1 9v12m0-24v1m0-12v1m1-17v1m3-2v1m2 46v5m0-22v3m1-13v6m11 9v7m0-42v1m2 30v3m2-7v1m1-5v3m2 3v2m3-18v1m0-16v1m2 23v1m1 19v10m0-38v1m2 9v1m0-13v1m1-17v1m1 26v1m0-11v1m0-17v1m1 40v9m1-11v2m2-12v14m0-29v1m0-15v1m1 31v2m1-9v1m0-9v1m0-19v1m4 32v3m1-34v25m6-3v3m1 4v3m1 1v2m1-7v2m2-1v2m2 3v1m1-35v25m1 11v3m6-39v21m2 17v2m4-6v10m1-8v5m5-8v3m3-5v4m2-26v15m1 5v3m1-3v2m1-22v28m14-28v1m14-2v1m1-1v1m3 31v9m6-39v1m11 0v1m2 0v1m6-2v1m2-1v1m10-6v1m12-2v1m14-10v1m7-3v1m33 43v1m107-50v1m11-3v1m75 29v1m6 1v1m29 4v1m100 3v1m58 13v1m4-15v1m16-1v1m5 12v1m142-8v1m30 1v1m9-1v1m3-1v1m45-4v1m18 11v1m0-12v1m168-5v1"/>
<path stroke="#ff6c00" d="M1 67v1m2 17v4m1-5v5m1-7v6m2 9v2m1-2v1m2-24v13m1-12v9m2-7v3m2-8v3m0-6v2m1 25v1m1-1v1m0-31v1m2 9v1m0-10v1m1 12v1m0-16v1m2 9v1m1 3v3m0-15v1m1 31v1m0-22v3m0-14v1m1 8v2m1-6v1m4 3v3m2 11v3m0-26v1m1 9v1m4-6v1m1-3v4m2 8v4m1-6v4m1 15v1m2-15v1m0-7v1m1 5v1m1-13v2m1 1v1m1 22v1m6-28v2m0-6v2m1 18v8m0-33v1m1 24v7m0-19v1m0-12v1m1 18v1m6-13v1m0-9v1m1 18v1m0-8v1m1 20v2m0-15v1m0-21v1m1 4v4m2 9v1m0-25v4m1-4v4m1 1v1m1 27v6m0-13v1m0-18v2m2 14v1m1-21v1m3 33v2m0-24v1m0-9v1m2 29v2m0-17v1m0-4v1m1-15v6m1 3v1m0-10v1m2 2v4m1 0v1m0-8v3m1 8v2m5 0v1m2-5v1m0-10v1m1-1v7m1 27v1m1-1v1m0-11v4m0-29v1m3 3v5m1 2v1m2-1v1m1 1v1m0-16v1m1 7v1m1 15v9m0-31v1m1 34v1m2-30v2m0-7v4m1-5v1m1 7v1m3 10v1m0-10v1m1-1v1m1-3v1m0-7v3m2-7v1m6 36v1m1-33v6m2-7v7m1-1v1m1 2v1m0-12v1m4-1v1m1 34v1m0-23v5m1 3v6m4-15v2m1-1v1m6 10v6m1-30v1m2 20v4m0-26v1m1 9v1m0-8v1m1 16v5m1-20v5m1 1v12m0-19v1m1 15v3m1-10v2m1-2v1m1 21v1m0-39v2m1 32v5m1-4v4m0-35v1m1 17v3m0-21v1m1 13v2m2-2v7m0-19v1m1 15v5m4-25v1m2 18v4m1-16v4m5-2v1m0-17v1m2-2v1m1 34v10m3-32v2m2 21v9m1-46v1m2 38v7m2-16v8m0-39v1m1 46v1m0-25v12m8-3v3m1-17v6m0-26v1m1 21v2m1 25v1m0-31v2m4 24v4m1-9v9m0-24v1m0-12v1m1-16v15m1 8v1m1-7v1m1-18v15m1 14v2m0-14v1m1-2v1m0-18v1m4 50v1m2-26v3m1-29v19m5-25v4m3 0v1m3 42v10m1 0v1m1-19v5m2 13v1m0-25v2m1-4v3m2 2v1m3-9v1m2-10v1m1 7v1m0-26v1m5 49v5m0-30v1m1 15v7m0-29v1m1 10v7m0-36v13m1 29v12m0-27v1m0-14v1m1 14v2m5 3v5m1-14v7m0-33v1m3-1v1m3 0v22m1 2v5m1 6v3m0-40v1m1 31v2m2 22v1m0-24v2m2 2v2m1-12v3m1 11v5m4-45v1m3-1v1m1 40v7m4-3v10m0-33v13m1 20v1m0-14v8m1-49v1m2 3v1m2 31v3m0-32v1m3 27v4m2-15v3m1 5v4m1-5v1m1 5v10m7-38v1m17-2v1m8 40v5m1 0v1m3-45v1m9 0v1m11-1v1m4-2v1m10-5v1m1-1v1m11-2v1m2-2v1m1-2v1m14-10v1m9-1v1m2-1v1m129 56v1m34-43v1m3 0v1m0-25v1m2 45v1m0-23v1m535 34v1m70 0v1m81 1v1"/>
<path stroke="#ff5800" d="M0 69v4m3 16v3m0-24v1m1 20v3m0-24v1m1 19v3m0-13v4m0-11v2m2-8v1m1 32v1m0-32v1m2 31v1m0-13v3m1-6v5m2-9v3m0-16v1m1 11v11m1-15v11m3-17v3m1 5v2m1 2v2m2-7v1m0-10v1m1 14v3m1-4v3m1-6v3m1-8v1m0-6v1m2-5v1m2 14v5m1-15v6m1 18v2m1-17v1m4-6v1m1 0v15m0-20v1m1 27v1m1-12v6m0-26v1m1 17v5m1 8v2m0-31v1m2 28v2m0-15v1m0-5v1m0-15v1m1 13v1m0-16v1m1 9v1m0-8v1m1 30v1m1-31v4m1-4v3m2 5v1m1-10v4m2 2v2m0-9v1m1 31v1m0-4v1m0-10v1m0-10v1m0-20v4m1 36v1m0-5v2m0-10v1m0-11v1m1 1v1m0-17v1m1 3v6m4 2v1m1-3v1m2 1v1m1 10v6m0-19v1m0-7v2m1 5v1m1 1v1m2-4v1m1-1v1m0-10v3m2-4v1m1 22v5m0-17v1m3 7v1m0-7v2m0-13v2m1-5v1m1 17v2m1-11v1m1 3v1m2-4v1m0-8v3m1 5v1m1 13v7m0-16v1m2-9v2m3 16v6m0-15v1m0-17v1m1 6v2m1 3v2m1-5v1m1 16v4m0-16v1m0-15v1m1 29v4m0-9v1m0-12v1m3-5v1m0-9v3m1-5v1m1 12v1m0-15v1m2 20v1m1-13v2m0-7v4m1 25v2m0-12v1m0-11v1m1-12v1m2 7v1m1 1v1m1-11v1m2 9v1m0-12v1m2-2v1m1 22v8m0-20v1m0-9v1m2 11v1m1 21v1m0-17v1m0-8v1m1-12v7m1 14v8m0-19v1m0-12v1m1 5v2m2-2v2m1 1v1m0-8v1m2 6v1m1-1v1m1 2v1m2 1v1m1-13v6m1 25v2m1-17v5m1 4v6m0-33v1m1 1v5m3 7v2m0-16v1m1 13v1m0-16v1m4 3v2m1-1v5m1 21v5m3-10v6m1-21v1m1 13v6m0-30v1m1 8v1m0-7v1m1 18v7m1-7v6m0-29v1m1 14v4m1-5v2m0-15v1m2-2v1m2 35v1m0-15v4m1-9v2m0-18v1m2 20v7m1-5v7m0-26v14m2-17v8m4 12v6m0-32v1m1 13v2m5-3v2m6-5v2m5-19v1m2 38v8m1-12v8m0-42v22m3-23v22m4-25v1m1 49v1m0-13v8m0-47v1m1 27v7m1-9v2m0-27v1m1 21v2m4 0v1m2-10v1m1 2v1m1 31v1m0-27v1m1-10v1m1 15v2m0-8v1m1-1v1m2-4v22m3-46v1m1 23v3m10 8v11m4-7v7m2-16v2m1-3v2m1-31v21m1 11v2m0-36v1m4 27v17m0-44v12m1-14v1m3 25v1m0-11v1m1 6v1m0-5v1m1 5v1m1-8v1m0-20v1m1 48v7m0-32v1m1 13v11m0-20v2m0-16v1m1 12v1m1 1v1m3-32v1m2 41v8m1-15v7m2-7v14m4-47v1m1 0v24m1 14v3m1-9v2m2-1v2m1-3v16m1-11v1m1-10v3m0-32v1m1 44v10m1 0v1m0-55v25m1 29v1m6-8v7m0-56v1m1 55v1m0-57v1m1 2v47m2-47v20m1 28v5m5 0v1m0-16v5m3-5v8m0-39v1m2 18v2m1 7v4m1-8v2m0-26v1m1 38v7m1-47v1m3 0v1m2-2v1m6 0v1m1 0v1m13-2v1m15 2v1m12-1v1m9-3v1m2-3v1m8-3v1m3-1v1m5-1v1m3-2v1m10-8v1m10-4v1m2-1v1m7-2v1m141 57v1m140-15v1m207 6v1m7-3v1"/>
<path stroke="#ff4500" d="M0 73v1m2 6v10m1 9v1m0-8v3m1-3v2m1-3v2m0-20v5m0-8v1m1-4v1m4 22v3m0-25v1m1 20v3m0-24v1m2 14v4m1 3v2m0-22v9m1 7v4m1 7v2m0-34v1m1 31v2m1-27v2m1 5v1m0-14v1m1 16v2m2-8v2m1 6v4m1-5v3m1-6v3m0-17v1m1 6v2m4 8v4m0-21v1m1 7v14m1 6v2m1-18v2m0-16v1m3 0v1m1 7v1m0-8v1m1 31v1m0-11v3m1 6v1m0-33v1m1 25v5m1-8v6m0-29v1m2-3v1m1 18v1m0-3v1m1 2v1m1 14v1m0-24v1m1 0v1m0-12v1m1 6v2m1-3v1m0-5v1m2 20v5m0-28v1m1 5v2m2 15v4m0-17v1m1 20v2m1-2v2m2-26v2m0-9v1m3 2v4m1 14v5m0-29v1m2-2v1m1 20v1m1 8v5m0-12v1m0-21v2m1-5v1m2 12v1m2 21v2m0-16v1m2-9v1m1 15v6m0-12v1m0-24v1m3 18v1m0-4v1m0-15v1m2-3v1m1 36v1m0-28v1m1 3v1m0-13v1m2 8v1m1 0v1m1 19v3m0-11v1m0-8v1m0-16v1m2 7v3m0-7v2m3 24v3m0-11v2m0-8v1m1-9v2m0-7v3m1-6v1m1 8v1m1 19v4m0-9v1m1 8v1m0-11v1m1-19v5m1-5v3m1 2v1m1 1v1m2-15v1m1-2v1m1 37v1m0-27v1m0-9v1m1 31v2m0-15v1m1-3v1m0-7v1m1-2v1m0-14v1m1 10v1m1 12v3m1-16v1m1-13v1m1 24v2m1-6v1m0-19v1m2 34v1m0-7v4m0-13v1m1 14v1m0-31v3m1 9v1m1-19v1m1 8v1m1 21v3m1-10v5m0-20v2m0-6v2m1-2v6m1-2v2m0-6v2m1 4v1m0-10v1m2 8v1m0-10v1m1 8v1m0-11v1m1 12v1m2 1v1m0-18v1m1 9v2m2 13v6m0-29v1m2 6v1m3 8v3m1-4v2m4-12v3m1 1v2m1 24v1m3-5v4m1-24v2m1 17v5m1 0v1m0-26v2m1 17v6m1-7v6m1-16v5m1-8v1m4 9v7m1-14v3m2 7v7m1-5v5m2 0v1m0-27v2m4 16v8m1-24v3m5-4v1m6 24v1m0-29v2m8 22v4m1-42v11m2 6v13m5 8v4m1-16v7m1-14v2m1-5v2m5-1v1m0-10v1m4 7v1m0-9v1m1 33v1m0-18v3m2 14v1m1-7v6m0-45v17m4-5v5m5 8v11m5 3v7m0-21v3m4 11v6m2-20v2m1-3v4m1-14v3m1 10v2m3-14v1m0-9v1m1 28v9m0-27v1m0-15v1m1 9v1m1-7v1m1 36v1m0-49v5m2 10v1m1-6v1m1 6v1m1 30v1m0-34v1m0-3v1m1 27v7m0-28v1m0-13v1m1 10v1m0-11v1m1 38v1m0-28v1m1-5v1m0-7v1m4 29v7m1-15v10m2-3v8m0-50v28m6 9v13m1-20v3m2-2v2m1 11v6m0-30v8m1 6v3m1-10v3m2-9v5m1 4v9m8 5v6m8-10v10m3-7v7m2-25v3m1 8v8m1-14v2m13 18v1"/>
<path stroke="#ff3200" d="M0 74v2m1-10v1m1 23v2m0-21v9m1 15v1m1-2v2m1 3v1m0-7v2m0-26v1m1 29v1m1-36v1m2 5v2m1 21v2m1-3v2m2 5v1m0-13v3m1 2v3m0-26v1m1 20v3m0-25v1m2-4v1m1 8v1m0-7v1m1 11v2m1 3v3m0-24v1m1 4v2m1 8v2m1 8v3m0-26v1m1 20v3m0-24v1m1 17v4m1-12v1m1-11v1m1-7v4m2 24v3m1-2v3m1-26v1m1 14v1m1-13v21m1-11v8m0-18v6m3 17v2m0-26v1m3 26v2m3-15v1m1-2v3m0-20v1m1 24v4m0-16v1m2-3v1m0-8v1m1 4v1m1 16v4m0-23v2m1 21v3m0-9v1m0-11v1m1-5v1m2 18v4m0-9v1m0-12v1m1 8v1m1-1v1m0-23v1m1 18v1m0-24v3m1 12v1m0-11v1m3 22v3m0-18v1m0-7v2m1 23v5m0-11v1m1-13v1m0-12v1m1 18v1m0-24v3m1 1v1m1 20v1m0-11v1m1-16v3m1 19v1m1 4v1m1-13v1m0-13v1m1 11v1m2 7v1m1 16v1m0-16v1m0-10v1m3 3v2m3-8v1m0-10v1m1 34v1m0-14v5m0-14v1m2-4v1m1 0v2m0-13v1m1 32v2m0-15v2m0-6v1m2-6v2m0-11v2m3 29v1m0-13v1m0-5v1m0-20v1m1 11v2m0-11v2m1 22v6m0-18v1m1-4v1m0-11v1m1 22v1m0-10v1m1 19v1m0-21v1m0-16v1m1 24v9m0-23v2m0-9v2m1 3v1m0-7v3m1 6v1m3 0v1m1 5v1m0-5v1m2-16v1m2 35v1m0-15v9m1-30v1m1 24v6m0-10v1m0-23v1m1-1v1m1 11v1m1 23v1m0-12v6m0-10v2m0-24v1m1 12v1m1-1v1m0-15v1m1 35v1m0-24v1m1-3v1m0-7v3m1-8v1m2 11v1m1 23v1m0-13v1m0-10v1m0-14v1m1 28v5m0-11v1m0-13v1m0-9v2m1 6v1m0-9v2m1 6v1m0-9v2m1 7v1m1-10v5m1 4v1m2-13v1m1 2v6m1 8v1m1-7v1m0-10v1m1-3v1m1 29v4m1 0v3m1-28v1m0-8v1m3 17v4m1-6v2m4-11v1m1 2v3m5-1v2m2-3v3m2 19v1m1-12v6m1 6v1m0-20v2m4 14v3m1-14v4m4-8v7m1-13v3m3-12v6m1 27v1m1-22v3m4-19v5m1 8v1m6-3v2m9-7v5m2 14v12m6-9v9m1-21v1m1-4v1m1 23v1m3-33v1m2 31v1m0-25v6m0-16v1m4 19v6m0-18v1m0-7v1m1 5v1m0-8v1m6-13v12m5 24v9m0-27v7m5-2v2m3-26v19m3 9v2m1-1v3m1-14v4m1 24v1m0-17v4m4-16v1m0-13v1m1 2v1m1 5v1m1-13v2m1 11v1m0-9v1m1 2v2m3-1v1m3-17v8m6 37v5m9-17v3m2-3v3m1-36v20m1 17v7m1-14v3m2-7v5m1 8v11m0-33v13m21-2v3m1 13v6m1-18v1m228 13v1"/>
<path stroke="#ff1f00" d="M0 76v2m0-10v1m2 23v3m0-25v1m1 25v1m0-30v1m1 28v1m0-30v1m1 27v2m3-31v1m1 32v1m0-28v1m0-4v1m1 25v2m1-3v2m2-6v3m0-27v1m1 28v1m1-3v2m3-20v1m1 6v3m1 3v3m1-20v2m1 8v2m0-17v1m1 25v2m1-4v3m1-5v3m0-25v1m1 10v2m0-12v1m3 1v3m1 19v3m1-2v2m0-26v1m1 28v1m1-16v2m0-20v1m1 25v2m1-5v4m0-16v4m2-4v1m0-10v1m1 27v2m2 1v2m0-34v1m1 31v2m1-32v1m2-3v1m2 27v4m0-9v1m0-22v1m1 21v6m0-17v1m0-14v1m1 10v1m1-3v1m1 19v3m0-9v2m0-17v3m0-7v2m1 26v2m1-24v1m0-9v1m2 29v1m0-11v1m0-22v1m1 12v1m1-2v1m1 1v1m4 10v6m0-11v2m0-14v1m0-10v2m1 18v1m0-10v1m2 0v1m1 4v1m0-7v1m1 20v2m0-35v1m1 21v4m0-15v1m1 1v1m1 9v7m0-10v2m2-23v1m2-2v1m1 34v2m0-16v1m4-23v1m1-1v1m1 12v1m1 16v6m0-12v1m0-8v1m2-4v1m0-12v1m1 12v1m1 5v1m0-3v1m2 5v7m0-17v1m0-13v1m3 32v1m0-17v3m1-9v1m1 18v2m0-9v1m1-14v1m1 21v2m0-37v1m1 23v1m1 12v1m0-13v1m0-12v1m0-12v2m1 6v2m0-10v1m1-2v1m1 23v3m0-29v1m1 24v9m0-19v1m0-17v1m1-1v1m2 12v1m0-11v1m1 18v1m0-8v1m1-14v1m1 30v3m0-13v1m2 10v2m0-13v1m0-10v1m2 23v1m1-6v3m0-22v1m1-13v1m1 22v2m1 10v1m0-16v1m0-20v1m1 8v1m0-9v1m1 12v1m1 3v1m0-6v1m0-16v1m1 36v1m0-36v1m1 33v1m0-15v1m1 0v1m0-11v1m0-11v1m1 21v7m0-19v1m0-11v1m1 22v3m0-16v1m0-11v1m1-2v1m1 6v2m0-8v1m1 10v1m0-13v1m1 10v1m0-13v1m1 35v1m0-22v1m1-7v2m1 7v1m1-7v2m2 20v1m1-35v1m1 9v1m3 13v6m1-10v2m4-12v1m1 25v1m0-22v9m5-8v4m2-4v6m3 8v6m1-17v2m5 5v7m4-8v8m0-27v12m1-3v5m3-11v2m2 7v4m4-18v6m1 3v2m6-3v1m9-3v4m9 22v1m0-21v2m1-5v2m4-6v1m1 0v1m0-8v1m1 14v4m1-14v1m0-4v1m1 3v1m0-6v1m2 23v8m12-46v19m5 2v3m3-5v12m3-1v2m1 0v8m1-18v3m1 9v7m3-32v1m4 9v10m0-24v1m3 9v1m0-7v1m1 4v1m0-5v1m2 6v1m0-11v1m2 10v1m0-15v2m2 15v4m0-29v9m13 27v8m2-8v7m2 1v6m1-17v5m2-7v6m1-37v17m21 14v3m2-1v3m321-10v1"/>
<path stroke="#f60b00" d="M0 78v1m2 16v1m0-27v1m4-4v1m1-7v4m2 9v1m2 22v1m0-30v1m2 25v1m1 2v1m1-2v1m1-32v1m2 11v1m1 8v1m1 5v1m0-32v4m1 9v1m1 9v2m1 9v1m1-2v1m1-3v1m1-13v1m3-8v1m1 21v1m0-29v1m1 27v1m2-11v1m1 7v2m1-3v1m1-27v1m1 10v1m1 19v1m1-32v1m2-1v1m2-7v5m3 23v1m1 7v2m0-9v1m3-13v1m1 10v1m0-23v1m3 32v1m4-11v5m4 4v2m0-37v1m4 20v1m1 6v3m0-8v1m2 8v3m2-15v1m2-7v1m4-14v1m4 20v1m2-9v1m2 5v1m0-20v1m2 30v3m0-19v1m4 10v5m0-17v1m1 0v1m4 18v2m2-23v1m1 14v3m0-7v1m0-11v1m1 18v1m0-11v1m1 1v2m4-9v1m0-5v1m1-17v1m1 12v1m2-1v1m1 10v5m0-32v3m1 22v1m2 4v3m0-6v1m3-6v1m2-7v1m2 22v2m1-5v3m1-6v3m0-7v1m1-12v1m5-12v1m1 20v7m0-11v1m0-22v1m1 15v1m2 20v1m0-36v1m2 10v1m3 18v4m1-12v3m5-1v6m4 6v1m1-17v4m2-2v6m4-7v4m5 8v3m4-3v3m1-16v7m3 9v1m0-26v3m2 8v6m1-27v8m3 1v5m1 0v1m5-19v8m1 8v2m7 21v1m2-23v4m8 18v1m1-19v2m1-5v2m6 5v8m0-19v1m3-9v1m18 5v2m3 10v9m3-8v6m1 2v6m1-21v4m1 12v5m1-47v6m1-6v5m1 11v1m1 1v1m0-11v1m1 6v1m1-1v1m0-5v1m1 18v9m0-20v1m0-13v1m7 9v1m0-9v1m2 5v1m0-5v1m1 14v13m0-19v2m0-16v1m4 40v1m9-7v6m2-7v7m3-12v12m2-13v13m22-16v5m1 11v1m1-15v5m300-25v1m419 26v1"/>
<path stroke="#de0000" d="M138 88v6m3-25v5m1 0v1m1 18v6m5-12v6m2-2v6m4-9v6m6-24v3m4 17v8m1 1v1m2-23v3m2 11v8m1-27v3m1-12v5m2 10v6m1-5v2m5-13v2m1 8v2m9 1v6m9-4v3m1-6v2m1-27v16m3-3v1m2 24v6m0-33v1m1 3v1m2 1v1m1-1v1m1-6v1m13-15v40m1-11v4m2-17v3m3 21v6m3-8v8m2-17v5m2-29v2m1-3v2m3 4v1m2 27v8m1-31v1m0-7v1m3 3v1m0-3v1m2 34v1m0-31v1m0-9v1m2 8v1m0-12v1m2 31v9m0-29v1m0-13v1m14 39v1m17-1v1m11-12v11m2-9v9m1 0v1"/>
<path stroke="#c60000" d="M137 97v2m1-5v3m3-19v10m0-14v3m1-2v1m6 17v3m2 1v2m4-5v3m6-24v1m4 24v1m3-19v2m3 17v1m0-25v2m1 22v1m0-32v2m1-7v5m1 16v3m1-6v1m5-12v2m1 8v1m9 6v4m9-5v3m1-7v1m1-12v4m6-6v1m4 2v1m13 20v6m1-13v5m0-14v5m2-15v2m8 18v4m2-19v6m1-5v4m4-13v1m1-5v1m3 6v1m1-3v1m5 0v1m0-3v1m45 34v1"/>
<path stroke="#000000" d="M0 79v21m0-48v16m1-16v14m0-17v2m1 45v3m0-50v20m1 28v2m0-50v18m1 30v2m0-50v18m1 30v2m0-50v20m1-17v14m0-18v3m1 3v6m0-12v4m1-4v18m1 8v25m0-51v21m1 28v2m0-51v20m1 29v2m0-49v17m1-12v4m1 35v5m0-49v16m1 31v3m0-50v19m1 27v3m0-49v18m1-16v12m1 35v1m0-49v14m1 12v23m0-49v17m1 18v14m0-52v18m1 26v8m0-47v7m0-12v3m1 23v26m0-52v21m1 16v15m0-46v12m0-18v5m1 42v5m0-48v14m0-18v3m1 43v5m0-49v16m1 26v8m0-48v14m0-16v1m1 29v19m0-48v16m1-17v16m1-12v6m0-10v1m1 22v27m0-50v19m1 26v4m0-48v15m1 29v5m0-49v17m1 30v1m0-48v15m1 19v14m0-45v10m0-16v5m1 41v6m0-52v21m1 23v8m0-52v21m1-16v12m0-17v3m1 26v23m0-52v18m1 31v2m0-49v18m1-14v11m0-15v3m1-1v13m0-15v1m1 0v14m1-14v16m1-15v7m1-10v16m1-13v12m0-15v2m1 46v2m0-21v9m0-38v18m1 30v2m0-20v9m0-35v12m0-16v2m1 26v22m0-47v16m0-19v2m1 24v24m0-49v18m1 29v2m0-22v11m0-38v19m1 10v8m0-35v13m0-16v2m1 25v23m0-50v18m1-18v51m1-22v9m0-35v14m0-17v2m1 29v6m0-32v5m0-10v1m1 29v7m0-32v10m0-12v1m1 28v2m0-29v6m1 33v7m0-24v12m0-36v13m3 32v2m0-24v11m0-35v14m1 12v8m0-32v9m1 13v25m0-47v10m1 15v4m0-29v6m1 18v5m0-29v10m1 12v8m0-31v12m1 29v6m0-23v9m0-31v5m1 19v3m0-27v4m1 39v2m0-23v8m0-31v5m1 17v24m0-48v11m1 13v7m0-30v11m0-13v1m1-1v50m1-23v5m0-32v12m1 14v7m0-29v8m0-12v2m3-2v13m1-12v10m1-10v10m1 14v24m0-49v14m1 33v2m0-20v5m0-35v15m1-16v51m1-22v23m0-52v16m1 14v22m0-52v16m1-18v17m2 34v2m0-20v8m0-41v19m3-14v11m1 32v6m0-22v11m0-39v15m1 32v2m0-20v9m0-37v13m1 12v24m0-50v14m1 15v8m0-34v9m0-12v2m1 27v7m0-34v11m0-14v2m1 26v10m0-38v16m1 10v24m0-50v16m1 12v23m0-51v15m1 30v5m0-21v9m0-35v10m0-13v1m1 47v2m0-21v8m0-33v8m0-11v1m1 39v9m0-22v11m0-37v10m1 18v3m0-29v8m0-11v1m1 24v24m0-49v14m1 13v6m0-33v13m1 15v3m0-28v10m0-13v2m1 45v2m0-23v8m0-32v9m0-12v1m1 25v25m0-47v11m0-15v3m1 45v2m0-23v8m0-35v14m1 12v25m0-48v11m0-14v2m1 39v9m0-23v9m0-32v5m0-9v1m1 47v2m0-23v7m0-30v9m0-11v1m1 24v6m0-31v12m1 28v8m0-23v9m0-34v10m1 14v8m0-32v13m1 10v25m0-48v14m1 14v1m0-28v9m0-13v2m1 28v4m0-31v11m0-14v2m1 25v24m0-51v16m1 13v7m0-31v10m0-15v4m1 24v9m0-37v17m1 32v3m0-24v11m0-36v14m0-16v1m1 44v5m0-23v11m0-37v15m1 12v22m0-48v13m0-15v1m1 23v26m0-50v16m1 12v22m0-50v15m1 12v23m0-47v11m0-14v2m1 28v20m0-47v11m0-14v2m1 23v26m0-50v15m1 28v7m0-17v3m0-35v10m1 17v21m0-49v15m1-15v13m1-10v10m0-13v2m1-1v12m0-15v2m1 25v25m0-52v17m1-17v52m1-44v3m0-11v3m1-3v16m1 33v2m0-49v13m1-13v15m0-18v2m1 1v14m0-17v2m1 39v11m0-22v1m0-31v22m1 7v24m0-53v20m1-20v21m1-16v12m1-12v12m0-14v1m1 1v13m0-15v1m1 5v7m0-13v3m1 43v3m0-49v16m1-14v12m0-15v1m1-1v18m1-18v18m1-14v10m0-14v2m1-2v17m1 31v2m0-48v13m1-8v4m0-9v1m1 0v11m1-12v13m1-12v12m0-16v2m1 3v11m0-16v4m1 22v26m0-52v22m1-19v15m0-19v3m1-3v21m1 31v1m0-55v24m1-24v20m1-20v54m1-51v14m0-17v2m1 35v17m0-54v21m1-16v9m0-13v2m1 1v11m0-15v3m1 29v22m0-53v18m0-20v1m1 25v29m0-55v19m1 5v32m0-56v19m1 24v12m0-55v18m1 20v17m0-50v6m0-11v3m1 1v6m0-10v1m1-1v10m1-9v9m0-11v1m1 4v5m0-10v1m1 28v27m0-56v17m0-20v2m1 39v18m0-55v10m0-14v3m1-3v60m1-55v8m0-13v3m1-1v11m0-13v1m1 4v3m1-7v11m1-12v13m1-11v10m0-15v4m1-4v16m1 38v9m0-63v20m1-15v9m0-14v4m1-4v15m1-11v10m0-14v3m1-3v14m1-10v9m0-13v2m1 0v10m0-12v1m1 2v8m0-14v2m1-2v16m1 39v10m0-67v17m1 34v16m0-67v18m1 25v24m0-67v23m1-23v17m1-14v14m0-17v2m1 35v3m0-38v14m1 19v6m0-39v15m1 18v7m0-41v16m1-12v11m0-15v2m1 33v4m0-39v15m1 19v5m0-39v16m1 19v4m0-37v13m0-15v1m1 34v4m0-39v15m1-15v15m1-15v21m1-21v15m1-10v9m0-13v2m1 0v11m1-12v19m1-19v13m1-13v12m1-9v10m0-14v3m1 1v9m0-13v2m1-2v19m1-17v6m1-10v21m1 38v9m0-68v45m1-41v10m0-14v1m1-1v35m1-29v9m0-14v3m1 0v11m0-14v1m1 2v17m1-15v9m0-11v1m1 1v9m1-7v7m0-11v3m1-3v11m1 44v8m0-64v12m1-9v7m0-13v3m1 43v22m0-40v12m0-40v20m1 25v22m0-40v14m0-41v20m1 11v5m0-33v10m0-13v1m1 28v9m0-38v14m1 18v3m0-31v8m0-12v2m1 31v2m0-30v7m0-12v3m1 26v10m0-39v19m1 12v5m0-34v11m0-13v1m1 2v8m1 20v4m0-34v11m1-11v10m0-12v1m1 2v9m0-15v4m1 30v7m0-42v18m1 17v7m0-42v17m1 16v10m0-43v22m1 16v1m0-39v16m1 17v11m0-44v22m1-18v11m0-14v2m1 3v9m0-15v4m1-4v17m1-19v19m1-12v11m0-18v6m1-6v24m1-24v19m1-19v18m1-14v14m0-17v2m1-2v18m1-18v19m1-21v19m1 56v1m0-76v20m1-20v75m1-75v20m1-20v25m1-24v18m1-18v19m1-19v19m1-19v20m1-19v23m1-23v19m1-18v17m1-17v18m1-18v18m1-18v17m1-13v12m0-16v3m1 1v12m0-14v1m1-1v17m1-17v15m1-15v17m1-17v16m1-16v16m1-12v13m0-15v1m1-1v18m1-16v18m1-17v18m1-13v13m0-18v4m1-3v19m1-19v18m1-18v17m1 47v1m0-64v18m1-18v18m1-18v17m1-17v18m1-18v16m1-16v17m1-15v16m1-16v15m1-16v17m1-17v15m1-15v17m1-17v16m1-16v16m1-15v16m1-18v17m1-17v17m1-17v18m1-18v18m1-18v17m1-14v14m0-16v1m1 1v14m0-16v1m1-3v19m1-19v18m1-18v20m1-16v14m0-18v3m1-3v19m1-18v19m1-19v17m1-14v14m0-17v2m1-2v17m1-17v19m1-17v15m0-17v1m1 1v15m0-17v1m1-2v20m1-20v20m1-20v20m1-20v20m1-20v19m1-19v21m1-21v20m1-20v20m1-20v20m1-20v21m1-21v20m1-20v21m1-21v21m1-21v22m1-22v22m1-22v21m1-19v19m1-19v18m1-18v19m1-20v20m1-20v20m1-20v21m1-21v21m1-21v20m1-20v21m1-20v20m1-19v18m1-17v17m1-16v16m1-16v16m1-18v17m2-17v16m1-17v16m1-19v18m1-18v18m1-18v19m1-20v19m1-19v18m1-18v18m1-18v18m1-18v18m1-18v17m1-17v18m1-18v18m1-18v17m1-17v18m1-18v18m1-18v18m1-18v18m1-19v18m1-18v18m1-20v20m1-21v20m1-20v20m1-20v19m1-19v18m1-18v17m3-18v16m3-17v15m1-16v16m1-16v15m1-15v14m1-14v14m1-15v15m1-14v13m1-13v14m1-15v15m1-14v13m1-13v13m1-13v14m1-14v13m1-13v13m1-13v13m1-13v13m1-12v12m1-13v13m1-12v12m1-12v11m3-11v12m1-12v12m19 37v7m0-54v3m92 53v10m12-7v8m0-40v5m0-25v6m3 47v7m0-39v4m0-26v6m11 49v6m0-47v16m0-32v15m20 7v21m0-44v12m3 12v20m0-44v8m2 16v21m0-46v13m15-1v27m6-25v20m21-7v17m8-12v14m3-13v12m3-11v13m3-13v14m2-13v15m15-13v14m9-12v13m5-13v13m1-13v12m6-12v14m18-13v11m3-12v13m8-12v13m5-13v12m2-12v13m9-11v15m13-15v12m2-13v12m3-11v12m7-12v14m18-13v12m3-13v12m17-12v13m3-12v13m7-14v14m28-13v13m2-13v12m2-12v14m8-14v11m4-11v12m3-13v13m1-12v12m3-12v11m2-11v12m3-12v12m46-9v11m2-11v13m3-13v12m4-13v13m3-13v11m23-9v11m10-10v12m32-12v11m16-10v12m15-11v14m3-13v12m6-13v12m6-11v10m9-10v9m3-9v10m14-11v11m24-11v13m7-15v12m3-11v11m3-11v12m3-13v11m9-10v10m3-11v12m17-12v11m8-10v12m43-14v12m19-11v12m3-12v12m75-15v14m3-13v16m119-21v13"/>
</g>
<g transform="translate(83 541.800) scale(1 4.1080)" fill="none" stroke-width="2.02" shape-rendering="crispEdges">
<path stroke="#e8e8ff" d="M418 58v1m2 0v1m4 1v1m2-1v1m2 0v1m2 0v1m6 0v1m2 0v1m4 0v1m18 3v1m2-1v1m24 2v1m2-2v1m2 0v1m6-1v1m12-1v1m4-1v1m10 0v1m6 0v1"/>
<path stroke="#b4b4ff" d="M418 59v4m2-3v4m2-4v4m2-2v3m2-3v3m2-2v3m2-2v2m4-2v3m2-2v2m2-1v2m2-1v2m2-2v1m2 0v2m2-2v1m2 0v1m2-2v1m2 0v1m2 0v1m4-1v1m6 0v1m2 0v1m4-1v1m2-1v1m2 0v1m2-1v1m2 0v1m4-1v1m2-1v1m2-1v1m2-2v1m2 0v1m2-1v2m2-2v2m2-2v1m2-1v2m2-3v2m2-2v2m2-2v2m2-2v2m2-1v1m2-2v2m2-1v1m2-2v2m2-2v2m2-2v2m2-1v2m2-1v1m4-1v2m2-1v1m2-1v2m2-2v2m2-1v2m6-1v2m2-1v1m2 1v1m40-50v1m28 15v1m6 3v1m4 1v1m4-1v1m6 2v1m6 1v1m14 1v1m6-2v1m4 1v1m16-1v1m10-1v1m6 0v1m8-1v1m44 1v1m12-2v1m20 0v1m18-1v1m6-2v1m4 0v1m2 0v1m8-2v1m34-1v1m22 1v1m14-1v1m4-1v1m20 0v1m2-2v1m36-1v1m16 2v1m24 0v1m2-1v1m14 0v1m18-1v1m8-2v1m2 0v1m16-1v1m10-1v1m12-2v1m16-3v1m26 0v1m8-2v1m26-2v1m6-2v1m4 0v1m20 2v1m8-1v1m2-1v1m2-2v1m6 0v1m12-3v1m48 0v1m22-4v1m2-1v1m2 0v1m8-2v1m2 0v1m14 1v1m18-2v1m4-1v1m6-6v1m18-3v1m4-1v1m2-2v1"/>
<path stroke="#8080ff" d="M418 63v4m2-3v4m2-4v4m2-3v4m2-4v3m2-2v3m2-3v3m4-2v2m2-2v2m2-1v2m2-1v2m2-3v2m2 0v1m2-2v1m2 0v1m2-2v1m2 0v1m2 0v1m2-2v1m2 0v1m2-1v1m2-1v1m6 1v1m16 1v1m2-1v1m2-2v2m2-1v2m2-1v1m2-1v1m2-2v2m2-1v1m2-2v1m2-1v1m2-1v1m2-1v2m2-2v2m2-2v1m2-1v2m2-2v1m2-1v1m2-1v2m2-1v1m2-1v2m4-1v1m2-1v2m2-1v1m2-1v2m2-1v1m6 0v1m2-1v1m2 1v1m44-49v1m4 0v1m6 4v1m10 6v1m12 6v1m22 4v1m4 0v1m2-1v1m32 1v1m4 0v1m20-2v1m16 2v1m16 0v1m18-2v1m2-1v1m10 0v1m6-1v1m2-1v1m2-1v1m8-2v1m14-1v1m14-1v1m36 0v1m6-1v1m4-1v1m2-1v1m2 0v1m2-2v1m4-2v1m14 2v1m2-1v1m4-3v1m10 1v1m10 0v1m6-2v1m2-1v1m6 0v1m2-1v1m16-1v1m4-2v1m22 1v1m10 0v1m6-1v1m4 0v1m6-1v1m6-1v1m14-1v1m8-2v1m8 0v1m10 0v1m6 0v1m8-2v1m4-1v1m6-1v1m4-4v1m18-1v1m14-1v1m6-1v1m4 0v1m6-2v1m2-1v1m6-1v1m2-1v1m8 0v1m2-2v1m8-3v1m2 0v1m6-2v1m8 0v1m4 0v1m30 0v1m6-3v1m12 0v1m22-1v1m14-1v1m2-2v1m2 0v1m2-2v1m4-1v1m6-1v1m2-2v1m4-1v1m2-1v1m12-1v1m10 1v1m4-2v1m2-1v1m8 0v1m2-3v1m16 1v1m4-3v1m2-2v1m8-5v1m2-3v1m2-2v1m10 1v1m12-1v1m4 0v1m6-1v1m2-1v1"/>
<path stroke="#5050ff" d="M418 67v3m2-2v3m2-3v2m2-1v2m2-3v2m2-1v2m2-2v2m4-2v1m2-1v2m2-1v1m2 0v1m2-2v1m2 0v1m2-2v1m2 0v1m2-2v1m2 0v1m4-1v1m8 0v1m2 0v1m6-1v1m4 0v1m4 0v1m6 0v1m2-1v1m2 0v1m2-1v1m2-1v1m2-1v1m2-1v1m2-2v1m2-1v2m2-2v2m2-1v1m2-1v1m2-2v1m2 0v1m2-2v1m2-1v1m2 0v1m2-1v1m2 0v1m4-1v2m2-1v1m2-1v1m2 0v1m2-1v2m6-1v1m2-1v1m2 1v1m58-40v1m2-1v1m40 15v1m10 0v1m2-1v1m12 1v1m6-1v1m2-1v1m48 2v1m2 0v1m26-2v1m12-1v1m4 0v1m20-2v1m12-1v1m4-1v1m10-1v1m18-1v1m46 1v1m28-1v1m12-1v1m24-2v1m8 1v1m2-1v1m4 0v1m4-1v1m10 0v1m2-1v1m2-1v1m20 0v1m24 0v1m16 0v1m12-2v1m14-1v1m8-3v1m20-1v1m6-1v1m2-1v1m4-2v1m28-2v1m12 0v1m24 0v1m10-1v1m4-1v1m18-2v1m4 0v1m4-1v1m12-2v1m6-2v1m2 0v1m4-1v1m6 0v1m4-2v1m2 0v1m26-4v1m8-2v1m20 2v1m6-2v1m10 1v1m6-2v1m4 0v1m16-8v1m8-7v1m2 0v1m12 3v1m2-2v1m2 0v1m4-1v1m4 0v1m2-2v1"/>
<path stroke="#1a1aff" d="M422 70v1m4-1v1m8-1v1m4 0v1m2 0v1m2-2v1m2 0v1m2-2v1m4-1v1m4 0v1m2-1v1m2-1v1m2-1v1m2-1v1m6 1v1m2-2v1m4 0v1m4 0v1m2 0v1m2-2v1m2 0v1m2 0v1m2-1v1m2 0v1m2-1v1m2-1v1m2-1v1m2-1v1m2-2v1m8 0v1m2-2v1m2 0v1m2-2v1m2-1v1m2 0v1m2-1v1m2 0v1m6 0v1m2-1v1m2 0v1m8 0v1m2-1v1m2 1v1m22-36v1m2 2v1m0-27v1m18 7v1m8 2v1m16 10v1m4 1v1m82 14v1m2-2v1m20 1v1m4 0v1m6-3v1m10-1v1m2 0v1m4-1v1m4-1v1m2-1v1m20-1v1m8-1v1m8-1v1m6-1v1m2 0v1m16-2v1m14 0v1m2-2v1m2-1v1m28-2v1m14 1v1m4-1v1m6 0v1m40 0v1m18-1v1m8-2v1m16 1v1m16 0v1m2-1v1m8 0v1m2-1v1m14 0v1m2-1v1m4-1v1m6-1v1m14-2v1m2 0v1m4-2v1m6 0v1m8 0v1m4-2v1m28-3v1m20 0v1m28-2v1m8-3v1m16-1v1m12 2v1m2-1v1m2-2v1m2-1v1m18-1v1m12-1v1m10-2v1m2 0v1m4-1v1m2-2v1m6-1v1m4-1v1m6 0v1m6-2v1m30-4v1m12 1v1m2-2v1m16 2v1m10-1v1m2-2v1m4-1v1m16-5v1m14-4v1m2-1v1m4-1v1m24 0v1"/>
<path stroke="#0000f6" d="M418 70v1m2 0v1m4-1v1m4-1v1m2-1v1m4-1v1m2-1v1m4-66v1m6 65v1m2-1v1m4-1v1m2 0v1m6-1v1m4-1v1m2 0v1m4-1v1m2-1v1m2 0v1m2-1v1m2 0v1m4-1v1m2 0v1m2 0v1m6 0v1m2-1v1m4-1v1m2-2v1m2-1v1m2-1v1m2-1v1m4-1v1m2 0v1m2-2v1m2-1v1m4 0v1m2 0v1m4-1v1m2 0v1m2-1v1m4 0v1m6 0v1m2-1v1m16-56v1m26 4v1m16 7v1m12 7v1m6 3v1m4 1v1m4-1v1m6 2v1m6 1v1m10 0v1m4 0v1m6-2v1m20 1v1m10-1v1m6 0v1m10-2v1m42 2v1m12-2v1m38 0v1m6-2v1m4 0v1m10-1v1m34-1v1m22 1v1m14-1v1m4-1v1m20 0v1m2-2v1m12 1v1m24-3v1m16 2v1m28 1v1m30-1v1m26-1v1m10-1v1m8-3v1m4 0v1m14-2v1m2-2v1m26 0v1m8-2v1m2 0v1m6 21v6m4-27v1m14-4v1m2-1v1m4-2v1m4 0v1m20 2v1m8-1v1m2-1v1m2-2v1m6 0v1m4-3v1m8-1v1m2 0v1m36-1v1m32-4v1m2-1v1m2 0v1m8-2v1m2 0v1m14 1v1m18-2v1m4-1v1m6-6v1m6-2v1m2-3v1m2-2v1m14 0v1m18 1v1"/>
<path stroke="#0000ff" d="M418 71v1m4-1v1m4-1v1m4 0v1m8-1v1m2 0v1m2-2v1m2 0v1m4-1v1m2-2v1m6 0v1m2-1v1m4-1v1m2 0v1m4 0v1m4-1v1m8 1v1m8 0v1m2 0v1m2 0v1m2-1v1m2-2v1m4-1v1m2-1v1m2-1v1m2-1v1m2-1v1m2-1v1m4-1v1m2-1v1m2-1v1m2 0v1m6 0v1m2-39v1m0-17v1m2 54v1m2-1v1m2 0v1m6 0v1m2-1v1m2 0v1m0-61v1m44 9v1m4 0v1m50 23v1m20 2v1m18-1v1m4 0v1m18-1v1m18 1v1m16 0v1m18-2v1m2-1v1m16 0v1m2-1v1m10-2v1m14-1v1m10 0v1m4-2v1m36 0v1m6-1v1m4-1v1m10-2v1m14 2v1m6-3v1m10 1v1m16-1v1m2-1v1m6 0v1m20-3v1m2 0v1m22 1v1m10 0v1m6-1v1m4 0v1m12-1v1m14-1v1m8-2v1m8 0v1m10 0v1m14-1v1m4-1v1m6-1v1m36-4v1m6-1v1m4 0v1m6-2v1m2-1v1m12 27v1m6-29v1m8-3v1m16 0v1m96 0v1m44-2v1m10-2v1m16 1v1m20-13v1m2 0v1m6 2v1m12-1v1m4 0v1m4-1v1m4-1v1"/>
<path stroke="#0012ff" d="M420 72v1m2-1v1m2-1v1m2-1v1m2-1v1m6-1v1m2-1v1m8-56v1m2 55v1m6-1v1m2 0v1m4-1v1m2-1v1m2-1v1m4 0v1m4-1v1m4 0v1m2-1v1m2 0v1m4-1v1m2 0v1m2 0v1m2-1v1m2 0v1m6-1v1m2-1v1m6-1v1m2-1v1m2-1v1m4-1v1m0-43v1m4 2v1m2 38v1m4 0v1m4 0v1m0-16v1m2 14v1m2 0v1m0-60v1m2 58v1m0-57v1m2 56v1m8 0v1m2 0v1m0-40v1m8-20v1m4-1v1m6 19v1m58 35v6m0-35v1m26 5v1m120 5v1m10-1v1m28-1v1m56-1v1m2 0v1m2-2v1m14 1v1m6-1v1m22-1v1m2 0v1m10-2v1m22 0v1m10-1v1m2-1v1m4 0v1m4-1v1m10 0v1m2-1v1m2-1v1m20 0v1m40 1v1m10-1v1m2-2v1m14-1v1m8-3v1m56-2v1m4-2v1m10-1v1m6-1v1m18 0v1m16 0v1m32-2v1m22-1v1m16-2v1m2 0v1m2-2v1m4-1v1m8-2v1m4-1v1m2-1v1m12-1v1m10 1v1m4-2v1m4-1v1m6 0v1m22-3v1m2-2v1m6-4v1m22-2v1m2-2v1m2 0v1m4-1v1"/>
<path stroke="#0027ff" d="M430 73v1m8-1v1m2 0v1m2-2v1m2 0v1m4-1v1m2-2v1m6 0v1m8 0v1m4 0v1m12 1v1m10-7v1m2 8v1m2-1v1m4-1v1m2-2v1m2-1v1m0-12v1m6-35v1m0-6v1m2 49v1m0-52v1m4 50v1m2-1v1m0-22v1m4 21v1m2-54v1m4 15v1m2 38v1m6-57v1m6 57v1m0-57v1m2-4v1m2 60v1m8-1v1m4-1v1m2-1v1m26-54v1m2 0v1m12 5v1m22 48v8m0-22v8m34-22v1m2-1v1m12 1v1m6-1v1m2-1v1m48 2v1m14-2v1m14 0v1m12-1v1m4 0v1m2-2v1m18-1v1m12-1v1m10-1v1m4-1v1m18-1v1m24-2v1m18 1v1m38 0v1m8 0v1m18-1v1m8-2v1m2-1v1m14 1v1m16 0v1m2-1v1m8 0v1m2-1v1m14 0v1m2-1v1m4-1v1m6-1v1m2-1v1m12-2v1m6-1v1m6 0v1m12-1v1m34-3v1m6-1v1m2-1v1m4-2v1m2 20v6m0-25v1m38-3v1m10-3v1m14 2v1m6-1v1m2-1v1m2-1v1m18-1v1m4-2v1m4 0v1m22-3v1m6 0v1m6 0v1m4-2v1m8-1v1m4 22v3m2-2v4m14-30v1m6-2v1m2-1v1m36 3v1m6-2v1m34-8v1m4-1v1m2-2v1m14 1v1m8-1v1"/>
<path stroke="#003cff" d="M418 72v1m28-56v1m0-6v1m26 63v1m10-8v1m10 2v1m20 8v1m0-55v1m2 0v1m2 0v1m2 11v1m0-18v1m4 57v1m20-36v1m2-22v1m8 40v20m2-18v19m8-61v1m32 10v1m14 9v1m12 49v2m24-39v1m54 3v1m20 1v1m10-2v1m12 0v1m4-1v1m4-1v1m2-1v1m8-2v1m20 0v1m8-1v1m6-1v1m4-1v1m6-2v1m24 0v1m2-1v1m22-1v1m20 0v1m10 0v1m10-1v1m16 22v6m4-28v1m14 0v1m14 23v3m54-24v1m24 19v2m4-23v1m2 0v1m10-1v1m16-1v1m2 0v1m8-2v1m8-3v1m16-1v1m2-1v1m2-2v1m16 26v2m0-9v1m10-20v1m8-2v1m2 0v1m8-1v1m2 18v8m10-7v5m24-24v1m2-1v1m18-1v1m4-2v1m8 20v6m6-27v1m8-2v1m4-1v1m8-1v1m6-1v1m6 0v1m4-1v1m10 24v2m0-7v2m2 5v1m10-30v1m24-2v1m2-1v1m6 1v1m20-1v1m6 0v1m12-7v1m2 0v1m6-5v1m2-2v1m2-3v1m4 3v1"/>
<path stroke="#0051ff" d="M440 0v1m12 73v1m12 16v8m2-23v1m16 1v1m2 0v1m2 0v1m36-38v1m4 17v1m2-34v1m4 55v1m2-40v1m6-1v1m4 0v1m2 16v24m0-58v1m18 19v1m16-23v1m8 8v1m4 0v1m12 7v1m10 5v1m8 4v1m4-1v1m22 5v1m10-1v1m20 1v1m10-1v1m8 1v1m8-3v1m22 3v1m20-2v1m48 0v1m4-2v1m8-1v1m10-1v1m8 0v1m48 0v1m14-1v1m2 20v8m0-30v1m18 29v2m8-30v1m2-1v1m6 0v1m2 19v7m14 0v2m0-6v1m4-26v1m2 0v1m4 24v3m16-26v1m18 0v1m4 0v1m12-1v1m14-1v1m4 21v3m0-7v2m12-20v1m42-2v1m34-2v1m4 0v1m6 18v6m0-26v1m2-1v1m12 19v1m0-22v1m4 27v1m0-27v1m10 23v2m0-8v1m4-22v1m8-1v1m4 0v1m12 21v5m6-25v1m8-1v1m4-2v1m6 0v1m4 25v1m0-29v1m4 0v1m4-2v1m8 0v1m4-1v1m2-2v1m6-1v1m8 23v2m8-3v2m0-25v1m8 27v1m28-31v1m6 0v1m6-1v1m12 1v1m2-1v1m4-3v1m4 1v1m6-2v1m8-1v1m12-7v1m8-5v1m6 2v1m12-1v1m2 0v1m2-1v1m4-1v1m2-1v1"/>
<path stroke="#0065ff" d="M420 73v1m4-1v1m4-1v1m2 9v16m4-14v14m2-26v1m6-48v1m10 61v11m10-8v8m10-8v8m4-22v1m30-44v1m4 0v1m16-8v1m6-1v1m12-2v1m10 40v1m4 1v17m8-60v1m16 0v1m6 39v30m12-56v1m10 6v1m2 0v1m6 3v1m2 20v1m12-17v1m6 1v1m4-1v1m10 1v1m10 0v1m6 20v11m12-32v1m4 0v1m10-1v1m26 1v1m2 0v1m14-1v1m18-2v1m2-1v1m16 0v1m2-1v1m2-1v1m8-2v1m28-1v1m36 0v1m6-1v1m4-1v1m2 21v7m8-30v1m14 2v1m6 27v1m0-10v1m10-20v1m8-1v1m4 21v6m8-28v1m6 27v2m0-10v1m16-20v1m8 26v2m0-6v1m0-25v1m2 0v1m16 0v1m6 0v1m2-1v1m2-1v1m18 0v1m22 24v1m22-25v1m14-1v1m4-1v1m4-1v1m2-1v1m36-4v1m16 25v2m0-9v1m10-20v1m10-1v1m4-2v1m2 21v3m2 3v1m0-10v1m0-21v1m6-1v1m4-2v1m4 23v5m0-28v1m6 1v1m2 20v5m2-5v5m4 0v2m0-8v1m4-2v7m34-26v1m26 24v2m0-6v2m8 1v3m0-8v3m6-23v1m6 0v1m10-3v1m12-2v1m4 0v1m6 22v5m36-27v1m14-6v1m22-2v1m2-2v1m2 0v1m14-1v1"/>
<path stroke="#007aff" d="M418 82v17m6-16v16m4-16v16m6-26v1m4 11v14m4-13v13m4-13v13m0-73v1m2 60v12m4-73v1m2 61v11m6-7v7m2-9v1m4 0v8m2-8v8m2-8v8m0-23v1m18 3v1m8 0v1m12-1v1m0-21v1m4-1v1m0-25v1m6 43v1m2-41v1m2-13v1m6 12v1m2-18v1m4 59v1m0-58v1m6 1v1m2 15v1m0-20v1m2 17v1m2 41v1m8-59v1m6-2v1m4-2v1m12 0v1m2-1v1m6 6v1m2 0v1m2 61v1m0-32v1m14-23v1m16 31v20m8-15v13m6-15v18m14-36v1m8 21v14m0-35v1m14 32v3m0-17v3m34-20v1m36 1v1m28 0v1m2 0v1m32-2v1m4-1v1m4-1v1m52 28v2m0-11v2m0-22v1m2 0v1m2-2v1m10 0v1m4 0v1m6-1v1m4 28v1m20-29v1m2 26v2m0-9v1m2-22v1m8 0v1m2 18v8m16-27v1m8-2v1m6 0v1m4 0v1m4-1v1m2-1v1m8 0v1m8-1v1m2 18v7m0-26v1m8 0v1m2-1v1m14 0v1m2-1v1m4-1v1m6-1v1m2-1v1m12-2v1m4 1v1m2-3v1m6 19v4m0-23v1m2 0v1m2-2v1m8-1v1m14-3v1m20-1v1m6-1v1m2-1v1m4-2v1m30 19v5m10-1v3m0-9v3m6-2v7m6-9v8m4 1v1m0-7v1m8 5v1m0-7v1m2 5v2m0-8v1m2 1v2m6 2v2m0-10v1m4 3v5m0-26v1m32-2v1m24 26v1m8-1v1m2-28v1m12-2v1m12-2v1m2-1v1m4-2v1m8 0v1m4 27v2m0-8v1m10-22v1m2-1v1m2-1v1m6 0v1m12 20v5m6-26v1m4-3v1m2 16v11m0-29v1m20-5v1m4-1v1m2-2v1m14 1v1m8-1v1"/>
<path stroke="#008fff" d="M420 82v17m6-16v16m20-25v1m2-38v1m2 0v1m4 36v1m4 15v8m2-24v1m0-45v1m14 61v6m0-22v1m4 0v1m12-17v1m10 8v1m0-8v1m6 16v1m4-20v1m4-26v1m2 2v1m2 18v1m8-17v1m2-15v1m12 22v1m4-25v1m12 40v18m2-18v1m10-43v1m20 71v1m6-27v20m18-15v17m6 2v2m0-23v1m2-21v1m2 24v15m4-1v4m0-21v4m6 16v2m0-21v1m22 18v1m0-16v1m2-21v1m12 35v1m6-35v1m2-1v1m74 2v1m2-1v1m12 20v9m0-30v1m6-1v1m18-1v1m14-2v1m8 0v1m4-1v1m12-1v1m6-1v1m18-1v1m6-2v1m4 31v1m12-11v9m8-28v1m10-1v1m22 20v7m10 0v1m0-10v1m2-18v1m28 22v4m10-7v6m16-6v6m2 1v1m12-25v1m28-2v1m2 0v1m10-1v1m10 22v2m0-7v1m6-19v1m10-1v1m8-3v1m16-1v1m4-2v1m12 21v4m4-24v1m10 18v4m8-25v1m4 19v7m6-2v2m0-9v2m0-19v1m10 25v1m4-29v1m2 26v2m6-3v2m0-12v2m4 10v1m2-8v7m6 0v1m0-27v1m4 22v3m0-8v3m2-21v1m2-1v1m2-1v1m4 25v1m14-9v7m0-25v1m4-2v1m4 19v5m22-26v1m6 0v1m4-1v1m18-1v1m2-2v1m14-2v1m6-2v1m10 20v9m10-27v1m16 20v5m0-27v1m2 1v1m6-2v1m2 25v1m0-8v2m12 5v1m0-13v1m2-20v1m8 18v12m0-34v1m2-2v1m2-3v1m2 0v1m2 2v1m4-1v1"/>
<path stroke="#00a4ff" d="M422 82v17m14-14v14m0-74v1m2 11v1m2-33v1m10 81v12m0-72v1m6 61v10m10-9v1m10 4v4m6-39v1m8 20v1m8-18v1m8-2v1m6-36v1m4 39v1m2-1v1m0-29v1m0-16v1m4 16v1m4 40v1m2-22v1m2 21v1m2-41v1m0-16v1m2 14v1m10-1v1m10 2v1m4-19v1m8 20v1m2 2v1m20-17v1m4 33v24m0-57v1m2 54v5m0-30v5m0-34v1m4 2v1m14 52v4m0-24v3m6 21v1m4-4v3m0-21v3m4 18v1m18-17v14m0-35v1m2 22v12m8 2v1m4-37v1m10 1v1m36-1v1m20 21v10m0-29v1m4-2v1m12 0v1m4-1v1m4-1v1m10-2v1m6 30v1m0-11v1m10-1v10m4-30v1m8-1v1m6-1v1m4-1v1m2-1v1m30-1v1m42 0v1m2 28v2m14-8v7m0-29v1m2-2v1m22 1v1m2 26v1m0-9v1m2 3v1m0-24v1m2-1v1m6 27v1m0-28v1m20-3v1m2 0v1m8 27v1m10-2v2m0-9v1m2-19v1m6 19v5m8 0v2m34-25v1m16-1v1m22 0v1m20-3v1m14-2v1m14 24v1m0-6v1m6-21v1m4 19v6m4-2v2m0-8v2m0-20v1m4-1v1m6-1v1m2 25v1m4-28v1m2 26v1m10-28v1m10-3v1m2 28v1m2-10v9m4 0v1m4-5v1m6 3v1m0-26v1m4 18v5m14-24v1m4 18v4m0-24v1m2 24v2m0-10v1m6-19v1m2 24v2m0-9v2m0-19v1m4-1v1m12-2v1m18 0v1m2-1v1m2-2v1m8-1v1m18 19v5m18 2v1m4-30v1m2-1v1m20 27v1m0-7v1m6-21v1m4 26v1m2-27v1m10 25v1m4-32v1m4-3v1m2 31v1m0-14v1m20-21v1m4-1v1m2 0v1m2-1v1m4-1v1m2-1v1"/>
<path stroke="#00b9ff" d="M424 82v1m2-10v1m0-46v1m8 55v1m6 0v14m4-13v13m0-86v1m14 61v1m2 15v1m2-17v1m16 19v4m12-28v1m6-10v1m6 0v1m2 17v1m2-50v1m2 1v1m2-5v1m6-1v1m4 30v1m0-35v1m6 38v1m2-37v1m14 55v1m0-42v1m0-18v1m2 0v1m48 65v4m0-32v4m2 27v2m0-33v1m18 31v1m10-1v1m22-3v2m0-18v2m2 14v2m0-16v2m2 0v12m0-34v1m10 21v13m20-33v1m2-1v1m8-1v1m10 22v6m0-28v1m4 20v11m16-8v8m0-30v1m6 28v2m0-14v2m16 3v5m6-27v1m10-1v1m8 30v1m10-2v1m0-13v2m10-20v1m2 20v6m20-27v1m10-1v1m44 18v1m8-20v1m18 30v1m0-9v1m12 1v5m14 1v1m2-5v4m0-9v4m4-23v1m2 20v7m20-27v1m2 22v1m6-25v1m2 0v1m12 0v1m2 20v3m2-24v1m4 24v1m0-7v1m4-19v1m2-1v1m6-1v1m4 18v5m0-23v1m12-1v1m32 17v6m8-4v4m14-7v6m0-22v1m4-1v1m6-1v1m34 15v6m2 1v1m0-8v1m0-20v1m10 25v1m0-26v1m4 24v1m2-27v1m10-1v1m8 0v1m2-2v1m4 17v6m0-25v1m4-2v1m2 21v3m2-6v1m4-2v10m4 0v1m0-11v1m4-18v1m4 23v3m0-7v3m4-21v1m6 23v1m0-7v1m4-19v1m8-1v1m4-2v1m2 23v2m0-8v2m6-2v8m4 0v1m6-5v3m6-26v1m12-1v1m6-1v1m8 19v5m2-24v1m2-2v1m20-2v1m2 25v2m0-9v2m14-22v1m6 20v7m0-27v1m6-1v1m4 0v1m6 21v4m4-25v1m4 25v1m2-7v6m6-8v8m2-27v1m8-1v1m10-6v1m4 31v1m16-35v1m6 0v1m14-1v1"/>
<path stroke="#00ceff" d="M422 73v1m2-39v1m6-2v1m14-19v1m10 20v1m0-12v1m26 68v4m4 0v1m4-37v1m4-1v1m10 17v1m6-51v1m2 49v1m2-13v1m2 0v1m2-11v1m4 21v1m0-16v1m2-7v1m0-32v1m4-2v1m4-4v1m4 2v1m6 56v1m0-56v1m12-3v1m4-1v1m2 0v20m26-14v1m2 0v1m6 61v1m16-51v1m6 2v1m8 4v1m4-1v1m6 2v1m6 24v9m0-32v1m4-1v1m2 36v1m2-1v1m2-3v2m0-17v3m4-21v1m6 33v1m0-15v1m16-1v14m10-32v1m10-1v1m2 0v1m2 26v4m0-14v4m4 10v2m0-14v1m16 11v2m0-11v1m2-22v1m2 21v8m2 1v1m2-13v11m10-29v1m2-2v1m2 26v4m0-12v3m14-22v1m14 21v7m4-28v1m2 29v1m2-31v1m8 16v12m2-3v4m0-13v3m8-20v1m30-1v1m24-1v1m6-1v1m4-1v1m14 18v1m0-19v1m2-1v1m4 0v1m4 20v6m0-27v1m2-1v1m14 26v2m0-8v1m0-22v1m8-1v1m2 20v6m4-27v1m2 27v1m2-6v5m4 0v1m0-28v1m18-1v1m2 18v7m2-2v3m0-7v3m4-2v6m0-28v1m6 0v1m4 20v6m0-26v1m4-1v1m4 23v2m0-7v2m6 5v1m2-26v1m8-1v1m6 23v1m0-7v1m2 0v5m2-23v1m4-1v1m16 19v4m0-23v1m6-1v1m2-1v1m12 22v1m0-25v1m4 1v1m2-3v1m2 23v1m0-6v1m0-19v1m6 0v1m8 20v1m0-8v1m2-16v1m4-1v1m2-1v1m8 16v5m0-24v1m18 17v6m2-4v3m0-23v1m6 17v6m2 0v2m0-9v1m4-19v1m16 19v5m4-6v6m18-1v2m0-10v2m6 5v3m0-8v2m2-22v1m4 27v1m2-30v1m2 0v1m8 27v1m0-27v1m10 25v1m6-26v1m12 24v1m4-26v1m2 24v1m6-27v1m4 24v2m0-6v1m0-23v1m4 21v4m4-25v1m4-1v1m8-2v1m6 20v5m6-1v2m0-9v2m10-20v1m16 26v1m0-29v1m4 18v9m6-29v1m2-1v1m4 0v1m4 26v1m0-9v1m10 1v6m6 0v2m0-7v1m0-22v1m2 20v4m0-24v1m8 25v1m0-8v1m2-20v1m4 25v1m0-10v1m6-19v1m2 18v8m4-28v1m6 15v11m2-6v2m6-30v1m2 20v13m0-36v1m2 0v1m4 2v1m4-1v1m4-1v1m12 0v1m8-1v1"/>
<path stroke="#00e2f9" d="M436 99v1m0-16v1m2-85v1m2 0v1m6 14v1m0-4v1m8 85v1m4-10v1m10-14v1m2 21v1m2-1v1m8-21v1m4-18v1m12 8v1m2-1v1m2 9v1m4-19v1m6 5v1m0-36v1m2 1v1m2 44v1m0-21v1m0-33v1m8 36v1m0-26v1m4 20v1m0-21v1m2-12v1m2 12v1m2-15v1m8 13v1m4-15v1m8 35v1m10-18v1m2 23v27m18-18v18m18-57v1m4 2v1m8 4v1m6 3v1m20 38v4m0-17v4m8-22v1m2 35v1m6-36v1m4 34v1m4-15v13m0-33v1m12 32v1m0-16v1m6 1v12m18 1v2m0-17v1m4-18v1m20 31v2m0-11v1m0-21v1m4 28v1m0-13v1m0-18v1m14 29v1m4-11v8m8-8v8m16 0v2m0-11v2m0-20v1m6-2v1m10 28v2m0-15v1m2 13v1m0-15v1m14-17v1m4 20v6m0-27v1m4 20v6m4-8v8m0-28v1m36 20v9m8-30v1m4 0v1m2 0v1m2-2v1m18 28v2m0-9v1m8-3v9m0-27v1m18 26v2m0-9v1m0-20v1m8 26v1m4-9v1m4-19v1m16 24v2m2-1v1m0-29v1m4 27v1m0-8v1m10 6v1m0-8v1m8 6v1m6-26v1m4 18v6m4-25v1m2 16v1m6 7v1m2-2v2m0-8v1m0-18v1m4 0v1m12 19v2m0-22v1m2-1v1m4 22v1m10-25v1m2 0v1m10-1v1m10-1v1m4-1v1m4 16v6m2 0v1m0-10v1m8 3v3m2-2v2m4-23v1m2 23v1m0-8v2m14 1v3m4 1v2m0-9v1m0-19v1m2 23v2m0-6v1m6 4v1m0-8v1m0-18v1m2-1v1m4 19v4m4-3v2m12 1v1m0-7v1m4 5v1m0-8v1m0-19v1m2 20v3m6-24v1m6 19v5m4 1v1m6-1v1m4-29v1m8-1v1m8 2v1m6-1v1m4-1v1m20 17v7m14-26v1m2 24v1m0-6v1m10-3v7m0-26v1m2 20v6m0-27v1m8 20v5m2 0v1m0-7v1m6 6v1m16-27v1m14 25v1m0-29v1m2 20v4m0-25v1m2-2v1m10 0v1m2 27v1m0-11v1m10 8v2m0-9v1m2-20v1m6 24v2m0-8v2m2-1v6m2-25v1m2-2v1m4 18v8m12 0v1m0-27v1m2 17v7m4-28v1m2-3v1m2 29v1m0-13v1m2 7v5m0-11v4m2-6v12m2-33v1m4 32v1m0-15v1m4-19v1m4-1v1m4 19v12m8-32v1m4 19v11"/>
<path stroke="#0ef7e9" d="M428 26v1m10 47v1m0-48v1m2 47v1m2 9v1m0-12v1m2 0v1m6-2v1m2-38v1m6-8v1m4 68v1m8-10v1m4 8v1m2-1v1m4-1v1m2-5v5m8-1v1m2-29v1m20-43v1m4 51v1m0-43v1m2 59v1m0-61v1m0-14v1m12 72v1m12-71v1m2 69v1m8-12v1m10-61v1m4 45v26m10-21v21m12-62v1m20 34v25m2-25v24m0-47v1m28 47v2m18-36v1m6 33v1m0-15v1m12 14v1m6-3v2m0-16v2m46 14v1m10-11v9m4-29v1m4 27v2m0-12v2m6-20v1m2 27v2m0-12v2m12-20v1m2-1v1m2 29v1m0-13v1m2-19v1m6 18v10m2-29v1m10-1v1m4 20v8m10-30v1m2 27v3m0-11v2m4 6v3m0-12v3m0-21v1m2-1v1m2 26v3m0-13v2m2-19v1m12-1v1m2 20v7m4-28v1m16 28v1m0-11v1m2-20v1m4 18v10m8-9v7m8-26v1m10 0v1m2 18v1m6-21v1m2 27v1m0-11v1m20-17v1m4-1v1m2 20v1m0-22v1m2 17v7m0-25v1m4 0v1m22-2v1m4-1v1m16 1v1m10 24v1m2-8v7m2-8v1m16 2v5m10-1v2m0-5v1m2-1v4m6-23v1m6 17v5m28-4v4m2-23v1m2 22v1m0-23v1m10 19v2m0-7v2m2 3v2m0-6v2m6 4v1m2-6v4m12-1v2m0-8v3m0-20v1m2-1v1m4 24v1m6-1v1m6-2v2m0-7v1m2-19v1m2 21v2m0-7v3m0-21v1m8-1v1m4 24v1m0-26v1m4 24v1m2-3v2m0-7v2m0-20v1m8-1v1m4 23v1m0-7v1m10-21v1m28 1v1m6 18v1m16 5v1m2-27v1m14 25v1m0-27v1m10 24v1m0-9v1m2 8v1m0-8v1m6-20v1m2 24v1m0-7v1m2 6v1m0-27v1m12-1v1m2 18v6m4-25v1m2-2v1m4-1v1m10-2v1m4 24v3m0-10v3m8-1v7m10-27v1m4 1v1m6-2v1m4 26v1m2-2v2m0-9v1m2 2v2m4-22v1m2 24v1m0-10v1m14 7v2m0-10v1m2 0v6m6 2v1m0-31v1m2 29v1m2-2v1m0-14v1m0-19v1m6 31v1m12-2v2m0-15v1m4-20v1m6 0v1m2 29v2m0-15v2m0-19v1m4-1v1"/>
<path stroke="#1fffd8" d="M418 99v1m12-1v1m4-1v1m4-96v1m10 70v1m4 23v1m4-25v1m0-40v1m8 62v1m18-32v1m2-1v1m6-6v1m2 18v1m2-1v1m0-12v1m2 27v1m8-1v1m4-68v2m12 6v1m2-10v1m4 67v1m0-70v1m2 53v1m4 14v1m2-70v1m12-1v1m12 57v1m4-17v28m16-20v20m2-72v1m4 42v26m8-58v1m2 0v1m8 32v25m6 0v1m0-27v1m2 24v2m0-28v2m10-16v1m18 22v1m4 2v14m2-34v1m14 0v1m4 34v1m6-34v1m6-1v1m2-1v1m4 32v1m16-15v13m8-32v1m20 2v1m4 20v8m0-30v1m8 29v1m0-11v1m8 10v1m0-31v1m4 16v12m0-29v1m4 29v1m0-31v1m2 20v7m4-29v1m12 22v5m6 2v1m0-12v1m2 2v8m8-29v1m6 28v2m0-11v1m0-21v1m4-1v1m2-1v1m6 29v1m4-1v1m4-1v1m0-15v1m2 6v2m2-25v1m8 18v10m2-10v9m2 0v2m0-11v2m0-21v1m20 29v1m2-12v8m4 2v1m0-13v2m8 8v3m0-13v3m6 1v7m18-26v1m4 27v1m22-11v1m6 7v2m0-11v2m32-17v1m2 20v1m10-21v1m4 15v9m0-25v1m8 0v1m2 23v1m0-9v1m12-1v1m6 7v1m4-3v3m0-24v1m8 22v1m0-6v1m12 4v1m10-24v1m18 22v1m0-6v1m10-1v4m4 1v1m2-1v1m0-8v1m0-16v1m8 20v2m0-7v1m0-19v1m12 23v1m16-26v1m6 24v1m10-26v1m8 24v1m2-26v1m8 0v1m2 23v1m0-9v1m0-18v1m4-2v1m2-1v1m8 17v7m8-7v1m2-1v1m0-19v1m10 1v1m16 20v2m2-23v1m2-2v1m2-1v1m2-1v1m6-2v1m2 0v1m16 16v8m4 0v1m6-7v5m2-3v1m2 3v1m6-26v1m2-2v1m2 19v6m6-1v2m0-9v1m2 3v1m4-2v1m4-3v7m6-6v5m4-4v3m4 2v1m4-8v7m4-1v1m0-10v2m8-20v1m2 21v5m4-5v5m4-4v3m2-5v6m2-6v1m6 3v3m0-8v3m8-2v5m0-24v1m2-1v1m4 0v1m6-2v1m2 23v2m0-10v2m8-4v1m0-20v1m2 30v1m2-16v1m4-22v1m2 24v8m2-10v11m8-31v1m4 19v11m2-30v1m6 31v1m6-33v1m2-1v1m2 19v10"/>
<path stroke="#30ffc7" d="M422 99v1m8-26v1m6-41v1m2 49v1m2-81v1m4 31v1m4 62v1m8-71v1m2 69v1m6-24v1m4 22v1m6-8v1m4 6v1m10-32v1m2 1v1m4 28v1m0-36v1m4 31v4m0-18v1m2 16v1m2-4v3m0-31v1m8 30v1m0-69v1m2 67v1m0-65v1m2 0v1m2 58v5m0-33v1m0-37v1m2 28v1m4 38v1m0-60v1m4 24v1m0-25v1m2 57v1m2-4v3m0-72v1m2 68v3m2 0v1m0-57v1m6 55v1m0-68v1m2 64v3m2-12v1m2-27v1m10 36v1m0-12v1m2 10v1m2-29v29m4-50v1m2-23v1m2 44v27m12-22v22m2-71v1m2 67v2m0-30v2m0-34v1m2 33v26m12-54v1m2 27v27m2 0v1m0-28v2m0-27v1m2 25v26m4 1v1m2-1v1m0-30v1m8 4v1m24 21v2m0-18v2m6-19v1m4 19v13m26-31v1m2-1v1m8 18v13m0-32v1m6 18v13m2 0v1m0-15v1m22-16v1m2-1v1m8 28v2m0-11v1m8 9v1m4-14v1m6-18v1m2 28v2m0-15v1m6 11v2m0-11v2m2-21v1m14 26v3m0-11v3m6 8v1m2-2v1m0-11v2m6-21v1m10 20v6m10-9v1m2 2v6m0-27v1m8 24v4m0-11v5m10 6v1m0-12v1m2 9v2m0-13v2m2 11v1m22-4v3m0-13v2m4 11v1m8-1v1m6-3v2m0-11v2m0-21v1m6 1v1m14 16v1m18-17v1m6-1v1m6 26v1m2-27v1m18-1v1m2-1v1m6-2v1m6 0v1m4 0v1m10 24v1m0-11v1m6-15v1m4-1v1m4-1v1m2-1v1m4 0v1m4-1v1m4-1v1m16 0v1m6-1v1m4 16v5m2-5v2m8-20v1m2 19v3m4-23v1m2 0v1m10 15v6m4-22v1m2-1v1m2 20v2m0-7v1m0-17v1m2 15v6m0-22v1m2-1v1m6-3v1m2-1v1m16 16v7m4-24v1m20-1v1m30 12v1m4-17v1m6 25v1m0-9v1m2-20v1m12 2v1m4 0v1m10-1v1m8 22v2m0-5v1m0-21v1m4 17v5m8-8v1m2 1v1m4 0v5m2-24v1m12 24v1m0-10v1m0-18v1m8 21v3m0-25v1m2 24v2m0-8v1m2 3v3m0-7v3m6-21v1m2 18v6m4 0v1m2-27v1m4-1v1m2 22v3m0-7v3m8 4v1m6-2v1m0-8v2m2-21v1m2 24v2m0-7v2m2-5v1m6 9v1m0-29v1m4 27v1m0-29v1m2 20v5m4-25v1m4 25v2m0-8v1m2-21v1m2 25v2m0-8v1m4 4v2m0-7v2m2 4v1m0-9v2m2-19v1m6 25v1m2-9v1m6 5v2m0-9v2m4-19v1m2 20v2m2-2v3m6 2v1m14-11v6m0-30v1m4 30v3m0-14v3m0-24v1m2 32v2m0-15v2m2-19v1m2 21v6m2-28v1m4-1v1m2 29v2m0-15v2m18 11v2m0-14v2m0-19v1"/>
<path stroke="#41ffb6" d="M418 81v1m0-9v1m6-46v1m2 70v1m0-65v1m2 63v1m6-65v1m6-34v1m2 31v1m2 64v1m0-86v2m2-2v2m10 83v1m10-1v1m6-10v1m0-14v1m12 17v4m2-4v4m4-3v3m2 0v1m4-4v3m4-3v3m0-34v1m2 33v1m2-4v3m4 0v1m2-67v1m2 62v3m0-17v1m0-53v1m2 64v5m2-39v1m2 34v3m0-32v1m0-30v1m0-12v1m2 67v4m0-71v1m2 54v1m0-52v1m4 63v3m0-36v1m6-21v1m2 52v3m8-55v1m0-15v1m4 68v1m6-3v3m2-1v1m0-12v1m0-59v1m2 66v2m0-31v1m2 29v1m2-70v1m4-2v1m12 0v1m2-1v1m6 69v1m2-3v2m0-30v2m0-33v1m14 59v1m0-30v2m2 28v1m2-2v1m0-28v1m10 6v20m0-45v1m8 23v1m0-20v1m4-1v1m6 2v1m10 37v1m0-20v1m0-18v1m10 33v2m0-17v2m0-19v1m2-1v1m22 21v8m8-10v13m4 0v1m0-15v1m6 13v1m0-15v1m2 14v1m2-33v1m22 21v9m16-28v1m2-2v1m12 18v10m4 1v1m0-31v1m12 18v10m2-27v1m2 27v1m2-30v1m4-1v1m2 28v1m16-4v3m0-12v3m0-20v1m6 16v11m6-2v3m0-11v2m8 8v2m0-14v1m10 12v1m2-1v1m22-30v1m2 28v1m0-15v1m12-15v1m6 27v1m0-13v1m4-17v1m6 18v8m0-26v1m2 19v5m2-25v1m2-1v1m4-2v1m2 0v1m8-1v1m8 18v1m18-18v1m18-3v1m2 22v1m4-23v1m12 18v7m0-25v1m10 0v1m8-1v1m10 0v1m4 0v1m12-1v1m2-1v1m12-1v1m2 21v1m0-24v1m2 19v3m0-7v2m0-17v1m10 21v1m0-5v1m0-19v1m2 0v1m8-2v1m2 0v1m2-2v1m2 21v1m0-8v1m6 2v4m4 0v1m0-8v1m26 6v1m0-9v1m2-18v1m8 0v1m2-1v1m4-2v1m28-1v1m18-3v1m2 26v1m28-7v5m2-23v1m8 18v5m2-1v1m0-8v2m6-18v1m8 22v2m0-8v1m0-19v1m4-2v1m6-1v1m12 24v2m0-6v1m4 4v1m0-9v1m2-19v1m6 25v1m0-8v1m4-19v1m4 19v3m4 2v1m0-27v1m14 25v1m0-28v1m4 26v1m0-9v1m10-21v1m4 25v2m0-9v2m0-20v1m2-1v1m6 18v1m6-19v1m2 25v1m2-1v1m4-26v1m2-1v1m4-2v1m6 25v1m0-11v1m6 6v3m0-8v3m2 3v2m0-7v2m0-21v1m6-2v1m2-2v1m2-3v1m8-4v1m2 28v4m0-13v3m2-6v1m2 15v1m2-1v1m4-5v4m0-13v3m0-22v1m8 31v1m2-14v11m2-30v1m6 0v1m4 18v10m4 2v1"/>
<path stroke="#51ffa5" d="M420 74v1m4 24v1m14-1v1m2-1v1m0-73v1m0-25v1m2 95v1m4-1v1m2-14v1m4-12v1m8 23v1m6-23v1m16 1v1m2 0v1m2 18v1m0-19v1m2 13v5m4-4v3m6-34v1m2 4v1m2 24v1m4 3v1m2-34v1m2 29v3m0-36v1m0-32v1m2 29v1m4-25v1m4 60v1m2-5v4m0-60v1m4 24v1m0-34v1m2 64v3m0-33v1m0-26v1m4 43v1m8 11v2m0-37v1m4-20v1m10 54v1m14-71v1m18 70v1m0-32v1m2-30v1m12 59v1m4-1v1m10-2v1m0-22v1m24-15v1m14 35v1m24-5v3m0-15v4m2-1v10m6 2v1m0-16v2m0-18v1m4 31v1m6-1v1m0-33v1m2 0v1m24 29v2m0-12v1m18-2v11m8-9v9m4 0v2m0-13v1m0-18v1m14 16v1m2 10v1m0-13v2m6 1v9m2-28v1m20 28v1m0-14v1m6 11v2m0-15v2m0-17v1m2-2v1m2 0v1m2 28v1m0-13v1m6-19v1m12 0v1m2-1v1m24-1v1m4-1v1m2 18v7m0-27v1m2 0v1m2-1v1m4 20v6m0-27v1m10 22v4m4 1v1m0-11v2m2 7v2m0-10v3m30-19v1m4-1v1m2-1v1m2-1v1m4 0v1m18 15v1m4 5v3m0-6v2m0-22v1m4 19v1m12 5v1m0-9v1m12 0v6m10-5v6m8-6v6m22-22v1m10 21v1m0-9v1m12 1v5m14-21v1m6 21v1m28-25v1m2-1v1m4 16v1m12-1v1m4-18v1m12-1v1m4-2v1m2 0v1m30-5v1m2 0v1m2-1v1m8 2v1m6-1v1m2-1v1m2-1v1m2 22v2m0-9v2m10 6v1m0-7v1m2 5v1m16-7v4m4-6v8m6-5v4m8-25v1m4-1v1m18 23v2m0-7v2m10 1v2m14-25v1m2-1v1m2-2v1m4 20v4m4 3v1m0-11v1m10 4v4m22-24v1m8 24v1m0-10v1m2 8v1m0-9v1m2-18v1m10 10v1m8 13v1m0-15v1m2-22v1m4 2v1m4 31v1m0-15v1m4-19v1m4-1v1m2 29v2m0-15v2m4-18v1m2-1v1m4-1v1m2 28v2m0-14v2"/>
<path stroke="#62ff95" d="M420 99v1m4-26v1m4-1v1m0-40v1m2-9v1m6 46v1m4-41v1m6 0v1m4 63v1m18-10v1m8-13v1m6-18v1m8 2v1m2-1v1m2 30v4m10-31v1m2-2v1m2 27v4m0-17v1m4-49v1m0-4v1m2-2v1m6 31v1m2-30v1m4 6v1m4-13v1m2 2v1m12 66v1m2-1v1m14-69v20m24-12v1m8 1v1m6 31v22m2-50v1m4 2v1m4 2v1m4 23v1m0-23v1m2 46v1m4-44v1m28 7v1m6 16v1m4 3v10m0-30v1m6 17v1m0-18v1m14 31v2m0-18v1m2 13v3m0-16v3m6 13v1m18-33v1m2-1v1m22 2v1m12 27v2m0-14v1m2-17v1m6 27v1m0-12v2m12-20v1m6 0v1m2 28v1m0-30v1m4-1v1m2 27v1m0-12v2m6-19v1m10 18v9m0-28v1m4-1v1m4-1v1m2 19v8m0-28v1m12-1v1m4-1v1m18-1v1m24 25v3m0-13v3m2 1v4m6 3v2m0-10v2m6-20v1m4 25v2m0-8v2m4 6v1m2-1v1m0-28v1m4 19v6m24-25v1m6 15v1m24-16v1m6 24v1m0-8v1m6 0v5m12-23v1m2-1v1m2-1v1m6 22v1m0-8v1m2-16v1m8 22v1m8-1v1m0-8v1m8-16v1m14 17v4m4-8v1m12 3v2m0-20v1m6 20v1m0-7v1m2-1v6m8-5v6m6-21v1m20 13v1m0-17v1m32-1v1m6 15v1m4-18v1m2-1v1m10-1v1m6-1v1m4-1v1m4-2v1m2 14v1m8-18v1m48 1v1m2-1v1m6 22v2m0-8v2m4 6v1m0-10v1m0-17v1m6 23v1m0-6v1m0-20v1m4-1v1m2-2v1m8 0v1m16 24v1m4-9v1m2-18v1m2-2v1m2 23v2m0-6v2m0-21v1m2-2v1m10-2v1m6 21v2m2-5v1m2 4v3m0-10v3m12-20v1m2 25v2m0-7v1m6-21v1m10 0v1m4 0v1m14 14v1m10-21v1m2-2v1m2-2v1m8-4v1m8 20v12m8 1v1m0-17v1m0-16v1m4 16v13m6-11v10m2 2v1m0-16v1m0-17v1m2-1v1"/>
<path stroke="#73ff84" d="M434 74v1m0-49v1m2-1v1m8 0v1m6 9v1m0-10v1m2-2v1m18 49v1m16-13v1m2 15v1m2-13v1m6 12v1m0-20v1m6 0v1m4 31v3m6-67v2m4-2v1m2 49v1m0-46v1m0-10v1m2 37v1m0-28v1m2-2v1m12 47v1m8-56v1m2-1v1m2 56v1m8-41v1m12 2v1m2 2v1m30 39v4m0-31v5m46-8v1m12 30v4m0-17v3m2-20v1m16 1v1m2-1v1m2 31v1m0-18v1m10-16v1m6 15v1m2-1v1m8 1v13m16-11v1m2-18v1m6 17v1m0-20v1m16 0v1m2 28v1m2-30v1m4-1v1m4 23v2m2-6v4m14 5v1m12-30v1m2-1v1m2 27v2m0-12v1m10 9v1m0-11v2m10-20v1m8 19v7m0-27v1m12-1v1m28 28v1m0-15v1m2 8v4m0-12v4m6 9v1m6-12v10m4 1v1m10-2v1m0-9v2m2-20v1m20 0v1m6-1v1m26 19v1m2-20v1m6-2v1m4 24v2m0-8v1m0-19v1m2-1v1m20 24v1m0-24v1m18 0v1m2 16v5m0-21v1m2-2v1m16 0v1m2 20v1m0-6v1m16 2v2m0-6v2m2-18v1m4 21v1m0-9v1m2 6v1m0-9v2m0-15v1m8 21v1m0-8v1m8-15v1m2-1v1m2-1v1m2-1v1m2-1v1m2-1v1m4 15v5m0-23v1m22-1v1m10-2v1m30-1v1m4 0v1m10-4v1m2-1v1m14 0v1m10 1v1m16 17v1m2-19v1m2-2v1m2-1v1m2-1v1m12 23v1m6-26v1m4 24v1m4-8v7m14-25v1m4 0v1m2-2v1m16 24v1m18-4v3m0-8v3m4 5v1m2-28v1m4 16v1m4-18v1m6 1v1m6-2v1m16 0v1m2-1v1m10-1v1m6 16v6m10-31v1m8 1v1m4 29v1m0-15v2m0-18v1m12 29v2m0-17v2m6 12v2m0-14v2m4-2v13"/>
<path stroke="#84ff73" d="M442 27v1m4 57v1m0-11v1m0-49v1m2 0v1m6 47v1m4-39v1m2 37v1m14 1v1m4 0v1m6 14v1m2-27v1m6 1v1m4-1v1m2-1v1m8 24v1m0-14v1m2-21v1m2 5v1m2-1v1m4-3v1m0-5v1m0-26v1m6-4v4m4 46v1m0-46v1m0-8v1m4 10v1m0-15v1m10 66v1m0-54v1m12-14v1m4-1v1m2 19v1m28-12v1m6 26v1m2-26v1m4 56v2m12-49v1m10 6v1m28 6v1m8 33v1m0-19v1m12-15v1m10-1v1m2-1v1m22 17v1m2 12v1m0-16v2m16-15v1m4-1v1m14-1v1m8-1v1m8-1v1m2 25v3m0-8v3m0-24v1m2 23v4m0-12v4m18-19v1m20 17v8m2 2v1m4-10v7m4-27v1m2 15v1m8 10v2m0-11v2m32-19v1m10 26v2m0-15v1m10-16v1m2 27v2m0-13v1m4-16v1m4 0v1m6 25v1m4-28v1m22 17v1m10-17v1m4 0v1m18-3v1m6 0v1m8 0v1m4-1v1m14 16v1m2-17v1m2-1v1m2-1v1m2-1v1m4 0v1m2-1v1m4 21v1m12-22v1m2-1v1m4 15v1m6-17v1m2-1v1m2-2v1m2 0v1m6 20v1m4-22v1m4 20v1m2-22v1m4 13v1m0-15v1m24 20v1m0-7v1m2-18v1m18-2v1m8 0v1m6-2v1m8 0v1m16 14v1m16-18v1m4 15v1m18-16v1m4 0v1m10-1v1m2-1v1m22-2v1m4 14v1m0-16v1m6 16v1m2 2v2m4-23v1m2 24v1m0-9v1m6 1v1m20-20v1m4-1v1m16-2v1m8 25v1m2-28v1m10 0v1m6-1v1m10 0v1m8-1v1m10-1v1m2 0v1m12 21v2m0-10v2m0-21v1m8-4v1m4-3v1m8 2v1m2 30v1m2-16v1m2 3v10m0-30v1m6-1v1m6 0v1m2 29v1m4-2v2m0-16v1m2-16v1"/>
<path stroke="#95ff62" d="M428 82v1m10-80v1m0-3v1m14 85v1m2-52v1m0-10v1m2 60v1m34 6v1m0-14v1m0-18v1m24 3v1m0-35v1m2-3v1m2 32v1m0-6v1m0-26v1m0-8v1m2-1v1m6 3v1m2 29v1m2 21v1m4-55v1m6 21v1m48-14v1m10 25v1m0-23v1m28 14v1m16 4v1m10 1v1m2-1v1m50 32v1m14-30v1m38 28v1m0-10v1m2 7v2m0-15v1m10-14v1m4-2v1m24 25v2m0-12v2m6 8v2m0-11v2m0-20v1m8 18v9m6 1v1m0-13v1m12-1v1m28-18v1m4 0v1m2 0v1m20 0v1m2-1v1m6-1v1m8 17v1m0-19v1m16 0v1m2-1v1m2-1v1m4 0v1m22-2v1m26 1v1m16 14v1m6 1v1m20-16v1m8 14v1m8-2v1m6-14v1m10-1v1m2-2v1m2-1v1m36-3v1m12-1v1m8-1v1m12 14v1m4-17v1m2 0v1m24-4v1m4-2v1m14 3v1m6-1v1m14-1v1m10-1v1m8 14v1m4-18v1m6 22v2m0-6v2m0-21v1m12-1v1m6-1v1m4 0v1m6-1v1m2-2v1m4-1v1m10 16v1m16-20v1m8 0v1m2-1v1m8 18v1m14-18v1m24-3v1m2 11v1m0-14v1m2 26v1m16-32v1m8-1v1m2 29v1m0-13v2m2-20v1m6 0v1m2-1v1m2 16v12m2-29v1"/>
<path stroke="#a5ff51" d="M426 74v1m12-39v1m20 39v1m2-40v1m2 38v1m14 17v1m6-28v1m8 0v1m2 26v1m8-27v1m0-4v1m2 0v1m2 14v1m10-21v1m2 2v1m0-30v1m0-3v1m2 60v1m4-34v1m4-25v1m2-7v1m2-3v1m2 11v1m2-1v1m6-10v1m2 53v1m20-38v1m0-22v1m22 9v1m30 14v1m8 4v1m10 2v1m14 19v1m38-15v1m10-1v1m4-1v1m6-1v1m32 18v1m0-17v1m4-1v1m10-1v1m2 14v1m22-16v1m2 14v1m2-16v1m16-1v1m2 27v1m2-29v1m2-1v1m2 27v1m0-13v1m2-17v1m6 26v1m0-12v2m2-19v1m12 0v1m2 13v1m0-15v1m6 16v10m18-27v1m4-1v1m4-1v1m4 13v1m2-15v1m8 0v1m8 0v1m30 0v1m12 13v1m16-14v1m24 0v1m2-1v1m2-1v1m6 13v1m2-14v1m54 0v1m32 12v1m22-16v1m20 13v1m14-15v1m8-1v1m10-1v1m4-2v1m12 12v1m4-16v1m18 17v1m0-16v1m2 12v1m0-14v1m28-2v1m10 23v1m0-8v1m10-19v1m16 14v1m24-17v1m8-1v1m6-2v1m12 0v1m6 0v1m8 0v1m4 14v1m16-17v1m2 0v1m12-6v1m2-2v1m8-4v1m4 2v1m8 29v1m4-31v1m8 28v1m0-15v2m6-17v1"/>
<path stroke="#b6ff41" d="M422 74v1m4-46v1m22 6v1m4-1v1m36 27v1m2 1v2m8-2v1m4 15v1m4-19v1m4 17v1m0-19v1m4-34v1m2 31v2m0-30v1m2-1v1m0-6v1m2 52v1m0-21v1m2 1v1m4-32v4m14 49v1m6-57v1m34-3v1m12 11v1m34 35v1m12-14v1m8 0v1m10 0v1m2-1v1m4 0v1m6 13v1m28-13v1m32 0v1m30-1v1m12 0v1m18-1v1m4-1v1m4-1v1m14 27v1m0-29v1m4-1v1m10 14v1m8 11v2m0-13v1m0-17v1m38 0v1m38 17v1m0-17v1m4-1v1m30 16v1m0-18v1m4-1v1m2 0v1m2-1v1m2-1v1m10 14v1m20 1v1m8-15v1m2 0v1m2-2v1m4-1v1m12 0v1m8 13v1m12-16v1m6-1v1m14 0v1m4 14v1m4-16v1m4-1v1m4-3v1m4-1v1m18-1v1m10-2v1m4 0v1m10-2v1m2-1v1m6 13v1m8-15v1m2-1v1m22-5v1m4 0v1m2 1v1m38-1v1m2-1v1m10-1v1m18-2v1m8 17v1m8-3v1m10-17v1m14-2v1m2-1v1m2 14v1m6-1v1m20-15v1m10 0v1m4 0v1m2-2v1m22-5v1m8-5v1m2-2v1m10 2v1m10 18v9m6 2v1m4-31v1"/>
<path stroke="#c7ff30" d="M424 34v1m12-2v1m2-32v1m6 73v1m16-45v1m8 45v1m12 1v1m6 13v1m6-30v1m8 16v1m2-18v1m2-2v1m6 30v1m2-33v1m2 18v1m0-49v1m4 27v1m0-29v1m0-4v1m2 33v1m0-28v1m10-8v1m2 0v1m28 17v1m6-22v1m12 49v1m4 1v1m0-52v1m4 9v1m2 25v1m6-1v1m6-22v1m2 1v1m10 5v1m6 3v1m26 7v1m4 0v1m6 15v1m20-15v1m2-1v1m4-1v1m8 14v1m0-16v1m14-1v1m36 2v1m6-1v1m4-1v1m4-1v1m2 15v1m10-17v1m2-1v1m18-1v1m2-1v1m2 15v1m18-17v1m10-1v1m12-1v1m46 1v1m12-1v1m2-1v1m18 0v1m14 0v1m4 0v1m16-2v1m16 0v1m16 0v1m4-1v1m2-1v1m2-1v1m2-1v1m4 0v1m2-1v1m6 14v1m10-15v1m12-1v1m4-2v1m2 0v1m16-1v1m14-1v1m2-1v1m2-1v1m4-1v1m8-3v1m18-2v1m22 0v1m24-1v1m10-4v1m2-1v1m4 14v1m0-17v1m4 12v1m10-11v1m6 0v1m18-1v1m2-2v1m2-1v1m20-2v1m4-1v1m4-1v1m8 15v1m2-17v1m4-1v1m4 0v1m2-2v1m12-1v1m4-1v1m2-2v1m18-2v1m4-1v1m8 17v1m12-18v1m2 0v1m8-1v1m6-1v1m2-1v1m10-1v1m6-5v1m8-4v1m12 0v1m6-1v1m2-1v1m4 27v2m0-13v2m0-19v1m2 0v1m4-1v1m2-1v1m6-1v1"/>
<path stroke="#d8ff1f" d="M430 82v1m8-8v1m0-48v1m2 47v1m2-2v1m8 10v1m0-12v1m6 0v1m8 13v1m18-29v1m2 0v1m8 5v1m4 25v1m2-27v1m2-3v2m2-3v1m2 28v1m2-63v1m4 33v1m4-36v1m2 49v1m2-18v1m0-34v2m2 30v1m0-35v1m8 34v1m24 23v1m0-59v18m2 48v1m0-67v1m10 19v1m0-23v1m4 42v1m8-43v1m2-1v1m16 11v1m10 5v1m10 27v1m40-10v1m2 12v1m12-13v1m6 13v1m4-15v1m42 2v1m4-1v1m2-1v1m20-1v1m8-1v1m2-1v1m14 15v1m6-16v1m16 15v1m10-18v1m6-1v1m40 0v1m16 15v1m4-18v1m10 2v1m12-1v1m8-1v1m16 0v1m2-1v1m2-1v1m26-1v1m6 15v1m10-16v1m10 14v1m0-15v1m34 16v1m2-16v1m6-1v1m6-1v1m14-1v1m2 0v1m8-2v1m6-1v1m36-3v1m10-1v1m2-1v1m4-2v1m4 0v1m8 12v1m8-15v1m10 12v1m10-15v1m26 15v1m0-15v1m10-1v1m2-1v1m14 11v1m0-14v1m8-1v1m20-3v1m10 16v1m18-17v1m16-2v1m22-2v1m4 0v1m2 0v1m18 15v1m8-17v1m2 0v1m8-3v1m18-8v1m4 18v12m6-29v1m8 29v1m0-15v1m4-16v1"/>
<path stroke="#e9ff0e" d="M422 81v1m8-49v1m10 50v1m8-9v1m6 10v1m26 6v1m8-28v1m4 15v1m2-1v1m2-20v1m16 2v1m2-35v1m4 29v2m10 20v1m0-22v1m0-25v1m16-9v1m8 16v1m6 39v1m10-61v1m16 10v1m4 0v1m20 9v1m18 8v1m16 4v1m10 1v1m46 14v1m24-12v1m22 14v1m24-14v1m4-2v1m32-1v1m46-1v1m6-2v1m4 0v1m2 0v1m20 0v1m2-1v1m26 0v1m12 0v1m16-1v1m24 0v1m12 0v1m54 0v1m2-1v1m14 0v1m2-2v1m10 12v1m26-16v1m32 12v1m2-14v1m6-1v1m6-1v1m10-2v1m24 14v1m2-15v1m6-1v1m14-1v1m20-2v1m2-2v1m10-1v1m18 0v1m8-2v1m2-1v1m28-3v1m8 0v1m2-1v1m2-1v1m46-2v1m8-4v1m4-3v1m6 14v1m0-15v1m2 28v1m0-14v1m0-16v1m12-1v1m14-1v1"/>
<path stroke="#f9f300" d="M426 34v1m4 40v1m6-49v1m4 0v1m4 56v1m0-51v1m6 0v1m8-6v1m6 45v1m20-11v1m8-2v1m2 3v1m2-2v1m2 13v1m0-17v2m6-2v1m2-2v1m2-2v1m2-1v2m10-30v1m10 4v1m2-2v1m2-10v1m8-1v1m2 56v1m12-1v1m36-48v1m6 2v1m12 6v1m10 6v1m2 0v1m10 17v1m0-16v1m48 18v1m4-1v1m0-14v1m10-1v1m10-1v1m14 1v1m18 0v1m4-1v1m10-1v1m8-2v1m16 0v1m4-1v1m18-1v1m2-1v1m2-1v1m10-1v1m16-1v1m32-1v1m12 0v1m2-1v1m8 0v1m32 0v1m30-1v1m4-1v1m2 0v1m2-1v1m14 0v1m2-1v1m26 2v1m6-2v1m38-1v1m22 0v1m4-1v1m4 11v1m0-15v1m4-1v1m16 11v1m2-13v1m6 11v1m4-14v1m14-1v1m2-1v1m10-1v1m6-1v1m4-1v1m12-4v1m4-2v1m20 17v1m2-15v1m2-1v1m16 12v1m4 0v1m0-15v1m4-2v1m14-2v1m6 14v1m4-16v1m2-1v1m6-1v1m10 16v1m0-17v1m6-2v1m8 16v1m10-4v1m6-16v1m6-2v1m12 0v1m14 15v1m2-15v1m18-2v1m14-5v1m8-5v1m6 31v1m4-30v1m20-1v1"/>
<path stroke="#ffdf00" d="M418 74v1m6-46v1m4-3v1m6 6v1m6-2v1m2-1v1m4 0v1m4-6v1m2 46v1m0-49v1m14 49v1m6-1v1m10-13v1m4-1v1m6 0v2m2-4v1m14-3v1m4 19v1m2-16v1m6-38v1m2 52v1m0-22v2m8-33v1m4 8v1m6 19v1m0-28v1m14 54v1m30-22v1m2-28v1m28 13v1m24 9v1m8 0v1m10 0v1m2-1v1m40 1v1m6 12v1m24-12v1m10 0v1m32-1v1m14-1v1m4-1v1m4-1v1m2-1v1m18-2v1m2 0v1m2-1v1m8-1v1m8-1v1m22-1v1m10-1v1m10 1v1m6 13v1m4 0v1m4-16v1m2 12v1m16-13v1m2-1v1m10 11v1m2-12v1m4 0v1m16-2v1m12-1v1m4 0v1m8 13v1m8-14v1m6-1v1m2-1v1m8 0v1m2-1v1m4-1v1m10 0v1m6-1v1m6-1v1m4-2v1m2 0v1m28-1v1m2-1v1m2-1v1m2-1v1m4-1v1m8-3v1m18-2v1m16 0v1m30-1v1m20-6v1m2 0v1m4 1v1m30 0v1m2-1v1m12-2v1m18 12v1m30 1v1m12-18v1m4-1v1m2-1v1m6-1v1m20 15v1m0-16v1m2-1v1m6 0v1m4-1v1m2-1v1m2 0v1m14-2v1m8-5v1m2-1v1m6-4v1m6 14v1m4-1v1m2-15v1m4-1v1m2-1v1m2-1v1m4-1v1m2 0v1m2 11v1m4-13v1m6-1v1"/>
<path stroke="#ffcc00" d="M420 75v1m4-1v1m30-41v1m28 44v1m0-18v1m2 17v1m2 0v1m0-16v1m20-3v1m6-2v1m2-2v1m14-31v1m4 52v1m0-54v1m8 8v1m2 0v1m12 5v1m2-19v1m4 38v1m4-41v17m2 5v1m2 2v1m0-26v20m16-9v1m60 24v1m4 0v1m14 0v1m12 0v1m2-1v1m4-1v1m8-1v1m8 0v1m6-2v1m42 2v1m4-1v1m4-1v1m12-1v1m2-1v1m20-1v1m20-1v1m22-1v1m40-1v1m2 13v1m4 3v1m4-16v1m8 14v1m0-17v1m4 0v1m24 0v1m2-1v1m2-1v1m26-1v1m16 0v1m16 0v1m6-1v1m4 0v1m20 0v1m6-1v1m6-1v1m14-1v1m6-1v1m4-1v1m6-1v1m36-3v1m10-1v1m6-2v1m4 0v1m4-1v1m12-2v1m12 12v1m6-14v1m4-3v1m14-2v1m6 2v1m2 13v1m4-14v1m8-1v1m2-1v1m8-1v1m10-3v1m12-1v1m6 15v1m12-18v1m2 0v1m8 0v1m12-2v1m2-1v1m2-2v1m12-1v1m14-2v1m14 16v1m8-16v1m12-1v1m2-1v1m2-1v1m10-1v1m12 7v1m8-17v1m22 2v1m2-1v1"/>
<path stroke="#ffb900" d="M420 81v1m8-7v1m8-1v1m6-48v1m2-1v1m2-1v1m8-1v1m2 6v1m0-6v1m20 48v1m12-15v1m8-1v1m8-1v1m4 17v1m0-20v1m4 0v2m8-31v1m0-5v1m22 63v1m12-30v1m4-17v1m30-10v1m6 0v1m6 2v1m8 24v1m4-18v1m6 3v1m36 9v1m14 0v1m10-1v1m42 2v1m26-1v1m8-1v1m2-1v1m12 1v1m8-2v1m26-2v1m46 14v1m0-15v1m2-1v1m6-2v1m42 2v1m12 0v1m12 0v1m2 11v1m14-13v1m10-1v1m14 0v1m8-1v1m6 11v1m54-11v1m4 0v1m12-2v1m36-3v1m14-1v1m20-1v1m6-1v1m6 12v1m0-14v1m16-4v1m4-2v1m18 3v1m4-1v1m22-2v1m8-1v1m10-2v1m4-1v1m4-1v1m14-1v1m6-1v1m6 14v1m10-16v1m2-2v1m6 14v1m24-17v1m6 1v1m6-2v1m22 1v1m8-3v1m14-7v1m2-2v1m4 1v1m2 0v1m4-1v1m8-1v1m14 11v1m2 0v1"/>
<path stroke="#ffa600" d="M426 82v1m2-49v1m2-7v1m4 46v1m0-49v1m2 4v1m16 2v1m6 1v1m12 40v1m4 0v1m4 0v1m4-17v2m6 16v1m0-17v1m8 16v1m0-16v1m8-3v1m14 16v1m2-49v1m12 4v1m2 46v1m6-34v1m4-13v1m0-10v1m2 55v1m12-22v1m4-39v1m40 39v1m18 3v1m22-9v1m6 14v1m4-14v1m6 14v1m46-14v1m20 1v1m26 0v1m22-1v1m6-1v1m18 12v1m2-14v1m6-1v1m4-2v1m18 0v1m34-1v1m2 0v1m20 0v1m2-1v1m28 0v1m30-1v1m4-1v1m4 0v1m10 12v1m4-13v1m2-1v1m8 0v1m18 1v1m6-2v1m8 12v1m14-14v1m8-1v1m4 13v1m4-15v1m2 12v1m6-13v1m6 10v1m8-12v1m4-1v1m4-3v1m4-1v1m18-1v1m34 11v1m2-14v1m10-1v1m6-3v1m2 12v1m12-2v1m10-11v1m4 11v1m16-13v1m22 14v1m0-18v1m10-1v1m4-2v1m22 0v1m30 13v1m0-17v1m8 0v1m2-1v1m2-1v1m6-1v1m18 1v1m10-2v1m12-3v1m6-3v1m2-2v1m36-1v1m2-1v1"/>
<path stroke="#ff9200" d="M426 30v1m12 4v1m8 40v1m2-48v1m6 47v1m6-1v1m2 11v1m16 4v1m28-12v1m14-51v2m6 50v1m6-52v1m2 5v1m0-8v1m12-2v1m16 18v1m18-22v1m6 11v1m6 0v1m8 24v1m2-21v1m2 0v1m22 11v1m6 2v1m52 5v1m34 1v1m4-1v1m4 12v1m0-14v1m10 0v1m2-1v1m2-1v1m18-2v1m16 0v1m4 13v1m6-15v1m12-1v1m4-1v1m10-1v1m60 0v1m2-1v1m2 0v1m6-1v1m8-1v1m18 0v1m14 0v1m4 0v1m16-2v1m12-1v1m20 1v1m6-1v1m2-1v1m8 0v1m2-1v1m4-1v1m10 0v1m6-1v1m6-1v1m6-1v1m8 10v1m16 0v1m4-13v1m4-1v1m6-1v1m26-4v1m12-1v1m14-1v1m2-1v1m16-1v1m16-4v1m12 1v1m14 0v1m2-1v1m20-1v1m4-2v1m2 11v1m4-13v1m18-2v1m8-1v1m4 0v1m36-3v1m6-2v1m12 0v1m16 1v1m14 12v1m4-15v1m6 11v1m4-16v1m8-4v1m6-2v1m6 1v1m4-1v1m4-1v1m4-1v1m2 0v1m6 11v1m0-13v1m6-1v1"/>
<path stroke="#ff7f00" d="M436 28v1m4 0v1m44 34v1m6 18v1m6-18v2m2 27v1m16-29v1m2 26v1m12-56v1m2 46v1m0-46v1m0-9v1m10 1v1m2 52v1m0-56v1m4-1v14m20 26v1m0-44v1m14 46v1m2-47v1m2 10v1m14 3v1m10 5v1m12 7v1m2 0v1m24 5v1m12 0v1m36 1v1m4-1v1m30 1v1m18 13v1m4-1v1m16-2v1m4-13v1m18-1v1m4-1v1m2-1v1m18-2v1m2 0v1m2-1v1m16-1v1m22 11v1m0-13v1m4-1v1m6-1v1m26 2v1m18-1v1m6 0v1m2-1v1m2-1v1m30 0v1m8-1v1m50 2v1m6-1v1m20-1v1m10-1v1m10-1v1m4-1v1m12-3v1m26-1v1m2 10v1m4-13v1m2 0v1m2-1v1m24-1v1m4-1v1m6-2v1m4-3v1m20 1v1m26-1v1m2-1v1m22-3v1m12-1v1m8 14v1m8-15v1m4-2v1m2-1v1m20-2v1m2-1v1m6-1v1m26 1v1m4 12v1m6-13v1m14-2v1m2-1v1m6 10v1m2-16v1m10-5v1m14 1v1m10 0v1m2-1v1"/>
<path stroke="#ff6c00" d="M466 89v1m64 5v1m16 1v1m10-2v1m4-46v1m4 0v1m12-22v1m2-1v1m2-1v28m64 21v1m78 7v1m16-4v1m10-2v1m8 4v1m2-6v1m16 0v1m12-2v1m26-1v1m270 5v1m140 0v1m6-2v1m18-1v1m52-2v1m28-1v1m26-6v1"/>
<path stroke="#ff5800" d="M424 81v1m10 1v1m26 6v1m34 3v1m28-1v1m82-25v1m120 13v1m48 1v1m78-3v1m10 1v1m86 4v1m10-1v1m92-1v1m50-1v1m48-3v1m150 1v1m20-3v1"/>
<path stroke="#ff4500" d="M512 95v1m22-1v1m24 1v1m160-10v1m66-5v1m14 2v1m60-4v1m14 2v1m150 2v1m46-1v1m36 0v1"/>
<path stroke="#ff3200" d="M436 83v1m22 5v1m30 4v1m38 0v1m6-1v1m146-15v1m128 4v1m4-1v1m110 3v1m60-1v1m10 0v1m62-3v1m134 2v1m92-5v1m6-1v1m28 0v1m2-2v1m46-6v1"/>
<path stroke="#ff1f00" d="M442 84v1m28 4v1m12 4v1m160-16v1m126 6v1m64-1v1m36-1v1m14 2v1m34 2v1m50-5v1m12 1v1m20 5v1m14-4v1m72-4v1m94 1v1m58-2v1m44-4v1m82-7v1m4-1v1m8 0v1"/>
<path stroke="#f60b00" d="M514 94v1m14 0v1m110-17v1m176 5v1m42-2v1m22 2v1m34 0v1m40 4v1m36-4v1m74 0v1m72-2v1m22-1v1m2-1v1m50-2v1m4 1v1m4-3v1m36 3v1m48-3v1m36-6v1m4-4v1m18 1v1"/>
<path stroke="#000000" d="M418 75v6m2-5v5m2-6v6m2-5v5m0-51v4m2 41v7m0-51v3m2 42v6m0-54v6m2 42v6m0-53v4m4 43v7m0-55v6m2 42v7m0-54v3m2 44v8m0-55v6m2 42v7m0-54v3m2 43v8m0-55v4m2 44v8m0-56v6m2 42v8m0-56v5m2 43v9m0-56v6m2 40v10m0-56v6m2 41v10m0-58v6m2 43v9m0-58v6m2 42v11m0-57v4m2 42v12m0-57v5m2 41v12m0-57v4m2 40v12m2-11v12m2-11v10m2-10v11m2-11v10m2-10v11m2-10v12m2-12v14m2-13v13m2-13v13m2-13v13m2-12v12m0-29v2m2 16v11m2-11v11m2-10v11m2-11v11m2-11v10m0-28v4m2 14v11m2-11v11m2-12v13m2-13v12m2-12v12m2-11v11m2-11v11m2-12v12m2-11v11m2-12v11m0-30v3m2 16v11m2-10v11m2-11v11m2-10v9m4-8v9m2-9v9m0-61v5m2 48v8m0-61v7m2 46v8m0-60v5m2 48v7m0-61v6m6 48v8m0-41v6m0-25v6m2 47v7m0-62v9m2 47v8m0-64v8m2 48v7m0-50v15m6 28v7m0-47v16m2 24v7m0-47v17m0-35v15m2 43v6m0-64v36m2 22v7m0-45v16m2-16v18m2-18v20m0-41v16m2 6v20m2-20v20m0-42v11m2 14v16m8-40v47m2-47v47m2-20v18m2-45v49m2-38v25m2-25v25m2-25v23m4-22v22m2-22v22m4-19v19m2-19v21m2-19v21m2-20v20m4-17v18m2-18v17m2-15v19m2-18v20m4-17v16m2-14v13m2-12v15m4-15v15m6-12v13m6-12v13m4-12v12m2-12v13m2-12v14m2-14v13m4-12v12m2-12v13m2-14v12m2-11v14m4-14v14m6-13v11m6-11v12m2-12v12m2-12v11m2-11v12m4-11v11m4-12v13m6-12v12m2-12v12m2-12v11m4-12v15m2-14v11m14-9v15m2-15v14m2-14v15m2-15v11m2-11v12m2-12v15m8-14v13m2-13v11m2-11v12m4-13v13m2-13v13m2-13v11m2-10v12m2-13v13m2-13v14m2-14v16m2-16v11m6-11v14m2-14v12m2-10v11m2-12v13m2-13v12m2-12v11m2-11v12m2-12v13m6-13v10m2-11v11m2-10v13m4-13v14m2-14v12m2-12v12m2-12v13m2-13v11m2-12v14m2-13v13m2-14v13m2-13v13m2-12v12m2-13v11m2-10v11m2-11v13m8-14v13m2-12v11m2-12v14m4-13v12m16-12v13m2-13v10m4-10v11m2-12v11m2-10v10m2-10v12m2-11v10m2-11v14m4-15v13m2-11v11m2-11v12m2-11v14m4-14v11m2-11v12m2-12v13m2-13v13m2-14v15m2-14v12m2-11v10m8-11v15m8-14v14m2-14v13m2-13v13m2-13v11m2-10v11m2-11v14m2-14v9m2-9v12m2-12v10m2-9v10m14-11v15m2-15v12m2-13v14m2-14v15m2-15v14m2-12v14m2-15v13m2-13v15m4-14v12m4-13v12m2-11v11m2-11v12m2-12v9m4-9v12m2-11v10m2-10v12m2-13v11m2-10v10m2-10v10m2-11v13m4-12v11m2-10v9m2-9v10m2-9v11m2-12v12m4-12v15m6-14v12m2-12v11m4-11v12m2-12v11m4-11v9m2-10v12m2-12v12m2-11v8m6-9v11m2-11v11m2-10v12m2-12v9m2-10v9m2-9v12m4-11v10m2-10v10m2-11v12m2-12v10m2-9v10m2-10v7m2-7v12m2-12v10m2-10v10m2-10v9m2-9v9m4-11v12m2-12v10m2-10v12m12-13v11m2-11v11m2-11v11m2-10v12m6-12v10m2-11v11m2-11v12m2-12v13m2-12v10m2-10v11m4-12v13m4-13v11m2-11v11m2-11v12m4-13v12m2-11v12m2-12v12m4-11v11m2-12v10m2-9v10m2-11v11m4-11v9m2-11v12m2-12v12m2-13v14m2-14v13m2-14v14m2-15v14m2-14v12m2-11v13m2-13v15m2-12v12m4-11v12m2-12v12m2-12v12m2-12v11m2-11v12m2-12v12m2-12v10m2-10v12m2-12v13m6-13v15m2-15v13m2-13v12m2-12v11m2-12v11m2-10v12m2-14v13m2-12v14m2-14v11m2-12v14m2-13v12m2-13v16m2-16v12m2-12v15m2-15v14m2-14v15m2-15v12m2-12v13m2-14v13m2-12v14m2-14v16m2-17v15m2-14v13m2-13v14m2-14v14m2-13v14m2-14v13m2-14v12m2-11v14m2-15v13m2-13v14m2-14v13m2-13v14m2-14v14m2-15v17m2-16v15m2-16v15m6-16v15m2-14v13m2-13v15m2-15v13m2-13v12m2-13v15m2-14v15m2-16v13m2-13v13m2-12v12m2-12v13m2-13v12m2-13v16m2-15v15m2-15v16m2-15v14m2-15v14m2-14v15m2-15v13m2-11v13m2-14v13m2-12v12m2-13v13m2-12v13m2-12v12m2-14v12m2-12v11m2-11v12m2-12v13m2-12v12m2-13v14m2-13v12m2-12v11m2-13v12m2-13v10m2-11v14m2-14v11m2-12v13m2-14v12m2-13v12m2-13v15m2-15v13m2-13v14m2-13v12m2-11v12m2-12v12m2-12v12m2-12v12m2-12v13m2-13v11m2-11v10m2-10v13m2-12v9m2-9v10m2-10v11m2-11v11m2-12v11m2-11v11m2-10v11"/>
</g>
<path d="M140.50 37.60V448.40M198.50 37.60V448.40M256.50 37.60V448.40M314.50 37.60V448.40M372.50 37.60V448.40M430.50 37.60V448.40M488.50 37.60V448.40M547.50 37.60V448.40M605.50 37.60V448.40M663.50 37.60V448.40M721.50 37.60V448.40M779.50 37.60V448.40M837.50 37.60V448.40M895.50 37.60V448.40M953.50 37.60V448.40M1012.50 37.60V448.40M1070.50 37.60V448.40M1128.50 37.60V448.40M1186.50 37.60V448.40M1244.50 37.60V448.40M1302.50 37.60V448.40M1360.50 37.60V448.40M1418.50 37.60V448.40M81.50 346.50H1476.50M81.50 243.50H1476.50M81.50 140.50H1476.50" stroke="#b2b2b2" stroke-width="1" stroke-dasharray="1.33 2.2" fill="none"/>
<path d="M81.50 448.40v6.5M140.50 448.40v6.5M198.50 448.40v6.5M256.50 448.40v6.5M314.50 448.40v6.5M372.50 448.40v6.5M430.50 448.40v6.5M488.50 448.40v6.5M547.50 448.40v6.5M605.50 448.40v6.5M663.50 448.40v6.5M721.50 448.40v6.5M779.50 448.40v6.5M837.50 448.40v6.5M895.50 448.40v6.5M953.50 448.40v6.5M1012.50 448.40v6.5M1070.50 448.40v6.5M1128.50 448.40v6.5M1186.50 448.40v6.5M1244.50 448.40v6.5M1302.50 448.40v6.5M1360.50 448.40v6.5M1418.50 448.40v6.5M1476.50 448.40v6.5M81.50 448.40h6.5M1476.50 448.40h-6.5M81.50 346.50h6.5M1476.50 346.50h-6.5M81.50 243.50h6.5M1476.50 243.50h-6.5M81.50 140.50h6.5M1476.50 140.50h-6.5M81.50 37.60h6.5M1476.50 37.60h-6.5" stroke="#000" stroke-width="1.4" fill="none"/>
<rect x="81.50" y="37.60" width="1395.00" height="410.80" fill="none" stroke="#000" stroke-width="1.5"/>
<text x="81.50" y="474.00" text-anchor="middle" font-size="17.7" font-family="DejaVu Sans Condensed, DejaVu Sans, Liberation Sans, sans-serif" font-stretch="condensed">0</text>
<text x="139.62" y="474.00" text-anchor="middle" font-size="17.7" font-family="DejaVu Sans Condensed, DejaVu Sans, Liberation Sans, sans-serif" font-stretch="condensed">1</text>
<text x="197.75" y="474.00" text-anchor="middle" font-size="17.7" font-family="DejaVu Sans Condensed, DejaVu Sans, Liberation Sans, sans-serif" font-stretch="condensed">2</text>
<text x="255.88" y="474.00" text-anchor="middle" font-size="17.7" font-family="DejaVu Sans Condensed, DejaVu Sans, Liberation Sans, sans-serif" font-stretch="condensed">3</text>
<text x="314.00" y="474.00" text-anchor="middle" font-size="17.7" font-family="DejaVu Sans Condensed, DejaVu Sans, Liberation Sans, sans-serif" font-stretch="condensed">4</text>
<text x="372.12" y="474.00" text-anchor="middle" font-size="17.7" font-family="DejaVu Sans Condensed, DejaVu Sans, Liberation Sans, sans-serif" font-stretch="condensed">5</text>
<text x="430.25" y="474.00" text-anchor="middle" font-size="17.7" font-family="DejaVu Sans Condensed, DejaVu Sans, Liberation Sans, sans-serif" font-stretch="condensed">6</text>
<text x="488.38" y="474.00" text-anchor="middle" font-size="17.7" font-family="DejaVu Sans Condensed, DejaVu Sans, Liberation Sans, sans-serif" font-stretch="condensed">7</text>
<text x="546.50" y="474.00" text-anchor="middle" font-size="17.7" font-family="DejaVu Sans Condensed, DejaVu Sans, Liberation Sans, sans-serif" font-stretch="condensed">8</text>
<text x="604.62" y="474.00" text-anchor="middle" font-size="17.7" font-family="DejaVu Sans Condensed, DejaVu Sans, Liberation Sans, sans-serif" font-stretch="condensed">9</text>
<text x="662.75" y="474.00" text-anchor="middle" font-size="17.7" font-family="DejaVu Sans Condensed, DejaVu Sans, Liberation Sans, sans-serif" font-stretch="condensed">10</text>
<text x="720.88" y="474.00" text-anchor="middle" font-size="17.7" font-family="DejaVu Sans Condensed, DejaVu Sans, Liberation Sans, sans-serif" font-stretch="condensed">11</text>
<text x="779.00" y="474.00" text-anchor="middle" font-size="17.7" font-family="DejaVu Sans Condensed, DejaVu Sans, Liberation Sans, sans-serif" font-stretch="condensed">12</text>
<text x="837.12" y="474.00" text-anchor="middle" font-size="17.7" font-family="DejaVu Sans Condensed, DejaVu Sans, Liberation Sans, sans-serif" font-stretch="condensed">13</text>
<text x="895.25" y="474.00" text-anchor="middle" font-size="17.7" font-family="DejaVu Sans Condensed, DejaVu Sans, Liberation Sans, sans-serif" font-stretch="condensed">14</text>
<text x="953.38" y="474.00" text-anchor="middle" font-size="17.7" font-family="DejaVu Sans Condensed, DejaVu Sans, Liberation Sans, sans-serif" font-stretch="condensed">15</text>
<text x="1011.50" y="474.00" text-anchor="middle" font-size="17.7" font-family="DejaVu Sans Condensed, DejaVu Sans, Liberation Sans, sans-serif" font-stretch="condensed">16</text>
<text x="1069.62" y="474.00" text-anchor="middle" font-size="17.7" font-family="DejaVu Sans Condensed, DejaVu Sans, Liberation Sans, sans-serif" font-stretch="condensed">17</text>
<text x="1127.75" y="474.00" text-anchor="middle" font-size="17.7" font-family="DejaVu Sans Condensed, DejaVu Sans, Liberation Sans, sans-serif" font-stretch="condensed">18</text>
<text x="1185.88" y="474.00" text-anchor="middle" font-size="17.7" font-family="DejaVu Sans Condensed, DejaVu Sans, Liberation Sans, sans-serif" font-stretch="condensed">19</text>
<text x="1244.00" y="474.00" text-anchor="middle" font-size="17.7" font-family="DejaVu Sans Condensed, DejaVu Sans, Liberation Sans, sans-serif" font-stretch="condensed">20</text>
<text x="1302.12" y="474.00" text-anchor="middle" font-size="17.7" font-family="DejaVu Sans Condensed, DejaVu Sans, Liberation Sans, sans-serif" font-stretch="condensed">21</text>
<text x="1360.25" y="474.00" text-anchor="middle" font-size="17.7" font-family="DejaVu Sans Condensed, DejaVu Sans, Liberation Sans, sans-serif" font-stretch="condensed">22</text>
<text x="1418.38" y="474.00" text-anchor="middle" font-size="17.7" font-family="DejaVu Sans Condensed, DejaVu Sans, Liberation Sans, sans-serif" font-stretch="condensed">23</text>
<text x="1476.50" y="474.00" text-anchor="middle" font-size="17.7" font-family="DejaVu Sans Condensed, DejaVu Sans, Liberation Sans, sans-serif" font-stretch="condensed">24</text>
<text x="74.50" y="456.30" text-anchor="end" font-size="17.7" font-family="DejaVu Sans Condensed, DejaVu Sans, Liberation Sans, sans-serif" font-stretch="condensed">0</text>
<text x="74.50" y="353.60" text-anchor="end" font-size="17.7" font-family="DejaVu Sans Condensed, DejaVu Sans, Liberation Sans, sans-serif" font-stretch="condensed">0.25</text>
<text x="74.50" y="250.90" text-anchor="end" font-size="17.7" font-family="DejaVu Sans Condensed, DejaVu Sans, Liberation Sans, sans-serif" font-stretch="condensed">0.5</text>
<text x="74.50" y="148.20" text-anchor="end" font-size="17.7" font-family="DejaVu Sans Condensed, DejaVu Sans, Liberation Sans, sans-serif" font-stretch="condensed">0.75</text>
<text x="74.50" y="45.50" text-anchor="end" font-size="17.7" font-family="DejaVu Sans Condensed, DejaVu Sans, Liberation Sans, sans-serif" font-stretch="condensed">1</text>
<text x="779.00" y="28.10" text-anchor="middle" font-size="21.67" font-weight="bold" fill="#404040" font-family="DejaVu Sans, Liberation Sans, sans-serif">Raw attenuated backscattering coefficient</text>
<text transform="translate(27.5 243.00) rotate(-90)" text-anchor="middle" font-size="21.67" font-family="DejaVu Sans, Liberation Sans, sans-serif">Altitude (km)</text>
<path d="M140.50 541.60V952.60M198.50 541.60V952.60M256.50 541.60V952.60M314.50 541.60V952.60M372.50 541.60V952.60M430.50 541.60V952.60M488.50 541.60V952.60M547.50 541.60V952.60M605.50 541.60V952.60M663.50 541.60V952.60M721.50 541.60V952.60M779.50 541.60V952.60M837.50 541.60V952.60M895.50 541.60V952.60M953.50 541.60V952.60M1012.50 541.60V952.60M1070.50 541.60V952.60M1128.50 541.60V952.60M1186.50 541.60V952.60M1244.50 541.60V952.60M1302.50 541.60V952.60M1360.50 541.60V952.60M1418.50 541.60V952.60M81.50 850.50H1476.50M81.50 747.50H1476.50M81.50 644.50H1476.50" stroke="#b2b2b2" stroke-width="1" stroke-dasharray="1.33 2.2" fill="none"/>
<path d="M81.50 952.60v6.5M140.50 952.60v6.5M198.50 952.60v6.5M256.50 952.60v6.5M314.50 952.60v6.5M372.50 952.60v6.5M430.50 952.60v6.5M488.50 952.60v6.5M547.50 952.60v6.5M605.50 952.60v6.5M663.50 952.60v6.5M721.50 952.60v6.5M779.50 952.60v6.5M837.50 952.60v6.5M895.50 952.60v6.5M953.50 952.60v6.5M1012.50 952.60v6.5M1070.50 952.60v6.5M1128.50 952.60v6.5M1186.50 952.60v6.5M1244.50 952.60v6.5M1302.50 952.60v6.5M1360.50 952.60v6.5M1418.50 952.60v6.5M1476.50 952.60v6.5M81.50 952.60h6.5M1476.50 952.60h-6.5M81.50 850.50h6.5M1476.50 850.50h-6.5M81.50 747.50h6.5M1476.50 747.50h-6.5M81.50 644.50h6.5M1476.50 644.50h-6.5M81.50 541.60h6.5M1476.50 541.60h-6.5" stroke="#000" stroke-width="1.4" fill="none"/>
<rect x="81.50" y="541.60" width="1395.00" height="411.00" fill="none" stroke="#000" stroke-width="1.5"/>
<text x="81.50" y="978.20" text-anchor="middle" font-size="17.7" font-family="DejaVu Sans Condensed, DejaVu Sans, Liberation Sans, sans-serif" font-stretch="condensed">0</text>
<text x="139.62" y="978.20" text-anchor="middle" font-size="17.7" font-family="DejaVu Sans Condensed, DejaVu Sans, Liberation Sans, sans-serif" font-stretch="condensed">1</text>
<text x="197.75" y="978.20" text-anchor="middle" font-size="17.7" font-family="DejaVu Sans Condensed, DejaVu Sans, Liberation Sans, sans-serif" font-stretch="condensed">2</text>
<text x="255.88" y="978.20" text-anchor="middle" font-size="17.7" font-family="DejaVu Sans Condensed, DejaVu Sans, Liberation Sans, sans-serif" font-stretch="condensed">3</text>
<text x="314.00" y="978.20" text-anchor="middle" font-size="17.7" font-family="DejaVu Sans Condensed, DejaVu Sans, Liberation Sans, sans-serif" font-stretch="condensed">4</text>
<text x="372.12" y="978.20" text-anchor="middle" font-size="17.7" font-family="DejaVu Sans Condensed, DejaVu Sans, Liberation Sans, sans-serif" font-stretch="condensed">5</text>
<text x="430.25" y="978.20" text-anchor="middle" font-size="17.7" font-family="DejaVu Sans Condensed, DejaVu Sans, Liberation Sans, sans-serif" font-stretch="condensed">6</text>
<text x="488.38" y="978.20" text-anchor="middle" font-size="17.7" font-family="DejaVu Sans Condensed, DejaVu Sans, Liberation Sans, sans-serif" font-stretch="condensed">7</text>
<text x="546.50" y="978.20" text-anchor="middle" font-size="17.7" font-family="DejaVu Sans Condensed, DejaVu Sans, Liberation Sans, sans-serif" font-stretch="condensed">8</text>
<text x="604.62" y="978.20" text-anchor="middle" font-size="17.7" font-family="DejaVu Sans Condensed, DejaVu Sans, Liberation Sans, sans-serif" font-stretch="condensed">9</text>
<text x="662.75" y="978.20" text-anchor="middle" font-size="17.7" font-family="DejaVu Sans Condensed, DejaVu Sans, Liberation Sans, sans-serif" font-stretch="condensed">10</text>
<text x="720.88" y="978.20" text-anchor="middle" font-size="17.7" font-family="DejaVu Sans Condensed, DejaVu Sans, Liberation Sans, sans-serif" font-stretch="condensed">11</text>
<text x="779.00" y="978.20" text-anchor="middle" font-size="17.7" font-family="DejaVu Sans Condensed, DejaVu Sans, Liberation Sans, sans-serif" font-stretch="condensed">12</text>
<text x="837.12" y="978.20" text-anchor="middle" font-size="17.7" font-family="DejaVu Sans Condensed, DejaVu Sans, Liberation Sans, sans-serif" font-stretch="condensed">13</text>
<text x="895.25" y="978.20" text-anchor="middle" font-size="17.7" font-family="DejaVu Sans Condensed, DejaVu Sans, Liberation Sans, sans-serif" font-stretch="condensed">14</text>
<text x="953.38" y="978.20" text-anchor="middle" font-size="17.7" font-family="DejaVu Sans Condensed, DejaVu Sans, Liberation Sans, sans-serif" font-stretch="condensed">15</text>
<text x="1011.50" y="978.20" text-anchor="middle" font-size="17.7" font-family="DejaVu Sans Condensed, DejaVu Sans, Liberation Sans, sans-serif" font-stretch="condensed">16</text>
<text x="1069.62" y="978.20" text-anchor="middle" font-size="17.7" font-family="DejaVu Sans Condensed, DejaVu Sans, Liberation Sans, sans-serif" font-stretch="condensed">17</text>
<text x="1127.75" y="978.20" text-anchor="middle" font-size="17.7" font-family="DejaVu Sans Condensed, DejaVu Sans, Liberation Sans, sans-serif" font-stretch="condensed">18</text>
<text x="1185.88" y="978.20" text-anchor="middle" font-size="17.7" font-family="DejaVu Sans Condensed, DejaVu Sans, Liberation Sans, sans-serif" font-stretch="condensed">19</text>
<text x="1244.00" y="978.20" text-anchor="middle" font-size="17.7" font-family="DejaVu Sans Condensed, DejaVu Sans, Liberation Sans, sans-serif" font-stretch="condensed">20</text>
<text x="1302.12" y="978.20" text-anchor="middle" font-size="17.7" font-family="DejaVu Sans Condensed, DejaVu Sans, Liberation Sans, sans-serif" font-stretch="condensed">21</text>
<text x="1360.25" y="978.20" text-anchor="middle" font-size="17.7" font-family="DejaVu Sans Condensed, DejaVu Sans, Liberation Sans, sans-serif" font-stretch="condensed">22</text>
<text x="1418.38" y="978.20" text-anchor="middle" font-size="17.7" font-family="DejaVu Sans Condensed, DejaVu Sans, Liberation Sans, sans-serif" font-stretch="condensed">23</text>
<text x="1476.50" y="978.20" text-anchor="middle" font-size="17.7" font-family="DejaVu Sans Condensed, DejaVu Sans, Liberation Sans, sans-serif" font-stretch="condensed">24</text>
<text x="74.50" y="960.50" text-anchor="end" font-size="17.7" font-family="DejaVu Sans Condensed, DejaVu Sans, Liberation Sans, sans-serif" font-stretch="condensed">0</text>
<text x="74.50" y="857.75" text-anchor="end" font-size="17.7" font-family="DejaVu Sans Condensed, DejaVu Sans, Liberation Sans, sans-serif" font-stretch="condensed">0.25</text>
<text x="74.50" y="755.00" text-anchor="end" font-size="17.7" font-family="DejaVu Sans Condensed, DejaVu Sans, Liberation Sans, sans-serif" font-stretch="condensed">0.5</text>
<text x="74.50" y="652.25" text-anchor="end" font-size="17.7" font-family="DejaVu Sans Condensed, DejaVu Sans, Liberation Sans, sans-serif" font-stretch="condensed">0.75</text>
<text x="74.50" y="549.50" text-anchor="end" font-size="17.7" font-family="DejaVu Sans Condensed, DejaVu Sans, Liberation Sans, sans-serif" font-stretch="condensed">1</text>
<text x="779.00" y="532.10" text-anchor="middle" font-size="21.67" font-weight="bold" fill="#404040" font-family="DejaVu Sans, Liberation Sans, sans-serif">Attenuated backscattering coefficient (SNR-screened)</text>
<text transform="translate(27.5 747.10) rotate(-90)" text-anchor="middle" font-size="21.67" font-family="DejaVu Sans, Liberation Sans, sans-serif">Altitude (km)</text>
<text x="779.00" y="1004.60" text-anchor="middle" font-size="21.67" font-family="DejaVu Sans, Liberation Sans, sans-serif">Time (UTC)</text>
<rect x="1530.50" y="709.10" width="22.00" height="8.90" fill="#e8e8ff" shape-rendering="crispEdges"/>
<rect x="1530.50" y="700.69" width="22.00" height="8.90" fill="#b4b4ff" shape-rendering="crispEdges"/>
<rect x="1530.50" y="692.29" width="22.00" height="8.90" fill="#8080ff" shape-rendering="crispEdges"/>
<rect x="1530.50" y="683.88" width="22.00" height="8.90" fill="#5050ff" shape-rendering="crispEdges"/>
<rect x="1530.50" y="675.48" width="22.00" height="8.90" fill="#1a1aff" shape-rendering="crispEdges"/>
<rect x="1530.50" y="667.08" width="22.00" height="8.90" fill="#0000f6" shape-rendering="crispEdges"/>
<rect x="1530.50" y="658.67" width="22.00" height="8.90" fill="#0000ff" shape-rendering="crispEdges"/>
<rect x="1530.50" y="650.27" width="22.00" height="8.90" fill="#0012ff" shape-rendering="crispEdges"/>
<rect x="1530.50" y="641.86" width="22.00" height="8.90" fill="#0027ff" shape-rendering="crispEdges"/>
<rect x="1530.50" y="633.46" width="22.00" height="8.90" fill="#003cff" shape-rendering="crispEdges"/>
<rect x="1530.50" y="625.06" width="22.00" height="8.90" fill="#0051ff" shape-rendering="crispEdges"/>
<rect x="1530.50" y="616.65" width="22.00" height="8.90" fill="#0065ff" shape-rendering="crispEdges"/>
<rect x="1530.50" y="608.25" width="22.00" height="8.90" fill="#007aff" shape-rendering="crispEdges"/>
<rect x="1530.50" y="599.84" width="22.00" height="8.90" fill="#008fff" shape-rendering="crispEdges"/>
<rect x="1530.50" y="591.44" width="22.00" height="8.90" fill="#00a4ff" shape-rendering="crispEdges"/>
<rect x="1530.50" y="583.04" width="22.00" height="8.90" fill="#00b9ff" shape-rendering="crispEdges"/>
<rect x="1530.50" y="574.63" width="22.00" height="8.90" fill="#00ceff" shape-rendering="crispEdges"/>
<rect x="1530.50" y="566.23" width="22.00" height="8.90" fill="#00e2f9" shape-rendering="crispEdges"/>
<rect x="1530.50" y="557.82" width="22.00" height="8.90" fill="#0ef7e9" shape-rendering="crispEdges"/>
<rect x="1530.50" y="549.42" width="22.00" height="8.90" fill="#1fffd8" shape-rendering="crispEdges"/>
<rect x="1530.50" y="541.02" width="22.00" height="8.90" fill="#30ffc7" shape-rendering="crispEdges"/>
<rect x="1530.50" y="532.61" width="22.00" height="8.90" fill="#41ffb6" shape-rendering="crispEdges"/>
<rect x="1530.50" y="524.21" width="22.00" height="8.90" fill="#51ffa5" shape-rendering="crispEdges"/>
<rect x="1530.50" y="515.80" width="22.00" height="8.90" fill="#62ff95" shape-rendering="crispEdges"/>
<rect x="1530.50" y="507.40" width="22.00" height="8.90" fill="#73ff84" shape-rendering="crispEdges"/>
<rect x="1530.50" y="499.00" width="22.00" height="8.90" fill="#84ff73" shape-rendering="crispEdges"/>
<rect x="1530.50" y="490.59" width="22.00" height="8.90" fill="#95ff62" shape-rendering="crispEdges"/>
<rect x="1530.50" y="482.19" width="22.00" height="8.90" fill="#a5ff51" shape-rendering="crispEdges"/>
<rect x="1530.50" y="473.78" width="22.00" height="8.90" fill="#b6ff41" shape-rendering="crispEdges"/>
<rect x="1530.50" y="465.38" width="22.00" height="8.90" fill="#c7ff30" shape-rendering="crispEdges"/>
<rect x="1530.50" y="456.98" width="22.00" height="8.90" fill="#d8ff1f" shape-rendering="crispEdges"/>
<rect x="1530.50" y="448.57" width="22.00" height="8.90" fill="#e9ff0e" shape-rendering="crispEdges"/>
<rect x="1530.50" y="440.17" width="22.00" height="8.90" fill="#f9f300" shape-rendering="crispEdges"/>
<rect x="1530.50" y="431.76" width="22.00" height="8.90" fill="#ffdf00" shape-rendering="crispEdges"/>
<rect x="1530.50" y="423.36" width="22.00" height="8.90" fill="#ffcc00" shape-rendering="crispEdges"/>
<rect x="1530.50" y="414.96" width="22.00" height="8.90" fill="#ffb900" shape-rendering="crispEdges"/>
<rect x="1530.50" y="406.55" width="22.00" height="8.90" fill="#ffa600" shape-rendering="crispEdges"/>
<rect x="1530.50" y="398.15" width="22.00" height="8.90" fill="#ff9200" shape-rendering="crispEdges"/>
<rect x="1530.50" y="389.74" width="22.00" height="8.90" fill="#ff7f00" shape-rendering="crispEdges"/>
<rect x="1530.50" y="381.34" width="22.00" height="8.90" fill="#ff6c00" shape-rendering="crispEdges"/>
<rect x="1530.50" y="372.94" width="22.00" height="8.90" fill="#ff5800" shape-rendering="crispEdges"/>
<rect x="1530.50" y="364.53" width="22.00" height="8.90" fill="#ff4500" shape-rendering="crispEdges"/>
<rect x="1530.50" y="356.13" width="22.00" height="8.90" fill="#ff3200" shape-rendering="crispEdges"/>
<rect x="1530.50" y="347.72" width="22.00" height="8.90" fill="#ff1f00" shape-rendering="crispEdges"/>
<rect x="1530.50" y="339.32" width="22.00" height="8.90" fill="#f60b00" shape-rendering="crispEdges"/>
<rect x="1530.50" y="330.92" width="22.00" height="8.90" fill="#de0000" shape-rendering="crispEdges"/>
<rect x="1530.50" y="322.51" width="22.00" height="8.90" fill="#c60000" shape-rendering="crispEdges"/>
<rect x="1530.50" y="314.11" width="22.00" height="8.90" fill="#af0000" shape-rendering="crispEdges"/>
<rect x="1530.50" y="305.70" width="22.00" height="8.90" fill="#970000" shape-rendering="crispEdges"/>
<rect x="1530.50" y="297.30" width="22.00" height="8.90" fill="#800000" shape-rendering="crispEdges"/>
<rect x="1530.50" y="297.30" width="22.00" height="420.20" fill="none" stroke="#000" stroke-width="1.5"/>
<text x="1557.5" y="305.30" font-size="21.67" font-family="DejaVu Sans, Liberation Sans, sans-serif">1e-4</text>
<text x="1557.5" y="725.50" font-size="21.67" font-family="DejaVu Sans, Liberation Sans, sans-serif">1e-7</text>
<text transform="translate(1609 507.40) rotate(-90)" text-anchor="middle" font-size="21.67" font-family="DejaVu Sans, Liberation Sans, sans-serif">1/m/sr</text>
</svg>
</body></html>
